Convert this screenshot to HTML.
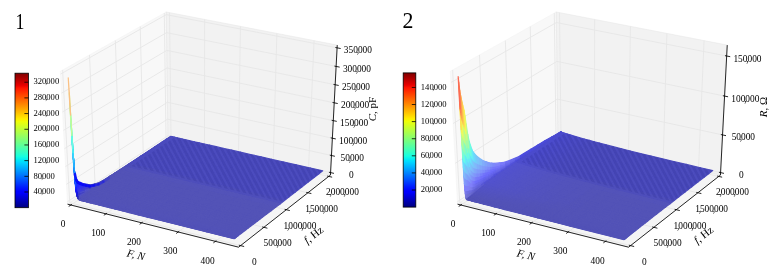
<!DOCTYPE html>
<html><head><meta charset="utf-8"><style>
html,body{margin:0;padding:0;background:#fff;}
svg{display:block;font-family:"Liberation Serif",serif;will-change:transform;}
</style></head><body>
<svg width="777" height="278" viewBox="0 0 777 278">
<defs><linearGradient id="jet" x1="0" y1="0" x2="0" y2="1"><stop offset="0" stop-color="#800000"/><stop offset="0.05" stop-color="#b90000"/><stop offset="0.09" stop-color="#e80000"/><stop offset="0.1" stop-color="#f30900"/><stop offset="0.11" stop-color="#ff1300"/><stop offset="0.15" stop-color="#ff3900"/><stop offset="0.2" stop-color="#ff6800"/><stop offset="0.25" stop-color="#ff9700"/><stop offset="0.3" stop-color="#ffc600"/><stop offset="0.34" stop-color="#ffec00"/><stop offset="0.35" stop-color="#f7f600"/><stop offset="0.36" stop-color="#efff08"/><stop offset="0.4" stop-color="#ceff29"/><stop offset="0.45" stop-color="#a5ff52"/><stop offset="0.5" stop-color="#7bff7b"/><stop offset="0.55" stop-color="#52ffa5"/><stop offset="0.6" stop-color="#29ffce"/><stop offset="0.62" stop-color="#15ffe2"/><stop offset="0.65" stop-color="#00e6f7"/><stop offset="0.65" stop-color="#00e5f7"/><stop offset="0.66" stop-color="#00dbff"/><stop offset="0.7" stop-color="#00b3ff"/><stop offset="0.75" stop-color="#0080ff"/><stop offset="0.8" stop-color="#004dff"/><stop offset="0.85" stop-color="#001aff"/><stop offset="0.88" stop-color="#0000ff"/><stop offset="0.89" stop-color="#0000ff"/><stop offset="0.9" stop-color="#0000f3"/><stop offset="0.95" stop-color="#0000b9"/><stop offset="1" stop-color="#000080"/></linearGradient></defs>
<rect width="777" height="278" fill="#fff"/>
<polygon points="67.59,204.19 167.92,138.16 166.25,11.99 60.33,71.31" fill="#f2f2f2" fill-opacity="0.5" stroke="#f2f2f2" stroke-opacity="0.5" stroke-width="1"/>
<polygon points="167.92,138.16 330.44,175.07 337.24,45.1 166.25,11.99" fill="#e6e6e6" fill-opacity="0.5" stroke="#e6e6e6" stroke-opacity="0.5" stroke-width="1"/>
<polygon points="67.59,204.19 238.59,247.18 330.44,175.07 167.92,138.16" fill="#ececec" fill-opacity="0.5" stroke="#ececec" stroke-opacity="0.5" stroke-width="1"/>
<path d="M70.86,205.01 L171.04,138.87 L169.53,12.62 M105.96,213.83 L204.48,146.46 L204.65,19.42 M141.73,222.83 L238.52,154.19 L240.43,26.35 M178.2,231.99 L273.17,162.06 L276.9,33.41 M215.39,241.35 L308.46,170.08 L314.07,40.61 M62.62,70.03 L69.75,202.77 L240.57,245.62 M89.5,54.98 L95.14,186.06 L263.87,227.33 M115.37,40.49 L119.63,169.94 L286.3,209.72 M140.28,26.54 L143.25,154.4 L307.91,192.76 M164.29,13.09 L166.06,139.39 L328.74,176.41 M330.57,172.6 L167.89,135.75 L67.46,201.66 M331.47,155.51 L167.67,119.14 L66.5,184.22 M332.37,138.19 L167.45,102.3 L65.53,166.53 M333.29,120.63 L167.22,85.24 L64.55,148.58 M334.23,102.81 L166.99,67.95 L63.56,130.37 M335.17,84.75 L166.76,50.42 L62.55,111.89 M336.13,66.42 L166.53,32.65 L61.52,93.14 M337.1,47.83 L166.29,14.64 L60.48,74.11" fill="none" stroke="#e6e6e6" stroke-width="0.9"/>
<path d="M67.59,204.19 L238.59,247.18 M238.59,247.18 L330.44,175.07 M330.44,175.07 L337.24,45.1 M68.7,206.44 L71.9,204.32 M103.83,215.29 L106.97,213.13 M139.64,224.31 L142.73,222.11 M176.14,233.51 L179.18,231.27 M213.37,242.89 L216.35,240.61 M244.15,246.52 L238.86,245.19 M267.41,228.19 L262.18,226.92 M289.79,210.55 L284.63,209.32 M311.35,193.56 L306.26,192.38 M332.14,177.18 L327.11,176.04 M333.97,173.37 L328.95,172.23 M334.89,156.27 L329.83,155.15 M335.82,138.94 L330.72,137.83 M336.76,121.37 L331.63,120.27 M337.72,103.54 L332.55,102.46 M338.69,85.46 L333.48,84.4 M339.68,67.13 L334.43,66.08 M340.68,48.53 L335.39,47.5" fill="none" stroke="#000" stroke-width="0.85"/>
<text x="63.06" y="227.21" font-size="9.4" text-anchor="middle">0</text>
<text x="98.16" y="236.03" font-size="9.4" text-anchor="middle">100</text>
<text x="133.93" y="245.03" font-size="9.4" text-anchor="middle">200</text>
<text x="170.4" y="254.19" font-size="9.4" text-anchor="middle">300</text>
<text x="207.59" y="263.55" font-size="9.4" text-anchor="middle">400</text>
<text x="254.27" y="264.62" font-size="9.4" text-anchor="middle">0</text>
<text x="277.57" y="246.33" font-size="9.4" text-anchor="middle">500<tspan dx="-1.18">,</tspan><tspan dx="-1.18">000</tspan></text>
<text x="300" y="228.72" font-size="9.4" text-anchor="middle">1<tspan dx="-1.18">,</tspan><tspan dx="-1.18">000</tspan><tspan dx="-1.18">,</tspan><tspan dx="-1.18">000</tspan></text>
<text x="321.61" y="211.76" font-size="9.4" text-anchor="middle">1<tspan dx="-1.18">,</tspan><tspan dx="-1.18">500</tspan><tspan dx="-1.18">,</tspan><tspan dx="-1.18">000</tspan></text>
<text x="342.44" y="195.41" font-size="9.4" text-anchor="middle">2<tspan dx="-1.18">,</tspan><tspan dx="-1.18">000</tspan><tspan dx="-1.18">,</tspan><tspan dx="-1.18">000</tspan></text>
<text x="351.37" y="178.1" font-size="9.4" text-anchor="middle">0</text>
<text x="352.27" y="161.01" font-size="9.4" text-anchor="middle">50<tspan dx="-1.18">,</tspan><tspan dx="-1.18">000</tspan></text>
<text x="353.17" y="143.69" font-size="9.4" text-anchor="middle">100<tspan dx="-1.18">,</tspan><tspan dx="-1.18">000</tspan></text>
<text x="354.09" y="126.13" font-size="9.4" text-anchor="middle">150<tspan dx="-1.18">,</tspan><tspan dx="-1.18">000</tspan></text>
<text x="355.03" y="108.31" font-size="9.4" text-anchor="middle">200<tspan dx="-1.18">,</tspan><tspan dx="-1.18">000</tspan></text>
<text x="355.97" y="90.25" font-size="9.4" text-anchor="middle">250<tspan dx="-1.18">,</tspan><tspan dx="-1.18">000</tspan></text>
<text x="356.93" y="71.92" font-size="9.4" text-anchor="middle">300<tspan dx="-1.18">,</tspan><tspan dx="-1.18">000</tspan></text>
<text x="357.9" y="53.33" font-size="9.4" text-anchor="middle">350<tspan dx="-1.18">,</tspan><tspan dx="-1.18">000</tspan></text>
<g stroke-width="1.2" stroke-linejoin="round">
<polygon points="166.29,139.37 166.46,139.41 170.95,136.45 170.79,136.41" fill="#4c4cbe" stroke="#4c4cbe"/>
<polygon points="166.46,139.41 166.63,139.44 171.12,136.49 170.95,136.45" fill="#4c4cbe" stroke="#4c4cbe"/>
<polygon points="166.63,139.44 166.79,139.48 171.29,136.52 171.12,136.49" fill="#4c4cbe" stroke="#4c4cbe"/>
<polygon points="166.79,139.48 166.96,139.52 171.45,136.56 171.29,136.52" fill="#4c4cbe" stroke="#4c4cbe"/>
<polygon points="166.96,139.52 167.13,139.56 171.62,136.6 171.45,136.56" fill="#4c4cbe" stroke="#4c4cbe"/>
<polygon points="167.13,139.56 167.29,139.6 171.79,136.64 171.62,136.6" fill="#4c4cbe" stroke="#4c4cbe"/>
<polygon points="167.29,139.6 167.63,139.67 172.12,136.71 171.79,136.64" fill="#4c4cbe" stroke="#4c4cbe"/>
<polygon points="167.63,139.67 167.96,139.75 172.45,136.79 172.12,136.71" fill="#4c4cbe" stroke="#4c4cbe"/>
<polygon points="167.96,139.75 168.29,139.82 172.79,136.86 172.45,136.79" fill="#4c4cbe" stroke="#4c4cbe"/>
<polygon points="168.29,139.82 168.8,139.94 173.28,136.98 172.79,136.86" fill="#4c4cbe" stroke="#4c4cbe"/>
<polygon points="168.8,139.94 169.63,140.13 174.12,137.16 173.28,136.98" fill="#4c4cbe" stroke="#4c4cbe"/>
<polygon points="169.63,140.13 170.46,140.32 174.95,137.35 174.12,137.16" fill="#4c4cbe" stroke="#4c4cbe"/>
<polygon points="170.46,140.32 171.3,140.51 175.78,137.54 174.95,137.35" fill="#4c4cbe" stroke="#4c4cbe"/>
<polygon points="171.3,140.51 172.97,140.89 177.45,137.92 175.78,137.54" fill="#4c4cbe" stroke="#4c4cbe"/>
<polygon points="172.97,140.89 174.65,141.27 179.12,138.3 177.45,137.92" fill="#4c4cbe" stroke="#4c4cbe"/>
<polygon points="174.65,141.27 176.32,141.65 180.79,138.68 179.12,138.3" fill="#4c4cbe" stroke="#4c4cbe"/>
<polygon points="176.32,141.65 178,142.03 182.46,139.05 180.79,138.68" fill="#4c4cbe" stroke="#4c4cbe"/>
<polygon points="161.77,142.35 161.93,142.39 166.46,139.41 166.29,139.37" fill="#4c4cbe" stroke="#4c4cbe"/>
<polygon points="161.93,142.39 162.1,142.42 166.63,139.44 166.46,139.41" fill="#4c4cbe" stroke="#4c4cbe"/>
<polygon points="162.1,142.42 162.27,142.46 166.79,139.48 166.63,139.44" fill="#4c4cbe" stroke="#4c4cbe"/>
<polygon points="162.27,142.46 162.44,142.5 166.96,139.52 166.79,139.48" fill="#4c4cbe" stroke="#4c4cbe"/>
<polygon points="162.44,142.5 162.6,142.54 167.13,139.56 166.96,139.52" fill="#4c4cbe" stroke="#4c4cbe"/>
<polygon points="178,142.03 181.35,142.8 185.81,139.81 182.46,139.05" fill="#4c4cbe" stroke="#4c4cbe"/>
<polygon points="162.6,142.54 162.77,142.58 167.29,139.6 167.13,139.56" fill="#4c4cbe" stroke="#4c4cbe"/>
<polygon points="162.77,142.58 163.1,142.65 167.63,139.67 167.29,139.6" fill="#4c4cbe" stroke="#4c4cbe"/>
<polygon points="163.1,142.65 163.44,142.73 167.96,139.75 167.63,139.67" fill="#4c4cbe" stroke="#4c4cbe"/>
<polygon points="163.44,142.73 163.77,142.81 168.29,139.82 167.96,139.75" fill="#4c4cbe" stroke="#4c4cbe"/>
<polygon points="163.77,142.81 164.27,142.92 168.8,139.94 168.29,139.82" fill="#4c4cbe" stroke="#4c4cbe"/>
<polygon points="164.27,142.92 165.11,143.11 169.63,140.13 168.8,139.94" fill="#4c4cbe" stroke="#4c4cbe"/>
<polygon points="165.11,143.11 165.95,143.3 170.46,140.32 169.63,140.13" fill="#4c4cbe" stroke="#4c4cbe"/>
<polygon points="181.35,142.8 184.72,143.56 189.17,140.57 185.81,139.81" fill="#4c4cbe" stroke="#4c4cbe"/>
<polygon points="165.95,143.3 166.79,143.5 171.3,140.51 170.46,140.32" fill="#4c4cbe" stroke="#4c4cbe"/>
<polygon points="166.79,143.5 168.46,143.88 172.97,140.89 171.3,140.51" fill="#4c4cbe" stroke="#4c4cbe"/>
<polygon points="168.46,143.88 170.14,144.26 174.65,141.27 172.97,140.89" fill="#4c4cbe" stroke="#4c4cbe"/>
<polygon points="184.72,143.56 189.77,144.71 194.21,141.72 189.17,140.57" fill="#4c4cbe" stroke="#4c4cbe"/>
<polygon points="170.14,144.26 171.82,144.65 176.32,141.65 174.65,141.27" fill="#4c4cbe" stroke="#4c4cbe"/>
<polygon points="171.82,144.65 173.5,145.03 178,142.03 176.32,141.65" fill="#4c4cbe" stroke="#4c4cbe"/>
<polygon points="189.77,144.71 194.84,145.86 199.27,142.86 194.21,141.72" fill="#4c4cbe" stroke="#4c4cbe"/>
<polygon points="173.5,145.03 176.86,145.8 181.35,142.8 178,142.03" fill="#4c4cbe" stroke="#4c4cbe"/>
<polygon points="154.92,146.86 155.09,146.89 161.93,142.39 161.77,142.35" fill="#4c4cbe" stroke="#4c4cbe"/>
<polygon points="155.09,146.89 155.25,146.93 162.1,142.42 161.93,142.39" fill="#4c4cbe" stroke="#4c4cbe"/>
<polygon points="155.25,146.93 155.42,146.97 162.27,142.46 162.1,142.42" fill="#4c4cbe" stroke="#4c4cbe"/>
<polygon points="155.42,146.97 155.59,147.01 162.44,142.5 162.27,142.46" fill="#4c4cbe" stroke="#4c4cbe"/>
<polygon points="155.59,147.01 155.76,147.05 162.6,142.54 162.44,142.5" fill="#4c4cbe" stroke="#4c4cbe"/>
<polygon points="155.76,147.05 155.92,147.09 162.77,142.58 162.6,142.54" fill="#4c4cbe" stroke="#4c4cbe"/>
<polygon points="176.86,145.8 180.23,146.57 184.72,143.56 181.35,142.8" fill="#4c4cbe" stroke="#4c4cbe"/>
<polygon points="155.92,147.09 156.26,147.16 163.1,142.65 162.77,142.58" fill="#4c4cbe" stroke="#4c4cbe"/>
<polygon points="156.26,147.16 156.6,147.24 163.44,142.73 163.1,142.65" fill="#4c4cbe" stroke="#4c4cbe"/>
<polygon points="156.6,147.24 156.93,147.32 163.77,142.81 163.44,142.73" fill="#4c4cbe" stroke="#4c4cbe"/>
<polygon points="156.93,147.32 157.43,147.44 164.27,142.92 163.77,142.81" fill="#4c4cbe" stroke="#4c4cbe"/>
<polygon points="194.84,145.86 199.92,147.02 204.34,144.01 199.27,142.86" fill="#4c4cbe" stroke="#4c4cbe"/>
<polygon points="157.43,147.44 158.27,147.63 165.11,143.11 164.27,142.92" fill="#4c4cbe" stroke="#4c4cbe"/>
<polygon points="158.27,147.63 159.11,147.82 165.95,143.3 165.11,143.11" fill="#4c4cbe" stroke="#4c4cbe"/>
<polygon points="159.11,147.82 159.95,148.02 166.79,143.5 165.95,143.3" fill="#4c4cbe" stroke="#4c4cbe"/>
<polygon points="180.23,146.57 185.3,147.73 189.77,144.71 184.72,143.56" fill="#4c4cbe" stroke="#4c4cbe"/>
<polygon points="159.95,148.02 161.64,148.4 168.46,143.88 166.79,143.5" fill="#4c4cbe" stroke="#4c4cbe"/>
<polygon points="199.92,147.02 205.02,148.18 209.43,145.16 204.34,144.01" fill="#4c4cbe" stroke="#4c4cbe"/>
<polygon points="161.64,148.4 163.32,148.79 170.14,144.26 168.46,143.88" fill="#4c4cbe" stroke="#4c4cbe"/>
<polygon points="163.32,148.79 165,149.18 171.82,144.65 170.14,144.26" fill="#4c4cbe" stroke="#4c4cbe"/>
<polygon points="185.3,147.73 190.38,148.89 194.84,145.86 189.77,144.71" fill="#4c4cbe" stroke="#4c4cbe"/>
<polygon points="165,149.18 166.69,149.57 173.5,145.03 171.82,144.65" fill="#4c4cbe" stroke="#4c4cbe"/>
<polygon points="205.02,148.18 211.84,149.73 216.23,146.7 209.43,145.16" fill="#4c4cbe" stroke="#4c4cbe"/>
<polygon points="166.69,149.57 170.06,150.34 176.86,145.8 173.5,145.03" fill="#4c4cbe" stroke="#4c4cbe"/>
<polygon points="190.38,148.89 195.48,150.05 199.92,147.02 194.84,145.86" fill="#4c4cbe" stroke="#4c4cbe"/>
<polygon points="170.06,150.34 173.45,151.12 180.23,146.57 176.86,145.8" fill="#4c4cbe" stroke="#4c4cbe"/>
<polygon points="148,151.41 148.17,151.45 155.09,146.89 154.92,146.86" fill="#4c4cbe" stroke="#4c4cbe"/>
<polygon points="148.17,151.45 148.33,151.49 155.25,146.93 155.09,146.89" fill="#4c4cbe" stroke="#4c4cbe"/>
<polygon points="148.33,151.49 148.5,151.53 155.42,146.97 155.25,146.93" fill="#4c4cbe" stroke="#4c4cbe"/>
<polygon points="211.84,149.73 218.68,151.29 223.05,148.25 216.23,146.7" fill="#4c4cbe" stroke="#4c4cbe"/>
<polygon points="148.5,151.53 148.67,151.57 155.59,147.01 155.42,146.97" fill="#4c4cbe" stroke="#4c4cbe"/>
<polygon points="148.67,151.57 148.84,151.61 155.76,147.05 155.59,147.01" fill="#4c4cbe" stroke="#4c4cbe"/>
<polygon points="148.84,151.61 149.01,151.65 155.92,147.09 155.76,147.05" fill="#4c4cbe" stroke="#4c4cbe"/>
<polygon points="149.01,151.65 149.34,151.72 156.26,147.16 155.92,147.09" fill="#4c4cbe" stroke="#4c4cbe"/>
<polygon points="195.48,150.05 200.58,151.22 205.02,148.18 199.92,147.02" fill="#4c4cbe" stroke="#4c4cbe"/>
<polygon points="149.34,151.72 149.68,151.8 156.6,147.24 156.26,147.16" fill="#4c4cbe" stroke="#4c4cbe"/>
<polygon points="149.68,151.8 150.02,151.88 156.93,147.32 156.6,147.24" fill="#4c4cbe" stroke="#4c4cbe"/>
<polygon points="173.45,151.12 178.53,152.29 185.3,147.73 180.23,146.57" fill="#4c4cbe" stroke="#4c4cbe"/>
<polygon points="150.02,151.88 150.52,152 157.43,147.44 156.93,147.32" fill="#4c4cbe" stroke="#4c4cbe"/>
<polygon points="150.52,152 151.36,152.19 158.27,147.63 157.43,147.44" fill="#4c4cbe" stroke="#4c4cbe"/>
<polygon points="151.36,152.19 152.21,152.39 159.11,147.82 158.27,147.63" fill="#4c4cbe" stroke="#4c4cbe"/>
<polygon points="152.21,152.39 153.05,152.58 159.95,148.02 159.11,147.82" fill="#4c4cbe" stroke="#4c4cbe"/>
<polygon points="153.05,152.58 154.74,152.97 161.64,148.4 159.95,148.02" fill="#4c4cbe" stroke="#4c4cbe"/>
<polygon points="200.58,151.22 207.42,152.78 211.84,149.73 205.02,148.18" fill="#4c4cbe" stroke="#4c4cbe"/>
<polygon points="178.53,152.29 183.63,153.47 190.38,148.89 185.3,147.73" fill="#4c4cbe" stroke="#4c4cbe"/>
<polygon points="154.74,152.97 156.43,153.37 163.32,148.79 161.64,148.4" fill="#4c4cbe" stroke="#4c4cbe"/>
<polygon points="218.68,151.29 227.27,153.24 231.62,150.19 223.05,148.25" fill="#4c4cbe" stroke="#4c4cbe"/>
<polygon points="156.43,153.37 158.12,153.76 165,149.18 163.32,148.79" fill="#4c4cbe" stroke="#4c4cbe"/>
<polygon points="158.12,153.76 159.81,154.15 166.69,149.57 165,149.18" fill="#4c4cbe" stroke="#4c4cbe"/>
<polygon points="183.63,153.47 188.74,154.64 195.48,150.05 190.38,148.89" fill="#4c4cbe" stroke="#4c4cbe"/>
<polygon points="207.42,152.78 214.28,154.35 218.68,151.29 211.84,149.73" fill="#4c4cbe" stroke="#4c4cbe"/>
<polygon points="159.81,154.15 163.2,154.94 170.06,150.34 166.69,149.57" fill="#4c4cbe" stroke="#4c4cbe"/>
<polygon points="227.27,153.24 235.89,155.21 240.22,152.14 231.62,150.19" fill="#4c4cbe" stroke="#4c4cbe"/>
<polygon points="163.2,154.94 166.59,155.72 173.45,151.12 170.06,150.34" fill="#4c4cbe" stroke="#4c4cbe"/>
<polygon points="188.74,154.64 193.87,155.82 200.58,151.22 195.48,150.05" fill="#4c4cbe" stroke="#4c4cbe"/>
<polygon points="141,156.02 141.17,156.06 148.17,151.45 148,151.41" fill="#4c4cbe" stroke="#4c4cbe"/>
<polygon points="141.17,156.06 141.34,156.09 148.33,151.49 148.17,151.45" fill="#4c4cbe" stroke="#4c4cbe"/>
<polygon points="141.34,156.09 141.51,156.13 148.5,151.53 148.33,151.49" fill="#4c4cbe" stroke="#4c4cbe"/>
<polygon points="141.51,156.13 141.68,156.17 148.67,151.57 148.5,151.53" fill="#4c4cbe" stroke="#4c4cbe"/>
<polygon points="141.68,156.17 141.85,156.21 148.84,151.61 148.67,151.57" fill="#4c4cbe" stroke="#4c4cbe"/>
<polygon points="141.85,156.21 142.02,156.25 149.01,151.65 148.84,151.61" fill="#4c4cbe" stroke="#4c4cbe"/>
<polygon points="142.02,156.25 142.35,156.33 149.34,151.72 149.01,151.65" fill="#4c4cbe" stroke="#4c4cbe"/>
<polygon points="142.35,156.33 142.69,156.41 149.68,151.8 149.34,151.72" fill="#4c4cbe" stroke="#4c4cbe"/>
<polygon points="214.28,154.35 222.88,156.32 227.27,153.24 218.68,151.29" fill="#4c4cbe" stroke="#4c4cbe"/>
<polygon points="142.69,156.41 143.03,156.49 150.02,151.88 149.68,151.8" fill="#4c4cbe" stroke="#4c4cbe"/>
<polygon points="143.03,156.49 143.54,156.61 150.52,152 150.02,151.88" fill="#4c4cbe" stroke="#4c4cbe"/>
<polygon points="166.59,155.72 171.69,156.91 178.53,152.29 173.45,151.12" fill="#4c4cbe" stroke="#4c4cbe"/>
<polygon points="143.54,156.61 144.38,156.8 151.36,152.19 150.52,152" fill="#4c4cbe" stroke="#4c4cbe"/>
<polygon points="144.38,156.8 145.23,157 152.21,152.39 151.36,152.19" fill="#4c4cbe" stroke="#4c4cbe"/>
<polygon points="193.87,155.82 200.73,157.4 207.42,152.78 200.58,151.22" fill="#4c4cbe" stroke="#4c4cbe"/>
<polygon points="145.23,157 146.07,157.2 153.05,152.58 152.21,152.39" fill="#4c4cbe" stroke="#4c4cbe"/>
<polygon points="235.89,155.21 246.29,157.57 250.6,154.49 240.22,152.14" fill="#4c4cbe" stroke="#4c4cbe"/>
<polygon points="146.07,157.2 147.77,157.6 154.74,152.97 153.05,152.58" fill="#4c4cbe" stroke="#4c4cbe"/>
<polygon points="171.69,156.91 176.81,158.09 183.63,153.47 178.53,152.29" fill="#4c4cbe" stroke="#4c4cbe"/>
<polygon points="147.77,157.6 149.46,157.99 156.43,153.37 154.74,152.97" fill="#4c4cbe" stroke="#4c4cbe"/>
<polygon points="149.46,157.99 151.16,158.39 158.12,153.76 156.43,153.37" fill="#4c4cbe" stroke="#4c4cbe"/>
<polygon points="222.88,156.32 231.53,158.3 235.89,155.21 227.27,153.24" fill="#4c4cbe" stroke="#4c4cbe"/>
<polygon points="200.73,157.4 207.61,158.99 214.28,154.35 207.42,152.78" fill="#4c4cbe" stroke="#4c4cbe"/>
<polygon points="151.16,158.39 152.85,158.78 159.81,154.15 158.12,153.76" fill="#4c4cbe" stroke="#4c4cbe"/>
<polygon points="176.81,158.09 181.94,159.28 188.74,154.64 183.63,153.47" fill="#4c4cbe" stroke="#4c4cbe"/>
<polygon points="152.85,158.78 156.25,159.58 163.2,154.94 159.81,154.15" fill="#4c4cbe" stroke="#4c4cbe"/>
<polygon points="246.29,157.57 256.75,159.95 261.04,156.85 250.6,154.49" fill="#4c4cbe" stroke="#4c4cbe"/>
<polygon points="156.25,159.58 159.66,160.37 166.59,155.72 163.2,154.94" fill="#4c4cbe" stroke="#4c4cbe"/>
<polygon points="181.94,159.28 187.09,160.48 193.87,155.82 188.74,154.64" fill="#4c4cbe" stroke="#4c4cbe"/>
<polygon points="207.61,158.99 216.25,160.98 222.88,156.32 214.28,154.35" fill="#4c4cbe" stroke="#4c4cbe"/>
<polygon points="231.53,158.3 241.96,160.68 246.29,157.57 235.89,155.21" fill="#4c4cbe" stroke="#4c4cbe"/>
<polygon points="133.93,160.67 134.1,160.71 141.17,156.06 141,156.02" fill="#4c4cbe" stroke="#4c4cbe"/>
<polygon points="134.1,160.71 134.27,160.75 141.34,156.09 141.17,156.06" fill="#4c4cbe" stroke="#4c4cbe"/>
<polygon points="134.27,160.75 134.44,160.79 141.51,156.13 141.34,156.09" fill="#4c4cbe" stroke="#4c4cbe"/>
<polygon points="134.44,160.79 134.61,160.83 141.68,156.17 141.51,156.13" fill="#4c4cbe" stroke="#4c4cbe"/>
<polygon points="134.61,160.83 134.78,160.87 141.85,156.21 141.68,156.17" fill="#4c4cbe" stroke="#4c4cbe"/>
<polygon points="134.78,160.87 134.95,160.91 142.02,156.25 141.85,156.21" fill="#4c4cbe" stroke="#4c4cbe"/>
<polygon points="134.95,160.91 135.29,160.99 142.35,156.33 142.02,156.25" fill="#4c4cbe" stroke="#4c4cbe"/>
<polygon points="135.29,160.99 135.63,161.07 142.69,156.41 142.35,156.33" fill="#4c4cbe" stroke="#4c4cbe"/>
<polygon points="135.63,161.07 135.97,161.15 143.03,156.49 142.69,156.41" fill="#4c4cbe" stroke="#4c4cbe"/>
<polygon points="135.97,161.15 136.47,161.27 143.54,156.61 143.03,156.49" fill="#4c4cbe" stroke="#4c4cbe"/>
<polygon points="159.66,160.37 164.78,161.57 171.69,156.91 166.59,155.72" fill="#4c4cbe" stroke="#4c4cbe"/>
<polygon points="136.47,161.27 137.32,161.47 144.38,156.8 143.54,156.61" fill="#4c4cbe" stroke="#4c4cbe"/>
<polygon points="137.32,161.47 138.17,161.67 145.23,157 144.38,156.8" fill="#4c4cbe" stroke="#4c4cbe"/>
<polygon points="187.09,160.48 193.97,162.07 200.73,157.4 193.87,155.82" fill="#4c4cbe" stroke="#4c4cbe"/>
<polygon points="138.17,161.67 139.02,161.87 146.07,157.2 145.23,157" fill="#4c4cbe" stroke="#4c4cbe"/>
<polygon points="256.75,159.95 267.27,162.35 271.53,159.23 261.04,156.85" fill="#4c4cbe" stroke="#4c4cbe"/>
<polygon points="139.02,161.87 140.72,162.27 147.77,157.6 146.07,157.2" fill="#4c4cbe" stroke="#4c4cbe"/>
<polygon points="216.25,160.98 224.93,162.97 231.53,158.3 222.88,156.32" fill="#4c4cbe" stroke="#4c4cbe"/>
<polygon points="164.78,161.57 169.92,162.77 176.81,158.09 171.69,156.91" fill="#4c4cbe" stroke="#4c4cbe"/>
<polygon points="140.72,162.27 142.42,162.67 149.46,157.99 147.77,157.6" fill="#4c4cbe" stroke="#4c4cbe"/>
<polygon points="241.96,160.68 252.44,163.08 256.75,159.95 246.29,157.57" fill="#4c4cbe" stroke="#4c4cbe"/>
<polygon points="142.42,162.67 144.12,163.07 151.16,158.39 149.46,157.99" fill="#4c4cbe" stroke="#4c4cbe"/>
<polygon points="193.97,162.07 200.87,163.67 207.61,158.99 200.73,157.4" fill="#4c4cbe" stroke="#4c4cbe"/>
<polygon points="144.12,163.07 145.83,163.47 152.85,158.78 151.16,158.39" fill="#4c4cbe" stroke="#4c4cbe"/>
<polygon points="169.92,162.77 175.06,163.97 181.94,159.28 176.81,158.09" fill="#4c4cbe" stroke="#4c4cbe"/>
<polygon points="145.83,163.47 149.24,164.27 156.25,159.58 152.85,158.78" fill="#4c4cbe" stroke="#4c4cbe"/>
<polygon points="267.27,162.35 279.61,165.15 283.84,162.01 271.53,159.23" fill="#4c4cbe" stroke="#4c4cbe"/>
<polygon points="129.18,163.8 129.35,163.84 134.1,160.71 133.93,160.67" fill="#4c4cbe" stroke="#4c4cbe"/>
<polygon points="224.93,162.97 235.39,165.38 241.96,160.68 231.53,158.3" fill="#4c4cbe" stroke="#4c4cbe"/>
<polygon points="129.35,163.84 129.52,163.88 134.27,160.75 134.1,160.71" fill="#4c4cbe" stroke="#4c4cbe"/>
<polygon points="129.52,163.88 129.69,163.92 134.44,160.79 134.27,160.75" fill="#4c4cbe" stroke="#4c4cbe"/>
<polygon points="129.69,163.92 129.86,163.96 134.61,160.83 134.44,160.79" fill="#4c4cbe" stroke="#4c4cbe"/>
<polygon points="129.86,163.96 130.03,164 134.78,160.87 134.61,160.83" fill="#4c4cbe" stroke="#4c4cbe"/>
<polygon points="130.03,164 130.2,164.04 134.95,160.91 134.78,160.87" fill="#4c4cbe" stroke="#4c4cbe"/>
<polygon points="130.2,164.04 130.54,164.12 135.29,160.99 134.95,160.91" fill="#4c4cbe" stroke="#4c4cbe"/>
<polygon points="130.54,164.12 130.88,164.2 135.63,161.07 135.29,160.99" fill="#4c4cbe" stroke="#4c4cbe"/>
<polygon points="149.24,164.27 152.65,165.07 159.66,160.37 156.25,159.58" fill="#4c4cbe" stroke="#4c4cbe"/>
<polygon points="130.88,164.2 131.22,164.28 135.97,161.15 135.63,161.07" fill="#4c4cbe" stroke="#4c4cbe"/>
<polygon points="175.06,163.97 180.23,165.18 187.09,160.48 181.94,159.28" fill="#4c4cbe" stroke="#4c4cbe"/>
<polygon points="131.22,164.28 131.73,164.4 136.47,161.27 135.97,161.15" fill="#4c4cbe" stroke="#4c4cbe"/>
<polygon points="252.44,163.08 262.98,165.49 267.27,162.35 256.75,159.95" fill="#4c4cbe" stroke="#4c4cbe"/>
<polygon points="200.87,163.67 209.54,165.68 216.25,160.98 207.61,158.99" fill="#4c4cbe" stroke="#4c4cbe"/>
<polygon points="131.73,164.4 132.58,164.6 137.32,161.47 136.47,161.27" fill="#4c4cbe" stroke="#4c4cbe"/>
<polygon points="132.58,164.6 133.43,164.8 138.17,161.67 137.32,161.47" fill="#4c4cbe" stroke="#4c4cbe"/>
<polygon points="133.43,164.8 134.28,165 139.02,161.87 138.17,161.67" fill="#4c4cbe" stroke="#4c4cbe"/>
<polygon points="152.65,165.07 157.79,166.28 164.78,161.57 159.66,160.37" fill="#4c4cbe" stroke="#4c4cbe"/>
<polygon points="134.28,165 135.98,165.41 140.72,162.27 139.02,161.87" fill="#4c4cbe" stroke="#4c4cbe"/>
<polygon points="135.98,165.41 137.68,165.81 142.42,162.67 140.72,162.27" fill="#4c4cbe" stroke="#4c4cbe"/>
<polygon points="180.23,165.18 187.13,166.79 193.97,162.07 187.09,160.48" fill="#4c4cbe" stroke="#4c4cbe"/>
<polygon points="137.68,165.81 139.39,166.21 144.12,163.07 142.42,162.67" fill="#4c4cbe" stroke="#4c4cbe"/>
<polygon points="235.39,165.38 245.91,167.81 252.44,163.08 241.96,160.68" fill="#4c4cbe" stroke="#4c4cbe"/>
<polygon points="279.61,165.15 292.03,167.98 296.23,164.82 283.84,162.01" fill="#4c4cbe" stroke="#4c4cbe"/>
<polygon points="209.54,165.68 218.25,167.7 224.93,162.97 216.25,160.98" fill="#4c4cbe" stroke="#4c4cbe"/>
<polygon points="157.79,166.28 162.95,167.49 169.92,162.77 164.78,161.57" fill="#4c4cbe" stroke="#4c4cbe"/>
<polygon points="139.39,166.21 141.1,166.62 145.83,163.47 144.12,163.07" fill="#4c4cbe" stroke="#4c4cbe"/>
<polygon points="262.98,165.49 275.35,168.32 279.61,165.15 267.27,162.35" fill="#4c4cbe" stroke="#4c4cbe"/>
<polygon points="124.39,166.95 124.56,166.99 129.35,163.84 129.18,163.8" fill="#4e4ebb" stroke="#4e4ebb"/>
<polygon points="124.56,166.99 124.73,167.03 129.52,163.88 129.35,163.84" fill="#4e4ebb" stroke="#4e4ebb"/>
<polygon points="124.73,167.03 124.9,167.07 129.69,163.92 129.52,163.88" fill="#4e4ebb" stroke="#4e4ebb"/>
<polygon points="124.9,167.07 125.07,167.11 129.86,163.96 129.69,163.92" fill="#4e4ebb" stroke="#4e4ebb"/>
<polygon points="125.07,167.11 125.24,167.15 130.03,164 129.86,163.96" fill="#4e4ebb" stroke="#4e4ebb"/>
<polygon points="125.24,167.15 125.41,167.19 130.2,164.04 130.03,164" fill="#4e4ebb" stroke="#4e4ebb"/>
<polygon points="125.41,167.19 125.75,167.27 130.54,164.12 130.2,164.04" fill="#4e4ebb" stroke="#4e4ebb"/>
<polygon points="141.1,166.62 144.52,167.43 149.24,164.27 145.83,163.47" fill="#4c4cbe" stroke="#4c4cbe"/>
<polygon points="125.75,167.27 126.09,167.36 130.88,164.2 130.54,164.12" fill="#4e4ebb" stroke="#4e4ebb"/>
<polygon points="126.09,167.36 126.43,167.44 131.22,164.28 130.88,164.2" fill="#4e4ebb" stroke="#4e4ebb"/>
<polygon points="187.13,166.79 194.06,168.41 200.87,163.67 193.97,162.07" fill="#4c4cbe" stroke="#4c4cbe"/>
<polygon points="126.43,167.44 126.94,167.56 131.73,164.4 131.22,164.28" fill="#4e4ebb" stroke="#4e4ebb"/>
<polygon points="126.94,167.56 127.79,167.76 132.58,164.6 131.73,164.4" fill="#4e4ebb" stroke="#4e4ebb"/>
<polygon points="162.95,167.49 168.11,168.71 175.06,163.97 169.92,162.77" fill="#4c4cbe" stroke="#4c4cbe"/>
<polygon points="127.79,167.76 128.65,167.96 133.43,164.8 132.58,164.6" fill="#4e4ebb" stroke="#4e4ebb"/>
<polygon points="128.65,167.96 129.5,168.17 134.28,165 133.43,164.8" fill="#4e4ebb" stroke="#4e4ebb"/>
<polygon points="144.52,167.43 147.94,168.24 152.65,165.07 149.24,164.27" fill="#4c4cbe" stroke="#4c4cbe"/>
<polygon points="129.5,168.17 131.21,168.57 135.98,165.41 134.28,165" fill="#4e4ebb" stroke="#4e4ebb"/>
<polygon points="245.91,167.81 256.49,170.24 262.98,165.49 252.44,163.08" fill="#4c4cbe" stroke="#4c4cbe"/>
<polygon points="218.25,167.7 228.75,170.14 235.39,165.38 224.93,162.97" fill="#4c4cbe" stroke="#4c4cbe"/>
<polygon points="131.21,168.57 132.91,168.98 137.68,165.81 135.98,165.41" fill="#4e4ebb" stroke="#4e4ebb"/>
<polygon points="292.03,167.98 306.33,171.23 310.48,168.05 296.23,164.82" fill="#4c4cbe" stroke="#4c4cbe"/>
<polygon points="168.11,168.71 173.29,169.93 180.23,165.18 175.06,163.97" fill="#4c4cbe" stroke="#4c4cbe"/>
<polygon points="147.94,168.24 153.09,169.45 157.79,166.28 152.65,165.07" fill="#4c4cbe" stroke="#4c4cbe"/>
<polygon points="194.06,168.41 202.76,170.44 209.54,165.68 200.87,163.67" fill="#4c4cbe" stroke="#4c4cbe"/>
<polygon points="132.91,168.98 134.62,169.38 139.39,166.21 137.68,165.81" fill="#4e4ebb" stroke="#4e4ebb"/>
<polygon points="275.35,168.32 287.81,171.16 292.03,167.98 279.61,165.15" fill="#4c4cbe" stroke="#4c4cbe"/>
<polygon points="134.62,169.38 136.34,169.79 141.1,166.62 139.39,166.21" fill="#4e4ebb" stroke="#4e4ebb"/>
<polygon points="119.56,170.04 119.73,170.08 124.56,166.99 124.39,166.95" fill="#5353b9" stroke="#5353b9"/>
<polygon points="119.73,170.08 119.9,170.12 124.73,167.03 124.56,166.99" fill="#5353b9" stroke="#5353b9"/>
<polygon points="119.9,170.12 120.07,170.16 124.9,167.07 124.73,167.03" fill="#5353b9" stroke="#5353b9"/>
<polygon points="120.07,170.16 120.24,170.2 125.07,167.11 124.9,167.07" fill="#5353b9" stroke="#5353b9"/>
<polygon points="120.24,170.2 120.41,170.25 125.24,167.15 125.07,167.11" fill="#5353b9" stroke="#5353b9"/>
<polygon points="120.41,170.25 120.59,170.29 125.41,167.19 125.24,167.15" fill="#5353b9" stroke="#5353b9"/>
<polygon points="120.59,170.29 120.93,170.37 125.75,167.27 125.41,167.19" fill="#5353b9" stroke="#5353b9"/>
<polygon points="136.34,169.79 139.76,170.6 144.52,167.43 141.1,166.62" fill="#4e4ebb" stroke="#4e4ebb"/>
<polygon points="120.93,170.37 121.27,170.45 126.09,167.36 125.75,167.27" fill="#5353b9" stroke="#5353b9"/>
<polygon points="153.09,169.45 158.26,170.67 162.95,167.49 157.79,166.28" fill="#4c4cbe" stroke="#4c4cbe"/>
<polygon points="121.27,170.45 121.61,170.53 126.43,167.44 126.09,167.36" fill="#5353b9" stroke="#5353b9"/>
<polygon points="173.29,169.93 180.23,171.56 187.13,166.79 180.23,165.18" fill="#4c4cbe" stroke="#4c4cbe"/>
<polygon points="121.61,170.53 122.12,170.65 126.94,167.56 126.43,167.44" fill="#5353b9" stroke="#5353b9"/>
<polygon points="122.12,170.65 122.98,170.86 127.79,167.76 126.94,167.56" fill="#5353b9" stroke="#5353b9"/>
<polygon points="256.49,170.24 268.91,173.1 275.35,168.32 262.98,165.49" fill="#4c4cbe" stroke="#4c4cbe"/>
<polygon points="122.98,170.86 123.83,171.06 128.65,167.96 127.79,167.76" fill="#5353b9" stroke="#5353b9"/>
<polygon points="228.75,170.14 239.32,172.59 245.91,167.81 235.39,165.38" fill="#4c4cbe" stroke="#4c4cbe"/>
<polygon points="123.83,171.06 124.68,171.26 129.5,168.17 128.65,167.96" fill="#5353b9" stroke="#5353b9"/>
<polygon points="139.76,170.6 143.2,171.42 147.94,168.24 144.52,167.43" fill="#4e4ebb" stroke="#4e4ebb"/>
<polygon points="202.76,170.44 211.5,172.48 218.25,167.7 209.54,165.68" fill="#4c4cbe" stroke="#4c4cbe"/>
<polygon points="124.68,171.26 126.4,171.67 131.21,168.57 129.5,168.17" fill="#5353b9" stroke="#5353b9"/>
<polygon points="306.33,171.23 318.56,174.02 322.69,170.81 310.48,168.05" fill="#4c4cbe" stroke="#4c4cbe"/>
<polygon points="158.26,170.67 163.44,171.9 168.11,168.71 162.95,167.49" fill="#4c4cbe" stroke="#4c4cbe"/>
<polygon points="126.4,171.67 128.11,172.08 132.91,168.98 131.21,168.57" fill="#5353b9" stroke="#5353b9"/>
<polygon points="180.23,171.56 187.18,173.2 194.06,168.41 187.13,166.79" fill="#4c4cbe" stroke="#4c4cbe"/>
<polygon points="287.81,171.16 302.14,174.44 306.33,171.23 292.03,167.98" fill="#4c4cbe" stroke="#4c4cbe"/>
<polygon points="143.2,171.42 148.36,172.65 153.09,169.45 147.94,168.24" fill="#4e4ebb" stroke="#4e4ebb"/>
<polygon points="128.11,172.08 129.82,172.49 134.62,169.38 132.91,168.98" fill="#5353b9" stroke="#5353b9"/>
<polygon points="129.82,172.49 131.54,172.9 136.34,169.79 134.62,169.38" fill="#5353b9" stroke="#5353b9"/>
<polygon points="163.44,171.9 168.63,173.13 173.29,169.93 168.11,168.71" fill="#4c4cbe" stroke="#4c4cbe"/>
<polygon points="114.7,173.15 114.87,173.2 119.73,170.08 119.56,170.04" fill="#5353b7" stroke="#5353b7"/>
<polygon points="114.87,173.2 115.04,173.24 119.9,170.12 119.73,170.08" fill="#5353b7" stroke="#5353b7"/>
<polygon points="115.04,173.24 115.21,173.28 120.07,170.16 119.9,170.12" fill="#5353b7" stroke="#5353b7"/>
<polygon points="115.21,173.28 115.38,173.32 120.24,170.2 120.07,170.16" fill="#5353b7" stroke="#5353b7"/>
<polygon points="115.38,173.32 115.56,173.36 120.41,170.25 120.24,170.2" fill="#5353b7" stroke="#5353b7"/>
<polygon points="115.56,173.36 115.73,173.4 120.59,170.29 120.41,170.25" fill="#5353b7" stroke="#5353b7"/>
<polygon points="239.32,172.59 249.94,175.05 256.49,170.24 245.91,167.81" fill="#4c4cbe" stroke="#4c4cbe"/>
<polygon points="115.73,173.4 116.07,173.48 120.93,170.37 120.59,170.29" fill="#5353b7" stroke="#5353b7"/>
<polygon points="211.5,172.48 222.05,174.94 228.75,170.14 218.25,167.7" fill="#4c4cbe" stroke="#4c4cbe"/>
<polygon points="131.54,172.9 134.97,173.72 139.76,170.6 136.34,169.79" fill="#5353b9" stroke="#5353b9"/>
<polygon points="116.07,173.48 116.41,173.56 121.27,170.45 120.93,170.37" fill="#5353b7" stroke="#5353b7"/>
<polygon points="148.36,172.65 153.54,173.88 158.26,170.67 153.09,169.45" fill="#4e4ebb" stroke="#4e4ebb"/>
<polygon points="116.41,173.56 116.75,173.65 121.61,170.53 121.27,170.45" fill="#5353b7" stroke="#5353b7"/>
<polygon points="268.91,173.1 281.41,175.98 287.81,171.16 275.35,168.32" fill="#4c4cbe" stroke="#4c4cbe"/>
<polygon points="116.75,173.65 117.27,173.77 122.12,170.65 121.61,170.53" fill="#5353b7" stroke="#5353b7"/>
<polygon points="117.27,173.77 118.12,173.98 122.98,170.86 122.12,170.65" fill="#5353b7" stroke="#5353b7"/>
<polygon points="187.18,173.2 195.91,175.25 202.76,170.44 194.06,168.41" fill="#4c4cbe" stroke="#4c4cbe"/>
<polygon points="118.12,173.98 118.98,174.18 123.83,171.06 122.98,170.86" fill="#5353b7" stroke="#5353b7"/>
<polygon points="118.98,174.18 119.83,174.39 124.68,171.26 123.83,171.06" fill="#5353b7" stroke="#5353b7"/>
<polygon points="134.97,173.72 138.41,174.54 143.2,171.42 139.76,170.6" fill="#5353b9" stroke="#5353b9"/>
<polygon points="168.63,173.13 175.58,174.77 180.23,171.56 173.29,169.93" fill="#4c4cbe" stroke="#4c4cbe"/>
<polygon points="119.83,174.39 121.55,174.8 126.4,171.67 124.68,171.26" fill="#5353b7" stroke="#5353b7"/>
<polygon points="153.54,173.88 158.73,175.11 163.44,171.9 158.26,170.67" fill="#4e4ebb" stroke="#4e4ebb"/>
<polygon points="302.14,174.44 314.4,177.24 318.56,174.02 306.33,171.23" fill="#4c4cbe" stroke="#4c4cbe"/>
<polygon points="121.55,174.8 123.27,175.21 128.11,172.08 126.4,171.67" fill="#5353b7" stroke="#5353b7"/>
<polygon points="138.41,174.54 143.59,175.78 148.36,172.65 143.2,171.42" fill="#5353b9" stroke="#5353b9"/>
<polygon points="123.27,175.21 124.98,175.62 129.82,172.49 128.11,172.08" fill="#5353b7" stroke="#5353b7"/>
<polygon points="249.94,175.05 262.4,177.94 268.91,173.1 256.49,170.24" fill="#4c4cbe" stroke="#4c4cbe"/>
<polygon points="222.05,174.94 232.65,177.42 239.32,172.59 228.75,170.14" fill="#4c4cbe" stroke="#4c4cbe"/>
<polygon points="124.98,175.62 126.7,176.03 131.54,172.9 129.82,172.49" fill="#5353b7" stroke="#5353b7"/>
<polygon points="195.91,175.25 204.68,177.31 211.5,172.48 202.76,170.44" fill="#4c4cbe" stroke="#4c4cbe"/>
<polygon points="175.58,174.77 182.55,176.42 187.18,173.2 180.23,171.56" fill="#4c4cbe" stroke="#4c4cbe"/>
<polygon points="158.73,175.11 163.93,176.35 168.63,173.13 163.44,171.9" fill="#4e4ebb" stroke="#4e4ebb"/>
<polygon points="109.8,176.29 109.97,176.33 114.87,173.2 114.7,173.15" fill="#5353b7" stroke="#5353b7"/>
<polygon points="109.97,176.33 110.15,176.37 115.04,173.24 114.87,173.2" fill="#5353b7" stroke="#5353b7"/>
<polygon points="110.15,176.37 110.32,176.41 115.21,173.28 115.04,173.24" fill="#5353b7" stroke="#5353b7"/>
<polygon points="281.41,175.98 295.8,179.29 302.14,174.44 287.81,171.16" fill="#4c4cbe" stroke="#4c4cbe"/>
<polygon points="110.32,176.41 110.49,176.46 115.38,173.32 115.21,173.28" fill="#5353b7" stroke="#5353b7"/>
<polygon points="110.49,176.46 110.66,176.5 115.56,173.36 115.38,173.32" fill="#5353b7" stroke="#5353b7"/>
<polygon points="110.66,176.5 110.83,176.54 115.73,173.4 115.56,173.36" fill="#5353b7" stroke="#5353b7"/>
<polygon points="110.83,176.54 111.17,176.62 116.07,173.48 115.73,173.4" fill="#5353b7" stroke="#5353b7"/>
<polygon points="111.17,176.62 111.52,176.7 116.41,173.56 116.07,173.48" fill="#5353b7" stroke="#5353b7"/>
<polygon points="126.7,176.03 130.15,176.86 134.97,173.72 131.54,172.9" fill="#5353b7" stroke="#5353b7"/>
<polygon points="111.52,176.7 111.86,176.79 116.75,173.65 116.41,173.56" fill="#5353b7" stroke="#5353b7"/>
<polygon points="143.59,175.78 148.78,177.02 153.54,173.88 148.36,172.65" fill="#5353b9" stroke="#5353b9"/>
<polygon points="111.86,176.79 112.37,176.91 117.27,173.77 116.75,173.65" fill="#5353b7" stroke="#5353b7"/>
<polygon points="112.37,176.91 113.23,177.12 118.12,173.98 117.27,173.77" fill="#5353b7" stroke="#5353b7"/>
<polygon points="113.23,177.12 114.09,177.32 118.98,174.18 118.12,173.98" fill="#5353b7" stroke="#5353b7"/>
<polygon points="114.09,177.32 114.95,177.53 119.83,174.39 118.98,174.18" fill="#5353b7" stroke="#5353b7"/>
<polygon points="130.15,176.86 133.6,177.69 138.41,174.54 134.97,173.72" fill="#5353b7" stroke="#5353b7"/>
<polygon points="163.93,176.35 170.9,178 175.58,174.77 168.63,173.13" fill="#4e4ebb" stroke="#4e4ebb"/>
<polygon points="114.95,177.53 116.67,177.94 121.55,174.8 119.83,174.39" fill="#5353b7" stroke="#5353b7"/>
<polygon points="182.55,176.42 191.3,178.49 195.91,175.25 187.18,173.2" fill="#4c4cbe" stroke="#4c4cbe"/>
<polygon points="148.78,177.02 153.98,178.26 158.73,175.11 153.54,173.88" fill="#5353b9" stroke="#5353b9"/>
<polygon points="232.65,177.42 243.31,179.91 249.94,175.05 239.32,172.59" fill="#4c4cbe" stroke="#4c4cbe"/>
<polygon points="116.67,177.94 118.39,178.36 123.27,175.21 121.55,174.8" fill="#5353b7" stroke="#5353b7"/>
<polygon points="204.68,177.31 215.26,179.8 222.05,174.94 211.5,172.48" fill="#4c4cbe" stroke="#4c4cbe"/>
<polygon points="262.4,177.94 274.95,180.85 281.41,175.98 268.91,173.1" fill="#4c4cbe" stroke="#4c4cbe"/>
<polygon points="133.6,177.69 138.78,178.93 143.59,175.78 138.41,174.54" fill="#5353b7" stroke="#5353b7"/>
<polygon points="118.39,178.36 120.11,178.77 124.98,175.62 123.27,175.21" fill="#5353b7" stroke="#5353b7"/>
<polygon points="295.8,179.29 308.11,182.13 314.4,177.24 302.14,174.44" fill="#4c4cbe" stroke="#4c4cbe"/>
<polygon points="120.11,178.77 121.83,179.19 126.7,176.03 124.98,175.62" fill="#5353b7" stroke="#5353b7"/>
<polygon points="170.9,178 177.89,179.66 182.55,176.42 175.58,174.77" fill="#4e4ebb" stroke="#4e4ebb"/>
<polygon points="153.98,178.26 159.2,179.5 163.93,176.35 158.73,175.11" fill="#5353b9" stroke="#5353b9"/>
<polygon points="104.87,179.45 105.04,179.49 109.97,176.33 109.8,176.29" fill="#5353b7" stroke="#5353b7"/>
<polygon points="105.04,179.49 105.21,179.53 110.15,176.37 109.97,176.33" fill="#5353b7" stroke="#5353b7"/>
<polygon points="105.21,179.53 105.38,179.57 110.32,176.41 110.15,176.37" fill="#5353b7" stroke="#5353b7"/>
<polygon points="105.38,179.57 105.56,179.61 110.49,176.46 110.32,176.41" fill="#5353b7" stroke="#5353b7"/>
<polygon points="105.56,179.61 105.73,179.66 110.66,176.5 110.49,176.46" fill="#5353b7" stroke="#5353b7"/>
<polygon points="105.73,179.66 105.9,179.7 110.83,176.54 110.66,176.5" fill="#5353b7" stroke="#5353b7"/>
<polygon points="105.9,179.7 106.24,179.78 111.17,176.62 110.83,176.54" fill="#5353b7" stroke="#5353b7"/>
<polygon points="106.24,179.78 106.59,179.86 111.52,176.7 111.17,176.62" fill="#5353b7" stroke="#5353b7"/>
<polygon points="121.83,179.19 125.29,180.02 130.15,176.86 126.7,176.03" fill="#5353b7" stroke="#5353b7"/>
<polygon points="106.59,179.86 106.93,179.95 111.86,176.79 111.52,176.7" fill="#5353b7" stroke="#5353b7"/>
<polygon points="138.78,178.93 143.99,180.18 148.78,177.02 143.59,175.78" fill="#5353b7" stroke="#5353b7"/>
<polygon points="106.93,179.95 107.45,180.07 112.37,176.91 111.86,176.79" fill="#5353b7" stroke="#5353b7"/>
<polygon points="191.3,178.49 200.1,180.56 204.68,177.31 195.91,175.25" fill="#4c4cbe" stroke="#4c4cbe"/>
<polygon points="107.45,180.07 108.31,180.28 113.23,177.12 112.37,176.91" fill="#5353b7" stroke="#5353b7"/>
<polygon points="108.31,180.28 109.17,180.49 114.09,177.32 113.23,177.12" fill="#5353b7" stroke="#5353b7"/>
<polygon points="109.17,180.49 110.03,180.7 114.95,177.53 114.09,177.32" fill="#5353b7" stroke="#5353b7"/>
<polygon points="125.29,180.02 128.74,180.86 133.6,177.69 130.15,176.86" fill="#5353b7" stroke="#5353b7"/>
<polygon points="215.26,179.8 225.9,182.31 232.65,177.42 222.05,174.94" fill="#4c4cbe" stroke="#4c4cbe"/>
<polygon points="243.31,179.91 255.82,182.83 262.4,177.94 249.94,175.05" fill="#4c4cbe" stroke="#4c4cbe"/>
<polygon points="159.2,179.5 166.18,181.17 170.9,178 163.93,176.35" fill="#5353b9" stroke="#5353b9"/>
<polygon points="110.03,180.7 111.75,181.12 116.67,177.94 114.95,177.53" fill="#5353b7" stroke="#5353b7"/>
<polygon points="177.89,179.66 186.66,181.74 191.3,178.49 182.55,176.42" fill="#4e4ebb" stroke="#4e4ebb"/>
<polygon points="143.99,180.18 149.2,181.43 153.98,178.26 148.78,177.02" fill="#5353b7" stroke="#5353b7"/>
<polygon points="274.95,180.85 289.39,184.2 295.8,179.29 281.41,175.98" fill="#4c4cbe" stroke="#4c4cbe"/>
<polygon points="111.75,181.12 113.48,181.53 118.39,178.36 116.67,177.94" fill="#5353b7" stroke="#5353b7"/>
<polygon points="102.38,180.89 102.56,180.96 105.04,179.49 104.87,179.45" fill="#5353b7" stroke="#5353b7"/>
<polygon points="128.74,180.86 133.94,182.11 138.78,178.93 133.6,177.69" fill="#5353b7" stroke="#5353b7"/>
<polygon points="102.56,180.96 102.73,181.02 105.21,179.53 105.04,179.49" fill="#5353b7" stroke="#5353b7"/>
<polygon points="113.48,181.53 115.2,181.95 120.11,178.77 118.39,178.36" fill="#5353b7" stroke="#5353b7"/>
<polygon points="102.73,181.02 102.9,181.09 105.38,179.57 105.21,179.53" fill="#5353b7" stroke="#5353b7"/>
<polygon points="102.9,181.09 103.07,181.14 105.56,179.61 105.38,179.57" fill="#5353b7" stroke="#5353b7"/>
<polygon points="103.07,181.14 103.25,181.2 105.73,179.66 105.56,179.61" fill="#5353b7" stroke="#5353b7"/>
<polygon points="103.25,181.2 103.42,181.25 105.9,179.7 105.73,179.66" fill="#5353b7" stroke="#5353b7"/>
<polygon points="103.42,181.25 103.76,181.35 106.24,179.78 105.9,179.7" fill="#5353b7" stroke="#5353b7"/>
<polygon points="103.76,181.35 104.11,181.44 106.59,179.86 106.24,179.78" fill="#5353b7" stroke="#5353b7"/>
<polygon points="104.11,181.44 104.45,181.53 106.93,179.95 106.59,179.86" fill="#5353b7" stroke="#5353b7"/>
<polygon points="115.2,181.95 116.93,182.37 121.83,179.19 120.11,178.77" fill="#5353b7" stroke="#5353b7"/>
<polygon points="104.45,181.53 104.97,181.66 107.45,180.07 106.93,179.95" fill="#5353b7" stroke="#5353b7"/>
<polygon points="200.1,180.56 210.7,183.07 215.26,179.8 204.68,177.31" fill="#4c4cbe" stroke="#4c4cbe"/>
<polygon points="104.97,181.66 105.83,181.87 108.31,180.28 107.45,180.07" fill="#5353b7" stroke="#5353b7"/>
<polygon points="149.2,181.43 154.43,182.68 159.2,179.5 153.98,178.26" fill="#5353b7" stroke="#5353b7"/>
<polygon points="166.18,181.17 173.19,182.84 177.89,179.66 170.9,178" fill="#5353b9" stroke="#5353b9"/>
<polygon points="105.83,181.87 106.69,182.08 109.17,180.49 108.31,180.28" fill="#5353b7" stroke="#5353b7"/>
<polygon points="116.93,182.37 120.39,183.21 125.29,180.02 121.83,179.19" fill="#5353b7" stroke="#5353b7"/>
<polygon points="106.69,182.08 107.55,182.29 110.03,180.7 109.17,180.49" fill="#5353b7" stroke="#5353b7"/>
<polygon points="133.94,182.11 139.16,183.36 143.99,180.18 138.78,178.93" fill="#5353b7" stroke="#5353b7"/>
<polygon points="225.9,182.31 236.6,184.82 243.31,179.91 232.65,177.42" fill="#4c4cbe" stroke="#4c4cbe"/>
<polygon points="186.66,181.74 195.47,183.84 200.1,180.56 191.3,178.49" fill="#4e4ebb" stroke="#4e4ebb"/>
<polygon points="107.55,182.29 109.28,182.71 111.75,181.12 110.03,180.7" fill="#5353b7" stroke="#5353b7"/>
<polygon points="99.89,182.29 100.06,182.4 102.56,180.96 102.38,180.89" fill="#5353b7" stroke="#5353b7"/>
<polygon points="100.06,182.4 100.24,182.5 102.73,181.02 102.56,180.96" fill="#5353b7" stroke="#5353b7"/>
<polygon points="100.24,182.5 100.41,182.58 102.9,181.09 102.73,181.02" fill="#5353b7" stroke="#5353b7"/>
<polygon points="255.82,182.83 268.41,185.77 274.95,180.85 262.4,177.94" fill="#4c4cbe" stroke="#4c4cbe"/>
<polygon points="100.41,182.58 100.58,182.66 103.07,181.14 102.9,181.09" fill="#5353b7" stroke="#5353b7"/>
<polygon points="100.58,182.66 100.76,182.73 103.25,181.2 103.07,181.14" fill="#5353b7" stroke="#5353b7"/>
<polygon points="100.76,182.73 100.93,182.79 103.42,181.25 103.25,181.2" fill="#5353b7" stroke="#5353b7"/>
<polygon points="100.93,182.79 101.28,182.91 103.76,181.35 103.42,181.25" fill="#5353b7" stroke="#5353b7"/>
<polygon points="101.28,182.91 101.62,183.01 104.11,181.44 103.76,181.35" fill="#5353b7" stroke="#5353b7"/>
<polygon points="109.28,182.71 111.01,183.13 113.48,181.53 111.75,181.12" fill="#5353b7" stroke="#5353b7"/>
<polygon points="101.62,183.01 101.97,183.11 104.45,181.53 104.11,181.44" fill="#5353b7" stroke="#5353b7"/>
<polygon points="120.39,183.21 123.86,184.05 128.74,180.86 125.29,180.02" fill="#5353b7" stroke="#5353b7"/>
<polygon points="101.97,183.11 102.48,183.25 104.97,181.66 104.45,181.53" fill="#5353b7" stroke="#5353b7"/>
<polygon points="154.43,182.68 161.43,184.36 166.18,181.17 159.2,179.5" fill="#5353b7" stroke="#5353b7"/>
<polygon points="102.48,183.25 103.35,183.47 105.83,181.87 104.97,181.66" fill="#5353b7" stroke="#5353b7"/>
<polygon points="289.39,184.2 301.74,187.06 308.11,182.13 295.8,179.29" fill="#4c4cbe" stroke="#4c4cbe"/>
<polygon points="111.01,183.13 112.73,183.55 115.2,181.95 113.48,181.53" fill="#5353b7" stroke="#5353b7"/>
<polygon points="103.35,183.47 104.21,183.68 106.69,182.08 105.83,181.87" fill="#5353b7" stroke="#5353b7"/>
<polygon points="139.16,183.36 144.39,184.62 149.2,181.43 143.99,180.18" fill="#5353b7" stroke="#5353b7"/>
<polygon points="173.19,182.84 181.98,184.94 186.66,181.74 177.89,179.66" fill="#5353b9" stroke="#5353b9"/>
<polygon points="104.21,183.68 105.07,183.89 107.55,182.29 106.69,182.08" fill="#5353b7" stroke="#5353b7"/>
<polygon points="112.73,183.55 114.46,183.97 116.93,182.37 115.2,181.95" fill="#5353b7" stroke="#5353b7"/>
<polygon points="210.7,183.07 221.37,185.59 225.9,182.31 215.26,179.8" fill="#4c4cbe" stroke="#4c4cbe"/>
<polygon points="105.07,183.89 106.8,184.31 109.28,182.71 107.55,182.29" fill="#5353b7" stroke="#5353b7"/>
<polygon points="123.86,184.05 129.07,185.31 133.94,182.11 128.74,180.86" fill="#5353b7" stroke="#5353b7"/>
<polygon points="97.54,183.47 97.72,183.68 100.24,182.5 100.06,182.4" fill="#5353b9" stroke="#5353b9"/>
<polygon points="97.36,183.23 97.54,183.47 100.06,182.4 99.89,182.29" fill="#5353ba" stroke="#5353ba"/>
<polygon points="97.72,183.68 97.9,183.85 100.41,182.58 100.24,182.5" fill="#5353b8" stroke="#5353b8"/>
<polygon points="97.9,183.85 98.07,183.99 100.58,182.66 100.41,182.58" fill="#5353b8" stroke="#5353b8"/>
<polygon points="98.07,183.99 98.25,184.12 100.76,182.73 100.58,182.66" fill="#5353b8" stroke="#5353b8"/>
<polygon points="98.25,184.12 98.42,184.23 100.93,182.79 100.76,182.73" fill="#5353b7" stroke="#5353b7"/>
<polygon points="98.42,184.23 98.77,184.4 101.28,182.91 100.93,182.79" fill="#5353b7" stroke="#5353b7"/>
<polygon points="98.77,184.4 99.12,184.55 101.62,183.01 101.28,182.91" fill="#5353b7" stroke="#5353b7"/>
<polygon points="106.8,184.31 108.53,184.73 111.01,183.13 109.28,182.71" fill="#5353b7" stroke="#5353b7"/>
<polygon points="114.46,183.97 117.93,184.81 120.39,183.21 116.93,182.37" fill="#5353b7" stroke="#5353b7"/>
<polygon points="99.12,184.55 99.47,184.67 101.97,183.11 101.62,183.01" fill="#5353b7" stroke="#5353b7"/>
<polygon points="99.47,184.67 99.99,184.83 102.48,183.25 101.97,183.11" fill="#5353b7" stroke="#5353b7"/>
<polygon points="195.47,183.84 206.11,186.36 210.7,183.07 200.1,180.56" fill="#4e4ebb" stroke="#4e4ebb"/>
<polygon points="99.99,184.83 100.85,185.06 103.35,183.47 102.48,183.25" fill="#5353b7" stroke="#5353b7"/>
<polygon points="236.6,184.82 249.16,187.78 255.82,182.83 243.31,179.91" fill="#4c4cbe" stroke="#4c4cbe"/>
<polygon points="144.39,184.62 149.63,185.89 154.43,182.68 149.2,181.43" fill="#5353b7" stroke="#5353b7"/>
<polygon points="161.43,184.36 168.45,186.05 173.19,182.84 166.18,181.17" fill="#5353b7" stroke="#5353b7"/>
<polygon points="108.53,184.73 110.26,185.15 112.73,183.55 111.01,183.13" fill="#5353b7" stroke="#5353b7"/>
<polygon points="100.85,185.06 101.71,185.28 104.21,183.68 103.35,183.47" fill="#5353b7" stroke="#5353b7"/>
<polygon points="101.71,185.28 102.58,185.49 105.07,183.89 104.21,183.68" fill="#5353b7" stroke="#5353b7"/>
<polygon points="117.93,184.81 121.4,185.65 123.86,184.05 120.39,183.21" fill="#5353b7" stroke="#5353b7"/>
<polygon points="110.26,185.15 111.99,185.57 114.46,183.97 112.73,183.55" fill="#5353b7" stroke="#5353b7"/>
<polygon points="129.07,185.31 134.29,186.57 139.16,183.36 133.94,182.11" fill="#5353b7" stroke="#5353b7"/>
<polygon points="268.41,185.77 282.9,189.16 289.39,184.2 274.95,180.85" fill="#4c4cbe" stroke="#4c4cbe"/>
<polygon points="102.58,185.49 104.31,185.91 106.8,184.31 105.07,183.89" fill="#5353b7" stroke="#5353b7"/>
<polygon points="181.98,184.94 190.82,187.05 195.47,183.84 186.66,181.74" fill="#5353b9" stroke="#5353b9"/>
<polygon points="95.55,185.23 95.73,185.43 98.25,184.12 98.07,183.99" fill="#5353b9" stroke="#5353b9"/>
<polygon points="95.73,185.43 95.91,185.6 98.42,184.23 98.25,184.12" fill="#5353b9" stroke="#5353b9"/>
<polygon points="95.37,184.99 95.55,185.23 98.07,183.99 97.9,183.85" fill="#5353ba" stroke="#5353ba"/>
<polygon points="95.91,185.6 96.26,185.86 98.77,184.4 98.42,184.23" fill="#5353b8" stroke="#5353b8"/>
<polygon points="95.19,184.7 95.37,184.99 97.9,183.85 97.72,183.68" fill="#5353bb" stroke="#5353bb"/>
<polygon points="95,184.35 95.19,184.7 97.72,183.68 97.54,183.47" fill="#5353bd" stroke="#5353bd"/>
<polygon points="104.31,185.91 106.04,186.34 108.53,184.73 106.8,184.31" fill="#5353b7" stroke="#5353b7"/>
<polygon points="111.99,185.57 115.46,186.42 117.93,184.81 114.46,183.97" fill="#5353b7" stroke="#5353b7"/>
<polygon points="96.26,185.86 96.61,186.06 99.12,184.55 98.77,184.4" fill="#5353b7" stroke="#5353b7"/>
<polygon points="94.81,183.91 95,184.35 97.54,183.47 97.36,183.23" fill="#5353be" stroke="#5353be"/>
<polygon points="96.61,186.06 96.96,186.22 99.47,184.67 99.12,184.55" fill="#5353b7" stroke="#5353b7"/>
<polygon points="96.96,186.22 97.48,186.41 99.99,184.83 99.47,184.67" fill="#5353b7" stroke="#5353b7"/>
<polygon points="221.37,185.59 232.09,188.13 236.6,184.82 225.9,182.31" fill="#4c4cbe" stroke="#4c4cbe"/>
<polygon points="97.48,186.41 98.35,186.66 100.85,185.06 99.99,184.83" fill="#5353b7" stroke="#5353b7"/>
<polygon points="149.63,185.89 156.64,187.58 161.43,184.36 154.43,182.68" fill="#5353b7" stroke="#5353b7"/>
<polygon points="121.4,185.65 126.62,186.92 129.07,185.31 123.86,184.05" fill="#5353b7" stroke="#5353b7"/>
<polygon points="106.04,186.34 107.77,186.76 110.26,185.15 108.53,184.73" fill="#5353b7" stroke="#5353b7"/>
<polygon points="98.35,186.66 99.21,186.89 101.71,185.28 100.85,185.06" fill="#5353b7" stroke="#5353b7"/>
<polygon points="134.29,186.57 139.54,187.84 144.39,184.62 139.16,183.36" fill="#5353b7" stroke="#5353b7"/>
<polygon points="168.45,186.05 177.27,188.16 181.98,184.94 173.19,182.84" fill="#5353b7" stroke="#5353b7"/>
<polygon points="99.21,186.89 100.08,187.1 102.58,185.49 101.71,185.28" fill="#5353b7" stroke="#5353b7"/>
<polygon points="115.46,186.42 118.93,187.26 121.4,185.65 117.93,184.81" fill="#5353b7" stroke="#5353b7"/>
<polygon points="107.77,186.76 109.5,187.18 111.99,185.57 110.26,185.15" fill="#5353b7" stroke="#5353b7"/>
<polygon points="100.08,187.1 101.81,187.53 104.31,185.91 102.58,185.49" fill="#5353b7" stroke="#5353b7"/>
<polygon points="206.11,186.36 216.8,188.9 221.37,185.59 210.7,183.07" fill="#4e4ebb" stroke="#4e4ebb"/>
<polygon points="249.16,187.78 261.8,190.75 268.41,185.77 255.82,182.83" fill="#4c4cbe" stroke="#4c4cbe"/>
<polygon points="101.81,187.53 103.54,187.95 106.04,186.34 104.31,185.91" fill="#5353b7" stroke="#5353b7"/>
<polygon points="109.5,187.18 112.98,188.03 115.46,186.42 111.99,185.57" fill="#5353b7" stroke="#5353b7"/>
<polygon points="93.38,186.97 93.74,187.32 96.26,185.86 95.91,185.6" fill="#5353b9" stroke="#5353b9"/>
<polygon points="93.2,186.75 93.38,186.97 95.91,185.6 95.73,185.43" fill="#5353bb" stroke="#5353bb"/>
<polygon points="93.74,187.32 94.09,187.58 96.61,186.06 96.26,185.86" fill="#5353b8" stroke="#5353b8"/>
<polygon points="93.02,186.47 93.2,186.75 95.73,185.43 95.55,185.23" fill="#5353bc" stroke="#5353bc"/>
<polygon points="94.09,187.58 94.44,187.77 96.96,186.22 96.61,186.06" fill="#5353b8" stroke="#5353b8"/>
<polygon points="92.83,186.14 93.02,186.47 95.55,185.23 95.37,184.99" fill="#5353bd" stroke="#5353bd"/>
<polygon points="92.64,185.73 92.83,186.14 95.37,184.99 95.19,184.7" fill="#5353bf" stroke="#5353bf"/>
<polygon points="94.44,187.77 94.96,187.99 97.48,186.41 96.96,186.22" fill="#5353b7" stroke="#5353b7"/>
<polygon points="126.62,186.92 131.85,188.19 134.29,186.57 129.07,185.31" fill="#5353b7" stroke="#5353b7"/>
<polygon points="92.45,185.22 92.64,185.73 95.19,184.7 95,184.35" fill="#5353c1" stroke="#5353c1"/>
<polygon points="94.96,187.99 95.83,188.26 98.35,186.66 97.48,186.41" fill="#5353b7" stroke="#5353b7"/>
<polygon points="190.82,187.05 201.48,189.59 206.11,186.36 195.47,183.84" fill="#5353b9" stroke="#5353b9"/>
<polygon points="92.25,184.6 92.45,185.22 95,184.35 94.81,183.91" fill="#4242bf" stroke="#4242bf"/>
<polygon points="118.93,187.26 124.15,188.53 126.62,186.92 121.4,185.65" fill="#5353b7" stroke="#5353b7"/>
<polygon points="139.54,187.84 144.79,189.12 149.63,185.89 144.39,184.62" fill="#5353b7" stroke="#5353b7"/>
<polygon points="103.54,187.95 105.27,188.37 107.77,186.76 106.04,186.34" fill="#5353b7" stroke="#5353b7"/>
<polygon points="156.64,187.58 163.68,189.28 168.45,186.05 161.43,184.36" fill="#5353b7" stroke="#5353b7"/>
<polygon points="95.83,188.26 96.7,188.5 99.21,186.89 98.35,186.66" fill="#5353b7" stroke="#5353b7"/>
<polygon points="282.9,189.16 295.31,192.06 301.74,187.06 289.39,184.2" fill="#4c4cbe" stroke="#4c4cbe"/>
<polygon points="96.7,188.5 97.57,188.72 100.08,187.1 99.21,186.89" fill="#5353b7" stroke="#5353b7"/>
<polygon points="105.27,188.37 107.01,188.8 109.5,187.18 107.77,186.76" fill="#5353b7" stroke="#5353b7"/>
<polygon points="112.98,188.03 116.45,188.88 118.93,187.26 115.46,186.42" fill="#5353b7" stroke="#5353b7"/>
<polygon points="97.57,188.72 99.3,189.14 101.81,187.53 100.08,187.1" fill="#5353b7" stroke="#5353b7"/>
<polygon points="232.09,188.13 244.68,191.1 249.16,187.78 236.6,184.82" fill="#4c4cbe" stroke="#4c4cbe"/>
<polygon points="177.27,188.16 186.13,190.29 190.82,187.05 181.98,184.94" fill="#5353b7" stroke="#5353b7"/>
<polygon points="131.85,188.19 137.1,189.46 139.54,187.84 134.29,186.57" fill="#5353b7" stroke="#5353b7"/>
<polygon points="99.3,189.14 101.03,189.57 103.54,187.95 101.81,187.53" fill="#5353b7" stroke="#5353b7"/>
<polygon points="107.01,188.8 110.49,189.65 112.98,188.03 109.5,187.18" fill="#5353b7" stroke="#5353b7"/>
<polygon points="91.2,188.74 91.56,189.07 94.09,187.58 93.74,187.32" fill="#5353b9" stroke="#5353b9"/>
<polygon points="90.84,188.27 91.2,188.74 93.74,187.32 93.38,186.97" fill="#5353bb" stroke="#5353bb"/>
<polygon points="91.56,189.07 91.91,189.31 94.44,187.77 94.09,187.58" fill="#5353b8" stroke="#5353b8"/>
<polygon points="90.66,187.96 90.84,188.27 93.38,186.97 93.2,186.75" fill="#5353bd" stroke="#5353bd"/>
<polygon points="91.91,189.31 92.44,189.57 94.96,187.99 94.44,187.77" fill="#5353b8" stroke="#5353b8"/>
<polygon points="90.47,187.58 90.66,187.96 93.2,186.75 93.02,186.47" fill="#5353bf" stroke="#5353bf"/>
<polygon points="124.15,188.53 129.39,189.81 131.85,188.19 126.62,186.92" fill="#5353b7" stroke="#5353b7"/>
<polygon points="90.27,187.12 90.47,187.58 93.02,186.47 92.83,186.14" fill="#5353c1" stroke="#5353c1"/>
<polygon points="92.44,189.57 93.31,189.87 95.83,188.26 94.96,187.99" fill="#5353b7" stroke="#5353b7"/>
<polygon points="90.08,186.54 90.27,187.12 92.83,186.14 92.64,185.73" fill="#4444be" stroke="#4444be"/>
<polygon points="144.79,189.12 151.82,190.82 156.64,187.58 149.63,185.89" fill="#5353b7" stroke="#5353b7"/>
<polygon points="216.8,188.9 227.55,191.46 232.09,188.13 221.37,185.59" fill="#4e4ebb" stroke="#4e4ebb"/>
<polygon points="101.03,189.57 102.77,190 105.27,188.37 103.54,187.95" fill="#5353b7" stroke="#5353b7"/>
<polygon points="116.45,188.88 121.68,190.15 124.15,188.53 118.93,187.26" fill="#5353b7" stroke="#5353b7"/>
<polygon points="93.31,189.87 94.18,190.11 96.7,188.5 95.83,188.26" fill="#5353b7" stroke="#5353b7"/>
<polygon points="89.87,185.83 90.08,186.54 92.64,185.73 92.45,185.22" fill="#4040c1" stroke="#4040c1"/>
<polygon points="89.66,184.95 89.87,185.83 92.45,185.22 92.25,184.6" fill="#3b3bc4" stroke="#3b3bc4"/>
<polygon points="94.18,190.11 95.04,190.34 97.57,188.72 96.7,188.5" fill="#5353b7" stroke="#5353b7"/>
<polygon points="163.68,189.28 172.52,191.41 177.27,188.16 168.45,186.05" fill="#5353b7" stroke="#5353b7"/>
<polygon points="102.77,190 104.51,190.42 107.01,188.8 105.27,188.37" fill="#5353b7" stroke="#5353b7"/>
<polygon points="110.49,189.65 113.97,190.5 116.45,188.88 112.98,188.03" fill="#5353b7" stroke="#5353b7"/>
<polygon points="95.04,190.34 96.78,190.77 99.3,189.14 97.57,188.72" fill="#5353b7" stroke="#5353b7"/>
<polygon points="261.8,190.75 276.35,194.17 282.9,189.16 268.41,185.77" fill="#4c4cbe" stroke="#4c4cbe"/>
<polygon points="201.48,189.59 212.2,192.15 216.8,188.9 206.11,186.36" fill="#5353b9" stroke="#5353b9"/>
<polygon points="137.1,189.46 142.36,190.74 144.79,189.12 139.54,187.84" fill="#5353b7" stroke="#5353b7"/>
<polygon points="129.39,189.81 134.65,191.09 137.1,189.46 131.85,188.19" fill="#5353b7" stroke="#5353b7"/>
<polygon points="96.78,190.77 98.52,191.2 101.03,189.57 99.3,189.14" fill="#5353b7" stroke="#5353b7"/>
<polygon points="104.51,190.42 107.99,191.27 110.49,189.65 107.01,188.8" fill="#5353b7" stroke="#5353b7"/>
<polygon points="89.02,190.47 89.37,190.79 91.91,189.31 91.56,189.07" fill="#5353ba" stroke="#5353ba"/>
<polygon points="88.65,190.02 89.02,190.47 91.56,189.07 91.2,188.74" fill="#5353bb" stroke="#5353bb"/>
<polygon points="89.37,190.79 89.9,191.12 92.44,189.57 91.91,189.31" fill="#5353b8" stroke="#5353b8"/>
<polygon points="121.68,190.15 126.93,191.43 129.39,189.81 124.15,188.53" fill="#5353b7" stroke="#5353b7"/>
<polygon points="88.28,189.35 88.65,190.02 91.2,188.74 90.84,188.27" fill="#5353be" stroke="#5353be"/>
<polygon points="88.09,188.9 88.28,189.35 90.84,188.27 90.66,187.96" fill="#5353c0" stroke="#5353c0"/>
<polygon points="89.9,191.12 90.78,191.48 93.31,189.87 92.44,189.57" fill="#5353b8" stroke="#5353b8"/>
<polygon points="87.89,188.34 88.09,188.9 90.66,187.96 90.47,187.58" fill="#4343be" stroke="#4343be"/>
<polygon points="98.52,191.2 100.25,191.62 102.77,190 101.03,189.57" fill="#5353b7" stroke="#5353b7"/>
<polygon points="186.13,190.29 196.81,192.85 201.48,189.59 190.82,187.05" fill="#5353b7" stroke="#5353b7"/>
<polygon points="113.97,190.5 119.21,191.78 121.68,190.15 116.45,188.88" fill="#5353b7" stroke="#5353b7"/>
<polygon points="90.78,191.48 91.65,191.74 94.18,190.11 93.31,189.87" fill="#5353b7" stroke="#5353b7"/>
<polygon points="151.82,190.82 158.88,192.53 163.68,189.28 156.64,187.58" fill="#5353b7" stroke="#5353b7"/>
<polygon points="87.69,187.66 87.89,188.34 90.47,187.58 90.27,187.12" fill="#3f3fc0" stroke="#3f3fc0"/>
<polygon points="91.65,191.74 92.51,191.96 95.04,190.34 94.18,190.11" fill="#5353b7" stroke="#5353b7"/>
<polygon points="87.48,186.81 87.69,187.66 90.27,187.12 90.08,186.54" fill="#3a3ac3" stroke="#3a3ac3"/>
<polygon points="244.68,191.1 257.36,194.1 261.8,190.75 249.16,187.78" fill="#4c4cbe" stroke="#4c4cbe"/>
<polygon points="100.25,191.62 101.99,192.05 104.51,190.42 102.77,190" fill="#5353b7" stroke="#5353b7"/>
<polygon points="107.99,191.27 111.47,192.13 113.97,190.5 110.49,189.65" fill="#5353b7" stroke="#5353b7"/>
<polygon points="87.26,185.75 87.48,186.81 90.08,186.54 89.87,185.83" fill="#3434c7" stroke="#3434c7"/>
<polygon points="92.51,191.96 94.25,192.4 96.78,190.77 95.04,190.34" fill="#5353b7" stroke="#5353b7"/>
<polygon points="142.36,190.74 149.4,192.45 151.82,190.82 144.79,189.12" fill="#5353b7" stroke="#5353b7"/>
<polygon points="134.65,191.09 139.92,192.37 142.36,190.74 137.1,189.46" fill="#5353b7" stroke="#5353b7"/>
<polygon points="87.02,184.44 87.26,185.75 89.87,185.83 89.66,184.95" fill="#2c2ccd" stroke="#2c2ccd"/>
<polygon points="172.52,191.41 181.4,193.55 186.13,190.29 177.27,188.16" fill="#5353b7" stroke="#5353b7"/>
<polygon points="87.74,191.18 88.1,191.54 89.37,190.79 89.02,190.47" fill="#5353bb" stroke="#5353bb"/>
<polygon points="88.1,191.54 88.63,191.9 89.9,191.12 89.37,190.79" fill="#5353b9" stroke="#5353b9"/>
<polygon points="227.55,191.46 240.17,194.46 244.68,191.1 232.09,188.13" fill="#4e4ebb" stroke="#4e4ebb"/>
<polygon points="87.37,190.66 87.74,191.18 89.02,190.47 88.65,190.02" fill="#5353bd" stroke="#5353bd"/>
<polygon points="88.63,191.9 89.51,192.28 90.78,191.48 89.9,191.12" fill="#5353b8" stroke="#5353b8"/>
<polygon points="87,189.89 87.37,190.66 88.65,190.02 88.28,189.35" fill="#5353c0" stroke="#5353c0"/>
<polygon points="126.93,191.43 132.19,192.72 134.65,191.09 129.39,189.81" fill="#5353b7" stroke="#5353b7"/>
<polygon points="94.25,192.4 95.99,192.83 98.52,191.2 96.78,190.77" fill="#5353b7" stroke="#5353b7"/>
<polygon points="101.99,192.05 105.48,192.91 107.99,191.27 104.51,190.42" fill="#5353b7" stroke="#5353b7"/>
<polygon points="86.8,189.37 87,189.89 88.28,189.35 88.09,188.9" fill="#5353c4" stroke="#5353c4"/>
<polygon points="89.51,192.28 90.38,192.55 91.65,191.74 90.78,191.48" fill="#5353b7" stroke="#5353b7"/>
<polygon points="119.21,191.78 124.46,193.07 126.93,191.43 121.68,190.15" fill="#5353b7" stroke="#5353b7"/>
<polygon points="86.6,188.73 86.8,189.37 88.09,188.9 87.89,188.34" fill="#5353c7" stroke="#5353c7"/>
<polygon points="90.38,192.55 91.25,192.78 92.51,191.96 91.65,191.74" fill="#5353b7" stroke="#5353b7"/>
<polygon points="95.99,192.83 97.73,193.26 100.25,191.62 98.52,191.2" fill="#5353b7" stroke="#5353b7"/>
<polygon points="86.39,187.93 86.6,188.73 87.89,188.34 87.69,187.66" fill="#4444c7" stroke="#4444c7"/>
<polygon points="111.47,192.13 116.72,193.42 119.21,191.78 113.97,190.5" fill="#5353b7" stroke="#5353b7"/>
<polygon points="212.2,192.15 222.97,194.73 227.55,191.46 216.8,188.9" fill="#5353b9" stroke="#5353b9"/>
<polygon points="86.46,191.88 86.82,192.28 88.1,191.54 87.74,191.18" fill="#5353bb" stroke="#5353bb"/>
<polygon points="86.82,192.28 87.36,192.68 88.63,191.9 88.1,191.54" fill="#5353ba" stroke="#5353ba"/>
<polygon points="86.09,191.3 86.46,191.88 87.74,191.18 87.37,190.66" fill="#5353be" stroke="#5353be"/>
<polygon points="91.25,192.78 92.98,193.21 94.25,192.4 92.51,191.96" fill="#5353b7" stroke="#5353b7"/>
<polygon points="86.17,186.94 86.39,187.93 87.69,187.66 87.48,186.81" fill="#4040cb" stroke="#4040cb"/>
<polygon points="87.36,192.68 88.23,193.09 89.51,192.28 88.63,191.9" fill="#5353b8" stroke="#5353b8"/>
<polygon points="85.71,190.43 86.09,191.3 87.37,190.66 87,189.89" fill="#5353c2" stroke="#5353c2"/>
<polygon points="276.35,194.17 288.8,197.1 295.31,192.06 282.9,189.16" fill="#4c4cbe" stroke="#4c4cbe"/>
<polygon points="97.73,193.26 99.47,193.68 101.99,192.05 100.25,191.62" fill="#5353b7" stroke="#5353b7"/>
<polygon points="105.48,192.91 108.97,193.76 111.47,192.13 107.99,191.27" fill="#5353b7" stroke="#5353b7"/>
<polygon points="158.88,192.53 167.74,194.67 172.52,191.41 163.68,189.28" fill="#5353b7" stroke="#5353b7"/>
<polygon points="88.23,193.09 89.11,193.36 90.38,192.55 89.51,192.28" fill="#5353b7" stroke="#5353b7"/>
<polygon points="85.51,189.84 85.71,190.43 87,189.89 86.8,189.37" fill="#5353c6" stroke="#5353c6"/>
<polygon points="85.94,185.71 86.17,186.94 87.48,186.81 87.26,185.75" fill="#3b3bd2" stroke="#3b3bd2"/>
<polygon points="89.11,193.36 89.98,193.6 91.25,192.78 90.38,192.55" fill="#5353b7" stroke="#5353b7"/>
<polygon points="92.98,193.21 94.72,193.64 95.99,192.83 94.25,192.4" fill="#5353b7" stroke="#5353b7"/>
<polygon points="85.3,189.11 85.51,189.84 86.8,189.37 86.6,188.73" fill="#5353c9" stroke="#5353c9"/>
<polygon points="139.92,192.37 146.96,194.08 149.4,192.45 142.36,190.74" fill="#5353b7" stroke="#5353b7"/>
<polygon points="132.19,192.72 137.47,194 139.92,192.37 134.65,191.09" fill="#5353b7" stroke="#5353b7"/>
<polygon points="196.81,192.85 207.56,195.43 212.2,192.15 201.48,189.59" fill="#5353b7" stroke="#5353b7"/>
<polygon points="85.8,192.88 86.34,193.31 87.36,192.68 86.82,192.28" fill="#5353ba" stroke="#5353ba"/>
<polygon points="85.44,192.45 85.8,192.88 86.82,192.28 86.46,191.88" fill="#5353bc" stroke="#5353bc"/>
<polygon points="149.4,192.45 156.46,194.16 158.88,192.53 151.82,190.82" fill="#5353b7" stroke="#5353b7"/>
<polygon points="85.09,188.21 85.3,189.11 86.6,188.73 86.39,187.93" fill="#4242ca" stroke="#4242ca"/>
<polygon points="85.06,191.82 85.44,192.45 86.46,191.88 86.09,191.3" fill="#5353bf" stroke="#5353bf"/>
<polygon points="86.34,193.31 87.21,193.73 88.23,193.09 87.36,192.68" fill="#5353b8" stroke="#5353b8"/>
<polygon points="89.98,193.6 91.71,194.03 92.98,193.21 91.25,192.78" fill="#5353b7" stroke="#5353b7"/>
<polygon points="85.7,184.18 85.94,185.71 87.26,185.75 87.02,184.44" fill="#3535da" stroke="#3535da"/>
<polygon points="124.46,193.07 129.72,194.35 132.19,192.72 126.93,191.43" fill="#5353b7" stroke="#5353b7"/>
<polygon points="99.47,193.68 102.96,194.54 105.48,192.91 101.99,192.05" fill="#5353b7" stroke="#5353b7"/>
<polygon points="84.68,190.87 85.06,191.82 86.09,191.3 85.71,190.43" fill="#5353c3" stroke="#5353c3"/>
<polygon points="94.72,193.64 96.47,194.07 97.73,193.26 95.99,192.83" fill="#5353b7" stroke="#5353b7"/>
<polygon points="87.21,193.73 88.09,194.01 89.11,193.36 88.23,193.09" fill="#5353b8" stroke="#5353b8"/>
<polygon points="84.86,187.08 85.09,188.21 86.39,187.93 86.17,186.94" fill="#3e3ed0" stroke="#3e3ed0"/>
<polygon points="116.72,193.42 121.98,194.7 124.46,193.07 119.21,191.78" fill="#5353b7" stroke="#5353b7"/>
<polygon points="84.47,190.22 84.68,190.87 85.71,190.43 85.51,189.84" fill="#5353c8" stroke="#5353c8"/>
<polygon points="88.09,194.01 88.96,194.25 89.98,193.6 89.11,193.36" fill="#5353b7" stroke="#5353b7"/>
<polygon points="91.71,194.03 93.46,194.46 94.72,193.64 92.98,193.21" fill="#5353b7" stroke="#5353b7"/>
<polygon points="84.78,193.47 85.31,193.93 86.34,193.31 85.8,192.88" fill="#5353ba" stroke="#5353ba"/>
<polygon points="84.41,192.99 84.78,193.47 85.8,192.88 85.44,192.45" fill="#5353bd" stroke="#5353bd"/>
<polygon points="84.26,189.42 84.47,190.22 85.51,189.84 85.3,189.11" fill="#5353cc" stroke="#5353cc"/>
<polygon points="108.97,193.76 114.22,195.05 116.72,193.42 111.47,192.13" fill="#5353b7" stroke="#5353b7"/>
<polygon points="96.47,194.07 98.21,194.5 99.47,193.68 97.73,193.26" fill="#5353b7" stroke="#5353b7"/>
<polygon points="85.31,193.93 86.19,194.38 87.21,193.73 86.34,193.31" fill="#5353b9" stroke="#5353b9"/>
<polygon points="84.03,192.3 84.41,192.99 85.44,192.45 85.06,191.82" fill="#5353c0" stroke="#5353c0"/>
<polygon points="181.4,193.55 192.11,196.13 196.81,192.85 186.13,190.29" fill="#5353b7" stroke="#5353b7"/>
<polygon points="84.63,185.67 84.86,187.08 86.17,186.94 85.94,185.71" fill="#3939d7" stroke="#3939d7"/>
<polygon points="88.96,194.25 90.7,194.69 91.71,194.03 89.98,193.6" fill="#5353b7" stroke="#5353b7"/>
<polygon points="257.36,194.1 271.94,197.55 276.35,194.17 261.8,190.75" fill="#4c4cbe" stroke="#4c4cbe"/>
<polygon points="86.19,194.38 87.07,194.67 88.09,194.01 87.21,193.73" fill="#5353b8" stroke="#5353b8"/>
<polygon points="84.05,188.43 84.26,189.42 85.3,189.11 85.09,188.21" fill="#4242cd" stroke="#4242cd"/>
<polygon points="83.64,191.25 84.03,192.3 85.06,191.82 84.68,190.87" fill="#5353c5" stroke="#5353c5"/>
<polygon points="93.46,194.46 95.2,194.89 96.47,194.07 94.72,193.64" fill="#5353b7" stroke="#5353b7"/>
<polygon points="87.07,194.67 87.94,194.91 88.96,194.25 88.09,194.01" fill="#5353b7" stroke="#5353b7"/>
<polygon points="102.96,194.54 106.46,195.41 108.97,193.76 105.48,192.91" fill="#5353b7" stroke="#5353b7"/>
<polygon points="83.43,190.53 83.64,191.25 84.68,190.87 84.47,190.22" fill="#5353c9" stroke="#5353c9"/>
<polygon points="240.17,194.46 252.88,197.47 257.36,194.1 244.68,191.1" fill="#4e4ebb" stroke="#4e4ebb"/>
<polygon points="90.7,194.69 92.44,195.12 93.46,194.46 91.71,194.03" fill="#5353b7" stroke="#5353b7"/>
<polygon points="83.75,194.05 84.29,194.55 85.31,193.93 84.78,193.47" fill="#5353bb" stroke="#5353bb"/>
<polygon points="84.37,183.92 84.63,185.67 85.94,185.71 85.7,184.18" fill="#3232e1" stroke="#3232e1"/>
<polygon points="83.81,187.19 84.05,188.43 85.09,188.21 84.86,187.08" fill="#3e3ed4" stroke="#3e3ed4"/>
<polygon points="83.38,193.54 83.75,194.05 84.78,193.47 84.41,192.99" fill="#5353bd" stroke="#5353bd"/>
<polygon points="84.29,194.55 85.17,195.02 86.19,194.38 85.31,193.93" fill="#5353b9" stroke="#5353b9"/>
<polygon points="98.21,194.5 101.7,195.37 102.96,194.54 99.47,193.68" fill="#5353b7" stroke="#5353b7"/>
<polygon points="83.22,189.64 83.43,190.53 84.47,190.22 84.26,189.42" fill="#4444ca" stroke="#4444ca"/>
<polygon points="83,192.77 83.38,193.54 84.41,192.99 84.03,192.3" fill="#5353c1" stroke="#5353c1"/>
<polygon points="87.94,194.91 89.68,195.35 90.7,194.69 88.96,194.25" fill="#5353b7" stroke="#5353b7"/>
<polygon points="137.47,194 144.52,195.73 146.96,194.08 139.92,192.37" fill="#5353b7" stroke="#5353b7"/>
<polygon points="95.2,194.89 96.94,195.33 98.21,194.5 96.47,194.07" fill="#5353b7" stroke="#5353b7"/>
<polygon points="85.17,195.02 86.04,195.32 87.07,194.67 86.19,194.38" fill="#5353b8" stroke="#5353b8"/>
<polygon points="129.72,194.35 135.01,195.65 137.47,194 132.19,192.72" fill="#5353b7" stroke="#5353b7"/>
<polygon points="146.96,194.08 154.04,195.81 156.46,194.16 149.4,192.45" fill="#5353b7" stroke="#5353b7"/>
<polygon points="82.6,191.62 83,192.77 84.03,192.3 83.64,191.25" fill="#4343c1" stroke="#4343c1"/>
<polygon points="167.74,194.67 176.64,196.83 181.4,193.55 172.52,191.41" fill="#5353b7" stroke="#5353b7"/>
<polygon points="86.04,195.32 86.92,195.56 87.94,194.91 87.07,194.67" fill="#5353b8" stroke="#5353b8"/>
<polygon points="82.99,188.54 83.22,189.64 84.26,189.42 84.05,188.43" fill="#4040d0" stroke="#4040d0"/>
<polygon points="92.44,195.12 94.18,195.55 95.2,194.89 93.46,194.46" fill="#5353b7" stroke="#5353b7"/>
<polygon points="83.57,185.64 83.81,187.19 84.86,187.08 84.63,185.67" fill="#3939dc" stroke="#3939dc"/>
<polygon points="222.97,194.73 235.63,197.75 240.17,194.46 227.55,191.46" fill="#5353b9" stroke="#5353b9"/>
<polygon points="121.98,194.7 127.25,196 129.72,194.35 124.46,193.07" fill="#5353b7" stroke="#5353b7"/>
<polygon points="89.68,195.35 91.42,195.78 92.44,195.12 90.7,194.69" fill="#5353b7" stroke="#5353b7"/>
<polygon points="82.72,194.64 83.26,195.17 84.29,194.55 83.75,194.05" fill="#5353bb" stroke="#5353bb"/>
<polygon points="82.39,190.83 82.6,191.62 83.64,191.25 83.43,190.53" fill="#5353cc" stroke="#5353cc"/>
<polygon points="156.46,194.16 165.33,196.32 167.74,194.67 158.88,192.53" fill="#5353b7" stroke="#5353b7"/>
<polygon points="82.35,194.08 82.72,194.64 83.75,194.05 83.38,193.54" fill="#5353be" stroke="#5353be"/>
<polygon points="83.26,195.17 84.15,195.67 85.17,195.02 84.29,194.55" fill="#5353b9" stroke="#5353b9"/>
<polygon points="114.22,195.05 119.48,196.35 121.98,194.7 116.72,193.42" fill="#5353b7" stroke="#5353b7"/>
<polygon points="86.92,195.56 88.66,196 89.68,195.35 87.94,194.91" fill="#5353b7" stroke="#5353b7"/>
<polygon points="81.97,193.25 82.35,194.08 83.38,193.54 83,192.77" fill="#5353c2" stroke="#5353c2"/>
<polygon points="82.76,187.16 82.99,188.54 84.05,188.43 83.81,187.19" fill="#3b3bd7" stroke="#3b3bd7"/>
<polygon points="84.15,195.67 85.02,195.97 86.04,195.32 85.17,195.02" fill="#5353b8" stroke="#5353b8"/>
<polygon points="96.94,195.33 100.43,196.19 101.7,195.37 98.21,194.5" fill="#5353b7" stroke="#5353b7"/>
<polygon points="94.18,195.55 95.93,195.98 96.94,195.33 95.2,194.89" fill="#5353b7" stroke="#5353b7"/>
<polygon points="82.17,189.85 82.39,190.83 83.43,190.53 83.22,189.64" fill="#4343cd" stroke="#4343cd"/>
<polygon points="106.46,195.41 111.71,196.7 114.22,195.05 108.97,193.76" fill="#5353b7" stroke="#5353b7"/>
<polygon points="101.7,195.37 105.2,196.23 106.46,195.41 102.96,194.54" fill="#5353b7" stroke="#5353b7"/>
<polygon points="83.3,183.71 83.57,185.64 84.63,185.67 84.37,183.92" fill="#3232e8" stroke="#3232e8"/>
<polygon points="85.02,195.97 85.89,196.22 86.92,195.56 86.04,195.32" fill="#5353b8" stroke="#5353b8"/>
<polygon points="91.42,195.78 93.16,196.21 94.18,195.55 92.44,195.12" fill="#5353b7" stroke="#5353b7"/>
<polygon points="81.56,192 81.97,193.25 83,192.77 82.6,191.62" fill="#4242c3" stroke="#4242c3"/>
<polygon points="207.56,195.43 218.36,198.02 222.97,194.73 212.2,192.15" fill="#5353b7" stroke="#5353b7"/>
<polygon points="88.66,196 90.4,196.44 91.42,195.78 89.68,195.35" fill="#5353b7" stroke="#5353b7"/>
<polygon points="81.94,188.63 82.17,189.85 83.22,189.64 82.99,188.54" fill="#3e3ed3" stroke="#3e3ed3"/>
<polygon points="81.69,195.22 82.24,195.79 83.26,195.17 82.72,194.64" fill="#5353bc" stroke="#5353bc"/>
<polygon points="82.24,195.79 83.12,196.32 84.15,195.67 83.26,195.17" fill="#5353ba" stroke="#5353ba"/>
<polygon points="81.32,194.63 81.69,195.22 82.72,194.64 82.35,194.08" fill="#5353bf" stroke="#5353bf"/>
<polygon points="82.5,185.44 82.76,187.16 83.81,187.19 83.57,185.64" fill="#3535e1" stroke="#3535e1"/>
<polygon points="81.35,191.14 81.56,192 82.6,191.62 82.39,190.83" fill="#5353ce" stroke="#5353ce"/>
<polygon points="85.89,196.22 87.64,196.66 88.66,196 86.92,195.56" fill="#5353b8" stroke="#5353b8"/>
<polygon points="83.12,196.32 84,196.63 85.02,195.97 84.15,195.67" fill="#5353b8" stroke="#5353b8"/>
<polygon points="80.93,193.73 81.32,194.63 82.35,194.08 81.97,193.25" fill="#5353c3" stroke="#5353c3"/>
<polygon points="93.16,196.21 94.91,196.64 95.93,195.98 94.18,195.55" fill="#5353b7" stroke="#5353b7"/>
<polygon points="95.93,195.98 99.42,196.85 100.43,196.19 96.94,195.33" fill="#5353b7" stroke="#5353b7"/>
<polygon points="84,196.63 84.87,196.88 85.89,196.22 85.02,195.97" fill="#5353b8" stroke="#5353b8"/>
<polygon points="81.12,190.07 81.35,191.14 82.39,190.83 82.17,189.85" fill="#4141d0" stroke="#4141d0"/>
<polygon points="90.4,196.44 92.15,196.87 93.16,196.21 91.42,195.78" fill="#5353b7" stroke="#5353b7"/>
<polygon points="81.7,187.11 81.94,188.63 82.99,188.54 82.76,187.16" fill="#3939dc" stroke="#3939dc"/>
<polygon points="135.01,195.65 142.07,197.37 144.52,195.73 137.47,194" fill="#5353b7" stroke="#5353b7"/>
<polygon points="100.43,196.19 103.93,197.05 105.2,196.23 101.7,195.37" fill="#5353b7" stroke="#5353b7"/>
<polygon points="80.52,192.37 80.93,193.73 81.97,193.25 81.56,192" fill="#4040c4" stroke="#4040c4"/>
<polygon points="127.25,196 132.54,197.29 135.01,195.65 129.72,194.35" fill="#5353b7" stroke="#5353b7"/>
<polygon points="80.92,195.66 81.46,196.26 82.24,195.79 81.69,195.22" fill="#5353bc" stroke="#5353bc"/>
<polygon points="87.64,196.66 89.38,197.1 90.4,196.44 88.66,196" fill="#5353b8" stroke="#5353b8"/>
<polygon points="81.46,196.26 82.35,196.8 83.12,196.32 82.24,195.79" fill="#5353ba" stroke="#5353ba"/>
<polygon points="80.54,195.03 80.92,195.66 81.69,195.22 81.32,194.63" fill="#5353bf" stroke="#5353bf"/>
<polygon points="144.52,195.73 151.61,197.45 154.04,195.81 146.96,194.08" fill="#5353b7" stroke="#5353b7"/>
<polygon points="192.11,196.13 202.89,198.72 207.56,195.43 196.81,192.85" fill="#5353b7" stroke="#5353b7"/>
<polygon points="82.23,183.28 82.5,185.44 83.57,185.64 83.3,183.71" fill="#2d2def" stroke="#2d2def"/>
<polygon points="84.87,196.88 86.61,197.32 87.64,196.66 85.89,196.22" fill="#5353b8" stroke="#5353b8"/>
<polygon points="82.35,196.8 83.23,197.12 84,196.63 83.12,196.32" fill="#5353b8" stroke="#5353b8"/>
<polygon points="80.89,188.73 81.12,190.07 82.17,189.85 81.94,188.63" fill="#3d3dd7" stroke="#3d3dd7"/>
<polygon points="119.48,196.35 124.76,197.65 127.25,196 121.98,194.7" fill="#5353b7" stroke="#5353b7"/>
<polygon points="80.15,194.09 80.54,195.03 81.32,194.63 80.93,193.73" fill="#5353c4" stroke="#5353c4"/>
<polygon points="80.3,191.44 80.52,192.37 81.56,192 81.35,191.14" fill="#5353d0" stroke="#5353d0"/>
<polygon points="105.2,196.23 110.46,197.53 111.71,196.7 106.46,195.41" fill="#5353b7" stroke="#5353b7"/>
<polygon points="92.15,196.87 93.89,197.3 94.91,196.64 93.16,196.21" fill="#5353b7" stroke="#5353b7"/>
<polygon points="94.91,196.64 98.41,197.51 99.42,196.85 95.93,195.98" fill="#5353b7" stroke="#5353b7"/>
<polygon points="83.23,197.12 84.1,197.37 84.87,196.88 84,196.63" fill="#5353b8" stroke="#5353b8"/>
<polygon points="80.4,195.93 80.95,196.56 81.46,196.26 80.92,195.66" fill="#5353bd" stroke="#5353bd"/>
<polygon points="81.43,185.21 81.7,187.11 82.76,187.16 82.5,185.44" fill="#3232e7" stroke="#3232e7"/>
<polygon points="80.95,196.56 81.84,197.12 82.35,196.8 81.46,196.26" fill="#5353ba" stroke="#5353ba"/>
<polygon points="154.04,195.81 162.92,197.97 165.33,196.32 156.46,194.16" fill="#5353b7" stroke="#5353b7"/>
<polygon points="111.71,196.7 116.98,198 119.48,196.35 114.22,195.05" fill="#5353b7" stroke="#5353b7"/>
<polygon points="89.38,197.1 91.12,197.53 92.15,196.87 90.4,196.44" fill="#5353b8" stroke="#5353b8"/>
<polygon points="80.02,195.27 80.4,195.93 80.92,195.66 80.54,195.03" fill="#5353c0" stroke="#5353c0"/>
<polygon points="271.94,197.55 284.43,200.5 288.8,197.1 276.35,194.17" fill="#4c4cbe" stroke="#4c4cbe"/>
<polygon points="81.84,197.12 82.71,197.45 83.23,197.12 82.35,196.8" fill="#5353b9" stroke="#5353b9"/>
<polygon points="79.74,192.66 80.15,194.09 80.93,193.73 80.52,192.37" fill="#4040c6" stroke="#4040c6"/>
<polygon points="80.07,190.28 80.3,191.44 81.35,191.14 81.12,190.07" fill="#4040d2" stroke="#4040d2"/>
<polygon points="86.61,197.32 88.36,197.76 89.38,197.1 87.64,196.66" fill="#5353b8" stroke="#5353b8"/>
<polygon points="99.42,196.85 102.92,197.71 103.93,197.05 100.43,196.19" fill="#5353b7" stroke="#5353b7"/>
<polygon points="79.63,194.26 80.02,195.27 80.54,195.03 80.15,194.09" fill="#5353c5" stroke="#5353c5"/>
<polygon points="80.63,187.07 80.89,188.73 81.94,188.63 81.7,187.11" fill="#3737e0" stroke="#3737e0"/>
<polygon points="84.1,197.37 85.84,197.82 86.61,197.32 84.87,196.88" fill="#5353b8" stroke="#5353b8"/>
<polygon points="79.88,196.19 80.43,196.85 80.95,196.56 80.4,195.93" fill="#5353bd" stroke="#5353bd"/>
<polygon points="80.43,196.85 81.32,197.44 81.84,197.12 80.95,196.56" fill="#5353ba" stroke="#5353ba"/>
<polygon points="82.71,197.45 83.58,197.7 84.1,197.37 83.23,197.12" fill="#5353b8" stroke="#5353b8"/>
<polygon points="79.5,195.48 79.88,196.19 80.4,195.93 80.02,195.27" fill="#5353c1" stroke="#5353c1"/>
<polygon points="176.64,196.83 187.38,199.43 192.11,196.13 181.4,193.55" fill="#5353b7" stroke="#5353b7"/>
<polygon points="81.32,197.44 82.2,197.77 82.71,197.45 81.84,197.12" fill="#5353b9" stroke="#5353b9"/>
<polygon points="91.12,197.53 92.87,197.96 93.89,197.3 92.15,196.87" fill="#5353b8" stroke="#5353b8"/>
<polygon points="79.52,191.67 79.74,192.66 80.52,192.37 80.3,191.44" fill="#5353d2" stroke="#5353d2"/>
<polygon points="165.33,196.32 174.25,198.48 176.64,196.83 167.74,194.67" fill="#5353b7" stroke="#5353b7"/>
<polygon points="93.89,197.3 97.39,198.17 98.41,197.51 94.91,196.64" fill="#5353b7" stroke="#5353b7"/>
<polygon points="252.88,197.47 267.5,200.95 271.94,197.55 257.36,194.1" fill="#4e4ebb" stroke="#4e4ebb"/>
<polygon points="79.21,192.74 79.63,194.26 80.15,194.09 79.74,192.66" fill="#3f3fc7" stroke="#3f3fc7"/>
<polygon points="79.83,188.83 80.07,190.28 81.12,190.07 80.89,188.73" fill="#3b3bda" stroke="#3b3bda"/>
<polygon points="79.11,194.41 79.5,195.48 80.02,195.27 79.63,194.26" fill="#5353c6" stroke="#5353c6"/>
<polygon points="79.36,196.44 79.91,197.14 80.43,196.85 79.88,196.19" fill="#5353bd" stroke="#5353bd"/>
<polygon points="79.91,197.14 80.81,197.76 81.32,197.44 80.43,196.85" fill="#5353ba" stroke="#5353ba"/>
<polygon points="103.93,197.05 109.2,198.35 110.46,197.53 105.2,196.23" fill="#5353b7" stroke="#5353b7"/>
<polygon points="82.2,197.77 83.07,198.03 83.58,197.7 82.71,197.45" fill="#5353b8" stroke="#5353b8"/>
<polygon points="88.36,197.76 90.1,198.19 91.12,197.53 89.38,197.1" fill="#5353b8" stroke="#5353b8"/>
<polygon points="83.58,197.7 85.33,198.15 85.84,197.82 84.1,197.37" fill="#5353b8" stroke="#5353b8"/>
<polygon points="81.14,182.83 81.43,185.21 82.5,185.44 82.23,183.28" fill="#2a2af7" stroke="#2a2af7"/>
<polygon points="85.84,197.82 87.59,198.25 88.36,197.76 86.61,197.32" fill="#5353b8" stroke="#5353b8"/>
<polygon points="78.98,195.69 79.36,196.44 79.88,196.19 79.5,195.48" fill="#5353c1" stroke="#5353c1"/>
<polygon points="80.81,197.76 81.68,198.1 82.2,197.77 81.32,197.44" fill="#5353b9" stroke="#5353b9"/>
<polygon points="98.41,197.51 101.91,198.37 102.92,197.71 99.42,196.85" fill="#5353b7" stroke="#5353b7"/>
<polygon points="79.28,190.44 79.52,191.67 80.3,191.44 80.07,190.28" fill="#4141d5" stroke="#4141d5"/>
<polygon points="80.36,184.99 80.63,187.07 81.7,187.11 81.43,185.21" fill="#3030ed" stroke="#3030ed"/>
<polygon points="79.5,197.38 80.39,198.01 80.81,197.76 79.91,197.14" fill="#5353bb" stroke="#5353bb"/>
<polygon points="78.95,196.65 79.5,197.38 79.91,197.14 79.36,196.44" fill="#5353be" stroke="#5353be"/>
<polygon points="235.63,197.75 248.37,200.79 252.88,197.47 240.17,194.46" fill="#5353b9" stroke="#5353b9"/>
<polygon points="81.68,198.1 82.56,198.36 83.07,198.03 82.2,197.77" fill="#5353b8" stroke="#5353b8"/>
<polygon points="78.58,194.55 78.98,195.69 79.5,195.48 79.11,194.41" fill="#5353c7" stroke="#5353c7"/>
<polygon points="83.07,198.03 84.82,198.48 85.33,198.15 83.58,197.7" fill="#5353b8" stroke="#5353b8"/>
<polygon points="78.99,191.69 79.21,192.74 79.74,192.66 79.52,191.67" fill="#4343d0" stroke="#4343d0"/>
<polygon points="78.68,192.77 79.11,194.41 79.63,194.26 79.21,192.74" fill="#3d3dc8" stroke="#3d3dc8"/>
<polygon points="80.39,198.01 81.27,198.36 81.68,198.1 80.81,197.76" fill="#5353b9" stroke="#5353b9"/>
<polygon points="78.56,195.86 78.95,196.65 79.36,196.44 78.98,195.69" fill="#5353c2" stroke="#5353c2"/>
<polygon points="132.54,197.29 139.61,199.03 142.07,197.37 135.01,195.65" fill="#5353b7" stroke="#5353b7"/>
<polygon points="90.1,198.19 91.85,198.63 92.87,197.96 91.12,197.53" fill="#5353b8" stroke="#5353b8"/>
<polygon points="124.76,197.65 130.06,198.95 132.54,197.29 127.25,196" fill="#5353b7" stroke="#5353b7"/>
<polygon points="85.33,198.15 87.08,198.58 87.59,198.25 85.84,197.82" fill="#5353b8" stroke="#5353b8"/>
<polygon points="79.57,187.02 79.83,188.83 80.89,188.73 80.63,187.07" fill="#3535e5" stroke="#3535e5"/>
<polygon points="79.14,197.55 80.03,198.22 80.39,198.01 79.5,197.38" fill="#5353bb" stroke="#5353bb"/>
<polygon points="92.87,197.96 96.37,198.83 97.39,198.17 93.89,197.3" fill="#5353b8" stroke="#5353b8"/>
<polygon points="78.58,196.76 79.14,197.55 79.5,197.38 78.95,196.65" fill="#5353be" stroke="#5353be"/>
<polygon points="87.59,198.25 89.34,198.69 90.1,198.19 88.36,197.76" fill="#5353b8" stroke="#5353b8"/>
<polygon points="110.46,197.53 115.73,198.83 116.98,198 111.71,196.7" fill="#5353b7" stroke="#5353b7"/>
<polygon points="81.27,198.36 82.15,198.62 82.56,198.36 81.68,198.1" fill="#5353b8" stroke="#5353b8"/>
<polygon points="142.07,197.37 149.16,199.11 151.61,197.45 144.52,195.73" fill="#5353b7" stroke="#5353b7"/>
<polygon points="80.03,198.22 80.91,198.59 81.27,198.36 80.39,198.01" fill="#5353b9" stroke="#5353b9"/>
<polygon points="82.56,198.36 84.3,198.81 84.82,198.48 83.07,198.03" fill="#5353b8" stroke="#5353b8"/>
<polygon points="78.16,194.67 78.56,195.86 78.98,195.69 78.58,194.55" fill="#4444c3" stroke="#4444c3"/>
<polygon points="79.04,188.91 79.28,190.44 80.07,190.28 79.83,188.83" fill="#3c3cde" stroke="#3c3cde"/>
<polygon points="78.19,195.9 78.58,196.76 78.95,196.65 78.56,195.86" fill="#5353c3" stroke="#5353c3"/>
<polygon points="102.92,197.71 108.19,199.01 109.2,198.35 103.93,197.05" fill="#5353b7" stroke="#5353b7"/>
<polygon points="78.88,197.67 79.77,198.38 80.03,198.22 79.14,197.55" fill="#5353bb" stroke="#5353bb"/>
<polygon points="116.98,198 122.27,199.3 124.76,197.65 119.48,196.35" fill="#5353b7" stroke="#5353b7"/>
<polygon points="78.75,190.38 78.99,191.69 79.52,191.67 79.28,190.44" fill="#3f3fd7" stroke="#3f3fd7"/>
<polygon points="78.15,192.81 78.58,194.55 79.11,194.41 78.68,192.77" fill="#3c3cc9" stroke="#3c3cc9"/>
<polygon points="78.32,196.84 78.88,197.67 79.14,197.55 78.58,196.76" fill="#5353bf" stroke="#5353bf"/>
<polygon points="78.45,191.65 78.68,192.77 79.21,192.74 78.99,191.69" fill="#4242d2" stroke="#4242d2"/>
<polygon points="84.82,198.48 86.56,198.92 87.08,198.58 85.33,198.15" fill="#5353b8" stroke="#5353b8"/>
<polygon points="97.39,198.17 100.89,199.04 101.91,198.37 98.41,197.51" fill="#5353b7" stroke="#5353b7"/>
<polygon points="79.77,198.38 80.65,198.75 80.91,198.59 80.03,198.22" fill="#5353b9" stroke="#5353b9"/>
<polygon points="218.36,198.02 231.05,201.06 235.63,197.75 222.97,194.73" fill="#5353b7" stroke="#5353b7"/>
<polygon points="80.91,198.59 81.78,198.85 82.15,198.62 81.27,198.36" fill="#5353b8" stroke="#5353b8"/>
<polygon points="78.61,197.73 79.51,198.51 79.77,198.38 78.88,197.67" fill="#5353bb" stroke="#5353bb"/>
<polygon points="82.15,198.62 83.89,199.08 84.3,198.81 82.56,198.36" fill="#5353b8" stroke="#5353b8"/>
<polygon points="77.93,195.93 78.32,196.84 78.58,196.76 78.19,195.9" fill="#5353c3" stroke="#5353c3"/>
<polygon points="87.08,198.58 88.82,199.02 89.34,198.69 87.59,198.25" fill="#5353b8" stroke="#5353b8"/>
<polygon points="151.61,197.45 160.5,199.62 162.92,197.97 154.04,195.81" fill="#5353b7" stroke="#5353b7"/>
<polygon points="78.05,196.8 78.61,197.73 78.88,197.67 78.32,196.84" fill="#5353bf" stroke="#5353bf"/>
<polygon points="77.78,194.6 78.19,195.9 78.56,195.86 78.16,194.67" fill="#4141c4" stroke="#4141c4"/>
<polygon points="79.51,198.51 80.39,198.91 80.65,198.75 79.77,198.38" fill="#5353b9" stroke="#5353b9"/>
<polygon points="80.65,198.75 81.53,199.02 81.78,198.85 80.91,198.59" fill="#5353b8" stroke="#5353b8"/>
<polygon points="89.34,198.69 91.08,199.12 91.85,198.63 90.1,198.19" fill="#5353b8" stroke="#5353b8"/>
<polygon points="78.35,197.8 79.25,198.64 79.51,198.51 78.61,197.73" fill="#5353bc" stroke="#5353bc"/>
<polygon points="80.06,182.38 80.36,184.99 81.43,185.21 81.14,182.83" fill="#2727fd" stroke="#2727fd"/>
<polygon points="84.3,198.81 86.05,199.25 86.56,198.92 84.82,198.48" fill="#5353b8" stroke="#5353b8"/>
<polygon points="77.72,192.84 78.16,194.67 78.58,194.55 78.15,192.81" fill="#3b3bcb" stroke="#3b3bcb"/>
<polygon points="79.25,198.64 80.14,199.06 80.39,198.91 79.51,198.51" fill="#5353b9" stroke="#5353b9"/>
<polygon points="91.85,198.63 95.35,199.49 96.37,198.83 92.87,197.96" fill="#5353b8" stroke="#5353b8"/>
<polygon points="77.65,195.78 78.05,196.8 78.32,196.84 77.93,195.93" fill="#5353c5" stroke="#5353c5"/>
<polygon points="81.78,198.85 83.53,199.31 83.89,199.08 82.15,198.62" fill="#5353b8" stroke="#5353b8"/>
<polygon points="77.78,196.76 78.35,197.8 78.61,197.73 78.05,196.8" fill="#5353c0" stroke="#5353c0"/>
<polygon points="80.39,198.91 81.27,199.18 81.53,199.02 80.65,198.75" fill="#5353b8" stroke="#5353b8"/>
<polygon points="78.21,190.24 78.45,191.65 78.99,191.69 78.75,190.38" fill="#3d3dda" stroke="#3d3dda"/>
<polygon points="79.28,184.76 79.57,187.02 80.63,187.07 80.36,184.99" fill="#2e2ef3" stroke="#2e2ef3"/>
<polygon points="77.92,191.61 78.15,192.81 78.68,192.77 78.45,191.65" fill="#4141d4" stroke="#4141d4"/>
<polygon points="78.5,188.74 78.75,190.38 79.28,190.44 79.04,188.91" fill="#3a3ae1" stroke="#3a3ae1"/>
<polygon points="77.52,194.56 77.93,195.93 78.19,195.9 77.78,194.6" fill="#4141c5" stroke="#4141c5"/>
<polygon points="86.56,198.92 88.31,199.35 88.82,199.02 87.08,198.58" fill="#5353b8" stroke="#5353b8"/>
<polygon points="78.77,186.99 79.04,188.91 79.83,188.83 79.57,187.02" fill="#3636e9" stroke="#3636e9"/>
<polygon points="78.07,197.59 78.99,198.69 79.25,198.64 78.35,197.8" fill="#5353bd" stroke="#5353bd"/>
<polygon points="78.99,198.69 79.88,199.19 80.14,199.06 79.25,198.64" fill="#5353ba" stroke="#5353ba"/>
<polygon points="80.14,199.06 81.01,199.34 81.27,199.18 80.39,198.91" fill="#5353b9" stroke="#5353b9"/>
<polygon points="101.91,198.37 107.18,199.68 108.19,199.01 102.92,197.71" fill="#5353b7" stroke="#5353b7"/>
<polygon points="81.53,199.02 83.27,199.47 83.53,199.31 81.78,198.85" fill="#5353b8" stroke="#5353b8"/>
<polygon points="109.2,198.35 114.47,199.66 115.73,198.83 110.46,197.53" fill="#5353b7" stroke="#5353b7"/>
<polygon points="83.89,199.08 85.64,199.51 86.05,199.25 84.3,198.81" fill="#5353b8" stroke="#5353b8"/>
<polygon points="88.82,199.02 90.57,199.45 91.08,199.12 89.34,198.69" fill="#5353b8" stroke="#5353b8"/>
<polygon points="77.38,195.62 77.78,196.76 78.05,196.8 77.65,195.78" fill="#4343c2" stroke="#4343c2"/>
<polygon points="96.37,198.83 99.88,199.7 100.89,199.04 97.39,198.17" fill="#5353b8" stroke="#5353b8"/>
<polygon points="77.49,196.2 78.07,197.59 78.35,197.8 77.78,196.76" fill="#3e3ebc" stroke="#3e3ebc"/>
<polygon points="77.34,192.6 77.78,194.6 78.16,194.67 77.72,192.84" fill="#3737cc" stroke="#3737cc"/>
<polygon points="202.89,198.72 213.72,201.33 218.36,198.02 207.56,195.43" fill="#5353b7" stroke="#5353b7"/>
<polygon points="162.92,197.97 171.84,200.14 174.25,198.48 165.33,196.32" fill="#5353b7" stroke="#5353b7"/>
<polygon points="79.88,199.19 80.75,199.5 81.01,199.34 80.14,199.06" fill="#5353b9" stroke="#5353b9"/>
<polygon points="81.27,199.18 83.02,199.64 83.27,199.47 81.53,199.02" fill="#5353b8" stroke="#5353b8"/>
<polygon points="77.23,194.22 77.65,195.78 77.93,195.93 77.52,194.56" fill="#3c3cc6" stroke="#3c3cc6"/>
<polygon points="78.72,198.67 79.62,199.3 79.88,199.19 78.99,198.69" fill="#5353ba" stroke="#5353ba"/>
<polygon points="77.79,197.19 78.72,198.67 78.99,198.69 78.07,197.59" fill="#4141b9" stroke="#4141b9"/>
<polygon points="86.05,199.25 87.8,199.68 88.31,199.35 86.56,198.92" fill="#5353b8" stroke="#5353b8"/>
<polygon points="77.49,191.58 77.72,192.84 78.15,192.81 77.92,191.61" fill="#4141d6" stroke="#4141d6"/>
<polygon points="83.53,199.31 85.28,199.75 85.64,199.51 83.89,199.08" fill="#5353b8" stroke="#5353b8"/>
<polygon points="79.62,199.3 80.49,199.64 80.75,199.5 79.88,199.19" fill="#5353b9" stroke="#5353b9"/>
<polygon points="81.01,199.34 82.76,199.81 83.02,199.64 81.27,199.18" fill="#5353b8" stroke="#5353b8"/>
<polygon points="77.67,190.11 77.92,191.61 78.45,191.65 78.21,190.24" fill="#3c3cdd" stroke="#3c3cdd"/>
<polygon points="91.08,199.12 94.59,199.99 95.35,199.49 91.85,198.63" fill="#5353b8" stroke="#5353b8"/>
<polygon points="88.31,199.35 90.06,199.79 90.57,199.45 88.82,199.02" fill="#5353b8" stroke="#5353b8"/>
<polygon points="77.95,188.49 78.21,190.24 78.75,190.38 78.5,188.74" fill="#3737e4" stroke="#3737e4"/>
<polygon points="78.45,198.62 79.35,199.39 79.62,199.3 78.72,198.67" fill="#5353bb" stroke="#5353bb"/>
<polygon points="77.06,192.44 77.52,194.56 77.78,194.6 77.34,192.6" fill="#3737cf" stroke="#3737cf"/>
<polygon points="83.27,199.47 85.02,199.91 85.28,199.75 83.53,199.31" fill="#5353b8" stroke="#5353b8"/>
<polygon points="77.06,194.64 77.49,196.2 77.78,196.76 77.38,195.62" fill="#3737c3" stroke="#3737c3"/>
<polygon points="80.75,199.5 82.5,199.97 82.76,199.81 81.01,199.34" fill="#5353b8" stroke="#5353b8"/>
<polygon points="76.95,193.87 77.38,195.62 77.65,195.78 77.23,194.22" fill="#3a3ac9" stroke="#3a3ac9"/>
<polygon points="79.35,199.39 80.24,199.79 80.49,199.64 79.62,199.3" fill="#5353b9" stroke="#5353b9"/>
<polygon points="85.64,199.51 87.39,199.95 87.8,199.68 86.05,199.25" fill="#5353b8" stroke="#5353b8"/>
<polygon points="78.22,186.7 78.5,188.74 79.04,188.91 78.77,186.99" fill="#3333ed" stroke="#3333ed"/>
<polygon points="77.49,196.66 78.45,198.62 78.72,198.67 77.79,197.19" fill="#3a3aba" stroke="#3a3aba"/>
<polygon points="77.17,195.23 77.79,197.19 78.07,197.59 77.49,196.2" fill="#3434be" stroke="#3434be"/>
<polygon points="115.73,198.83 121.02,200.13 122.27,199.3 116.98,198" fill="#5353b7" stroke="#5353b7"/>
<polygon points="78.18,198.52 79.09,199.47 79.35,199.39 78.45,198.62" fill="#5353bc" stroke="#5353bc"/>
<polygon points="100.89,199.04 106.16,200.34 107.18,199.68 101.91,198.37" fill="#5353b7" stroke="#5353b7"/>
<polygon points="83.02,199.64 84.76,200.08 85.02,199.91 83.27,199.47" fill="#5353b8" stroke="#5353b8"/>
<polygon points="80.49,199.64 82.24,200.13 82.5,199.97 80.75,199.5" fill="#5353b8" stroke="#5353b8"/>
<polygon points="77.1,191.22 77.34,192.6 77.72,192.84 77.49,191.58" fill="#3c3cd9" stroke="#3c3cd9"/>
<polygon points="79.09,199.47 79.98,199.93 80.24,199.79 79.35,199.39" fill="#5353ba" stroke="#5353ba"/>
<polygon points="78.48,184.59 78.77,186.99 79.57,187.02 79.28,184.76" fill="#2e2ef9" stroke="#2e2ef9"/>
<polygon points="130.06,198.95 137.14,200.69 139.61,199.03 132.54,197.29" fill="#5353b7" stroke="#5353b7"/>
<polygon points="87.8,199.68 89.55,200.12 90.06,199.79 88.31,199.35" fill="#5353b8" stroke="#5353b8"/>
<polygon points="108.19,199.01 113.47,200.32 114.47,199.66 109.2,198.35" fill="#5353b7" stroke="#5353b7"/>
<polygon points="122.27,199.3 127.57,200.61 130.06,198.95 124.76,197.65" fill="#5353b7" stroke="#5353b7"/>
<polygon points="95.35,199.49 98.86,200.37 99.88,199.7 96.37,198.83" fill="#5353b8" stroke="#5353b8"/>
<polygon points="78.97,181.93 79.28,184.76 80.36,184.99 80.06,182.38" fill="#2424fe" stroke="#2424fe"/>
<polygon points="85.28,199.75 87.03,200.18 87.39,199.95 85.64,199.51" fill="#5353b8" stroke="#5353b8"/>
<polygon points="77.24,190 77.49,191.58 77.92,191.61 77.67,190.11" fill="#3c3cdf" stroke="#3c3cdf"/>
<polygon points="90.57,199.45 94.08,200.32 94.59,199.99 91.08,199.12" fill="#5353b8" stroke="#5353b8"/>
<polygon points="76.76,191.8 77.23,194.22 77.52,194.56 77.06,192.44" fill="#2f2fd1" stroke="#2f2fd1"/>
<polygon points="82.76,199.81 84.51,200.24 84.76,200.08 83.02,199.64" fill="#5353b8" stroke="#5353b8"/>
<polygon points="80.24,199.79 81.99,200.3 82.24,200.13 80.49,199.64" fill="#5353b8" stroke="#5353b8"/>
<polygon points="77.92,198.54 78.83,199.59 79.09,199.47 78.18,198.52" fill="#5353bd" stroke="#5353bd"/>
<polygon points="78.83,199.59 79.72,200.08 79.98,199.93 79.09,199.47" fill="#5353ba" stroke="#5353ba"/>
<polygon points="139.61,199.03 146.71,200.77 149.16,199.11 142.07,197.37" fill="#5353b7" stroke="#5353b7"/>
<polygon points="174.25,198.48 185,201.09 187.38,199.43 176.64,196.83" fill="#5353b7" stroke="#5353b7"/>
<polygon points="77.19,196.02 78.18,198.52 78.45,198.62 77.49,196.66" fill="#3333bb" stroke="#3333bb"/>
<polygon points="77.4,188.24 77.67,190.11 78.21,190.24 77.95,188.49" fill="#3636e8" stroke="#3636e8"/>
<polygon points="85.02,199.91 86.77,200.35 87.03,200.18 85.28,199.75" fill="#5353b8" stroke="#5353b8"/>
<polygon points="187.38,199.43 198.18,202.05 202.89,198.72 192.11,196.13" fill="#5353b7" stroke="#5353b7"/>
<polygon points="82.5,199.97 84.25,200.41 84.51,200.24 82.76,199.81" fill="#5353b8" stroke="#5353b8"/>
<polygon points="79.98,199.93 81.73,200.46 81.99,200.3 80.24,199.79" fill="#5353b9" stroke="#5353b9"/>
<polygon points="87.39,199.95 89.14,200.38 89.55,200.12 87.8,199.68" fill="#5353b8" stroke="#5353b8"/>
<polygon points="76.6,192.23 77.06,194.64 77.38,195.62 76.95,193.87" fill="#2727cc" stroke="#2727cc"/>
<polygon points="76.82,190.97 77.06,192.44 77.34,192.6 77.1,191.22" fill="#3d3ddc" stroke="#3d3ddc"/>
<polygon points="77.67,186.3 77.95,188.49 78.5,188.74 78.22,186.7" fill="#3030f2" stroke="#3030f2"/>
<polygon points="90.06,199.79 93.56,200.66 94.08,200.32 90.57,199.45" fill="#5353b8" stroke="#5353b8"/>
<polygon points="76.84,194.03 77.49,196.66 77.79,197.19 77.17,195.23" fill="#2a2ac3" stroke="#2a2ac3"/>
<polygon points="84.76,200.08 86.51,200.51 86.77,200.35 85.02,199.91" fill="#5353b8" stroke="#5353b8"/>
<polygon points="82.24,200.13 83.99,200.58 84.25,200.41 82.5,199.97" fill="#5353b8" stroke="#5353b8"/>
<polygon points="76.71,193.01 77.17,195.23 77.49,196.2 77.06,194.64" fill="#2929c9" stroke="#2929c9"/>
<polygon points="79.72,200.08 81.47,200.63 81.73,200.46 79.98,199.93" fill="#5353b9" stroke="#5353b9"/>
<polygon points="76.84,189.5 77.1,191.22 77.49,191.58 77.24,190" fill="#3636e3" stroke="#3636e3"/>
<polygon points="76.46,191.16 76.95,193.87 77.23,194.22 76.76,191.8" fill="#2b2bd5" stroke="#2b2bd5"/>
<polygon points="87.03,200.18 88.78,200.62 89.14,200.38 87.39,199.95" fill="#5353b8" stroke="#5353b8"/>
<polygon points="149.16,199.11 158.07,201.29 160.5,199.62 151.61,197.45" fill="#5353b7" stroke="#5353b7"/>
<polygon points="76.91,195.73 77.92,198.54 78.18,198.52 77.19,196.02" fill="#3030bd" stroke="#3030bd"/>
<polygon points="84.51,200.24 86.26,200.68 86.51,200.51 84.76,200.08" fill="#5353b8" stroke="#5353b8"/>
<polygon points="99.88,199.7 105.15,201.01 106.16,200.34 100.89,199.04" fill="#5353b8" stroke="#5353b8"/>
<polygon points="81.99,200.3 83.73,200.74 83.99,200.58 82.24,200.13" fill="#5353b8" stroke="#5353b8"/>
<polygon points="94.59,199.99 98.1,200.86 98.86,200.37 95.35,199.49" fill="#5353b8" stroke="#5353b8"/>
<polygon points="77.92,184.14 78.22,186.7 78.77,186.99 78.48,184.59" fill="#2b2bfd" stroke="#2b2bfd"/>
<polygon points="107.18,199.68 112.46,200.99 113.47,200.32 108.19,199.01" fill="#5353b7" stroke="#5353b7"/>
<polygon points="76.97,188.04 77.24,190 77.67,190.11 77.4,188.24" fill="#3636eb" stroke="#3636eb"/>
<polygon points="114.47,199.66 119.76,200.96 121.02,200.13 115.73,198.83" fill="#5353b7" stroke="#5353b7"/>
<polygon points="89.55,200.12 93.05,200.99 93.56,200.66 90.06,199.79" fill="#5353b8" stroke="#5353b8"/>
<polygon points="267.5,200.95 280.02,203.92 284.43,200.5 271.94,197.55" fill="#4e4ebb" stroke="#4e4ebb"/>
<polygon points="86.77,200.35 88.52,200.78 88.78,200.62 87.03,200.18" fill="#5353b8" stroke="#5353b8"/>
<polygon points="84.25,200.41 86,200.85 86.26,200.68 84.51,200.24" fill="#5353b8" stroke="#5353b8"/>
<polygon points="81.73,200.46 83.48,200.91 83.73,200.74 81.99,200.3" fill="#5353b8" stroke="#5353b8"/>
<polygon points="76.51,190.13 76.76,191.8 77.06,192.44 76.82,190.97" fill="#3434e0" stroke="#3434e0"/>
<polygon points="86.51,200.51 88.26,200.95 88.52,200.78 86.77,200.35" fill="#5353b8" stroke="#5353b8"/>
<polygon points="83.99,200.58 85.74,201.01 86,200.85 84.25,200.41" fill="#5353b8" stroke="#5353b8"/>
<polygon points="81.47,200.63 83.22,201.07 83.48,200.91 81.73,200.46" fill="#5353b8" stroke="#5353b8"/>
<polygon points="76.55,189.14 76.82,190.97 77.1,191.22 76.84,189.5" fill="#3737e7" stroke="#3737e7"/>
<polygon points="78.15,181.59 78.48,184.59 79.28,184.76 78.97,181.93" fill="#2527fe" stroke="#2527fe"/>
<polygon points="77.11,185.9 77.4,188.24 77.95,188.49 77.67,186.3" fill="#2e2ef7" stroke="#2e2ef7"/>
<polygon points="89.14,200.38 92.64,201.26 93.05,200.99 89.55,200.12" fill="#5353b8" stroke="#5353b8"/>
<polygon points="94.08,200.32 97.59,201.2 98.1,200.86 94.59,199.99" fill="#5353b8" stroke="#5353b8"/>
<polygon points="76.5,192.6 77.19,196.02 77.49,196.66 76.84,194.03" fill="#1f1fca" stroke="#1f1fca"/>
<polygon points="86.26,200.68 88.01,201.12 88.26,200.95 86.51,200.51" fill="#5353b8" stroke="#5353b8"/>
<polygon points="83.73,200.74 85.48,201.18 85.74,201.01 83.99,200.58" fill="#5353b8" stroke="#5353b8"/>
<polygon points="160.5,199.62 169.43,201.8 171.84,200.14 162.92,197.97" fill="#5353b7" stroke="#5353b7"/>
<polygon points="76.56,187.34 76.84,189.5 77.24,190 76.97,188.04" fill="#2f2ff0" stroke="#2f2ff0"/>
<polygon points="86,200.85 87.75,201.28 88.01,201.12 86.26,200.68" fill="#5353b8" stroke="#5353b8"/>
<polygon points="83.48,200.91 85.23,201.35 85.48,201.18 83.73,200.74" fill="#5353b8" stroke="#5353b8"/>
<polygon points="98.86,200.37 104.13,201.67 105.15,201.01 99.88,199.7" fill="#5353b8" stroke="#5353b8"/>
<polygon points="248.37,200.79 263.03,204.29 267.5,200.95 252.88,197.47" fill="#5353b9" stroke="#5353b9"/>
<polygon points="76.34,191.02 76.84,194.03 77.17,195.23 76.71,193.01" fill="#1c1cd4" stroke="#1c1cd4"/>
<polygon points="88.78,200.62 92.28,201.49 92.64,201.26 89.14,200.38" fill="#5353b8" stroke="#5353b8"/>
<polygon points="76.19,189.56 76.71,193.01 77.06,194.64 76.6,192.23" fill="#1616d9" stroke="#1616d9"/>
<polygon points="121.02,200.13 126.32,201.44 127.57,200.61 122.27,199.3" fill="#5353b7" stroke="#5353b7"/>
<polygon points="77.36,183.55 77.67,186.3 78.22,186.7 77.92,184.14" fill="#2727fd" stroke="#2727fd"/>
<polygon points="76.06,188.47 76.6,192.23 76.95,193.87 76.46,191.16" fill="#1616df" stroke="#1616df"/>
<polygon points="76.2,189.28 76.46,191.16 76.76,191.8 76.51,190.13" fill="#3232e6" stroke="#3232e6"/>
<polygon points="106.16,200.34 111.45,201.65 112.46,200.99 107.18,199.68" fill="#5353b7" stroke="#5353b7"/>
<polygon points="93.56,200.66 97.08,201.53 97.59,201.2 94.08,200.32" fill="#5353b8" stroke="#5353b8"/>
<polygon points="85.74,201.01 87.49,201.45 87.75,201.28 86,200.85" fill="#5353b8" stroke="#5353b8"/>
<polygon points="83.22,201.07 84.97,201.51 85.23,201.35 83.48,200.91" fill="#5353b8" stroke="#5353b8"/>
<polygon points="76.23,188.04 76.51,190.13 76.82,190.97 76.55,189.14" fill="#2c2ced" stroke="#2c2ced"/>
<polygon points="113.47,200.32 118.76,201.63 119.76,200.96 114.47,199.66" fill="#5353b7" stroke="#5353b7"/>
<polygon points="88.52,200.78 92.03,201.66 92.28,201.49 88.78,200.62" fill="#5353b8" stroke="#5353b8"/>
<polygon points="76.67,185.57 76.97,188.04 77.4,188.24 77.11,185.9" fill="#2e2efc" stroke="#2e2efc"/>
<polygon points="85.48,201.18 87.24,201.62 87.49,201.45 85.74,201.01" fill="#5353b8" stroke="#5353b8"/>
<polygon points="76.2,191.85 76.91,195.73 77.19,196.02 76.5,192.6" fill="#1d1dd2" stroke="#1d1dd2"/>
<polygon points="88.26,200.95 91.77,201.82 92.03,201.66 88.52,200.78" fill="#5353b8" stroke="#5353b8"/>
<polygon points="231.05,201.06 243.82,204.12 248.37,200.79 235.63,197.75" fill="#5353b7" stroke="#5353b7"/>
<polygon points="127.57,200.61 134.66,202.35 137.14,200.69 130.06,198.95" fill="#5353b7" stroke="#5353b7"/>
<polygon points="93.05,200.99 96.56,201.86 97.08,201.53 93.56,200.66" fill="#5353b8" stroke="#5353b8"/>
<polygon points="76.26,186.84 76.55,189.14 76.84,189.5 76.56,187.34" fill="#3030f6" stroke="#3030f6"/>
<polygon points="85.23,201.35 86.98,201.78 87.24,201.62 85.48,201.18" fill="#5353b8" stroke="#5353b8"/>
<polygon points="77.59,180.94 77.92,184.14 78.48,184.59 78.15,181.59" fill="#2129fe" stroke="#2129fe"/>
<polygon points="88.01,201.12 91.52,201.99 91.77,201.82 88.26,200.95" fill="#5353b8" stroke="#5353b8"/>
<polygon points="98.1,200.86 103.37,202.18 104.13,201.67 98.86,200.37" fill="#5353b8" stroke="#5353b8"/>
<polygon points="137.14,200.69 144.25,202.44 146.71,200.77 139.61,199.03" fill="#5353b7" stroke="#5353b7"/>
<polygon points="171.84,200.14 182.61,202.76 185,201.09 174.25,198.48" fill="#5353b7" stroke="#5353b7"/>
<polygon points="84.97,201.51 86.72,201.95 86.98,201.78 85.23,201.35" fill="#5353b8" stroke="#5353b8"/>
<polygon points="87.75,201.28 91.26,202.16 91.52,201.99 88.01,201.12" fill="#5353b8" stroke="#5353b8"/>
<polygon points="76.79,182.96 77.11,185.9 77.67,186.3 77.36,183.55" fill="#2525fe" stroke="#2525fe"/>
<polygon points="92.64,201.26 96.16,202.13 96.56,201.86 93.05,200.99" fill="#5353b8" stroke="#5353b8"/>
<polygon points="105.15,201.01 110.44,202.32 111.45,201.65 106.16,200.34" fill="#5353b8" stroke="#5353b8"/>
<polygon points="75.9,186.93 76.2,189.28 76.51,190.13 76.23,188.04" fill="#2929f6" stroke="#2929f6"/>
<polygon points="76.25,184.64 76.56,187.34 76.97,188.04 76.67,185.57" fill="#2626fe" stroke="#2626fe"/>
<polygon points="112.46,200.99 117.75,202.3 118.76,201.63 113.47,200.32" fill="#5353b7" stroke="#5353b7"/>
<polygon points="119.76,200.96 125.07,202.27 126.32,201.44 121.02,200.13" fill="#5353b7" stroke="#5353b7"/>
<polygon points="87.49,201.45 91,202.32 91.26,202.16 87.75,201.28" fill="#5353b8" stroke="#5353b8"/>
<polygon points="213.72,201.33 226.44,204.4 231.05,201.06 218.36,198.02" fill="#5353b7" stroke="#5353b7"/>
<polygon points="75.96,188.66 76.5,192.6 76.84,194.03 76.34,191.02" fill="#1616e4" stroke="#1616e4"/>
<polygon points="146.71,200.77 155.62,202.95 158.07,201.29 149.16,199.11" fill="#5353b7" stroke="#5353b7"/>
<polygon points="92.28,201.49 95.8,202.36 96.16,202.13 92.64,201.26" fill="#5353b8" stroke="#5353b8"/>
<polygon points="97.59,201.2 102.86,202.51 103.37,202.18 98.1,200.86" fill="#5353b8" stroke="#5353b8"/>
<polygon points="75.92,185.42 76.23,188.04 76.55,189.14 76.26,186.84" fill="#2222fe" stroke="#2222fe"/>
<polygon points="87.24,201.62 90.75,202.49 91,202.32 87.49,201.45" fill="#5353b8" stroke="#5353b8"/>
<polygon points="75.75,185.85 76.06,188.47 76.46,191.16 76.2,189.28" fill="#1616f7" stroke="#1616f7"/>
<polygon points="92.03,201.66 95.54,202.53 95.8,202.36 92.28,201.49" fill="#5353b8" stroke="#5353b8"/>
<polygon points="77.01,180.11 77.36,183.55 77.92,184.14 77.59,180.94" fill="#1c2cfe" stroke="#1c2cfe"/>
<polygon points="86.98,201.78 90.49,202.66 90.75,202.49 87.24,201.62" fill="#5353b8" stroke="#5353b8"/>
<polygon points="75.76,186.31 76.34,191.02 76.71,193.01 76.19,189.56" fill="#1616f0" stroke="#1616f0"/>
<polygon points="76.34,182.49 76.67,185.57 77.11,185.9 76.79,182.96" fill="#252afe" stroke="#252afe"/>
<polygon points="97.08,201.53 102.35,202.84 102.86,202.51 97.59,201.2" fill="#5353b8" stroke="#5353b8"/>
<polygon points="91.77,201.82 95.29,202.7 95.54,202.53 92.03,201.66" fill="#5353b8" stroke="#5353b8"/>
<polygon points="86.72,201.95 90.23,202.83 90.49,202.66 86.98,201.78" fill="#5353b8" stroke="#5353b8"/>
<polygon points="75.94,183.97 76.26,186.84 76.56,187.34 76.25,184.64" fill="#2727fd" stroke="#2727fd"/>
<polygon points="104.13,201.67 109.42,202.99 110.44,202.32 105.15,201.01" fill="#5353b8" stroke="#5353b8"/>
<polygon points="75.57,184.15 76.19,189.56 76.6,192.23 76.06,188.47" fill="#1616f9" stroke="#1616f9"/>
<polygon points="91.52,201.99 95.03,202.87 95.29,202.7 91.77,201.82" fill="#5353b8" stroke="#5353b8"/>
<polygon points="111.45,201.65 116.75,202.96 117.75,202.3 112.46,200.99" fill="#5353b7" stroke="#5353b7"/>
<polygon points="158.07,201.29 167.01,203.47 169.43,201.8 160.5,199.62" fill="#5353b7" stroke="#5353b7"/>
<polygon points="185,201.09 195.81,203.72 198.18,202.05 187.38,199.43" fill="#5353b7" stroke="#5353b7"/>
<polygon points="198.18,202.05 209.04,204.68 213.72,201.33 202.89,198.72" fill="#5353b7" stroke="#5353b7"/>
<polygon points="118.76,201.63 124.07,202.94 125.07,202.27 119.76,200.96" fill="#5353b7" stroke="#5353b7"/>
<polygon points="96.56,201.86 101.84,203.18 102.35,202.84 97.08,201.53" fill="#5353b8" stroke="#5353b8"/>
<polygon points="126.32,201.44 133.42,203.19 134.66,202.35 127.57,200.61" fill="#5353b7" stroke="#5353b7"/>
<polygon points="91.26,202.16 94.77,203.03 95.03,202.87 91.52,201.99" fill="#5353b8" stroke="#5353b8"/>
<polygon points="75.58,183.99 75.9,186.93 76.23,188.04 75.92,185.42" fill="#1e1efe" stroke="#1e1efe"/>
<polygon points="75.62,187.38 76.2,191.85 76.5,192.6 75.96,188.66" fill="#1616f2" stroke="#1616f2"/>
<polygon points="91,202.32 94.52,203.2 94.77,203.03 91.26,202.16" fill="#5353b8" stroke="#5353b8"/>
<polygon points="76.43,179.28 76.79,182.96 77.36,183.55 77.01,180.11" fill="#1931fe" stroke="#1931fe"/>
<polygon points="96.16,202.13 101.44,203.45 101.84,203.18 96.56,201.86" fill="#5353b8" stroke="#5353b8"/>
<polygon points="75.9,181.25 76.25,184.64 76.67,185.57 76.34,182.49" fill="#1a27fe" stroke="#1a27fe"/>
<polygon points="90.75,202.49 94.26,203.37 94.52,203.2 91,202.32" fill="#5353b8" stroke="#5353b8"/>
<polygon points="103.37,202.18 108.66,203.49 109.42,202.99 104.13,201.67" fill="#5353b8" stroke="#5353b8"/>
<polygon points="75.41,182.58 75.75,185.85 76.2,189.28 75.9,186.93" fill="#1616fe" stroke="#1616fe"/>
<polygon points="75.58,182.13 75.92,185.42 76.26,186.84 75.94,183.97" fill="#161efe" stroke="#161efe"/>
<polygon points="90.49,202.66 94,203.54 94.26,203.37 90.75,202.49" fill="#5353b8" stroke="#5353b8"/>
<polygon points="95.8,202.36 101.08,203.68 101.44,203.45 96.16,202.13" fill="#5353b8" stroke="#5353b8"/>
<polygon points="110.44,202.32 115.74,203.63 116.75,202.96 111.45,201.65" fill="#5353b8" stroke="#5353b8"/>
<polygon points="134.66,202.35 141.78,204.11 144.25,202.44 137.14,200.69" fill="#5353b7" stroke="#5353b7"/>
<polygon points="117.75,202.3 123.07,203.61 124.07,202.94 118.76,201.63" fill="#5353b7" stroke="#5353b7"/>
<polygon points="169.43,201.8 180.21,204.43 182.61,202.76 171.84,200.14" fill="#5353b7" stroke="#5353b7"/>
<polygon points="90.23,202.83 93.75,203.7 94,203.54 90.49,202.66" fill="#5353b8" stroke="#5353b8"/>
<polygon points="95.54,202.53 100.82,203.85 101.08,203.68 95.8,202.36" fill="#5353b8" stroke="#5353b8"/>
<polygon points="102.86,202.51 108.16,203.82 108.66,203.49 103.37,202.18" fill="#5353b8" stroke="#5353b8"/>
<polygon points="125.07,202.27 132.17,204.03 133.42,203.19 126.32,201.44" fill="#5353b7" stroke="#5353b7"/>
<polygon points="95.29,202.7 100.57,204.02 100.82,203.85 95.54,202.53" fill="#5353b8" stroke="#5353b8"/>
<polygon points="75.59,180.37 75.94,183.97 76.25,184.64 75.9,181.25" fill="#1b31fe" stroke="#1b31fe"/>
<polygon points="75.97,178.61 76.34,182.49 76.79,182.96 76.43,179.28" fill="#1938fe" stroke="#1938fe"/>
<polygon points="75.3,182.49 75.96,188.66 76.34,191.02 75.76,186.31" fill="#1616fe" stroke="#1616fe"/>
<polygon points="144.25,202.44 153.17,204.63 155.62,202.95 146.71,200.77" fill="#5353b7" stroke="#5353b7"/>
<polygon points="95.03,202.87 100.31,204.18 100.57,204.02 95.29,202.7" fill="#5353b8" stroke="#5353b8"/>
<polygon points="102.35,202.84 107.65,204.16 108.16,203.82 102.86,202.51" fill="#5353b8" stroke="#5353b8"/>
<polygon points="109.42,202.99 114.73,204.3 115.74,203.63 110.44,202.32" fill="#5353b8" stroke="#5353b8"/>
<polygon points="94.77,203.03 100.06,204.35 100.31,204.18 95.03,202.87" fill="#5353b8" stroke="#5353b8"/>
<polygon points="75.21,180.38 75.57,184.15 76.06,188.47 75.75,185.85" fill="#1622fe" stroke="#1622fe"/>
<polygon points="116.75,202.96 122.06,204.28 123.07,203.61 117.75,202.3" fill="#5353b7" stroke="#5353b7"/>
<polygon points="75.22,180.29 75.58,183.99 75.92,185.42 75.58,182.13" fill="#162cfe" stroke="#162cfe"/>
<polygon points="263.03,204.29 275.58,207.28 280.02,203.92 267.5,200.95" fill="#5353b9" stroke="#5353b9"/>
<polygon points="94.52,203.2 99.8,204.52 100.06,204.35 94.77,203.03" fill="#5353b8" stroke="#5353b8"/>
<polygon points="101.84,203.18 107.14,204.5 107.65,204.16 102.35,202.84" fill="#5353b8" stroke="#5353b8"/>
<polygon points="94.26,203.37 99.55,204.69 99.8,204.52 94.52,203.2" fill="#5353b8" stroke="#5353b8"/>
<polygon points="75.04,178.92 75.76,186.31 76.19,189.56 75.57,184.15" fill="#1623fe" stroke="#1623fe"/>
<polygon points="155.62,202.95 164.58,205.15 167.01,203.47 158.07,201.29" fill="#5353b7" stroke="#5353b7"/>
<polygon points="124.07,202.94 131.17,204.7 132.17,204.03 125.07,202.27" fill="#5353b7" stroke="#5353b7"/>
<polygon points="75.03,178.46 75.41,182.58 75.9,186.93 75.58,183.99" fill="#162dfe" stroke="#162dfe"/>
<polygon points="182.61,202.76 193.44,205.39 195.81,203.72 185,201.09" fill="#5353b7" stroke="#5353b7"/>
<polygon points="75.51,177 75.9,181.25 76.34,182.49 75.97,178.61" fill="#163ffe" stroke="#163ffe"/>
<polygon points="94,203.54 99.29,204.85 99.55,204.69 94.26,203.37" fill="#5353b8" stroke="#5353b8"/>
<polygon points="101.44,203.45 106.73,204.76 107.14,204.5 101.84,203.18" fill="#5353b8" stroke="#5353b8"/>
<polygon points="75.2,178.01 75.58,182.13 75.94,183.97 75.59,180.37" fill="#1638fe" stroke="#1638fe"/>
<polygon points="108.66,203.49 113.97,204.81 114.73,204.3 109.42,202.99" fill="#5353b8" stroke="#5353b8"/>
<polygon points="243.82,204.12 258.52,207.65 263.03,204.29 248.37,200.79" fill="#5353b7" stroke="#5353b7"/>
<polygon points="133.42,203.19 140.54,204.95 141.78,204.11 134.66,202.35" fill="#5353b7" stroke="#5353b7"/>
<polygon points="93.75,203.7 99.03,205.02 99.29,204.85 94,203.54" fill="#5353b8" stroke="#5353b8"/>
<polygon points="115.74,203.63 121.06,204.95 122.06,204.28 116.75,202.96" fill="#5353b8" stroke="#5353b8"/>
<polygon points="101.08,203.68 106.38,205 106.73,204.76 101.44,203.45" fill="#5353b8" stroke="#5353b8"/>
<polygon points="100.82,203.85 106.12,205.17 106.38,205 101.08,203.68" fill="#5353b8" stroke="#5353b8"/>
<polygon points="74.92,180.37 75.62,187.38 75.96,188.66 75.3,182.49" fill="#1627fe" stroke="#1627fe"/>
<polygon points="108.16,203.82 113.46,205.14 113.97,204.81 108.66,203.49" fill="#5353b8" stroke="#5353b8"/>
<polygon points="226.44,204.4 239.24,207.49 243.82,204.12 231.05,201.06" fill="#5353b7" stroke="#5353b7"/>
<polygon points="123.07,203.61 130.17,205.37 131.17,204.7 124.07,202.94" fill="#5353b7" stroke="#5353b7"/>
<polygon points="100.57,204.02 105.87,205.34 106.12,205.17 100.82,203.85" fill="#5353b8" stroke="#5353b8"/>
<polygon points="167.01,203.47 177.8,206.11 180.21,204.43 169.43,201.8" fill="#5353b7" stroke="#5353b7"/>
<polygon points="75.18,175.84 75.59,180.37 75.9,181.25 75.51,177" fill="#164afe" stroke="#164afe"/>
<polygon points="100.31,204.18 105.61,205.5 105.87,205.34 100.57,204.02" fill="#5353b8" stroke="#5353b8"/>
<polygon points="195.81,203.72 206.69,206.36 209.04,204.68 198.18,202.05" fill="#5353b7" stroke="#5353b7"/>
<polygon points="107.65,204.16 112.96,205.48 113.46,205.14 108.16,203.82" fill="#5353b8" stroke="#5353b8"/>
<polygon points="114.73,204.3 120.05,205.63 121.06,204.95 115.74,203.63" fill="#5353b8" stroke="#5353b8"/>
<polygon points="74.79,175.64 75.21,180.38 75.75,185.85 75.41,182.58" fill="#163dfe" stroke="#163dfe"/>
<polygon points="100.06,204.35 105.36,205.67 105.61,205.5 100.31,204.18" fill="#5353b8" stroke="#5353b8"/>
<polygon points="141.78,204.11 150.71,206.31 153.17,204.63 144.25,202.44" fill="#5353b7" stroke="#5353b7"/>
<polygon points="132.17,204.03 139.3,205.79 140.54,204.95 133.42,203.19" fill="#5353b7" stroke="#5353b7"/>
<polygon points="209.04,204.68 221.79,207.77 226.44,204.4 213.72,201.33" fill="#5353b7" stroke="#5353b7"/>
<polygon points="99.8,204.52 105.1,205.84 105.36,205.67 100.06,204.35" fill="#5353b8" stroke="#5353b8"/>
<polygon points="74.81,175.65 75.22,180.29 75.58,182.13 75.2,178.01" fill="#1649fe" stroke="#1649fe"/>
<polygon points="107.14,204.5 112.45,205.82 112.96,205.48 107.65,204.16" fill="#5353b8" stroke="#5353b8"/>
<polygon points="122.06,204.28 129.17,206.04 130.17,205.37 123.07,203.61" fill="#5353b7" stroke="#5353b7"/>
<polygon points="99.55,204.69 104.85,206.01 105.1,205.84 99.8,204.52" fill="#5353b8" stroke="#5353b8"/>
<polygon points="74.59,173.29 75.03,178.46 75.58,183.99 75.22,180.29" fill="#164bfe" stroke="#164bfe"/>
<polygon points="106.73,204.76 112.04,206.09 112.45,205.82 107.14,204.5" fill="#5353b8" stroke="#5353b8"/>
<polygon points="99.29,204.85 104.59,206.18 104.85,206.01 99.55,204.69" fill="#5353b8" stroke="#5353b8"/>
<polygon points="113.97,204.81 119.29,206.13 120.05,205.63 114.73,204.3" fill="#5353b8" stroke="#5353b8"/>
<polygon points="153.17,204.63 162.14,206.83 164.58,205.15 155.62,202.95" fill="#5353b7" stroke="#5353b7"/>
<polygon points="99.03,205.02 104.34,206.34 104.59,206.18 99.29,204.85" fill="#5353b8" stroke="#5353b8"/>
<polygon points="180.21,204.43 191.05,207.08 193.44,205.39 182.61,202.76" fill="#5353b7" stroke="#5353b7"/>
<polygon points="106.38,205 111.69,206.32 112.04,206.09 106.73,204.76" fill="#5353b8" stroke="#5353b8"/>
<polygon points="74.76,172.83 75.2,178.01 75.59,180.37 75.18,175.84" fill="#1659fe" stroke="#1659fe"/>
<polygon points="131.17,204.7 138.3,206.46 139.3,205.79 132.17,204.03" fill="#5353b7" stroke="#5353b7"/>
<polygon points="121.06,204.95 128.17,206.72 129.17,206.04 122.06,204.28" fill="#5353b8" stroke="#5353b8"/>
<polygon points="106.12,205.17 111.43,206.49 111.69,206.32 106.38,205" fill="#5353b8" stroke="#5353b8"/>
<polygon points="113.46,205.14 118.79,206.47 119.29,206.13 113.97,204.81" fill="#5353b8" stroke="#5353b8"/>
<polygon points="74.45,172.75 75.3,182.49 75.76,186.31 75.04,178.92" fill="#1648fe" stroke="#1648fe"/>
<polygon points="74.6,173.74 75.04,178.92 75.57,184.15 75.21,180.38" fill="#164dfe" stroke="#164dfe"/>
<polygon points="105.87,205.34 111.18,206.66 111.43,206.49 106.12,205.17" fill="#5353b8" stroke="#5353b8"/>
<polygon points="105.61,205.5 110.93,206.83 111.18,206.66 105.87,205.34" fill="#5353b8" stroke="#5353b8"/>
<polygon points="140.54,204.95 149.48,207.15 150.71,206.31 141.78,204.11" fill="#5353b7" stroke="#5353b7"/>
<polygon points="112.96,205.48 118.28,206.8 118.79,206.47 113.46,205.14" fill="#5353b8" stroke="#5353b8"/>
<polygon points="164.58,205.15 175.39,207.8 177.8,206.11 167.01,203.47" fill="#5353b7" stroke="#5353b7"/>
<polygon points="105.36,205.67 110.67,207 110.93,206.83 105.61,205.5" fill="#5353b8" stroke="#5353b8"/>
<polygon points="130.17,205.37 137.31,207.14 138.3,206.46 131.17,204.7" fill="#5353b7" stroke="#5353b7"/>
<polygon points="193.44,205.39 204.32,208.04 206.69,206.36 195.81,203.72" fill="#5353b7" stroke="#5353b7"/>
<polygon points="105.1,205.84 110.42,207.16 110.67,207 105.36,205.67" fill="#5353b8" stroke="#5353b8"/>
<polygon points="120.05,205.63 127.17,207.39 128.17,206.72 121.06,204.95" fill="#5353b8" stroke="#5353b8"/>
<polygon points="112.45,205.82 117.78,207.14 118.28,206.8 112.96,205.48" fill="#5353b8" stroke="#5353b8"/>
<polygon points="74.31,169.68 74.79,175.64 75.41,182.58 75.03,178.46" fill="#165efe" stroke="#165efe"/>
<polygon points="104.85,206.01 110.16,207.33 110.42,207.16 105.1,205.84" fill="#5353b8" stroke="#5353b8"/>
<polygon points="112.04,206.09 117.37,207.41 117.78,207.14 112.45,205.82" fill="#5353b8" stroke="#5353b8"/>
<polygon points="104.59,206.18 109.91,207.5 110.16,207.33 104.85,206.01" fill="#5353b8" stroke="#5353b8"/>
<polygon points="74.34,169.8 74.81,175.65 75.2,178.01 74.76,172.83" fill="#1665fe" stroke="#1665fe"/>
<polygon points="104.34,206.34 109.65,207.67 109.91,207.5 104.59,206.18" fill="#5353b8" stroke="#5353b8"/>
<polygon points="139.3,205.79 148.25,208 149.48,207.15 140.54,204.95" fill="#5353b7" stroke="#5353b7"/>
<polygon points="129.17,206.04 136.31,207.81 137.31,207.14 130.17,205.37" fill="#5353b7" stroke="#5353b7"/>
<polygon points="111.69,206.32 117.02,207.65 117.37,207.41 112.04,206.09" fill="#5353b8" stroke="#5353b8"/>
<polygon points="258.52,207.65 271.1,210.67 275.58,207.28 263.03,204.29" fill="#5353b7" stroke="#5353b7"/>
<polygon points="119.29,206.13 126.41,207.9 127.17,207.39 120.05,205.63" fill="#5353b8" stroke="#5353b8"/>
<polygon points="150.71,206.31 159.69,208.52 162.14,206.83 153.17,204.63" fill="#5353b7" stroke="#5353b7"/>
<polygon points="111.43,206.49 116.76,207.82 117.02,207.65 111.69,206.32" fill="#5353b8" stroke="#5353b8"/>
<polygon points="177.8,206.11 188.66,208.77 191.05,207.08 180.21,204.43" fill="#5353b7" stroke="#5353b7"/>
<polygon points="74.09,166.77 74.59,173.29 75.22,180.29 74.81,175.65" fill="#1666fe" stroke="#1666fe"/>
<polygon points="111.18,206.66 116.51,207.99 116.76,207.82 111.43,206.49" fill="#5353b8" stroke="#5353b8"/>
<polygon points="118.79,206.47 125.91,208.24 126.41,207.9 119.29,206.13" fill="#5353b8" stroke="#5353b8"/>
<polygon points="206.69,206.36 219.45,209.46 221.79,207.77 209.04,204.68" fill="#5353b7" stroke="#5353b7"/>
<polygon points="239.24,207.49 253.98,211.04 258.52,207.65 243.82,204.12" fill="#5353b7" stroke="#5353b7"/>
<polygon points="110.93,206.83 116.26,208.16 116.51,207.99 111.18,206.66" fill="#5353b8" stroke="#5353b8"/>
<polygon points="128.17,206.72 135.31,208.49 136.31,207.81 129.17,206.04" fill="#5353b8" stroke="#5353b8"/>
<polygon points="74,169.28 74.92,180.37 75.3,182.49 74.45,172.75" fill="#1661fe" stroke="#1661fe"/>
<polygon points="110.67,207 116,208.32 116.26,208.16 110.93,206.83" fill="#5353b8" stroke="#5353b8"/>
<polygon points="138.3,206.46 147.25,208.67 148.25,208 139.3,205.79" fill="#5353b7" stroke="#5353b7"/>
<polygon points="118.28,206.8 125.4,208.58 125.91,208.24 118.79,206.47" fill="#5353b8" stroke="#5353b8"/>
<polygon points="74.09,167.23 74.6,173.74 75.21,180.38 74.79,175.64" fill="#1667fe" stroke="#1667fe"/>
<polygon points="221.79,207.77 234.63,210.87 239.24,207.49 226.44,204.4" fill="#5353b7" stroke="#5353b7"/>
<polygon points="110.42,207.16 115.75,208.49 116,208.32 110.67,207" fill="#5353b8" stroke="#5353b8"/>
<polygon points="162.14,206.83 172.96,209.49 175.39,207.8 164.58,205.15" fill="#5353b7" stroke="#5353b7"/>
<polygon points="110.16,207.33 115.49,208.66 115.75,208.49 110.42,207.16" fill="#5353b8" stroke="#5353b8"/>
<polygon points="117.78,207.14 124.9,208.91 125.4,208.58 118.28,206.8" fill="#5353b8" stroke="#5353b8"/>
<polygon points="191.05,207.08 201.95,209.74 204.32,208.04 193.44,205.39" fill="#5353b7" stroke="#5353b7"/>
<polygon points="109.91,207.5 115.24,208.83 115.49,208.66 110.16,207.33" fill="#5353b8" stroke="#5353b8"/>
<polygon points="127.17,207.39 134.31,209.17 135.31,208.49 128.17,206.72" fill="#5353b8" stroke="#5353b8"/>
<polygon points="109.65,207.67 114.99,209 115.24,208.83 109.91,207.5" fill="#5353b8" stroke="#5353b8"/>
<polygon points="137.31,207.14 146.26,209.35 147.25,208.67 138.3,206.46" fill="#5353b7" stroke="#5353b7"/>
<polygon points="117.37,207.41 124.5,209.19 124.9,208.91 117.78,207.14" fill="#5353b8" stroke="#5353b8"/>
<polygon points="149.48,207.15 158.47,209.37 159.69,208.52 150.71,206.31" fill="#5353b7" stroke="#5353b7"/>
<polygon points="117.02,207.65 124.14,209.42 124.5,209.19 117.37,207.41" fill="#5353b8" stroke="#5353b8"/>
<polygon points="73.93,165.92 74.45,172.75 75.04,178.92 74.6,173.74" fill="#166dfe" stroke="#166dfe"/>
<polygon points="73.75,162.16 74.31,169.68 75.03,178.46 74.59,173.29" fill="#1673fe" stroke="#1673fe"/>
<polygon points="116.76,207.82 123.89,209.59 124.14,209.42 117.02,207.65" fill="#5353b8" stroke="#5353b8"/>
<polygon points="126.41,207.9 133.56,209.67 134.31,209.17 127.17,207.39" fill="#5353b8" stroke="#5353b8"/>
<polygon points="175.39,207.8 186.25,210.46 188.66,208.77 177.8,206.11" fill="#5353b7" stroke="#5353b7"/>
<polygon points="116.51,207.99 123.64,209.76 123.89,209.59 116.76,207.82" fill="#5353b8" stroke="#5353b8"/>
<polygon points="136.31,207.81 145.27,210.03 146.26,209.35 137.31,207.14" fill="#5353b7" stroke="#5353b7"/>
<polygon points="116.26,208.16 123.39,209.93 123.64,209.76 116.51,207.99" fill="#5353b8" stroke="#5353b8"/>
<polygon points="204.32,208.04 217.11,211.16 219.45,209.46 206.69,206.36" fill="#5353b7" stroke="#5353b7"/>
<polygon points="148.25,208 157.24,210.22 158.47,209.37 149.48,207.15" fill="#5353b7" stroke="#5353b7"/>
<polygon points="125.91,208.24 133.06,210.01 133.56,209.67 126.41,207.9" fill="#5353b8" stroke="#5353b8"/>
<polygon points="116,208.32 123.13,210.1 123.39,209.93 116.26,208.16" fill="#5353b8" stroke="#5353b8"/>
<polygon points="115.75,208.49 122.88,210.27 123.13,210.1 116,208.32" fill="#5353b8" stroke="#5353b8"/>
<polygon points="159.69,208.52 170.53,211.19 172.96,209.49 162.14,206.83" fill="#5353b7" stroke="#5353b7"/>
<polygon points="125.4,208.58 132.55,210.35 133.06,210.01 125.91,208.24" fill="#5353b8" stroke="#5353b8"/>
<polygon points="73.49,158.56 74.09,166.77 74.81,175.65 74.34,169.8" fill="#167efe" stroke="#167efe"/>
<polygon points="115.49,208.66 122.63,210.44 122.88,210.27 115.75,208.49" fill="#5353b8" stroke="#5353b8"/>
<polygon points="135.31,208.49 144.28,210.71 145.27,210.03 136.31,207.81" fill="#5353b8" stroke="#5353b8"/>
<polygon points="188.66,208.77 199.57,211.44 201.95,209.74 191.05,207.08" fill="#5353b7" stroke="#5353b7"/>
<polygon points="115.24,208.83 122.37,210.61 122.63,210.44 115.49,208.66" fill="#5353b8" stroke="#5353b8"/>
<polygon points="124.9,208.91 132.05,210.69 132.55,210.35 125.4,208.58" fill="#5353b8" stroke="#5353b8"/>
<polygon points="147.25,208.67 156.25,210.9 157.24,210.22 148.25,208" fill="#5353b7" stroke="#5353b7"/>
<polygon points="114.99,209 122.12,210.78 122.37,210.61 115.24,208.83" fill="#5353b8" stroke="#5353b8"/>
<polygon points="73.5,159.02 74.09,167.23 74.79,175.64 74.31,169.68" fill="#167ffe" stroke="#167ffe"/>
<polygon points="124.5,209.19 131.65,210.97 132.05,210.69 124.9,208.91" fill="#5353b8" stroke="#5353b8"/>
<polygon points="134.31,209.17 143.28,211.39 144.28,210.71 135.31,208.49" fill="#5353b8" stroke="#5353b8"/>
<polygon points="219.45,209.46 232.31,212.58 234.63,210.87 221.79,207.77" fill="#5353b7" stroke="#5353b7"/>
<polygon points="253.98,211.04 266.6,214.08 271.1,210.67 258.52,207.65" fill="#5353b7" stroke="#5353b7"/>
<polygon points="124.14,209.42 131.3,211.2 131.65,210.97 124.5,209.19" fill="#5353b8" stroke="#5353b8"/>
<polygon points="172.96,209.49 183.84,212.17 186.25,210.46 175.39,207.8" fill="#5353b7" stroke="#5353b7"/>
<polygon points="146.26,209.35 155.26,211.58 156.25,210.9 147.25,208.67" fill="#5353b7" stroke="#5353b7"/>
<polygon points="123.89,209.59 131.05,211.38 131.3,211.2 124.14,209.42" fill="#5353b8" stroke="#5353b8"/>
<polygon points="158.47,209.37 169.3,212.04 170.53,211.19 159.69,208.52" fill="#5353b7" stroke="#5353b7"/>
<polygon points="123.64,209.76 130.8,211.55 131.05,211.38 123.89,209.59" fill="#5353b8" stroke="#5353b8"/>
<polygon points="201.95,209.74 214.75,212.86 217.11,211.16 204.32,208.04" fill="#5353b7" stroke="#5353b7"/>
<polygon points="234.63,210.87 249.4,214.45 253.98,211.04 239.24,207.49" fill="#5353b7" stroke="#5353b7"/>
<polygon points="133.56,209.67 142.53,211.9 143.28,211.39 134.31,209.17" fill="#5353b8" stroke="#5353b8"/>
<polygon points="123.39,209.93 130.54,211.72 130.8,211.55 123.64,209.76" fill="#5353b8" stroke="#5353b8"/>
<polygon points="73.43,161.5 74,169.28 74.45,172.75 73.93,165.92" fill="#1683fe" stroke="#1683fe"/>
<polygon points="123.13,210.1 130.29,211.89 130.54,211.72 123.39,209.93" fill="#5353b8" stroke="#5353b8"/>
<polygon points="73.31,157.31 73.93,165.92 74.6,173.74 74.09,167.23" fill="#1687fe" stroke="#1687fe"/>
<polygon points="145.27,210.03 154.27,212.26 155.26,211.58 146.26,209.35" fill="#5353b7" stroke="#5353b7"/>
<polygon points="122.88,210.27 130.04,212.06 130.29,211.89 123.13,210.1" fill="#5353b8" stroke="#5353b8"/>
<polygon points="133.06,210.01 142.03,212.24 142.53,211.9 133.56,209.67" fill="#5353b8" stroke="#5353b8"/>
<polygon points="73.09,152.68 73.75,162.16 74.59,173.29 74.09,166.77" fill="#188ffe" stroke="#188ffe"/>
<polygon points="186.25,210.46 197.18,213.14 199.57,211.44 188.66,208.77" fill="#5353b7" stroke="#5353b7"/>
<polygon points="122.63,210.44 129.79,212.23 130.04,212.06 122.88,210.27" fill="#5353b8" stroke="#5353b8"/>
<polygon points="122.37,210.61 129.54,212.4 129.79,212.23 122.63,210.44" fill="#5353b8" stroke="#5353b8"/>
<polygon points="132.55,210.35 141.53,212.59 142.03,212.24 133.06,210.01" fill="#5353b8" stroke="#5353b8"/>
<polygon points="157.24,210.22 168.08,212.9 169.3,212.04 158.47,209.37" fill="#5353b7" stroke="#5353b7"/>
<polygon points="122.12,210.78 129.28,212.57 129.54,212.4 122.37,210.61" fill="#5353b8" stroke="#5353b8"/>
<polygon points="144.28,210.71 153.28,212.95 154.27,212.26 145.27,210.03" fill="#5353b8" stroke="#5353b8"/>
<polygon points="132.05,210.69 141.03,212.93 141.53,212.59 132.55,210.35" fill="#5353b8" stroke="#5353b8"/>
<polygon points="217.11,211.16 229.98,214.29 232.31,212.58 219.45,209.46" fill="#5353b7" stroke="#5353b7"/>
<polygon points="170.53,211.19 181.42,213.88 183.84,212.17 172.96,209.49" fill="#5353b7" stroke="#5353b7"/>
<polygon points="131.65,210.97 140.63,213.2 141.03,212.93 132.05,210.69" fill="#5353b8" stroke="#5353b8"/>
<polygon points="156.25,210.9 167.1,213.58 168.08,212.9 157.24,210.22" fill="#5353b7" stroke="#5353b7"/>
<polygon points="131.3,211.2 140.28,213.44 140.63,213.2 131.65,210.97" fill="#5353b8" stroke="#5353b8"/>
<polygon points="199.57,211.44 212.39,214.57 214.75,212.86 201.95,209.74" fill="#5353b7" stroke="#5353b7"/>
<polygon points="143.28,211.39 152.29,213.63 153.28,212.95 144.28,210.71" fill="#5353b8" stroke="#5353b8"/>
<polygon points="131.05,211.38 140.03,213.61 140.28,213.44 131.3,211.2" fill="#5353b8" stroke="#5353b8"/>
<polygon points="130.8,211.55 139.78,213.78 140.03,213.61 131.05,211.38" fill="#5353b8" stroke="#5353b8"/>
<polygon points="130.54,211.72 139.53,213.96 139.78,213.78 130.8,211.55" fill="#5353b8" stroke="#5353b8"/>
<polygon points="155.26,211.58 166.12,214.27 167.1,213.58 156.25,210.9" fill="#5353b7" stroke="#5353b7"/>
<polygon points="183.84,212.17 194.79,214.86 197.18,213.14 186.25,210.46" fill="#5353b7" stroke="#5353b7"/>
<polygon points="142.53,211.9 151.55,214.14 152.29,213.63 143.28,211.39" fill="#5353b8" stroke="#5353b8"/>
<polygon points="72.79,148.64 73.5,159.02 74.31,169.68 73.75,162.16" fill="#1fa1fe" stroke="#1fa1fe"/>
<polygon points="130.29,211.89 139.28,214.13 139.53,213.96 130.54,211.72" fill="#5353b8" stroke="#5353b8"/>
<polygon points="130.04,212.06 139.03,214.3 139.28,214.13 130.29,211.89" fill="#5353b8" stroke="#5353b8"/>
<polygon points="169.3,212.04 180.21,214.73 181.42,213.88 170.53,211.19" fill="#5353b7" stroke="#5353b7"/>
<polygon points="232.31,212.58 247.1,216.17 249.4,214.45 234.63,210.87" fill="#5353b7" stroke="#5353b7"/>
<polygon points="129.79,212.23 138.78,214.47 139.03,214.3 130.04,212.06" fill="#5353b8" stroke="#5353b8"/>
<polygon points="142.03,212.24 151.05,214.49 151.55,214.14 142.53,211.9" fill="#5353b8" stroke="#5353b8"/>
<polygon points="129.54,212.4 138.53,214.64 138.78,214.47 129.79,212.23" fill="#5353b8" stroke="#5353b8"/>
<polygon points="154.27,212.26 165.14,214.95 166.12,214.27 155.26,211.58" fill="#5353b7" stroke="#5353b7"/>
<polygon points="214.75,212.86 227.64,216 229.98,214.29 217.11,211.16" fill="#5353b7" stroke="#5353b7"/>
<polygon points="129.28,212.57 138.27,214.81 138.53,214.64 129.54,212.4" fill="#5353b8" stroke="#5353b8"/>
<polygon points="249.4,214.45 262.05,217.52 266.6,214.08 253.98,211.04" fill="#5353b7" stroke="#5353b7"/>
<polygon points="141.53,212.59 150.55,214.83 151.05,214.49 142.03,212.24" fill="#5353b8" stroke="#5353b8"/>
<polygon points="72.75,151.67 73.43,161.5 73.93,165.92 73.31,157.31" fill="#21a6fe" stroke="#21a6fe"/>
<polygon points="197.18,213.14 210.02,216.29 212.39,214.57 199.57,211.44" fill="#5353b7" stroke="#5353b7"/>
<polygon points="141.03,212.93 150.05,215.17 150.55,214.83 141.53,212.59" fill="#5353b8" stroke="#5353b8"/>
<polygon points="168.08,212.9 178.99,215.59 180.21,214.73 169.3,212.04" fill="#5353b7" stroke="#5353b7"/>
<polygon points="153.28,212.95 164.15,215.64 165.14,214.95 154.27,212.26" fill="#5353b8" stroke="#5353b8"/>
<polygon points="72.58,146.43 73.31,157.31 74.09,167.23 73.5,159.02" fill="#23acfe" stroke="#23acfe"/>
<polygon points="140.63,213.2 149.66,215.45 150.05,215.17 141.03,212.93" fill="#5353b8" stroke="#5353b8"/>
<polygon points="140.28,213.44 149.31,215.69 149.66,215.45 140.63,213.2" fill="#5353b8" stroke="#5353b8"/>
<polygon points="181.42,213.88 192.38,216.58 194.79,214.86 183.84,212.17" fill="#5353b7" stroke="#5353b7"/>
<polygon points="72.3,140.68 73.09,152.68 74.09,166.77 73.49,158.56" fill="#27b5fd" stroke="#27b5fd"/>
<polygon points="140.03,213.61 149.06,215.86 149.31,215.69 140.28,213.44" fill="#5353b8" stroke="#5353b8"/>
<polygon points="167.1,213.58 178.01,216.28 178.99,215.59 168.08,212.9" fill="#5353b7" stroke="#5353b7"/>
<polygon points="152.29,213.63 163.16,216.33 164.15,215.64 153.28,212.95" fill="#5353b8" stroke="#5353b8"/>
<polygon points="139.78,213.78 148.81,216.03 149.06,215.86 140.03,213.61" fill="#5353b8" stroke="#5353b8"/>
<polygon points="229.98,214.29 244.79,217.89 247.1,216.17 232.31,212.58" fill="#5353b7" stroke="#5353b7"/>
<polygon points="139.53,213.96 148.56,216.21 148.81,216.03 139.78,213.78" fill="#5353b8" stroke="#5353b8"/>
<polygon points="139.28,214.13 148.31,216.38 148.56,216.21 139.53,213.96" fill="#5353b8" stroke="#5353b8"/>
<polygon points="212.39,214.57 225.29,217.73 227.64,216 214.75,212.86" fill="#5353b7" stroke="#5353b7"/>
<polygon points="151.55,214.14 162.42,216.85 163.16,216.33 152.29,213.63" fill="#5353b8" stroke="#5353b8"/>
<polygon points="139.03,214.3 148.06,216.55 148.31,216.38 139.28,214.13" fill="#5353b8" stroke="#5353b8"/>
<polygon points="166.12,214.27 177.04,216.97 178.01,216.28 167.1,213.58" fill="#5353b7" stroke="#5353b7"/>
<polygon points="138.78,214.47 147.81,216.72 148.06,216.55 139.03,214.3" fill="#5353b8" stroke="#5353b8"/>
<polygon points="194.79,214.86 207.63,218.02 210.02,216.29 197.18,213.14" fill="#5353b7" stroke="#5353b7"/>
<polygon points="138.53,214.64 147.56,216.89 147.81,216.72 138.78,214.47" fill="#5353b8" stroke="#5353b8"/>
<polygon points="151.05,214.49 161.93,217.19 162.42,216.85 151.55,214.14" fill="#5353b8" stroke="#5353b8"/>
<polygon points="180.21,214.73 191.17,217.44 192.38,216.58 181.42,213.88" fill="#5353b7" stroke="#5353b7"/>
<polygon points="138.27,214.81 147.31,217.07 147.56,216.89 138.53,214.64" fill="#5353b8" stroke="#5353b8"/>
<polygon points="150.55,214.83 161.43,217.54 161.93,217.19 151.05,214.49" fill="#5353b8" stroke="#5353b8"/>
<polygon points="165.14,214.95 176.06,217.66 177.04,216.97 166.12,214.27" fill="#5353b7" stroke="#5353b7"/>
<polygon points="247.1,216.17 259.77,219.25 262.05,217.52 249.4,214.45" fill="#5353b7" stroke="#5353b7"/>
<polygon points="150.05,215.17 160.94,217.88 161.43,217.54 150.55,214.83" fill="#5353b8" stroke="#5353b8"/>
<polygon points="227.64,216 242.47,219.62 244.79,217.89 229.98,214.29" fill="#5353b7" stroke="#5353b7"/>
<polygon points="178.99,215.59 189.96,218.3 191.17,217.44 180.21,214.73" fill="#5353b7" stroke="#5353b7"/>
<polygon points="71.94,135.51 72.79,148.64 73.75,162.16 73.09,152.68" fill="#2fc9fd" stroke="#2fc9fd"/>
<polygon points="149.66,215.45 160.54,218.16 160.94,217.88 150.05,215.17" fill="#5353b8" stroke="#5353b8"/>
<polygon points="164.15,215.64 175.08,218.35 176.06,217.66 165.14,214.95" fill="#5353b8" stroke="#5353b8"/>
<polygon points="210.02,216.29 222.94,219.46 225.29,217.73 212.39,214.57" fill="#5353b7" stroke="#5353b7"/>
<polygon points="149.31,215.69 160.2,218.4 160.54,218.16 149.66,215.45" fill="#5353b8" stroke="#5353b8"/>
<polygon points="149.06,215.86 159.95,218.57 160.2,218.4 149.31,215.69" fill="#5353b8" stroke="#5353b8"/>
<polygon points="192.38,216.58 205.24,219.75 207.63,218.02 194.79,214.86" fill="#5353b7" stroke="#5353b7"/>
<polygon points="148.81,216.03 159.7,218.75 159.95,218.57 149.06,215.86" fill="#5353b8" stroke="#5353b8"/>
<polygon points="178.01,216.28 188.99,218.99 189.96,218.3 178.99,215.59" fill="#5353b7" stroke="#5353b7"/>
<polygon points="163.16,216.33 174.1,219.04 175.08,218.35 164.15,215.64" fill="#5353b8" stroke="#5353b8"/>
<polygon points="148.56,216.21 159.45,218.92 159.7,218.75 148.81,216.03" fill="#5353b8" stroke="#5353b8"/>
<polygon points="148.31,216.38 159.2,219.09 159.45,218.92 148.56,216.21" fill="#5353b8" stroke="#5353b8"/>
<polygon points="71.93,139.24 72.75,151.67 73.31,157.31 72.58,146.43" fill="#33d0fd" stroke="#33d0fd"/>
<polygon points="148.06,216.55 158.95,219.27 159.2,219.09 148.31,216.38" fill="#5353b8" stroke="#5353b8"/>
<polygon points="244.79,217.89 257.48,220.98 259.77,219.25 247.1,216.17" fill="#5353b7" stroke="#5353b7"/>
<polygon points="147.81,216.72 158.71,219.44 158.95,219.27 148.06,216.55" fill="#5353b8" stroke="#5353b8"/>
<polygon points="162.42,216.85 173.36,219.56 174.1,219.04 163.16,216.33" fill="#5353b8" stroke="#5353b8"/>
<polygon points="177.04,216.97 188.02,219.69 188.99,218.99 178.01,216.28" fill="#5353b7" stroke="#5353b7"/>
<polygon points="71.69,132.64 72.58,146.43 73.5,159.02 72.79,148.64" fill="#36d8fd" stroke="#36d8fd"/>
<polygon points="147.56,216.89 158.46,219.61 158.71,219.44 147.81,216.72" fill="#5353b8" stroke="#5353b8"/>
<polygon points="225.29,217.73 240.15,221.36 242.47,219.62 227.64,216" fill="#5353b7" stroke="#5353b7"/>
<polygon points="147.31,217.07 158.21,219.79 158.46,219.61 147.56,216.89" fill="#5353b8" stroke="#5353b8"/>
<polygon points="161.93,217.19 172.87,219.91 173.36,219.56 162.42,216.85" fill="#5353b8" stroke="#5353b8"/>
<polygon points="191.17,217.44 204.04,220.61 205.24,219.75 192.38,216.58" fill="#5353b7" stroke="#5353b7"/>
<polygon points="207.63,218.02 220.57,221.19 222.94,219.46 210.02,216.29" fill="#5353b7" stroke="#5353b7"/>
<polygon points="176.06,217.66 187.05,220.38 188.02,219.69 177.04,216.97" fill="#5353b7" stroke="#5353b7"/>
<polygon points="161.43,217.54 172.38,220.26 172.87,219.91 161.93,217.19" fill="#5353b8" stroke="#5353b8"/>
<polygon points="160.94,217.88 171.89,220.61 172.38,220.26 161.43,217.54" fill="#5353b8" stroke="#5353b8"/>
<polygon points="175.08,218.35 186.08,221.08 187.05,220.38 176.06,217.66" fill="#5353b8" stroke="#5353b8"/>
<polygon points="160.54,218.16 171.49,220.88 171.89,220.61 160.94,217.88" fill="#5353b8" stroke="#5353b8"/>
<polygon points="189.96,218.3 202.84,221.48 204.04,220.61 191.17,217.44" fill="#5353b7" stroke="#5353b7"/>
<polygon points="242.47,219.62 255.17,222.72 257.48,220.98 244.79,217.89" fill="#5353b7" stroke="#5353b7"/>
<polygon points="160.2,218.4 171.15,221.13 171.49,220.88 160.54,218.16" fill="#5353b8" stroke="#5353b8"/>
<polygon points="159.95,218.57 170.9,221.3 171.15,221.13 160.2,218.4" fill="#5353b8" stroke="#5353b8"/>
<polygon points="222.94,219.46 237.81,223.1 240.15,221.36 225.29,217.73" fill="#5353b7" stroke="#5353b7"/>
<polygon points="159.7,218.75 170.65,221.48 170.9,221.3 159.95,218.57" fill="#5353b8" stroke="#5353b8"/>
<polygon points="174.1,219.04 185.1,221.77 186.08,221.08 175.08,218.35" fill="#5353b8" stroke="#5353b8"/>
<polygon points="159.45,218.92 170.41,221.65 170.65,221.48 159.7,218.75" fill="#5353b8" stroke="#5353b8"/>
<polygon points="188.99,218.99 201.88,222.18 202.84,221.48 189.96,218.3" fill="#5353b7" stroke="#5353b7"/>
<polygon points="205.24,219.75 218.2,222.94 220.57,221.19 207.63,218.02" fill="#5353b7" stroke="#5353b7"/>
<polygon points="159.2,219.09 170.16,221.82 170.41,221.65 159.45,218.92" fill="#5353b8" stroke="#5353b8"/>
<polygon points="158.95,219.27 169.91,222 170.16,221.82 159.2,219.09" fill="#5353b8" stroke="#5353b8"/>
<polygon points="173.36,219.56 184.37,222.3 185.1,221.77 174.1,219.04" fill="#5353b8" stroke="#5353b8"/>
<polygon points="158.71,219.44 169.67,222.17 169.91,222 158.95,219.27" fill="#5353b8" stroke="#5353b8"/>
<polygon points="158.46,219.61 169.42,222.35 169.67,222.17 158.71,219.44" fill="#5353b8" stroke="#5353b8"/>
<polygon points="188.02,219.69 200.92,222.88 201.88,222.18 188.99,218.99" fill="#5353b7" stroke="#5353b7"/>
<polygon points="158.21,219.79 169.17,222.52 169.42,222.35 158.46,219.61" fill="#5353b8" stroke="#5353b8"/>
<polygon points="172.87,219.91 183.88,222.65 184.37,222.3 173.36,219.56" fill="#5353b8" stroke="#5353b8"/>
<polygon points="240.15,221.36 252.86,224.47 255.17,222.72 242.47,219.62" fill="#5353b7" stroke="#5353b7"/>
<polygon points="70.9,118.84 71.94,135.51 73.09,152.68 72.3,140.68" fill="#57fce8" stroke="#57fce8"/>
<polygon points="172.38,220.26 183.39,223 183.88,222.65 172.87,219.91" fill="#5353b8" stroke="#5353b8"/>
<polygon points="187.05,220.38 199.95,223.58 200.92,222.88 188.02,219.69" fill="#5353b7" stroke="#5353b7"/>
<polygon points="204.04,220.61 217.01,223.81 218.2,222.94 205.24,219.75" fill="#5353b7" stroke="#5353b7"/>
<polygon points="220.57,221.19 235.46,224.86 237.81,223.1 222.94,219.46" fill="#5353b7" stroke="#5353b7"/>
<polygon points="171.89,220.61 182.9,223.35 183.39,223 172.38,220.26" fill="#5353b8" stroke="#5353b8"/>
<polygon points="171.49,220.88 182.51,223.63 182.9,223.35 171.89,220.61" fill="#5353b8" stroke="#5353b8"/>
<polygon points="186.08,221.08 198.98,224.28 199.95,223.58 187.05,220.38" fill="#5353b8" stroke="#5353b8"/>
<polygon points="171.15,221.13 182.16,223.87 182.51,223.63 171.49,220.88" fill="#5353b8" stroke="#5353b8"/>
<polygon points="202.84,221.48 215.81,224.69 217.01,223.81 204.04,220.61" fill="#5353b7" stroke="#5353b7"/>
<polygon points="170.9,221.3 181.92,224.05 182.16,223.87 171.15,221.13" fill="#5353b8" stroke="#5353b8"/>
<polygon points="70.94,123.47 71.93,139.24 72.58,146.43 71.69,132.64" fill="#60fce3" stroke="#60fce3"/>
<polygon points="170.65,221.48 181.67,224.22 181.92,224.05 170.9,221.3" fill="#5353b8" stroke="#5353b8"/>
<polygon points="170.41,221.65 181.43,224.4 181.67,224.22 170.65,221.48" fill="#5353b8" stroke="#5353b8"/>
<polygon points="185.1,221.77 198.01,224.98 198.98,224.28 186.08,221.08" fill="#5353b8" stroke="#5353b8"/>
<polygon points="170.16,221.82 181.18,224.57 181.43,224.4 170.41,221.65" fill="#5353b8" stroke="#5353b8"/>
<polygon points="237.81,223.1 250.54,226.23 252.86,224.47 240.15,221.36" fill="#5353b7" stroke="#5353b7"/>
<polygon points="70.61,115.14 71.69,132.64 72.79,148.64 71.94,135.51" fill="#6afcde" stroke="#6afcde"/>
<polygon points="169.91,222 180.94,224.75 181.18,224.57 170.16,221.82" fill="#5353b8" stroke="#5353b8"/>
<polygon points="201.88,222.18 214.86,225.39 215.81,224.69 202.84,221.48" fill="#5353b7" stroke="#5353b7"/>
<polygon points="169.67,222.17 180.69,224.92 180.94,224.75 169.91,222" fill="#5353b8" stroke="#5353b8"/>
<polygon points="218.2,222.94 233.11,226.61 235.46,224.86 220.57,221.19" fill="#5353b7" stroke="#5353b7"/>
<polygon points="184.37,222.3 197.29,225.51 198.01,224.98 185.1,221.77" fill="#5353b8" stroke="#5353b8"/>
<polygon points="169.42,222.35 180.45,225.1 180.69,224.92 169.67,222.17" fill="#5353b8" stroke="#5353b8"/>
<polygon points="169.17,222.52 180.2,225.27 180.45,225.1 169.42,222.35" fill="#5353b8" stroke="#5353b8"/>
<polygon points="200.92,222.88 213.9,226.09 214.86,225.39 201.88,222.18" fill="#5353b7" stroke="#5353b7"/>
<polygon points="183.88,222.65 196.8,225.86 197.29,225.51 184.37,222.3" fill="#5353b8" stroke="#5353b8"/>
<polygon points="183.39,223 196.32,226.21 196.8,225.86 183.88,222.65" fill="#5353b8" stroke="#5353b8"/>
<polygon points="199.95,223.58 212.94,226.8 213.9,226.09 200.92,222.88" fill="#5353b7" stroke="#5353b7"/>
<polygon points="182.9,223.35 195.83,226.56 196.32,226.21 183.39,223" fill="#5353b8" stroke="#5353b8"/>
<polygon points="217.01,223.81 231.93,227.49 233.11,226.61 218.2,222.94" fill="#5353b7" stroke="#5353b7"/>
<polygon points="235.46,224.86 248.21,227.99 250.54,226.23 237.81,223.1" fill="#5353b7" stroke="#5353b7"/>
<polygon points="182.51,223.63 195.44,226.84 195.83,226.56 182.9,223.35" fill="#5353b8" stroke="#5353b8"/>
<polygon points="182.16,223.87 195.1,227.09 195.44,226.84 182.51,223.63" fill="#5353b8" stroke="#5353b8"/>
<polygon points="198.98,224.28 211.98,227.5 212.94,226.8 199.95,223.58" fill="#5353b8" stroke="#5353b8"/>
<polygon points="181.92,224.05 194.86,227.27 195.1,227.09 182.16,223.87" fill="#5353b8" stroke="#5353b8"/>
<polygon points="181.67,224.22 194.61,227.44 194.86,227.27 181.92,224.05" fill="#5353b8" stroke="#5353b8"/>
<polygon points="215.81,224.69 230.74,228.38 231.93,227.49 217.01,223.81" fill="#5353b7" stroke="#5353b7"/>
<polygon points="181.43,224.4 194.37,227.62 194.61,227.44 181.67,224.22" fill="#5353b8" stroke="#5353b8"/>
<polygon points="181.18,224.57 194.13,227.8 194.37,227.62 181.43,224.4" fill="#5353b8" stroke="#5353b8"/>
<polygon points="198.01,224.98 211.02,228.21 211.98,227.5 198.98,224.28" fill="#5353b8" stroke="#5353b8"/>
<polygon points="180.94,224.75 193.88,227.97 194.13,227.8 181.18,224.57" fill="#5353b8" stroke="#5353b8"/>
<polygon points="180.69,224.92 193.64,228.15 193.88,227.97 180.94,224.75" fill="#5353b8" stroke="#5353b8"/>
<polygon points="214.86,225.39 229.8,229.08 230.74,228.38 215.81,224.69" fill="#5353b7" stroke="#5353b7"/>
<polygon points="180.45,225.1 193.39,228.33 193.64,228.15 180.69,224.92" fill="#5353b8" stroke="#5353b8"/>
<polygon points="233.11,226.61 245.88,229.76 248.21,227.99 235.46,224.86" fill="#5353b7" stroke="#5353b7"/>
<polygon points="197.29,225.51 210.3,228.74 211.02,228.21 198.01,224.98" fill="#5353b8" stroke="#5353b8"/>
<polygon points="180.2,225.27 193.15,228.5 193.39,228.33 180.45,225.1" fill="#5353b8" stroke="#5353b8"/>
<polygon points="196.8,225.86 209.81,229.09 210.3,228.74 197.29,225.51" fill="#5353b8" stroke="#5353b8"/>
<polygon points="213.9,226.09 228.85,229.79 229.8,229.08 214.86,225.39" fill="#5353b7" stroke="#5353b7"/>
<polygon points="196.32,226.21 209.33,229.45 209.81,229.09 196.8,225.86" fill="#5353b8" stroke="#5353b8"/>
<polygon points="195.83,226.56 208.85,229.8 209.33,229.45 196.32,226.21" fill="#5353b8" stroke="#5353b8"/>
<polygon points="212.94,226.8 227.9,230.5 228.85,229.79 213.9,226.09" fill="#5353b7" stroke="#5353b7"/>
<polygon points="231.93,227.49 244.7,230.65 245.88,229.76 233.11,226.61" fill="#5353b7" stroke="#5353b7"/>
<polygon points="195.44,226.84 208.46,230.09 208.85,229.8 195.83,226.56" fill="#5353b8" stroke="#5353b8"/>
<polygon points="195.1,227.09 208.12,230.33 208.46,230.09 195.44,226.84" fill="#5353b8" stroke="#5353b8"/>
<polygon points="194.86,227.27 207.88,230.51 208.12,230.33 195.1,227.09" fill="#5353b8" stroke="#5353b8"/>
<polygon points="211.98,227.5 226.94,231.21 227.9,230.5 212.94,226.8" fill="#5353b8" stroke="#5353b8"/>
<polygon points="69.73,103.41 70.94,123.47 71.69,132.64 70.61,115.14" fill="#abfba7" stroke="#abfba7"/>
<polygon points="194.61,227.44 207.64,230.69 207.88,230.51 194.86,227.27" fill="#5353b8" stroke="#5353b8"/>
<polygon points="230.74,228.38 243.53,231.53 244.7,230.65 231.93,227.49" fill="#5353b7" stroke="#5353b7"/>
<polygon points="194.37,227.62 207.4,230.87 207.64,230.69 194.61,227.44" fill="#5353b8" stroke="#5353b8"/>
<polygon points="194.13,227.8 207.16,231.05 207.4,230.87 194.37,227.62" fill="#5353b8" stroke="#5353b8"/>
<polygon points="193.88,227.97 206.91,231.22 207.16,231.05 194.13,227.8" fill="#5353b8" stroke="#5353b8"/>
<polygon points="211.02,228.21 225.99,231.93 226.94,231.21 211.98,227.5" fill="#5353b8" stroke="#5353b8"/>
<polygon points="193.64,228.15 206.67,231.4 206.91,231.22 193.88,227.97" fill="#5353b8" stroke="#5353b8"/>
<polygon points="69.28,92.84 70.61,115.14 71.94,135.51 70.9,118.84" fill="#c7fb93" stroke="#c7fb93"/>
<polygon points="193.39,228.33 206.43,231.58 206.67,231.4 193.64,228.15" fill="#5353b8" stroke="#5353b8"/>
<polygon points="229.8,229.08 242.59,232.25 243.53,231.53 230.74,228.38" fill="#5353b7" stroke="#5353b7"/>
<polygon points="193.15,228.5 206.19,231.76 206.43,231.58 193.39,228.33" fill="#5353b8" stroke="#5353b8"/>
<polygon points="210.3,228.74 225.27,232.46 225.99,231.93 211.02,228.21" fill="#5353b8" stroke="#5353b8"/>
<polygon points="209.81,229.09 224.79,232.82 225.27,232.46 210.3,228.74" fill="#5353b8" stroke="#5353b8"/>
<polygon points="228.85,229.79 241.64,232.96 242.59,232.25 229.8,229.08" fill="#5353b7" stroke="#5353b7"/>
<polygon points="209.33,229.45 224.32,233.17 224.79,232.82 209.81,229.09" fill="#5353b8" stroke="#5353b8"/>
<polygon points="208.85,229.8 223.84,233.53 224.32,233.17 209.33,229.45" fill="#5353b8" stroke="#5353b8"/>
<polygon points="227.9,230.5 240.7,233.68 241.64,232.96 228.85,229.79" fill="#5353b7" stroke="#5353b7"/>
<polygon points="208.46,230.09 223.45,233.82 223.84,233.53 208.85,229.8" fill="#5353b8" stroke="#5353b8"/>
<polygon points="208.12,230.33 223.12,234.07 223.45,233.82 208.46,230.09" fill="#5353b8" stroke="#5353b8"/>
<polygon points="226.94,231.21 239.75,234.39 240.7,233.68 227.9,230.5" fill="#5353b8" stroke="#5353b8"/>
<polygon points="207.88,230.51 222.88,234.25 223.12,234.07 208.12,230.33" fill="#5353b8" stroke="#5353b8"/>
<polygon points="207.64,230.69 222.64,234.43 222.88,234.25 207.88,230.51" fill="#5353b8" stroke="#5353b8"/>
<polygon points="207.4,230.87 222.4,234.61 222.64,234.43 207.64,230.69" fill="#5353b8" stroke="#5353b8"/>
<polygon points="207.16,231.05 222.16,234.78 222.4,234.61 207.4,230.87" fill="#5353b8" stroke="#5353b8"/>
<polygon points="225.99,231.93 238.81,235.11 239.75,234.39 226.94,231.21" fill="#5353b8" stroke="#5353b8"/>
<polygon points="206.91,231.22 221.92,234.96 222.16,234.78 207.16,231.05" fill="#5353b8" stroke="#5353b8"/>
<polygon points="206.67,231.4 221.68,235.14 221.92,234.96 206.91,231.22" fill="#5353b8" stroke="#5353b8"/>
<polygon points="206.43,231.58 221.44,235.32 221.68,235.14 206.67,231.4" fill="#5353b8" stroke="#5353b8"/>
<polygon points="206.19,231.76 221.2,235.5 221.44,235.32 206.43,231.58" fill="#5353b8" stroke="#5353b8"/>
<polygon points="225.27,232.46 238.1,235.65 238.81,235.11 225.99,231.93" fill="#5353b8" stroke="#5353b8"/>
<polygon points="224.79,232.82 237.62,236.01 238.1,235.65 225.27,232.46" fill="#5353b8" stroke="#5353b8"/>
<polygon points="224.32,233.17 237.15,236.36 237.62,236.01 224.79,232.82" fill="#5353b8" stroke="#5353b8"/>
<polygon points="223.84,233.53 236.67,236.72 237.15,236.36 224.32,233.17" fill="#5353b8" stroke="#5353b8"/>
<polygon points="223.45,233.82 236.29,237.01 236.67,236.72 223.84,233.53" fill="#5353b8" stroke="#5353b8"/>
<polygon points="223.12,234.07 235.96,237.27 236.29,237.01 223.45,233.82" fill="#5353b8" stroke="#5353b8"/>
<polygon points="222.88,234.25 235.72,237.45 235.96,237.27 223.12,234.07" fill="#5353b8" stroke="#5353b8"/>
<polygon points="222.64,234.43 235.48,237.63 235.72,237.45 222.88,234.25" fill="#5353b8" stroke="#5353b8"/>
<polygon points="222.4,234.61 235.24,237.81 235.48,237.63 222.64,234.43" fill="#5353b8" stroke="#5353b8"/>
<polygon points="222.16,234.78 235,237.99 235.24,237.81 222.4,234.61" fill="#5353b8" stroke="#5353b8"/>
<polygon points="221.92,234.96 234.77,238.17 235,237.99 222.16,234.78" fill="#5353b8" stroke="#5353b8"/>
<polygon points="221.68,235.14 234.53,238.35 234.77,238.17 221.92,234.96" fill="#5353b8" stroke="#5353b8"/>
<polygon points="221.44,235.32 234.29,238.53 234.53,238.35 221.68,235.14" fill="#5353b8" stroke="#5353b8"/>
<polygon points="221.2,235.5 234.05,238.71 234.29,238.53 221.44,235.32" fill="#5353b8" stroke="#5353b8"/>
<polygon points="68.23,77.79 69.73,103.41 70.61,115.14 69.28,92.84" fill="#fac184" stroke="#fac184"/>
</g>
<clipPath id="clipC"><polygon points="131.35,166.02 136.37,167.21 141.4,168.41 146.45,169.6 151.51,170.8 156.59,172 161.68,173.21 166.78,174.42 171.9,175.63 177.03,176.84 182.17,178.06 187.33,179.28 192.5,180.51 197.69,181.74 202.89,182.97 208.11,184.21 213.34,185.44 218.58,186.69 223.84,187.93 229.12,189.18 234.41,190.43 239.71,191.69 245.03,192.95 250.36,194.21 255.71,195.48 261.07,196.75 266.45,198.02 271.84,199.3 277.25,200.58 282.67,201.86 282.67,201.86 284.09,200.76 285.52,199.65 286.94,198.55 288.35,197.45 289.77,196.36 291.18,195.26 292.58,194.17 293.98,193.08 295.38,192 296.78,190.91 298.17,189.83 299.56,188.76 300.95,187.68 302.33,186.61 303.71,185.54 305.09,184.47 306.46,183.4 307.83,182.34 309.2,181.28 310.56,180.22 311.92,179.17 313.28,178.11 314.63,177.06 315.98,176.02 317.33,174.97 318.67,173.93 320.01,172.89 321.35,171.85 322.69,170.81 322.69,170.81 317.39,169.61 312.11,168.42 306.85,167.23 301.6,166.04 296.36,164.85 291.14,163.67 285.93,162.49 280.74,161.31 275.56,160.14 270.39,158.97 265.24,157.8 260.1,156.64 254.97,155.48 249.86,154.32 244.76,153.16 239.68,152.01 234.61,150.86 229.55,149.72 224.5,148.58 219.47,147.44 214.46,146.3 209.45,145.17 204.46,144.04 199.48,142.91 194.52,141.78 189.56,140.66 184.62,139.54 179.7,138.43 174.78,137.31 174.78,137.31 173.33,138.27 171.88,139.23 170.42,140.2 168.96,141.16 167.5,142.13 166.03,143.1 164.56,144.07 163.09,145.05 161.61,146.02 160.13,147 158.65,147.98 157.16,148.96 155.67,149.95 154.17,150.94 152.68,151.93 151.18,152.92 149.67,153.91 148.16,154.91 146.65,155.91 145.14,156.91 143.62,157.91 142.1,158.92 140.57,159.93 139.04,160.94 137.51,161.95 135.98,162.96 134.44,163.98 132.89,165 131.35,166.02"/></clipPath>
<path clip-path="url(#clipC)" d="M91.35,137.31 L125.32,201.86 M96.75,137.31 L130.72,201.86 M102.15,137.31 L136.12,201.86 M107.55,137.31 L141.52,201.86 M112.95,137.31 L146.92,201.86 M118.35,137.31 L152.32,201.86 M123.75,137.31 L157.72,201.86 M129.15,137.31 L163.12,201.86 M134.55,137.31 L168.52,201.86 M139.95,137.31 L173.92,201.86 M145.35,137.31 L179.32,201.86 M150.75,137.31 L184.72,201.86 M156.15,137.31 L190.12,201.86 M161.55,137.31 L195.52,201.86 M166.95,137.31 L200.92,201.86 M172.35,137.31 L206.32,201.86 M177.75,137.31 L211.72,201.86 M183.15,137.31 L217.12,201.86 M188.55,137.31 L222.52,201.86 M193.95,137.31 L227.92,201.86 M199.35,137.31 L233.32,201.86 M204.75,137.31 L238.72,201.86 M210.15,137.31 L244.12,201.86 M215.55,137.31 L249.52,201.86 M220.95,137.31 L254.92,201.86 M226.35,137.31 L260.32,201.86 M231.75,137.31 L265.72,201.86 M237.15,137.31 L271.12,201.86 M242.55,137.31 L276.52,201.86 M247.95,137.31 L281.92,201.86 M253.35,137.31 L287.32,201.86 M258.75,137.31 L292.72,201.86 M264.15,137.31 L298.12,201.86 M269.55,137.31 L303.52,201.86 M274.95,137.31 L308.92,201.86 M280.35,137.31 L314.32,201.86 M285.75,137.31 L319.72,201.86 M291.15,137.31 L325.12,201.86 M296.55,137.31 L330.52,201.86 M301.95,137.31 L335.92,201.86 M307.35,137.31 L341.32,201.86 M312.75,137.31 L346.72,201.86 M318.15,137.31 L352.12,201.86 M323.55,137.31 L357.52,201.86 M328.95,137.31 L362.92,201.86" stroke="#202080" stroke-opacity="0.17" stroke-width="2.6" fill="none"/>
<path d="M74.87,174.15 L76.25,180.19" stroke="#0808f8" stroke-opacity="0.85" stroke-width="2.6" stroke-linecap="round" fill="none"/>
<path d="M76.25,180.19 L77.98,182.68" stroke="#0808f8" stroke-opacity="0.9" stroke-width="2.6" stroke-linecap="round" fill="none"/>
<path d="M77.98,182.68 L80.16,183.71" stroke="#0808f8" stroke-opacity="0.9" stroke-width="2.6" stroke-linecap="round" fill="none"/>
<path d="M80.16,183.71 L82.87,184.84" stroke="#0808f8" stroke-opacity="0.88" stroke-width="2.6" stroke-linecap="round" fill="none"/>
<path d="M82.87,184.84 L86.07,185.56" stroke="#0808f8" stroke-opacity="0.85" stroke-width="2.6" stroke-linecap="round" fill="none"/>
<path d="M86.07,185.56 L89.77,186.28" stroke="#0808f8" stroke-opacity="0.8" stroke-width="2.6" stroke-linecap="round" fill="none"/>
<path d="M89.77,186.28 L93.89,185.51" stroke="#0808f8" stroke-opacity="0.7" stroke-width="2.6" stroke-linecap="round" fill="none"/>
<path d="M93.89,185.51 L98.48,184.28" stroke="#0808f8" stroke-opacity="0.55" stroke-width="2.6" stroke-linecap="round" fill="none"/>
<path d="M98.48,184.28 L103.48,181.65" stroke="#0808f8" stroke-opacity="0.4" stroke-width="2.6" stroke-linecap="round" fill="none"/>
<path d="M103.48,181.65 L108.92,178.24" stroke="#0808f8" stroke-opacity="0.2" stroke-width="2.6" stroke-linecap="round" fill="none"/>
<polygon points="457.59,204.19 557.92,138.16 556.25,11.99 450.33,71.31" fill="#f2f2f2" fill-opacity="0.5" stroke="#f2f2f2" stroke-opacity="0.5" stroke-width="1"/>
<polygon points="557.92,138.16 720.44,175.07 727.24,45.1 556.25,11.99" fill="#e6e6e6" fill-opacity="0.5" stroke="#e6e6e6" stroke-opacity="0.5" stroke-width="1"/>
<polygon points="457.59,204.19 628.59,247.18 720.44,175.07 557.92,138.16" fill="#ececec" fill-opacity="0.5" stroke="#ececec" stroke-opacity="0.5" stroke-width="1"/>
<path d="M460.86,205.01 L561.04,138.87 L559.53,12.62 M495.96,213.83 L594.48,146.46 L594.65,19.42 M531.73,222.83 L628.52,154.19 L630.43,26.35 M568.2,231.99 L663.17,162.06 L666.9,33.41 M605.39,241.35 L698.46,170.08 L704.07,40.61 M452.62,70.03 L459.75,202.77 L630.57,245.62 M479.5,54.98 L485.14,186.06 L653.87,227.33 M505.37,40.49 L509.63,169.94 L676.3,209.72 M530.28,26.54 L533.25,154.4 L697.91,192.76 M554.29,13.09 L556.06,139.39 L718.74,176.41 M720.57,172.6 L557.89,135.75 L457.46,201.66 M722.55,134.92 L557.41,99.12 L455.35,163.18 M724.58,96.07 L556.91,61.4 L453.18,123.47 M726.67,56 L556.39,22.55 L450.94,82.47" fill="none" stroke="#e6e6e6" stroke-width="0.9"/>
<path d="M457.59,204.19 L628.59,247.18 M628.59,247.18 L720.44,175.07 M720.44,175.07 L727.24,45.1 M458.7,206.44 L461.9,204.32 M493.83,215.29 L496.97,213.13 M529.64,224.31 L532.73,222.11 M566.14,233.51 L569.18,231.27 M603.37,242.89 L606.35,240.61 M634.15,246.52 L628.86,245.19 M657.41,228.19 L652.18,226.92 M679.79,210.55 L674.63,209.32 M701.35,193.56 L696.26,192.38 M722.14,177.18 L717.11,176.04 M723.97,173.37 L718.95,172.23 M726,135.66 L720.89,134.56 M728.08,96.79 L722.9,95.72 M730.24,56.7 L724.97,55.66" fill="none" stroke="#000" stroke-width="0.85"/>
<text x="453.06" y="227.21" font-size="9.4" text-anchor="middle">0</text>
<text x="488.16" y="236.03" font-size="9.4" text-anchor="middle">100</text>
<text x="523.93" y="245.03" font-size="9.4" text-anchor="middle">200</text>
<text x="560.4" y="254.19" font-size="9.4" text-anchor="middle">300</text>
<text x="597.59" y="263.55" font-size="9.4" text-anchor="middle">400</text>
<text x="644.27" y="264.62" font-size="9.4" text-anchor="middle">0</text>
<text x="667.57" y="246.33" font-size="9.4" text-anchor="middle">500<tspan dx="-1.18">,</tspan><tspan dx="-1.18">000</tspan></text>
<text x="690" y="228.72" font-size="9.4" text-anchor="middle">1<tspan dx="-1.18">,</tspan><tspan dx="-1.18">000</tspan><tspan dx="-1.18">,</tspan><tspan dx="-1.18">000</tspan></text>
<text x="711.61" y="211.76" font-size="9.4" text-anchor="middle">1<tspan dx="-1.18">,</tspan><tspan dx="-1.18">500</tspan><tspan dx="-1.18">,</tspan><tspan dx="-1.18">000</tspan></text>
<text x="732.44" y="195.41" font-size="9.4" text-anchor="middle">2<tspan dx="-1.18">,</tspan><tspan dx="-1.18">000</tspan><tspan dx="-1.18">,</tspan><tspan dx="-1.18">000</tspan></text>
<text x="741.37" y="178.1" font-size="9.4" text-anchor="middle">0</text>
<text x="743.35" y="140.42" font-size="9.4" text-anchor="middle">50<tspan dx="-1.18">,</tspan><tspan dx="-1.18">000</tspan></text>
<text x="745.38" y="101.57" font-size="9.4" text-anchor="middle">100<tspan dx="-1.18">,</tspan><tspan dx="-1.18">000</tspan></text>
<text x="747.47" y="61.5" font-size="9.4" text-anchor="middle">150<tspan dx="-1.18">,</tspan><tspan dx="-1.18">000</tspan></text>
<g stroke-width="1.2" stroke-linejoin="round">
<polygon points="556.31,134.68 556.4,134.78 560.9,131.96 560.82,131.9" fill="#4c4cd0" stroke="#4c4cd0"/>
<polygon points="556.4,134.78 556.48,134.86 560.98,132.01 560.9,131.96" fill="#4c4ccf" stroke="#4c4ccf"/>
<polygon points="556.23,134.56 556.31,134.68 560.82,131.9 560.73,131.83" fill="#4c4cd0" stroke="#4c4cd0"/>
<polygon points="556.48,134.86 556.56,134.93 561.07,132.06 560.98,132.01" fill="#4c4ccf" stroke="#4c4ccf"/>
<polygon points="556.56,134.93 556.67,135 561.17,132.11 561.07,132.06" fill="#4c4ccf" stroke="#4c4ccf"/>
<polygon points="556.67,135 556.77,135.07 561.27,132.16 561.17,132.11" fill="#4c4ccf" stroke="#4c4ccf"/>
<polygon points="556.77,135.07 556.9,135.14 561.4,132.22 561.27,132.16" fill="#4c4cce" stroke="#4c4cce"/>
<polygon points="556.9,135.14 557.07,135.21 561.57,132.28 561.4,132.22" fill="#4c4cce" stroke="#4c4cce"/>
<polygon points="557.07,135.21 557.24,135.28 561.74,132.34 561.57,132.28" fill="#4c4cce" stroke="#4c4cce"/>
<polygon points="557.24,135.28 557.57,135.4 562.07,132.45 561.74,132.34" fill="#4c4cce" stroke="#4c4cce"/>
<polygon points="557.57,135.4 557.9,135.51 562.4,132.56 562.07,132.45" fill="#4c4ccd" stroke="#4c4ccd"/>
<polygon points="557.9,135.51 558.57,135.72 563.07,132.77 562.4,132.56" fill="#4c4ccd" stroke="#4c4ccd"/>
<polygon points="558.57,135.72 559.58,136.03 564.07,133.08 563.07,132.77" fill="#4c4ccd" stroke="#4c4ccd"/>
<polygon points="559.58,136.03 561.25,136.55 565.74,133.59 564.07,133.08" fill="#4c4ccc" stroke="#4c4ccc"/>
<polygon points="561.25,136.55 562.93,137.06 567.42,134.09 565.74,133.59" fill="#4c4ccb" stroke="#4c4ccb"/>
<polygon points="562.93,137.06 564.61,137.56 569.09,134.6 567.42,134.09" fill="#4c4cca" stroke="#4c4cca"/>
<polygon points="564.61,137.56 566.28,138.06 570.76,135.1 569.09,134.6" fill="#4c4cc9" stroke="#4c4cc9"/>
<polygon points="566.28,138.06 567.96,138.56 572.44,135.59 570.76,135.1" fill="#4c4cc8" stroke="#4c4cc8"/>
<polygon points="567.96,138.56 571.33,139.55 575.79,136.57 572.44,135.59" fill="#4c4cc7" stroke="#4c4cc7"/>
<polygon points="552.03,137.73 552.13,137.84 556.67,135 556.56,134.93" fill="#4c4cd0" stroke="#4c4cd0"/>
<polygon points="552.13,137.84 552.23,137.94 556.77,135.07 556.67,135" fill="#4c4ccf" stroke="#4c4ccf"/>
<polygon points="551.94,137.61 552.03,137.73 556.56,134.93 556.48,134.86" fill="#4c4cd0" stroke="#4c4cd0"/>
<polygon points="552.23,137.94 552.37,138.04 556.9,135.14 556.77,135.07" fill="#4c4ccf" stroke="#4c4ccf"/>
<polygon points="551.86,137.46 551.94,137.61 556.48,134.86 556.4,134.78" fill="#4c4cd1" stroke="#4c4cd1"/>
<polygon points="552.37,138.04 552.54,138.15 557.07,135.21 556.9,135.14" fill="#4c4cce" stroke="#4c4cce"/>
<polygon points="551.77,137.28 551.86,137.46 556.4,134.78 556.31,134.68" fill="#4c4cd2" stroke="#4c4cd2"/>
<polygon points="552.54,138.15 552.7,138.23 557.24,135.28 557.07,135.21" fill="#4c4cce" stroke="#4c4cce"/>
<polygon points="551.68,137.06 551.77,137.28 556.31,134.68 556.23,134.56" fill="#4c4cd2" stroke="#4c4cd2"/>
<polygon points="552.7,138.23 553.04,138.36 557.57,135.4 557.24,135.28" fill="#4c4cce" stroke="#4c4cce"/>
<polygon points="553.04,138.36 553.37,138.48 557.9,135.51 557.57,135.4" fill="#4c4ccd" stroke="#4c4ccd"/>
<polygon points="553.37,138.48 554.05,138.7 558.57,135.72 557.9,135.51" fill="#4c4ccd" stroke="#4c4ccd"/>
<polygon points="571.33,139.55 574.7,140.52 579.15,137.54 575.79,136.57" fill="#4c4cc6" stroke="#4c4cc6"/>
<polygon points="554.05,138.7 555.05,139.01 559.58,136.03 558.57,135.72" fill="#4c4ccd" stroke="#4c4ccd"/>
<polygon points="555.05,139.01 556.73,139.52 561.25,136.55 559.58,136.03" fill="#4c4ccc" stroke="#4c4ccc"/>
<polygon points="556.73,139.52 558.41,140.04 562.93,137.06 561.25,136.55" fill="#4c4ccb" stroke="#4c4ccb"/>
<polygon points="574.7,140.52 579.76,141.95 584.21,138.97 579.15,137.54" fill="#4c4cc4" stroke="#4c4cc4"/>
<polygon points="558.41,140.04 560.09,140.54 564.61,137.56 562.93,137.06" fill="#4c4cca" stroke="#4c4cca"/>
<polygon points="560.09,140.54 561.77,141.05 566.28,138.06 564.61,137.56" fill="#4c4cc9" stroke="#4c4cc9"/>
<polygon points="561.77,141.05 563.46,141.55 567.96,138.56 566.28,138.06" fill="#4c4cc8" stroke="#4c4cc8"/>
<polygon points="579.76,141.95 584.84,143.37 589.27,140.37 584.21,138.97" fill="#4c4cc2" stroke="#4c4cc2"/>
<polygon points="563.46,141.55 566.83,142.54 571.33,139.55 567.96,138.56" fill="#4c4cc7" stroke="#4c4cc7"/>
<polygon points="566.83,142.54 570.21,143.52 574.7,140.52 571.33,139.55" fill="#4c4cc6" stroke="#4c4cc6"/>
<polygon points="584.84,143.37 589.92,144.76 594.35,141.75 589.27,140.37" fill="#4c4cc0" stroke="#4c4cc0"/>
<polygon points="545.37,142.29 545.51,142.44 552.37,138.04 552.23,137.94" fill="#4c4ccf" stroke="#4c4ccf"/>
<polygon points="545.51,142.44 545.68,142.58 552.54,138.15 552.37,138.04" fill="#4c4ccf" stroke="#4c4ccf"/>
<polygon points="545.27,142.14 545.37,142.29 552.23,137.94 552.13,137.84" fill="#4c4cd0" stroke="#4c4cd0"/>
<polygon points="545.68,142.58 545.84,142.69 552.7,138.23 552.54,138.15" fill="#4c4cce" stroke="#4c4cce"/>
<polygon points="545.16,141.96 545.27,142.14 552.13,137.84 552.03,137.73" fill="#4c4cd1" stroke="#4c4cd1"/>
<polygon points="545.08,141.76 545.16,141.96 552.03,137.73 551.94,137.61" fill="#4c4cd2" stroke="#4c4cd2"/>
<polygon points="545.84,142.69 546.18,142.85 553.04,138.36 552.7,138.23" fill="#4c4cce" stroke="#4c4cce"/>
<polygon points="544.99,141.52 545.08,141.76 551.94,137.61 551.86,137.46" fill="#4c4cd3" stroke="#4c4cd3"/>
<polygon points="546.18,142.85 546.52,142.97 553.37,138.48 553.04,138.36" fill="#4c4cce" stroke="#4c4cce"/>
<polygon points="544.9,141.22 544.99,141.52 551.86,137.46 551.77,137.28" fill="#4c4cd4" stroke="#4c4cd4"/>
<polygon points="544.81,140.84 544.9,141.22 551.77,137.28 551.68,137.06" fill="#4c4cd6" stroke="#4c4cd6"/>
<polygon points="546.52,142.97 547.19,143.19 554.05,138.7 553.37,138.48" fill="#4c4ccd" stroke="#4c4ccd"/>
<polygon points="547.19,143.19 548.2,143.51 555.05,139.01 554.05,138.7" fill="#4c4ccd" stroke="#4c4ccd"/>
<polygon points="570.21,143.52 575.28,144.97 579.76,141.95 574.7,140.52" fill="#4c4cc4" stroke="#4c4cc4"/>
<polygon points="548.2,143.51 549.89,144.03 556.73,139.52 555.05,139.01" fill="#4c4ccc" stroke="#4c4ccc"/>
<polygon points="589.92,144.76 595.02,146.13 599.43,143.12 594.35,141.75" fill="#4c4cbf" stroke="#4c4cbf"/>
<polygon points="549.89,144.03 551.57,144.55 558.41,140.04 556.73,139.52" fill="#4c4ccb" stroke="#4c4ccb"/>
<polygon points="551.57,144.55 553.26,145.06 560.09,140.54 558.41,140.04" fill="#4c4cca" stroke="#4c4cca"/>
<polygon points="575.28,144.97 580.37,146.39 584.84,143.37 579.76,141.95" fill="#4c4cc2" stroke="#4c4cc2"/>
<polygon points="553.26,145.06 554.95,145.57 561.77,141.05 560.09,140.54" fill="#4c4cc9" stroke="#4c4cc9"/>
<polygon points="595.02,146.13 601.85,147.94 606.24,144.91 599.43,143.12" fill="#4c4cbe" stroke="#4c4cbe"/>
<polygon points="554.95,145.57 556.64,146.07 563.46,141.55 561.77,141.05" fill="#4c4cc8" stroke="#4c4cc8"/>
<polygon points="556.64,146.07 560.02,147.07 566.83,142.54 563.46,141.55" fill="#4c4cc7" stroke="#4c4cc7"/>
<polygon points="580.37,146.39 585.47,147.79 589.92,144.76 584.84,143.37" fill="#4c4cc0" stroke="#4c4cc0"/>
<polygon points="560.02,147.07 563.41,148.06 570.21,143.52 566.83,142.54" fill="#4c4cc6" stroke="#4c4cc6"/>
<polygon points="601.85,147.94 608.69,149.71 613.07,146.68 606.24,144.91" fill="#4c4cbd" stroke="#4c4cbd"/>
<polygon points="585.47,147.79 590.58,149.17 595.02,146.13 589.92,144.76" fill="#4c4cbf" stroke="#4c4cbf"/>
<polygon points="563.41,148.06 568.51,149.52 575.28,144.97 570.21,143.52" fill="#4c4cc4" stroke="#4c4cc4"/>
<polygon points="538.57,146.93 538.74,147.09 545.68,142.58 545.51,142.44" fill="#4c4ccf" stroke="#4c4ccf"/>
<polygon points="538.43,146.75 538.57,146.93 545.51,142.44 545.37,142.29" fill="#4c4cd0" stroke="#4c4cd0"/>
<polygon points="538.74,147.09 538.91,147.21 545.84,142.69 545.68,142.58" fill="#4c4ccf" stroke="#4c4ccf"/>
<polygon points="538.33,146.58 538.43,146.75 545.37,142.29 545.27,142.14" fill="#4c4cd1" stroke="#4c4cd1"/>
<polygon points="538.91,147.21 539.25,147.39 546.18,142.85 545.84,142.69" fill="#4c4cce" stroke="#4c4cce"/>
<polygon points="538.23,146.35 538.33,146.58 545.27,142.14 545.16,141.96" fill="#4c4cd2" stroke="#4c4cd2"/>
<polygon points="539.25,147.39 539.59,147.52 546.52,142.97 546.18,142.85" fill="#4c4cce" stroke="#4c4cce"/>
<polygon points="538.14,146.12 538.23,146.35 545.16,141.96 545.08,141.76" fill="#4c4cd3" stroke="#4c4cd3"/>
<polygon points="538.05,145.82 538.14,146.12 545.08,141.76 544.99,141.52" fill="#4c4cd5" stroke="#4c4cd5"/>
<polygon points="539.59,147.52 540.27,147.74 547.19,143.19 546.52,142.97" fill="#4c4ccd" stroke="#4c4ccd"/>
<polygon points="537.95,145.45 538.05,145.82 544.99,141.52 544.9,141.22" fill="#4c4cd7" stroke="#4c4cd7"/>
<polygon points="537.86,144.98 537.95,145.45 544.9,141.22 544.81,140.84" fill="#4c4cd9" stroke="#4c4cd9"/>
<polygon points="540.27,147.74 541.28,148.06 548.2,143.51 547.19,143.19" fill="#4c4ccd" stroke="#4c4ccd"/>
<polygon points="590.58,149.17 597.42,150.98 601.85,147.94 595.02,146.13" fill="#4c4cbe" stroke="#4c4cbe"/>
<polygon points="608.69,149.71 617.28,151.91 621.64,148.85 613.07,146.68" fill="#4c4cbd" stroke="#4c4cbd"/>
<polygon points="541.28,148.06 542.97,148.58 549.89,144.03 548.2,143.51" fill="#4c4ccc" stroke="#4c4ccc"/>
<polygon points="568.51,149.52 573.61,150.96 580.37,146.39 575.28,144.97" fill="#4c4cc2" stroke="#4c4cc2"/>
<polygon points="542.97,148.58 544.67,149.11 551.57,144.55 549.89,144.03" fill="#4c4ccb" stroke="#4c4ccb"/>
<polygon points="544.67,149.11 546.36,149.62 553.26,145.06 551.57,144.55" fill="#4c4cca" stroke="#4c4cca"/>
<polygon points="546.36,149.62 548.05,150.14 554.95,145.57 553.26,145.06" fill="#4c4cc9" stroke="#4c4cc9"/>
<polygon points="573.61,150.96 578.73,152.37 585.47,147.79 580.37,146.39" fill="#4c4cc0" stroke="#4c4cc0"/>
<polygon points="597.42,150.98 604.28,152.77 608.69,149.71 601.85,147.94" fill="#4c4cbd" stroke="#4c4cbd"/>
<polygon points="548.05,150.14 549.75,150.65 556.64,146.07 554.95,145.57" fill="#4c4cc8" stroke="#4c4cc8"/>
<polygon points="617.28,151.91 625.91,154.07 630.24,151 621.64,148.85" fill="#4c4cbd" stroke="#4c4cbd"/>
<polygon points="549.75,150.65 553.15,151.66 560.02,147.07 556.64,146.07" fill="#4c4cc7" stroke="#4c4cc7"/>
<polygon points="578.73,152.37 583.87,153.76 590.58,149.17 585.47,147.79" fill="#4c4cbf" stroke="#4c4cbf"/>
<polygon points="553.15,151.66 556.55,152.65 563.41,148.06 560.02,147.07" fill="#4c4cc6" stroke="#4c4cc6"/>
<polygon points="604.28,152.77 612.89,154.98 617.28,151.91 608.69,149.71" fill="#4c4cbd" stroke="#4c4cbd"/>
<polygon points="556.55,152.65 561.66,154.12 568.51,149.52 563.41,148.06" fill="#4c4cc4" stroke="#4c4cc4"/>
<polygon points="625.91,154.07 636.31,156.64 640.62,153.56 630.24,151" fill="#4c4cbd" stroke="#4c4cbd"/>
<polygon points="583.87,153.76 590.73,155.6 597.42,150.98 590.58,149.17" fill="#4c4cbe" stroke="#4c4cbe"/>
<polygon points="531.57,151.47 531.74,151.65 538.74,147.09 538.57,146.93" fill="#4c4cd0" stroke="#4c4cd0"/>
<polygon points="531.74,151.65 531.91,151.79 538.91,147.21 538.74,147.09" fill="#4c4ccf" stroke="#4c4ccf"/>
<polygon points="531.43,151.27 531.57,151.47 538.57,146.93 538.43,146.75" fill="#4c4cd1" stroke="#4c4cd1"/>
<polygon points="531.91,151.79 532.25,151.97 539.25,147.39 538.91,147.21" fill="#4c4cce" stroke="#4c4cce"/>
<polygon points="531.32,151.06 531.43,151.27 538.43,146.75 538.33,146.58" fill="#4c4cd2" stroke="#4c4cd2"/>
<polygon points="532.25,151.97 532.59,152.11 539.59,147.52 539.25,147.39" fill="#4c4cce" stroke="#4c4cce"/>
<polygon points="531.21,150.8 531.32,151.06 538.33,146.58 538.23,146.35" fill="#4c4cd3" stroke="#4c4cd3"/>
<polygon points="531.12,150.53 531.21,150.8 538.23,146.35 538.14,146.12" fill="#4c4cd5" stroke="#4c4cd5"/>
<polygon points="532.59,152.11 533.27,152.34 540.27,147.74 539.59,147.52" fill="#4c4ccd" stroke="#4c4ccd"/>
<polygon points="531.03,150.18 531.12,150.53 538.14,146.12 538.05,145.82" fill="#4c4cd6" stroke="#4c4cd6"/>
<polygon points="530.94,149.75 531.03,150.18 538.05,145.82 537.95,145.45" fill="#4c4cd9" stroke="#4c4cd9"/>
<polygon points="533.27,152.34 534.29,152.66 541.28,148.06 540.27,147.74" fill="#4c4ccd" stroke="#4c4ccd"/>
<polygon points="530.84,149.19 530.94,149.75 537.95,145.45 537.86,144.98" fill="#4c4cdc" stroke="#4c4cdc"/>
<polygon points="534.29,152.66 535.98,153.19 542.97,148.58 541.28,148.06" fill="#4c4ccc" stroke="#4c4ccc"/>
<polygon points="561.66,154.12 566.79,155.57 573.61,150.96 568.51,149.52" fill="#4c4cc2" stroke="#4c4cc2"/>
<polygon points="612.89,154.98 621.54,157.16 625.91,154.07 617.28,151.91" fill="#4c4cbd" stroke="#4c4cbd"/>
<polygon points="535.98,153.19 537.68,153.71 544.67,149.11 542.97,148.58" fill="#4c4ccb" stroke="#4c4ccb"/>
<polygon points="590.73,155.6 597.61,157.4 604.28,152.77 597.42,150.98" fill="#4c4cbd" stroke="#4c4cbd"/>
<polygon points="537.68,153.71 539.38,154.24 546.36,149.62 544.67,149.11" fill="#4c4cca" stroke="#4c4cca"/>
<polygon points="539.38,154.24 541.08,154.75 548.05,150.14 546.36,149.62" fill="#4c4cc9" stroke="#4c4cc9"/>
<polygon points="636.31,156.64 646.77,159.19 651.05,156.08 640.62,153.56" fill="#4c4cbd" stroke="#4c4cbd"/>
<polygon points="566.79,155.57 571.92,157 578.73,152.37 573.61,150.96" fill="#4c4cc0" stroke="#4c4cc0"/>
<polygon points="541.08,154.75 542.79,155.27 549.75,150.65 548.05,150.14" fill="#4c4cc8" stroke="#4c4cc8"/>
<polygon points="542.79,155.27 546.19,156.29 553.15,151.66 549.75,150.65" fill="#4c4cc7" stroke="#4c4cc7"/>
<polygon points="621.54,157.16 631.97,159.75 636.31,156.64 625.91,154.07" fill="#4c4cbd" stroke="#4c4cbd"/>
<polygon points="597.61,157.4 606.26,159.63 612.89,154.98 604.28,152.77" fill="#4c4cbd" stroke="#4c4cbd"/>
<polygon points="571.92,157 577.07,158.41 583.87,153.76 578.73,152.37" fill="#4c4cbf" stroke="#4c4cbf"/>
<polygon points="546.19,156.29 549.61,157.29 556.55,152.65 553.15,151.66" fill="#4c4cc6" stroke="#4c4cc6"/>
<polygon points="646.77,159.19 657.29,161.71 661.54,158.6 651.05,156.08" fill="#4c4cbd" stroke="#4c4cbd"/>
<polygon points="549.61,157.29 554.74,158.78 561.66,154.12 556.55,152.65" fill="#4c4cc4" stroke="#4c4cc4"/>
<polygon points="577.07,158.41 583.96,160.26 590.73,155.6 583.87,153.76" fill="#4c4cbe" stroke="#4c4cbe"/>
<polygon points="524.66,156.28 524.83,156.42 531.91,151.79 531.74,151.65" fill="#4c4ccf" stroke="#4c4ccf"/>
<polygon points="524.48,156.08 524.66,156.28 531.74,151.65 531.57,151.47" fill="#4c4cd0" stroke="#4c4cd0"/>
<polygon points="524.34,155.86 524.48,156.08 531.57,151.47 531.43,151.27" fill="#4c4cd1" stroke="#4c4cd1"/>
<polygon points="524.83,156.42 525.17,156.61 532.25,151.97 531.91,151.79" fill="#4c4cce" stroke="#4c4cce"/>
<polygon points="524.24,155.65 524.34,155.86 531.43,151.27 531.32,151.06" fill="#4c4cd2" stroke="#4c4cd2"/>
<polygon points="525.17,156.61 525.51,156.75 532.59,152.11 532.25,151.97" fill="#4c4cce" stroke="#4c4cce"/>
<polygon points="524.13,155.36 524.24,155.65 531.32,151.06 531.21,150.8" fill="#4c4cd4" stroke="#4c4cd4"/>
<polygon points="525.51,156.75 526.19,156.98 533.27,152.34 532.59,152.11" fill="#4c4ccd" stroke="#4c4ccd"/>
<polygon points="524.03,155.06 524.13,155.36 531.21,150.8 531.12,150.53" fill="#4c4cd5" stroke="#4c4cd5"/>
<polygon points="523.94,154.69 524.03,155.06 531.12,150.53 531.03,150.18" fill="#4c4cd8" stroke="#4c4cd8"/>
<polygon points="606.26,159.63 614.94,161.83 621.54,157.16 612.89,154.98" fill="#4c4cbd" stroke="#4c4cbd"/>
<polygon points="526.19,156.98 527.22,157.31 534.29,152.66 533.27,152.34" fill="#4c4ccd" stroke="#4c4ccd"/>
<polygon points="523.84,154.22 523.94,154.69 531.03,150.18 530.94,149.75" fill="#4c4cda" stroke="#4c4cda"/>
<polygon points="523.74,153.62 523.84,154.22 530.94,149.75 530.84,149.19" fill="#4c4cde" stroke="#4c4cde"/>
<polygon points="631.97,159.75 642.46,162.31 646.77,159.19 636.31,156.64" fill="#4c4cbd" stroke="#4c4cbd"/>
<polygon points="527.22,157.31 528.92,157.84 535.98,153.19 534.29,152.66" fill="#4c4ccc" stroke="#4c4ccc"/>
<polygon points="554.74,158.78 559.88,160.24 566.79,155.57 561.66,154.12" fill="#4c4cc2" stroke="#4c4cc2"/>
<polygon points="528.92,157.84 530.62,158.37 537.68,153.71 535.98,153.19" fill="#4c4ccb" stroke="#4c4ccb"/>
<polygon points="530.62,158.37 532.33,158.9 539.38,154.24 537.68,153.71" fill="#4c4cca" stroke="#4c4cca"/>
<polygon points="583.96,160.26 590.87,162.08 597.61,157.4 590.73,155.6" fill="#4c4cbd" stroke="#4c4cbd"/>
<polygon points="532.33,158.9 534.04,159.42 541.08,154.75 539.38,154.24" fill="#4c4cc9" stroke="#4c4cc9"/>
<polygon points="657.29,161.71 669.63,164.65 673.85,161.51 661.54,158.6" fill="#4c4cbd" stroke="#4c4cbd"/>
<polygon points="559.88,160.24 565.04,161.68 571.92,157 566.79,155.57" fill="#4c4cc0" stroke="#4c4cc0"/>
<polygon points="534.04,159.42 535.75,159.94 542.79,155.27 541.08,154.75" fill="#4c4cc8" stroke="#4c4cc8"/>
<polygon points="614.94,161.83 625.4,164.45 631.97,159.75 621.54,157.16" fill="#4c4cbd" stroke="#4c4cbd"/>
<polygon points="535.75,159.94 539.17,160.97 546.19,156.29 542.79,155.27" fill="#4c4cc7" stroke="#4c4cc7"/>
<polygon points="642.46,162.31 653,164.86 657.29,161.71 646.77,159.19" fill="#4c4cbd" stroke="#4c4cbd"/>
<polygon points="590.87,162.08 599.55,164.33 606.26,159.63 597.61,157.4" fill="#4c4cbd" stroke="#4c4cbd"/>
<polygon points="565.04,161.68 570.21,163.1 577.07,158.41 571.92,157" fill="#4c4cbf" stroke="#4c4cbf"/>
<polygon points="539.17,160.97 542.59,161.98 549.61,157.29 546.19,156.29" fill="#4c4cc6" stroke="#4c4cc6"/>
<polygon points="519.89,159.39 520.07,159.53 524.83,156.42 524.66,156.28" fill="#4c4ccf" stroke="#4c4ccf"/>
<polygon points="519.72,159.18 519.89,159.39 524.66,156.28 524.48,156.08" fill="#4c4cd0" stroke="#4c4cd0"/>
<polygon points="520.07,159.53 520.41,159.73 525.17,156.61 524.83,156.42" fill="#4c4cce" stroke="#4c4cce"/>
<polygon points="519.58,158.95 519.72,159.18 524.48,156.08 524.34,155.86" fill="#4c4cd1" stroke="#4c4cd1"/>
<polygon points="519.47,158.73 519.58,158.95 524.34,155.86 524.24,155.65" fill="#4c4cd2" stroke="#4c4cd2"/>
<polygon points="520.41,159.73 520.75,159.87 525.51,156.75 525.17,156.61" fill="#4c4cce" stroke="#4c4cce"/>
<polygon points="519.36,158.43 519.47,158.73 524.24,155.65 524.13,155.36" fill="#4c4cd4" stroke="#4c4cd4"/>
<polygon points="520.75,159.87 521.44,160.1 526.19,156.98 525.51,156.75" fill="#4c4ccd" stroke="#4c4ccd"/>
<polygon points="519.27,158.12 519.36,158.43 524.13,155.36 524.03,155.06" fill="#4c4cd6" stroke="#4c4cd6"/>
<polygon points="519.17,157.72 519.27,158.12 524.03,155.06 523.94,154.69" fill="#4c4cd8" stroke="#4c4cd8"/>
<polygon points="521.44,160.1 522.46,160.43 527.22,157.31 526.19,156.98" fill="#4c4ccd" stroke="#4c4ccd"/>
<polygon points="519.07,157.22 519.17,157.72 523.94,154.69 523.84,154.22" fill="#4c4cdb" stroke="#4c4cdb"/>
<polygon points="518.97,156.59 519.07,157.22 523.84,154.22 523.74,153.62" fill="#4c4cdf" stroke="#4c4cdf"/>
<polygon points="542.59,161.98 547.74,163.48 554.74,158.78 549.61,157.29" fill="#4c4cc4" stroke="#4c4cc4"/>
<polygon points="669.63,164.65 682.05,167.58 686.24,164.42 673.85,161.51" fill="#4c4cbd" stroke="#4c4cbd"/>
<polygon points="522.46,160.43 524.17,160.97 528.92,157.84 527.22,157.31" fill="#4c4ccc" stroke="#4c4ccc"/>
<polygon points="625.4,164.45 635.93,167.04 642.46,162.31 631.97,159.75" fill="#4c4cbd" stroke="#4c4cbd"/>
<polygon points="570.21,163.1 577.12,164.97 583.96,160.26 577.07,158.41" fill="#4c4cbe" stroke="#4c4cbe"/>
<polygon points="524.17,160.97 525.88,161.5 530.62,158.37 528.92,157.84" fill="#4c4ccb" stroke="#4c4ccb"/>
<polygon points="599.55,164.33 608.26,166.56 614.94,161.83 606.26,159.63" fill="#4c4cbd" stroke="#4c4cbd"/>
<polygon points="653,164.86 665.37,167.81 669.63,164.65 657.29,161.71" fill="#4c4cbd" stroke="#4c4cbd"/>
<polygon points="525.88,161.5 527.59,162.03 532.33,158.9 530.62,158.37" fill="#4c4cca" stroke="#4c4cca"/>
<polygon points="547.74,163.48 552.91,164.96 559.88,160.24 554.74,158.78" fill="#4c4cc2" stroke="#4c4cc2"/>
<polygon points="527.59,162.03 529.3,162.56 534.04,159.42 532.33,158.9" fill="#4c4cc9" stroke="#4c4cc9"/>
<polygon points="529.3,162.56 531.01,163.08 535.75,159.94 534.04,159.42" fill="#4c4cc8" stroke="#4c4cc8"/>
<polygon points="577.12,164.97 584.06,166.81 590.87,162.08 583.96,160.26" fill="#4c4cbd" stroke="#4c4cbd"/>
<polygon points="531.01,163.08 534.44,164.11 539.17,160.97 535.75,159.94" fill="#4c4cc7" stroke="#4c4cc7"/>
<polygon points="552.91,164.96 558.08,166.41 565.04,161.68 559.88,160.24" fill="#4c4cc0" stroke="#4c4cc0"/>
<polygon points="635.93,167.04 646.51,169.61 653,164.86 642.46,162.31" fill="#4c4cbd" stroke="#4c4cbd"/>
<polygon points="515.1,162.44 515.27,162.62 520.07,159.53 519.89,159.39" fill="#4e4ed0" stroke="#4e4ed0"/>
<polygon points="514.92,162.17 515.1,162.44 519.89,159.39 519.72,159.18" fill="#4e4ed1" stroke="#4e4ed1"/>
<polygon points="515.27,162.62 515.62,162.85 520.41,159.73 520.07,159.53" fill="#4e4ecf" stroke="#4e4ecf"/>
<polygon points="514.77,161.87 514.92,162.17 519.72,159.18 519.58,158.95" fill="#4e4ed2" stroke="#4e4ed2"/>
<polygon points="515.62,162.85 515.96,163.01 520.75,159.87 520.41,159.73" fill="#4e4ece" stroke="#4e4ece"/>
<polygon points="514.66,161.56 514.77,161.87 519.58,158.95 519.47,158.73" fill="#4e4ed4" stroke="#4e4ed4"/>
<polygon points="515.96,163.01 516.64,163.25 521.44,160.1 520.75,159.87" fill="#4e4ece" stroke="#4e4ece"/>
<polygon points="608.26,166.56 618.77,169.2 625.4,164.45 614.94,161.83" fill="#4c4cbd" stroke="#4c4cbd"/>
<polygon points="514.55,161.16 514.66,161.56 519.47,158.73 519.36,158.43" fill="#4e4ed6" stroke="#4e4ed6"/>
<polygon points="682.05,167.58 696.34,170.92 700.5,167.74 686.24,164.42" fill="#4c4cbd" stroke="#4c4cbd"/>
<polygon points="514.45,160.73 514.55,161.16 519.36,158.43 519.27,158.12" fill="#4e4ed8" stroke="#4e4ed8"/>
<polygon points="516.64,163.25 517.67,163.58 522.46,160.43 521.44,160.1" fill="#4e4ecd" stroke="#4e4ecd"/>
<polygon points="514.35,160.19 514.45,160.73 519.27,158.12 519.17,157.72" fill="#4e4edb" stroke="#4e4edb"/>
<polygon points="534.44,164.11 537.88,165.14 542.59,161.98 539.17,160.97" fill="#4c4cc6" stroke="#4c4cc6"/>
<polygon points="514.24,159.5 514.35,160.19 519.17,157.72 519.07,157.22" fill="#5b5be0" stroke="#5b5be0"/>
<polygon points="517.67,163.58 519.38,164.12 524.17,160.97 522.46,160.43" fill="#4e4ecc" stroke="#4e4ecc"/>
<polygon points="665.37,167.81 677.82,170.76 682.05,167.58 669.63,164.65" fill="#4c4cbd" stroke="#4c4cbd"/>
<polygon points="514.13,158.62 514.24,159.5 519.07,157.22 518.97,156.59" fill="#5f5fe5" stroke="#5f5fe5"/>
<polygon points="584.06,166.81 592.77,169.09 599.55,164.33 590.87,162.08" fill="#4c4cbd" stroke="#4c4cbd"/>
<polygon points="558.08,166.41 563.27,167.85 570.21,163.1 565.04,161.68" fill="#4c4cbf" stroke="#4c4cbf"/>
<polygon points="519.38,164.12 521.1,164.66 525.88,161.5 524.17,160.97" fill="#4e4ecc" stroke="#4e4ecc"/>
<polygon points="537.88,165.14 543.04,166.64 547.74,163.48 542.59,161.98" fill="#4c4cc4" stroke="#4c4cc4"/>
<polygon points="521.1,164.66 522.81,165.19 527.59,162.03 525.88,161.5" fill="#4e4ecb" stroke="#4e4ecb"/>
<polygon points="522.81,165.19 524.53,165.72 529.3,162.56 527.59,162.03" fill="#4e4eca" stroke="#4e4eca"/>
<polygon points="524.53,165.72 526.24,166.24 531.01,163.08 529.3,162.56" fill="#4e4ec9" stroke="#4e4ec9"/>
<polygon points="646.51,169.61 658.93,172.6 665.37,167.81 653,164.86" fill="#4c4cbd" stroke="#4c4cbd"/>
<polygon points="563.27,167.85 570.21,169.73 577.12,164.97 570.21,163.1" fill="#4c4cbe" stroke="#4c4cbe"/>
<polygon points="618.77,169.2 629.33,171.81 635.93,167.04 625.4,164.45" fill="#4c4cbd" stroke="#4c4cbd"/>
<polygon points="543.04,166.64 548.21,168.13 552.91,164.96 547.74,163.48" fill="#4c4cc2" stroke="#4c4cc2"/>
<polygon points="526.24,166.24 529.68,167.29 534.44,164.11 531.01,163.08" fill="#4e4ec8" stroke="#4e4ec8"/>
<polygon points="696.34,170.92 708.57,173.77 712.7,170.56 700.5,167.74" fill="#4c4cbd" stroke="#4c4cbd"/>
<polygon points="592.77,169.09 601.51,171.33 608.26,166.56 599.55,164.33" fill="#4c4cbd" stroke="#4c4cbd"/>
<polygon points="510.26,165.51 510.44,165.73 515.27,162.62 515.1,162.44" fill="#5353d1" stroke="#5353d1"/>
<polygon points="510.44,165.73 510.79,166 515.62,162.85 515.27,162.62" fill="#5353d0" stroke="#5353d0"/>
<polygon points="510.08,165.19 510.26,165.51 515.1,162.44 514.92,162.17" fill="#5353d3" stroke="#5353d3"/>
<polygon points="510.79,166 511.13,166.17 515.96,163.01 515.62,162.85" fill="#5353d0" stroke="#5353d0"/>
<polygon points="509.93,164.81 510.08,165.19 514.92,162.17 514.77,161.87" fill="#5353d5" stroke="#5353d5"/>
<polygon points="511.13,166.17 511.82,166.42 516.64,163.25 515.96,163.01" fill="#5353cf" stroke="#5353cf"/>
<polygon points="509.82,164.42 509.93,164.81 514.77,161.87 514.66,161.56" fill="#5353d7" stroke="#5353d7"/>
<polygon points="509.7,163.91 509.82,164.42 514.66,161.56 514.55,161.16" fill="#5353d9" stroke="#5353d9"/>
<polygon points="511.82,166.42 512.85,166.75 517.67,163.58 516.64,163.25" fill="#5353ce" stroke="#5353ce"/>
<polygon points="677.82,170.76 692.15,174.13 696.34,170.92 682.05,167.58" fill="#4c4cbd" stroke="#4c4cbd"/>
<polygon points="509.6,163.37 509.7,163.91 514.55,161.16 514.45,160.73" fill="#5353dc" stroke="#5353dc"/>
<polygon points="529.68,167.29 533.12,168.31 537.88,165.14 534.44,164.11" fill="#4e4ec6" stroke="#4e4ec6"/>
<polygon points="509.49,162.67 509.6,163.37 514.45,160.73 514.35,160.19" fill="#5f5fe1" stroke="#5f5fe1"/>
<polygon points="512.85,166.75 514.56,167.3 519.38,164.12 517.67,163.58" fill="#5353ce" stroke="#5353ce"/>
<polygon points="548.21,168.13 553.4,169.59 558.08,166.41 552.91,164.96" fill="#4c4cc0" stroke="#4c4cc0"/>
<polygon points="570.21,169.73 577.17,171.59 584.06,166.81 577.12,164.97" fill="#4c4cbd" stroke="#4c4cbd"/>
<polygon points="509.37,161.78 509.49,162.67 514.35,160.19 514.24,159.5" fill="#6262e6" stroke="#6262e6"/>
<polygon points="514.56,167.3 516.28,167.84 521.1,164.66 519.38,164.12" fill="#5353cd" stroke="#5353cd"/>
<polygon points="509.25,160.66 509.37,161.78 514.24,159.5 514.13,158.62" fill="#6666eb" stroke="#6666eb"/>
<polygon points="516.28,167.84 518,168.37 522.81,165.19 521.1,164.66" fill="#5353cc" stroke="#5353cc"/>
<polygon points="533.12,168.31 538.3,169.83 543.04,166.64 537.88,165.14" fill="#4e4ec5" stroke="#4e4ec5"/>
<polygon points="629.33,171.81 639.95,174.41 646.51,169.61 635.93,167.04" fill="#4c4cbd" stroke="#4c4cbd"/>
<polygon points="658.93,172.6 671.42,175.58 677.82,170.76 665.37,167.81" fill="#4c4cbd" stroke="#4c4cbd"/>
<polygon points="518,168.37 519.72,168.9 524.53,165.72 522.81,165.19" fill="#5353cb" stroke="#5353cb"/>
<polygon points="553.4,169.59 558.6,171.04 563.27,167.85 558.08,166.41" fill="#4c4cbf" stroke="#4c4cbf"/>
<polygon points="601.51,171.33 612.05,174 618.77,169.2 608.26,166.56" fill="#4c4cbd" stroke="#4c4cbd"/>
<polygon points="519.72,168.9 521.44,169.43 526.24,166.24 524.53,165.72" fill="#5353ca" stroke="#5353ca"/>
<polygon points="577.17,171.59 585.91,173.89 592.77,169.09 584.06,166.81" fill="#4c4cbd" stroke="#4c4cbd"/>
<polygon points="538.3,169.83 543.49,171.33 548.21,168.13 543.04,166.64" fill="#4e4ec3" stroke="#4e4ec3"/>
<polygon points="521.44,169.43 524.89,170.48 529.68,167.29 526.24,166.24" fill="#5353c9" stroke="#5353c9"/>
<polygon points="692.15,174.13 704.41,176.99 708.57,173.77 696.34,170.92" fill="#4c4cbd" stroke="#4c4cbd"/>
<polygon points="505.57,168.84 505.92,169.16 510.79,166 510.44,165.73" fill="#5353d1" stroke="#5353d1"/>
<polygon points="505.39,168.57 505.57,168.84 510.44,165.73 510.26,165.51" fill="#5353d2" stroke="#5353d2"/>
<polygon points="505.92,169.16 506.27,169.35 511.13,166.17 510.79,166" fill="#5353d0" stroke="#5353d0"/>
<polygon points="505.21,168.16 505.39,168.57 510.26,165.51 510.08,165.19" fill="#5353d4" stroke="#5353d4"/>
<polygon points="558.6,171.04 565.56,172.94 570.21,169.73 563.27,167.85" fill="#4c4cbe" stroke="#4c4cbe"/>
<polygon points="506.27,169.35 506.95,169.61 511.82,166.42 511.13,166.17" fill="#5353cf" stroke="#5353cf"/>
<polygon points="505.05,167.68 505.21,168.16 510.08,165.19 509.93,164.81" fill="#5353d6" stroke="#5353d6"/>
<polygon points="504.93,167.18 505.05,167.68 509.93,164.81 509.82,164.42" fill="#5353d9" stroke="#5353d9"/>
<polygon points="506.95,169.61 507.99,169.94 512.85,166.75 511.82,166.42" fill="#5353ce" stroke="#5353ce"/>
<polygon points="504.81,166.52 504.93,167.18 509.82,164.42 509.7,163.91" fill="#5353dc" stroke="#5353dc"/>
<polygon points="524.89,170.48 528.34,171.51 533.12,168.31 529.68,167.29" fill="#5353c8" stroke="#5353c8"/>
<polygon points="507.99,169.94 509.71,170.49 514.56,167.3 512.85,166.75" fill="#5353ce" stroke="#5353ce"/>
<polygon points="504.7,165.81 504.81,166.52 509.7,163.91 509.6,163.37" fill="#5f5fe1" stroke="#5f5fe1"/>
<polygon points="543.49,171.33 548.69,172.8 553.4,169.59 548.21,168.13" fill="#4e4ec1" stroke="#4e4ec1"/>
<polygon points="504.58,164.9 504.7,165.81 509.6,163.37 509.49,162.67" fill="#6363e6" stroke="#6363e6"/>
<polygon points="639.95,174.41 652.41,177.43 658.93,172.6 646.51,169.61" fill="#4c4cbd" stroke="#4c4cbd"/>
<polygon points="509.71,170.49 511.43,171.04 516.28,167.84 514.56,167.3" fill="#5353cd" stroke="#5353cd"/>
<polygon points="612.05,174 622.66,176.64 629.33,171.81 618.77,169.2" fill="#4c4cbd" stroke="#4c4cbd"/>
<polygon points="504.46,163.74 504.58,164.9 509.49,162.67 509.37,161.78" fill="#6767eb" stroke="#6767eb"/>
<polygon points="671.42,175.58 685.81,178.98 692.15,174.13 677.82,170.76" fill="#4c4cbd" stroke="#4c4cbd"/>
<polygon points="511.43,171.04 513.15,171.58 518,168.37 516.28,167.84" fill="#5353cc" stroke="#5353cc"/>
<polygon points="585.91,173.89 594.69,176.16 601.51,171.33 592.77,169.09" fill="#4c4cbd" stroke="#4c4cbd"/>
<polygon points="528.34,171.51 533.53,173.04 538.3,169.83 533.12,168.31" fill="#5353c6" stroke="#5353c6"/>
<polygon points="504.32,162.26 504.46,163.74 509.37,161.78 509.25,160.66" fill="#6d6df2" stroke="#6d6df2"/>
<polygon points="565.56,172.94 572.54,174.81 577.17,171.59 570.21,169.73" fill="#4c4cbd" stroke="#4c4cbd"/>
<polygon points="513.15,171.58 514.88,172.11 519.72,168.9 518,168.37" fill="#5353cb" stroke="#5353cb"/>
<polygon points="548.69,172.8 553.9,174.25 558.6,171.04 553.4,169.59" fill="#4e4ebf" stroke="#4e4ebf"/>
<polygon points="514.88,172.11 516.6,172.64 521.44,169.43 519.72,168.9" fill="#5353ca" stroke="#5353ca"/>
<polygon points="533.53,173.04 538.73,174.55 543.49,171.33 538.3,169.83" fill="#5353c4" stroke="#5353c4"/>
<polygon points="516.6,172.64 520.06,173.7 524.89,170.48 521.44,169.43" fill="#5353c9" stroke="#5353c9"/>
<polygon points="500.66,171.93 501.02,172.33 505.92,169.16 505.57,168.84" fill="#5353d1" stroke="#5353d1"/>
<polygon points="501.02,172.33 501.37,172.55 506.27,169.35 505.92,169.16" fill="#5353d0" stroke="#5353d0"/>
<polygon points="500.48,171.58 500.66,171.93 505.57,168.84 505.39,168.57" fill="#5353d3" stroke="#5353d3"/>
<polygon points="501.37,172.55 502.06,172.82 506.95,169.61 506.27,169.35" fill="#5353cf" stroke="#5353cf"/>
<polygon points="500.29,171.03 500.48,171.58 505.39,168.57 505.21,168.16" fill="#5353d5" stroke="#5353d5"/>
<polygon points="553.9,174.25 560.87,176.16 565.56,172.94 558.6,171.04" fill="#4e4ebe" stroke="#4e4ebe"/>
<polygon points="622.66,176.64 633.32,179.27 639.95,174.41 629.33,171.81" fill="#4c4cbd" stroke="#4c4cbd"/>
<polygon points="500.13,170.38 500.29,171.03 505.21,168.16 505.05,167.68" fill="#5353d8" stroke="#5353d8"/>
<polygon points="502.06,172.82 503.09,173.16 507.99,169.94 506.95,169.61" fill="#5353ce" stroke="#5353ce"/>
<polygon points="572.54,174.81 581.3,177.12 585.91,173.89 577.17,171.59" fill="#4c4cbd" stroke="#4c4cbd"/>
<polygon points="652.41,177.43 664.96,180.44 671.42,175.58 658.93,172.6" fill="#4c4cbd" stroke="#4c4cbd"/>
<polygon points="500,169.7 500.13,170.38 505.05,167.68 504.93,167.18" fill="#5353dc" stroke="#5353dc"/>
<polygon points="594.69,176.16 605.27,178.85 612.05,174 601.51,171.33" fill="#4c4cbd" stroke="#4c4cbd"/>
<polygon points="520.06,173.7 523.52,174.74 528.34,171.51 524.89,170.48" fill="#5353c8" stroke="#5353c8"/>
<polygon points="503.09,173.16 504.82,173.71 509.71,170.49 507.99,169.94" fill="#5353ce" stroke="#5353ce"/>
<polygon points="499.87,168.8 500,169.7 504.93,167.18 504.81,166.52" fill="#6262e2" stroke="#6262e2"/>
<polygon points="538.73,174.55 543.94,176.03 548.69,172.8 543.49,171.33" fill="#5353c3" stroke="#5353c3"/>
<polygon points="685.81,178.98 698.12,181.87 704.41,176.99 692.15,174.13" fill="#4c4cbd" stroke="#4c4cbd"/>
<polygon points="499.75,167.82 499.87,168.8 504.81,166.52 504.7,165.81" fill="#6565e7" stroke="#6565e7"/>
<polygon points="504.82,173.71 506.54,174.26 511.43,171.04 509.71,170.49" fill="#5353cd" stroke="#5353cd"/>
<polygon points="499.61,166.57 499.75,167.82 504.7,165.81 504.58,164.9" fill="#6a6aed" stroke="#6a6aed"/>
<polygon points="506.54,174.26 508.27,174.8 513.15,171.58 511.43,171.04" fill="#5353cc" stroke="#5353cc"/>
<polygon points="523.52,174.74 528.72,176.27 533.53,173.04 528.34,171.51" fill="#5353c6" stroke="#5353c6"/>
<polygon points="499.47,164.97 499.61,166.57 504.58,164.9 504.46,163.74" fill="#7070f4" stroke="#7070f4"/>
<polygon points="560.87,176.16 567.87,178.05 572.54,174.81 565.56,172.94" fill="#4e4ebd" stroke="#4e4ebd"/>
<polygon points="508.27,174.8 510,175.34 514.88,172.11 513.15,171.58" fill="#5353cb" stroke="#5353cb"/>
<polygon points="543.94,176.03 549.17,177.49 553.9,174.25 548.69,172.8" fill="#5353c1" stroke="#5353c1"/>
<polygon points="510,175.34 511.73,175.88 516.6,172.64 514.88,172.11" fill="#5353ca" stroke="#5353ca"/>
<polygon points="499.31,162.92 499.47,164.97 504.46,163.74 504.32,162.26" fill="#7979fa" stroke="#7979fa"/>
<polygon points="581.3,177.12 590.1,179.41 594.69,176.16 585.91,173.89" fill="#4c4cbd" stroke="#4c4cbd"/>
<polygon points="528.72,176.27 533.93,177.79 538.73,174.55 533.53,173.04" fill="#5353c4" stroke="#5353c4"/>
<polygon points="633.32,179.27 645.83,182.32 652.41,177.43 639.95,174.41" fill="#4c4cbd" stroke="#4c4cbd"/>
<polygon points="511.73,175.88 515.19,176.94 520.06,173.7 516.6,172.64" fill="#5353c9" stroke="#5353c9"/>
<polygon points="605.27,178.85 615.91,181.53 622.66,176.64 612.05,174" fill="#4c4cbd" stroke="#4c4cbd"/>
<polygon points="496.08,175.51 496.43,175.76 501.37,172.55 501.02,172.33" fill="#5353d0" stroke="#5353d0"/>
<polygon points="495.72,175.03 496.08,175.51 501.02,172.33 500.66,171.93" fill="#5353d2" stroke="#5353d2"/>
<polygon points="495.53,174.59 495.72,175.03 500.66,171.93 500.48,171.58" fill="#5353d4" stroke="#5353d4"/>
<polygon points="664.96,180.44 679.4,183.88 685.81,178.98 671.42,175.58" fill="#4c4cbd" stroke="#4c4cbd"/>
<polygon points="496.43,175.76 497.12,176.06 502.06,172.82 501.37,172.55" fill="#5353cf" stroke="#5353cf"/>
<polygon points="549.17,177.49 556.16,179.42 560.87,176.16 553.9,174.25" fill="#5353bf" stroke="#5353bf"/>
<polygon points="495.34,173.9 495.53,174.59 500.48,171.58 500.29,171.03" fill="#5353d7" stroke="#5353d7"/>
<polygon points="497.12,176.06 498.16,176.4 503.09,173.16 502.06,172.82" fill="#5353ce" stroke="#5353ce"/>
<polygon points="567.87,178.05 576.65,180.38 581.3,177.12 572.54,174.81" fill="#4e4ebc" stroke="#4e4ebc"/>
<polygon points="495.17,173.06 495.34,173.9 500.29,171.03 500.13,170.38" fill="#5353db" stroke="#5353db"/>
<polygon points="515.19,176.94 518.66,177.98 523.52,174.74 520.06,173.7" fill="#5353c8" stroke="#5353c8"/>
<polygon points="498.16,176.4 499.89,176.96 504.82,173.71 503.09,173.16" fill="#5353ce" stroke="#5353ce"/>
<polygon points="495.03,172.19 495.17,173.06 500.13,170.38 500,169.7" fill="#6060e2" stroke="#6060e2"/>
<polygon points="533.93,177.79 539.16,179.28 543.94,176.03 538.73,174.55" fill="#5353c3" stroke="#5353c3"/>
<polygon points="494.88,171.03 495.03,172.19 500,169.7 499.87,168.8" fill="#6565e7" stroke="#6565e7"/>
<polygon points="499.89,176.96 501.62,177.51 506.54,174.26 504.82,173.71" fill="#5353cd" stroke="#5353cd"/>
<polygon points="590.1,179.41 600.71,182.12 605.27,178.85 594.69,176.16" fill="#4c4cbd" stroke="#4c4cbd"/>
<polygon points="494.75,169.76 494.88,171.03 499.87,168.8 499.75,167.82" fill="#6868ee" stroke="#6868ee"/>
<polygon points="501.62,177.51 503.35,178.05 508.27,174.8 506.54,174.26" fill="#5353cc" stroke="#5353cc"/>
<polygon points="518.66,177.98 523.87,179.53 528.72,176.27 523.52,174.74" fill="#5353c6" stroke="#5353c6"/>
<polygon points="503.35,178.05 505.08,178.6 510,175.34 508.27,174.8" fill="#5353cb" stroke="#5353cb"/>
<polygon points="556.16,179.42 563.17,181.31 567.87,178.05 560.87,176.16" fill="#5353be" stroke="#5353be"/>
<polygon points="494.6,168.14 494.75,169.76 499.75,167.82 499.61,166.57" fill="#6e6ef5" stroke="#6e6ef5"/>
<polygon points="539.16,179.28 544.4,180.75 549.17,177.49 543.94,176.03" fill="#5353c1" stroke="#5353c1"/>
<polygon points="615.91,181.53 626.61,184.18 633.32,179.27 622.66,176.64" fill="#4c4cbd" stroke="#4c4cbd"/>
<polygon points="505.08,178.6 506.82,179.13 511.73,175.88 510,175.34" fill="#5353ca" stroke="#5353ca"/>
<polygon points="645.83,182.32 658.42,185.37 664.96,180.44 652.41,177.43" fill="#4c4cbd" stroke="#4c4cbd"/>
<polygon points="493.6,177.11 493.95,177.38 496.43,175.76 496.08,175.51" fill="#5353d0" stroke="#5353d0"/>
<polygon points="493.23,176.56 493.6,177.11 496.08,175.51 495.72,175.03" fill="#5353d2" stroke="#5353d2"/>
<polygon points="576.65,180.38 585.47,182.68 590.1,179.41 581.3,177.12" fill="#4e4ebc" stroke="#4e4ebc"/>
<polygon points="494.43,166.06 494.6,168.14 499.61,166.57 499.47,164.97" fill="#7676fa" stroke="#7676fa"/>
<polygon points="493.95,177.38 494.64,177.68 497.12,176.06 496.43,175.76" fill="#5353cf" stroke="#5353cf"/>
<polygon points="493.04,176.06 493.23,176.56 495.72,175.03 495.53,174.59" fill="#5353d5" stroke="#5353d5"/>
<polygon points="494.64,177.68 495.68,178.03 498.16,176.4 497.12,176.06" fill="#5353ce" stroke="#5353ce"/>
<polygon points="492.84,175.27 493.04,176.06 495.53,174.59 495.34,173.9" fill="#5353d9" stroke="#5353d9"/>
<polygon points="523.87,179.53 529.1,181.05 533.93,177.79 528.72,176.27" fill="#5353c4" stroke="#5353c4"/>
<polygon points="506.82,179.13 510.29,180.2 515.19,176.94 511.73,175.88" fill="#5353c9" stroke="#5353c9"/>
<polygon points="679.4,183.88 691.75,186.81 698.12,181.87 685.81,178.98" fill="#4c4cbd" stroke="#4c4cbd"/>
<polygon points="492.67,174.31 492.84,175.27 495.34,173.9 495.17,173.06" fill="#5353de" stroke="#5353de"/>
<polygon points="495.68,178.03 497.41,178.59 499.89,176.96 498.16,176.4" fill="#5353ce" stroke="#5353ce"/>
<polygon points="494.24,163.4 494.43,166.06 499.47,164.97 499.31,162.92" fill="#8083fa" stroke="#8083fa"/>
<polygon points="492.52,173.31 492.67,174.31 495.17,173.06 495.03,172.19" fill="#6060e5" stroke="#6060e5"/>
<polygon points="497.41,178.59 499.15,179.14 501.62,177.51 499.89,176.96" fill="#5353cd" stroke="#5353cd"/>
<polygon points="544.4,180.75 551.4,182.69 556.16,179.42 549.17,177.49" fill="#5353bf" stroke="#5353bf"/>
<polygon points="510.29,180.2 513.77,181.25 518.66,177.98 515.19,176.94" fill="#5353c8" stroke="#5353c8"/>
<polygon points="563.17,181.31 571.97,183.66 576.65,180.38 567.87,178.05" fill="#5353bc" stroke="#5353bc"/>
<polygon points="492.37,171.96 492.52,173.31 495.03,172.19 494.88,171.03" fill="#6464eb" stroke="#6464eb"/>
<polygon points="600.71,182.12 611.37,184.81 615.91,181.53 605.27,178.85" fill="#4c4cbd" stroke="#4c4cbd"/>
<polygon points="499.15,179.14 500.88,179.69 503.35,178.05 501.62,177.51" fill="#5353cc" stroke="#5353cc"/>
<polygon points="529.1,181.05 534.34,182.56 539.16,179.28 533.93,177.79" fill="#5353c3" stroke="#5353c3"/>
<polygon points="491.1,178.7 491.46,179 493.95,177.38 493.6,177.11" fill="#5353d0" stroke="#5353d0"/>
<polygon points="490.74,178.1 491.1,178.7 493.6,177.11 493.23,176.56" fill="#5353d3" stroke="#5353d3"/>
<polygon points="491.46,179 492.15,179.32 494.64,177.68 493.95,177.38" fill="#5353cf" stroke="#5353cf"/>
<polygon points="492.22,170.5 492.37,171.96 494.88,171.03 494.75,169.76" fill="#6767f3" stroke="#6767f3"/>
<polygon points="490.54,177.53 490.74,178.1 493.23,176.56 493.04,176.06" fill="#5353d6" stroke="#5353d6"/>
<polygon points="500.88,179.69 502.61,180.23 505.08,178.6 503.35,178.05" fill="#5353cb" stroke="#5353cb"/>
<polygon points="492.15,179.32 493.19,179.67 495.68,178.03 494.64,177.68" fill="#5353ce" stroke="#5353ce"/>
<polygon points="490.34,176.64 490.54,177.53 493.04,176.06 492.84,175.27" fill="#5353da" stroke="#5353da"/>
<polygon points="493.19,179.67 494.93,180.23 497.41,178.59 495.68,178.03" fill="#5353ce" stroke="#5353ce"/>
<polygon points="626.61,184.18 639.17,187.27 645.83,182.32 633.32,179.27" fill="#4c4cbd" stroke="#4c4cbd"/>
<polygon points="502.61,180.23 504.35,180.77 506.82,179.13 505.08,178.6" fill="#5353ca" stroke="#5353ca"/>
<polygon points="585.47,182.68 596.11,185.41 600.71,182.12 590.1,179.41" fill="#4e4ebb" stroke="#4e4ebb"/>
<polygon points="490.16,175.54 490.34,176.64 492.84,175.27 492.67,174.31" fill="#6060e1" stroke="#6060e1"/>
<polygon points="513.77,181.25 518.99,182.81 523.87,179.53 518.66,177.98" fill="#5353c6" stroke="#5353c6"/>
<polygon points="492.06,168.62 492.22,170.5 494.75,169.76 494.6,168.14" fill="#6d6dfb" stroke="#6d6dfb"/>
<polygon points="494.93,180.23 496.66,180.78 499.15,179.14 497.41,178.59" fill="#5353cd" stroke="#5353cd"/>
<polygon points="490.01,174.4 490.16,175.54 492.67,174.31 492.52,173.31" fill="#6262e8" stroke="#6262e8"/>
<polygon points="551.4,182.69 558.43,184.6 563.17,181.31 556.16,179.42" fill="#5353be" stroke="#5353be"/>
<polygon points="658.42,185.37 672.91,188.84 679.4,183.88 664.96,180.44" fill="#4c4cbd" stroke="#4c4cbd"/>
<polygon points="534.34,182.56 539.59,184.04 544.4,180.75 539.16,179.28" fill="#5353c1" stroke="#5353c1"/>
<polygon points="504.35,180.77 507.83,181.84 510.29,180.2 506.82,179.13" fill="#5353c9" stroke="#5353c9"/>
<polygon points="496.66,180.78 498.4,181.33 500.88,179.69 499.15,179.14" fill="#5353cc" stroke="#5353cc"/>
<polygon points="491.88,166.22 492.06,168.62 494.6,168.14 494.43,166.06" fill="#7476fa" stroke="#7476fa"/>
<polygon points="489.84,172.86 490.01,174.4 492.52,173.31 492.37,171.96" fill="#6666ef" stroke="#6666ef"/>
<polygon points="488.6,180.3 488.96,180.62 491.46,179 491.1,178.7" fill="#5353d1" stroke="#5353d1"/>
<polygon points="488.23,179.61 488.6,180.3 491.1,178.7 490.74,178.1" fill="#5353d3" stroke="#5353d3"/>
<polygon points="488.96,180.62 489.66,180.96 492.15,179.32 491.46,179" fill="#5353cf" stroke="#5353cf"/>
<polygon points="571.97,183.66 580.81,185.97 585.47,182.68 576.65,180.38" fill="#5353bb" stroke="#5353bb"/>
<polygon points="498.4,181.33 500.13,181.87 502.61,180.23 500.88,179.69" fill="#5353cb" stroke="#5353cb"/>
<polygon points="488.03,178.96 488.23,179.61 490.74,178.1 490.54,177.53" fill="#5353d7" stroke="#5353d7"/>
<polygon points="489.66,180.96 490.7,181.31 493.19,179.67 492.15,179.32" fill="#5353ce" stroke="#5353ce"/>
<polygon points="518.99,182.81 524.23,184.35 529.1,181.05 523.87,179.53" fill="#5353c4" stroke="#5353c4"/>
<polygon points="487.82,177.94 488.03,178.96 490.54,177.53 490.34,176.64" fill="#5e5edd" stroke="#5e5edd"/>
<polygon points="489.69,171.19 489.84,172.86 492.37,171.96 492.22,170.5" fill="#6a6af8" stroke="#6a6af8"/>
<polygon points="507.83,181.84 511.31,182.9 513.77,181.25 510.29,180.2" fill="#5353c8" stroke="#5353c8"/>
<polygon points="490.7,181.31 492.43,181.87 494.93,180.23 493.19,179.67" fill="#5353ce" stroke="#5353ce"/>
<polygon points="611.37,184.81 622.1,187.49 626.61,184.18 615.91,181.53" fill="#4c4cbd" stroke="#4c4cbd"/>
<polygon points="500.13,181.87 501.87,182.42 504.35,180.77 502.61,180.23" fill="#5353ca" stroke="#5353ca"/>
<polygon points="487.63,176.68 487.82,177.94 490.34,176.64 490.16,175.54" fill="#6262e4" stroke="#6262e4"/>
<polygon points="491.67,163.14 491.88,166.22 494.43,166.06 494.24,163.4" fill="#7d89fa" stroke="#7d89fa"/>
<polygon points="492.43,181.87 494.17,182.42 496.66,180.78 494.93,180.23" fill="#5353cd" stroke="#5353cd"/>
<polygon points="539.59,184.04 546.62,185.99 551.4,182.69 544.4,180.75" fill="#5353bf" stroke="#5353bf"/>
<polygon points="489.51,169.04 489.69,171.19 492.22,170.5 492.06,168.62" fill="#7070fb" stroke="#7070fb"/>
<polygon points="501.87,182.42 505.35,183.49 507.83,181.84 504.35,180.77" fill="#5353c9" stroke="#5353c9"/>
<polygon points="487.47,175.35 487.63,176.68 490.16,175.54 490.01,174.4" fill="#6464eb" stroke="#6464eb"/>
<polygon points="558.43,184.6 567.26,186.96 571.97,183.66 563.17,181.31" fill="#5353bc" stroke="#5353bc"/>
<polygon points="494.17,182.42 495.91,182.97 498.4,181.33 496.66,180.78" fill="#5353cc" stroke="#5353cc"/>
<polygon points="596.11,185.41 606.8,188.12 611.37,184.81 600.71,182.12" fill="#4e4ebb" stroke="#4e4ebb"/>
<polygon points="511.31,182.9 516.54,184.46 518.99,182.81 513.77,181.25" fill="#5353c6" stroke="#5353c6"/>
<polygon points="486.09,181.9 486.45,182.25 488.96,180.62 488.6,180.3" fill="#5353d1" stroke="#5353d1"/>
<polygon points="524.23,184.35 529.49,185.86 534.34,182.56 529.1,181.05" fill="#5353c3" stroke="#5353c3"/>
<polygon points="486.45,182.25 487.15,182.6 489.66,180.96 488.96,180.62" fill="#5353cf" stroke="#5353cf"/>
<polygon points="485.72,181.13 486.09,181.9 488.6,180.3 488.23,179.61" fill="#5353d4" stroke="#5353d4"/>
<polygon points="639.17,187.27 651.81,190.34 658.42,185.37 645.83,182.32" fill="#4c4cbd" stroke="#4c4cbd"/>
<polygon points="487.3,173.58 487.47,175.35 490.01,174.4 489.84,172.86" fill="#6a6af3" stroke="#6a6af3"/>
<polygon points="495.91,182.97 497.65,183.52 500.13,181.87 498.4,181.33" fill="#5353cb" stroke="#5353cb"/>
<polygon points="487.15,182.6 488.19,182.96 490.7,181.31 489.66,180.96" fill="#5353ce" stroke="#5353ce"/>
<polygon points="485.51,180.4 485.72,181.13 488.23,179.61 488.03,178.96" fill="#5353d8" stroke="#5353d8"/>
<polygon points="489.31,166.29 489.51,169.04 492.06,168.62 491.88,166.22" fill="#787ffa" stroke="#787ffa"/>
<polygon points="505.35,183.49 508.84,184.55 511.31,182.9 507.83,181.84" fill="#5353c8" stroke="#5353c8"/>
<polygon points="485.29,179.24 485.51,180.4 488.03,178.96 487.82,177.94" fill="#6060df" stroke="#6060df"/>
<polygon points="488.19,182.96 489.93,183.52 492.43,181.87 490.7,181.31" fill="#5353ce" stroke="#5353ce"/>
<polygon points="497.65,183.52 499.39,184.07 501.87,182.42 500.13,181.87" fill="#5353ca" stroke="#5353ca"/>
<polygon points="672.91,188.84 685.32,191.8 691.75,186.81 679.4,183.88" fill="#4c4cbd" stroke="#4c4cbd"/>
<polygon points="580.81,185.97 591.48,188.73 596.11,185.41 585.47,182.68" fill="#5353ba" stroke="#5353ba"/>
<polygon points="487.13,171.64 487.3,173.58 489.84,172.86 489.69,171.19" fill="#6e6efb" stroke="#6e6efb"/>
<polygon points="489.93,183.52 491.67,184.07 494.17,182.42 492.43,181.87" fill="#5353cd" stroke="#5353cd"/>
<polygon points="485.1,177.81 485.29,179.24 487.82,177.94 487.63,176.68" fill="#6363e7" stroke="#6363e7"/>
<polygon points="546.62,185.99 553.66,187.91 558.43,184.6 551.4,182.69" fill="#5353be" stroke="#5353be"/>
<polygon points="516.54,184.46 521.79,186 524.23,184.35 518.99,182.81" fill="#5353c4" stroke="#5353c4"/>
<polygon points="499.39,184.07 502.87,185.14 505.35,183.49 501.87,182.42" fill="#5353c9" stroke="#5353c9"/>
<polygon points="529.49,185.86 534.75,187.35 539.59,184.04 534.34,182.56" fill="#5353c1" stroke="#5353c1"/>
<polygon points="491.67,184.07 493.41,184.63 495.91,182.97 494.17,182.42" fill="#5353cc" stroke="#5353cc"/>
<polygon points="484.93,176.31 485.1,177.81 487.63,176.68 487.47,175.35" fill="#6666ee" stroke="#6666ee"/>
<polygon points="483.59,184.03 483.95,184.43 486.45,182.25 486.09,181.9" fill="#5353cf" stroke="#5353cf"/>
<polygon points="489.08,162.77 489.31,166.29 491.88,166.22 491.67,163.14" fill="#8092fa" stroke="#8092fa"/>
<polygon points="508.84,184.55 514.08,186.12 516.54,184.46 511.31,182.9" fill="#5353c6" stroke="#5353c6"/>
<polygon points="483.95,184.43 484.66,184.79 487.15,182.6 486.45,182.25" fill="#5353ce" stroke="#5353ce"/>
<polygon points="622.1,187.49 634.69,190.59 639.17,187.27 626.61,184.18" fill="#4c4cbd" stroke="#4c4cbd"/>
<polygon points="483.21,183.15 483.59,184.03 486.09,181.9 485.72,181.13" fill="#5353d3" stroke="#5353d3"/>
<polygon points="486.94,169.15 487.13,171.64 489.69,171.19 489.51,169.04" fill="#7578fa" stroke="#7578fa"/>
<polygon points="484.66,184.79 485.7,185.14 488.19,182.96 487.15,182.6" fill="#5353cd" stroke="#5353cd"/>
<polygon points="493.41,184.63 495.15,185.18 497.65,183.52 495.91,182.97" fill="#5353cb" stroke="#5353cb"/>
<polygon points="567.26,186.96 576.12,189.29 580.81,185.97 571.97,183.66" fill="#5353bb" stroke="#5353bb"/>
<polygon points="483.01,182.31 483.21,183.15 485.72,181.13 485.51,180.4" fill="#5353d7" stroke="#5353d7"/>
<polygon points="485.7,185.14 487.44,185.69 489.93,183.52 488.19,182.96" fill="#5353cc" stroke="#5353cc"/>
<polygon points="502.87,185.14 506.36,186.21 508.84,184.55 505.35,183.49" fill="#5353c8" stroke="#5353c8"/>
<polygon points="484.74,174.29 484.93,176.31 487.47,175.35 487.3,173.58" fill="#6c6cf8" stroke="#6c6cf8"/>
<polygon points="482.77,180.95 483.01,182.31 485.51,180.4 485.29,179.24" fill="#6060df" stroke="#6060df"/>
<polygon points="495.15,185.18 496.89,185.72 499.39,184.07 497.65,183.52" fill="#5353ca" stroke="#5353ca"/>
<polygon points="606.8,188.12 617.56,190.81 622.1,187.49 611.37,184.81" fill="#4e4ebb" stroke="#4e4ebb"/>
<polygon points="521.79,186 527.05,187.52 529.49,185.86 524.23,184.35" fill="#5353c3" stroke="#5353c3"/>
<polygon points="487.44,185.69 489.18,186.23 491.67,184.07 489.93,183.52" fill="#5353cb" stroke="#5353cb"/>
<polygon points="486.72,165.97 486.94,169.15 489.51,169.04 489.31,166.29" fill="#7f8cfa" stroke="#7f8cfa"/>
<polygon points="482.56,179.28 482.77,180.95 485.29,179.24 485.1,177.81" fill="#6363e8" stroke="#6363e8"/>
<polygon points="534.75,187.35 541.79,189.31 546.62,185.99 539.59,184.04" fill="#5353bf" stroke="#5353bf"/>
<polygon points="514.08,186.12 519.33,187.66 521.79,186 516.54,184.46" fill="#5353c4" stroke="#5353c4"/>
<polygon points="496.89,185.72 500.38,186.8 502.87,185.14 499.39,184.07" fill="#5353c9" stroke="#5353c9"/>
<polygon points="484.56,172.09 484.74,174.29 487.3,173.58 487.13,171.64" fill="#7070fb" stroke="#7070fb"/>
<polygon points="481.09,186.17 481.45,186.61 483.95,184.43 483.59,184.03" fill="#5353cc" stroke="#5353cc"/>
<polygon points="489.18,186.23 490.92,186.77 493.41,184.63 491.67,184.07" fill="#5353ca" stroke="#5353ca"/>
<polygon points="481.45,186.61 482.15,186.99 484.66,184.79 483.95,184.43" fill="#5353ca" stroke="#5353ca"/>
<polygon points="553.66,187.91 562.51,190.29 567.26,186.96 558.43,184.6" fill="#5353bc" stroke="#5353bc"/>
<polygon points="480.7,185.17 481.09,186.17 483.59,184.03 483.21,183.15" fill="#5f5fd3" stroke="#5f5fd3"/>
<polygon points="651.81,190.34 666.36,193.86 672.91,188.84 658.42,185.37" fill="#4c4cbd" stroke="#4c4cbd"/>
<polygon points="482.15,186.99 483.2,187.33 485.7,185.14 484.66,184.79" fill="#5353c9" stroke="#5353c9"/>
<polygon points="506.36,186.21 511.61,187.78 514.08,186.12 508.84,184.55" fill="#5353c6" stroke="#5353c6"/>
<polygon points="591.48,188.73 602.2,191.45 606.8,188.12 596.11,185.41" fill="#5353b9" stroke="#5353b9"/>
<polygon points="482.38,177.51 482.56,179.28 485.1,177.81 484.93,176.31" fill="#6565f1" stroke="#6565f1"/>
<polygon points="480.49,184.2 480.7,185.17 483.21,183.15 483.01,182.31" fill="#5353d5" stroke="#5353d5"/>
<polygon points="490.92,186.77 492.66,187.3 495.15,185.18 493.41,184.63" fill="#5353ca" stroke="#5353ca"/>
<polygon points="483.2,187.33 484.94,187.86 487.44,185.69 485.7,185.14" fill="#5353c9" stroke="#5353c9"/>
<polygon points="500.38,186.8 503.88,187.87 506.36,186.21 502.87,185.14" fill="#5353c8" stroke="#5353c8"/>
<polygon points="527.05,187.52 532.32,189.01 534.75,187.35 529.49,185.86" fill="#5353c1" stroke="#5353c1"/>
<polygon points="480.24,182.63 480.49,184.2 483.01,182.31 482.77,180.95" fill="#6262df" stroke="#6262df"/>
<polygon points="492.66,187.3 494.4,187.83 496.89,185.72 495.15,185.18" fill="#5353c9" stroke="#5353c9"/>
<polygon points="484.35,169.26 484.56,172.09 487.13,171.64 486.94,169.15" fill="#7881fa" stroke="#7881fa"/>
<polygon points="484.94,187.86 486.68,188.39 489.18,186.23 487.44,185.69" fill="#5353c8" stroke="#5353c8"/>
<polygon points="486.46,161.87 486.72,165.97 489.31,166.29 489.08,162.77" fill="#809bfa" stroke="#809bfa"/>
<polygon points="482.18,175.14 482.38,177.51 484.93,176.31 484.74,174.29" fill="#6d6dfb" stroke="#6d6dfb"/>
<polygon points="519.33,187.66 524.6,189.18 527.05,187.52 521.79,186" fill="#5353c3" stroke="#5353c3"/>
<polygon points="576.12,189.29 586.81,192.06 591.48,188.73 580.81,185.97" fill="#5353ba" stroke="#5353ba"/>
<polygon points="478.57,188.3 478.94,188.79 481.45,186.61 481.09,186.17" fill="#5353c9" stroke="#5353c9"/>
<polygon points="486.68,188.39 488.42,188.91 490.92,186.77 489.18,186.23" fill="#5353c7" stroke="#5353c7"/>
<polygon points="478.94,188.79 479.64,189.19 482.15,186.99 481.45,186.61" fill="#5353c7" stroke="#5353c7"/>
<polygon points="480.02,180.69 480.24,182.63 482.77,180.95 482.56,179.28" fill="#6565e9" stroke="#6565e9"/>
<polygon points="634.69,190.59 647.37,193.69 651.81,190.34 639.17,187.27" fill="#4c4cbd" stroke="#4c4cbd"/>
<polygon points="494.4,187.83 497.9,188.89 500.38,186.8 496.89,185.72" fill="#5353c8" stroke="#5353c8"/>
<polygon points="511.61,187.78 516.87,189.33 519.33,187.66 514.08,186.12" fill="#5353c4" stroke="#5353c4"/>
<polygon points="541.79,189.31 548.86,191.25 553.66,187.91 546.62,185.99" fill="#5353be" stroke="#5353be"/>
<polygon points="478.18,187.16 478.57,188.3 481.09,186.17 480.7,185.17" fill="#6060d0" stroke="#6060d0"/>
<polygon points="479.64,189.19 480.69,189.53 483.2,187.33 482.15,186.99" fill="#5353c6" stroke="#5353c6"/>
<polygon points="488.42,188.91 490.16,189.43 492.66,187.3 490.92,186.77" fill="#5353c7" stroke="#5353c7"/>
<polygon points="503.88,187.87 509.13,189.45 511.61,187.78 506.36,186.21" fill="#5353c6" stroke="#5353c6"/>
<polygon points="477.96,186.05 478.18,187.16 480.7,185.17 480.49,184.2" fill="#5f5fd6" stroke="#5f5fd6"/>
<polygon points="480.69,189.53 482.43,190.04 484.94,187.86 483.2,187.33" fill="#5353c5" stroke="#5353c5"/>
<polygon points="481.97,172.54 482.18,175.14 484.74,174.29 484.56,172.09" fill="#7375fa" stroke="#7375fa"/>
<polygon points="484.11,165.63 484.35,169.26 486.94,169.15 486.72,165.97" fill="#8094fa" stroke="#8094fa"/>
<polygon points="617.56,190.81 630.18,193.94 634.69,190.59 622.1,187.49" fill="#4e4ebb" stroke="#4e4ebb"/>
<polygon points="479.82,178.64 480.02,180.69 482.56,179.28 482.38,177.51" fill="#6868f3" stroke="#6868f3"/>
<polygon points="562.51,190.29 571.4,192.64 576.12,189.29 567.26,186.96" fill="#5353bb" stroke="#5353bb"/>
<polygon points="490.16,189.43 491.91,189.95 494.4,187.83 492.66,187.3" fill="#5353c6" stroke="#5353c6"/>
<polygon points="532.32,189.01 539.37,190.98 541.79,189.31 534.75,187.35" fill="#5353bf" stroke="#5353bf"/>
<polygon points="497.9,188.89 501.39,189.93 503.88,187.87 500.38,186.8" fill="#5353c6" stroke="#5353c6"/>
<polygon points="482.43,190.04 484.17,190.55 486.68,188.39 484.94,187.86" fill="#5353c5" stroke="#5353c5"/>
<polygon points="477.7,184.24 477.96,186.05 480.49,184.2 480.24,182.63" fill="#6464df" stroke="#6464df"/>
<polygon points="524.6,189.18 529.87,190.68 532.32,189.01 527.05,187.52" fill="#5353c1" stroke="#5353c1"/>
<polygon points="477.31,189.37 477.68,189.88 478.94,188.79 478.57,188.3" fill="#5353c6" stroke="#5353c6"/>
<polygon points="477.68,189.88 478.39,190.29 479.64,189.19 478.94,188.79" fill="#5353c4" stroke="#5353c4"/>
<polygon points="478.39,190.29 479.43,190.63 480.69,189.53 479.64,189.19" fill="#5353c3" stroke="#5353c3"/>
<polygon points="476.91,188.14 477.31,189.37 478.57,188.3 478.18,187.16" fill="#5f5fce" stroke="#5f5fce"/>
<polygon points="516.87,189.33 522.14,190.85 524.6,189.18 519.33,187.66" fill="#5353c3" stroke="#5353c3"/>
<polygon points="602.2,191.45 612.98,194.17 617.56,190.81 606.8,188.12" fill="#5353b9" stroke="#5353b9"/>
<polygon points="484.17,190.55 485.91,191.06 488.42,188.91 486.68,188.39" fill="#5353c4" stroke="#5353c4"/>
<polygon points="491.91,189.95 495.4,190.98 497.9,188.89 494.4,187.83" fill="#5353c5" stroke="#5353c5"/>
<polygon points="479.6,175.88 479.82,178.64 482.38,177.51 482.18,175.14" fill="#7171fb" stroke="#7171fb"/>
<polygon points="479.43,190.63 481.17,191.14 482.43,190.04 480.69,189.53" fill="#5353c3" stroke="#5353c3"/>
<polygon points="666.36,193.86 678.81,196.85 685.32,191.8 672.91,188.84" fill="#4c4cbd" stroke="#4c4cbd"/>
<polygon points="481.74,169.21 481.97,172.54 484.56,172.09 484.35,169.26" fill="#7d8bfa" stroke="#7d8bfa"/>
<polygon points="476.69,186.93 476.91,188.14 478.18,187.16 477.96,186.05" fill="#5f5fd5" stroke="#5f5fd5"/>
<polygon points="477.46,182 477.7,184.24 480.24,182.63 480.02,180.69" fill="#6868ea" stroke="#6868ea"/>
<polygon points="509.13,189.45 514.39,191 516.87,189.33 511.61,187.78" fill="#5353c4" stroke="#5353c4"/>
<polygon points="476.05,190.43 476.42,190.97 477.68,189.88 477.31,189.37" fill="#5353c5" stroke="#5353c5"/>
<polygon points="476.42,190.97 477.13,191.4 478.39,190.29 477.68,189.88" fill="#5353c3" stroke="#5353c3"/>
<polygon points="485.91,191.06 487.66,191.57 490.16,189.43 488.42,188.91" fill="#5353c3" stroke="#5353c3"/>
<polygon points="477.13,191.4 478.17,191.73 479.43,190.63 478.39,190.29" fill="#5353c2" stroke="#5353c2"/>
<polygon points="475.65,189.12 476.05,190.43 477.31,189.37 476.91,188.14" fill="#6060cd" stroke="#6060cd"/>
<polygon points="501.39,189.93 506.65,191.48 509.13,189.45 503.88,187.87" fill="#5353c5" stroke="#5353c5"/>
<polygon points="481.17,191.14 482.92,191.64 484.17,190.55 482.43,190.04" fill="#5353c2" stroke="#5353c2"/>
<polygon points="548.86,191.25 557.73,193.64 562.51,190.29 553.66,187.91" fill="#5353bc" stroke="#5353bc"/>
<polygon points="483.82,160.97 484.11,165.63 486.72,165.97 486.46,161.87" fill="#80a4fa" stroke="#80a4fa"/>
<polygon points="476.42,184.98 476.69,186.93 477.96,186.05 477.7,184.24" fill="#6565df" stroke="#6565df"/>
<polygon points="478.17,191.73 479.91,192.23 481.17,191.14 479.43,190.63" fill="#5353c1" stroke="#5353c1"/>
<polygon points="487.66,191.57 489.41,192.08 491.91,189.95 490.16,189.43" fill="#5353c3" stroke="#5353c3"/>
<polygon points="586.81,192.06 597.56,194.81 602.2,191.45 591.48,188.73" fill="#5353b8" stroke="#5353b8"/>
<polygon points="475.41,191.84 476.12,192.28 477.13,191.4 476.42,190.97" fill="#5353c1" stroke="#5353c1"/>
<polygon points="495.4,190.98 498.9,192 501.39,189.93 497.9,188.89" fill="#5353c4" stroke="#5353c4"/>
<polygon points="475.04,191.26 475.41,191.84 476.42,190.97 476.05,190.43" fill="#5353c3" stroke="#5353c3"/>
<polygon points="475.41,187.82 475.65,189.12 476.91,188.14 476.69,186.93" fill="#6060d4" stroke="#6060d4"/>
<polygon points="482.92,191.64 484.66,192.14 485.91,191.06 484.17,190.55" fill="#5353c2" stroke="#5353c2"/>
<polygon points="477.25,179.63 477.46,182 480.02,180.69 479.82,178.64" fill="#6c6cf6" stroke="#6c6cf6"/>
<polygon points="529.87,190.68 536.93,192.66 539.37,190.98 532.32,189.01" fill="#5353bf" stroke="#5353bf"/>
<polygon points="476.12,192.28 477.16,192.62 478.17,191.73 477.13,191.4" fill="#5353c0" stroke="#5353c0"/>
<polygon points="539.37,190.98 546.44,192.93 548.86,191.25 541.79,189.31" fill="#5353be" stroke="#5353be"/>
<polygon points="479.37,172.87 479.6,175.88 482.18,175.14 481.97,172.54" fill="#777ffa" stroke="#777ffa"/>
<polygon points="474.63,189.84 475.04,191.26 476.05,190.43 475.65,189.12" fill="#6060cd" stroke="#6060cd"/>
<polygon points="522.14,190.85 527.42,192.36 529.87,190.68 524.6,189.18" fill="#5353c1" stroke="#5353c1"/>
<polygon points="479.91,192.23 481.66,192.73 482.92,191.64 481.17,191.14" fill="#5353c1" stroke="#5353c1"/>
<polygon points="477.16,192.62 478.9,193.11 479.91,192.23 478.17,191.73" fill="#5353c0" stroke="#5353c0"/>
<polygon points="484.66,192.14 486.4,192.64 487.66,191.57 485.91,191.06" fill="#5353c1" stroke="#5353c1"/>
<polygon points="474.4,192.7 475.11,193.17 476.12,192.28 475.41,191.84" fill="#5353c0" stroke="#5353c0"/>
<polygon points="489.41,192.08 492.9,193.08 495.4,190.98 491.91,189.95" fill="#5353c2" stroke="#5353c2"/>
<polygon points="474.02,192.06 474.4,192.7 475.41,191.84 475.04,191.26" fill="#5353c2" stroke="#5353c2"/>
<polygon points="476.17,182.55 476.42,184.98 477.7,184.24 477.46,182" fill="#6a6aeb" stroke="#6a6aeb"/>
<polygon points="481.47,164.93 481.74,169.21 484.35,169.26 484.11,165.63" fill="#809cfa" stroke="#809cfa"/>
<polygon points="475.14,185.72 475.41,187.82 476.69,186.93 476.42,184.98" fill="#6666df" stroke="#6666df"/>
<polygon points="514.39,191 519.67,192.53 522.14,190.85 516.87,189.33" fill="#5353c3" stroke="#5353c3"/>
<polygon points="647.37,193.69 661.95,197.23 666.36,193.86 651.81,190.34" fill="#4c4cbd" stroke="#4c4cbd"/>
<polygon points="474.39,188.43 474.63,189.84 475.65,189.12 475.41,187.82" fill="#6060d4" stroke="#6060d4"/>
<polygon points="475.11,193.17 476.15,193.5 477.16,192.62 476.12,192.28" fill="#5353bf" stroke="#5353bf"/>
<polygon points="571.4,192.64 582.11,195.43 586.81,192.06 576.12,189.29" fill="#5353ba" stroke="#5353ba"/>
<polygon points="481.66,192.73 483.4,193.22 484.66,192.14 482.92,191.64" fill="#5353c0" stroke="#5353c0"/>
<polygon points="473.6,190.5 474.02,192.06 475.04,191.26 474.63,189.84" fill="#6161cc" stroke="#6161cc"/>
<polygon points="506.65,191.48 511.92,193 514.39,191 509.13,189.45" fill="#5353c3" stroke="#5353c3"/>
<polygon points="478.9,193.11 480.65,193.6 481.66,192.73 479.91,192.23" fill="#5353bf" stroke="#5353bf"/>
<polygon points="486.4,192.64 488.15,193.14 489.41,192.08 487.66,191.57" fill="#5353c1" stroke="#5353c1"/>
<polygon points="476.15,193.5 477.89,193.99 478.9,193.11 477.16,192.62" fill="#5353be" stroke="#5353be"/>
<polygon points="498.9,192 504.16,193.51 506.65,191.48 501.39,189.93" fill="#5353c2" stroke="#5353c2"/>
<polygon points="630.18,193.94 642.89,197.06 647.37,193.69 634.69,190.59" fill="#4e4ebb" stroke="#4e4ebb"/>
<polygon points="473.38,193.56 474.09,194.05 475.11,193.17 474.4,192.7" fill="#5353bf" stroke="#5353bf"/>
<polygon points="477,176.44 477.25,179.63 479.82,178.64 479.6,175.88" fill="#7777fa" stroke="#7777fa"/>
<polygon points="473.01,192.87 473.38,193.56 474.4,192.7 474.02,192.06" fill="#5353c1" stroke="#5353c1"/>
<polygon points="483.4,193.22 485.15,193.72 486.4,192.64 484.66,192.14" fill="#5353c0" stroke="#5353c0"/>
<polygon points="474.09,194.05 475.14,194.39 476.15,193.5 475.11,193.17" fill="#5353bd" stroke="#5353bd"/>
<polygon points="474.11,186.14 474.39,188.43 475.41,187.82 475.14,185.72" fill="#6969e0" stroke="#6969e0"/>
<polygon points="473.36,188.94 473.6,190.5 474.63,189.84 474.39,188.43" fill="#6262d5" stroke="#6262d5"/>
<polygon points="480.65,193.6 482.39,194.09 483.4,193.22 481.66,192.73" fill="#5353bf" stroke="#5353bf"/>
<polygon points="492.9,193.08 496.41,194.08 498.9,192 495.4,190.98" fill="#5353c1" stroke="#5353c1"/>
<polygon points="479.11,168.99 479.37,172.87 481.97,172.54 481.74,169.21" fill="#8093fa" stroke="#8093fa"/>
<polygon points="474.88,183.1 475.14,185.72 476.42,184.98 476.17,182.55" fill="#6c6cec" stroke="#6c6cec"/>
<polygon points="472.58,191.16 473.01,192.87 474.02,192.06 473.6,190.5" fill="#6262cc" stroke="#6262cc"/>
<polygon points="475.95,179.98 476.17,182.55 477.46,182 477.25,179.63" fill="#6d6df8" stroke="#6d6df8"/>
<polygon points="477.89,193.99 479.64,194.47 480.65,193.6 478.9,193.11" fill="#5353be" stroke="#5353be"/>
<polygon points="475.14,194.39 476.88,194.87 477.89,193.99 476.15,193.5" fill="#5353bd" stroke="#5353bd"/>
<polygon points="488.15,193.14 491.65,194.13 492.9,193.08 489.41,192.08" fill="#5353c0" stroke="#5353c0"/>
<polygon points="612.98,194.17 625.63,197.32 630.18,193.94 617.56,190.81" fill="#5353b9" stroke="#5353b9"/>
<polygon points="472.37,194.41 473.08,194.94 474.09,194.05 473.38,193.56" fill="#5353bd" stroke="#5353bd"/>
<polygon points="485.15,193.72 486.89,194.21 488.15,193.14 486.4,192.64" fill="#5353bf" stroke="#5353bf"/>
<polygon points="471.99,193.63 472.37,194.41 473.38,193.56 473.01,192.87" fill="#5353c0" stroke="#5353c0"/>
<polygon points="557.73,193.64 566.63,196.01 571.4,192.64 562.51,190.29" fill="#5353bb" stroke="#5353bb"/>
<polygon points="527.42,192.36 534.49,194.34 536.93,192.66 529.87,190.68" fill="#5353bf" stroke="#5353bf"/>
<polygon points="473.08,194.94 474.13,195.27 475.14,194.39 474.09,194.05" fill="#5353bc" stroke="#5353bc"/>
<polygon points="536.93,192.66 544.02,194.61 546.44,192.93 539.37,190.98" fill="#5353be" stroke="#5353be"/>
<polygon points="482.39,194.09 484.14,194.58 485.15,193.72 483.4,193.22" fill="#5353be" stroke="#5353be"/>
<polygon points="519.67,192.53 524.96,194.04 527.42,192.36 522.14,190.85" fill="#5353c1" stroke="#5353c1"/>
<polygon points="479.64,194.47 481.38,194.96 482.39,194.09 480.65,193.6" fill="#5353bd" stroke="#5353bd"/>
<polygon points="472.33,189.46 472.58,191.16 473.6,190.5 473.36,188.94" fill="#6363d6" stroke="#6363d6"/>
<polygon points="476.88,194.87 478.63,195.35 479.64,194.47 477.89,193.99" fill="#5353bd" stroke="#5353bd"/>
<polygon points="473.06,186.41 473.36,188.94 474.39,188.43 474.11,186.14" fill="#6c6ce1" stroke="#6c6ce1"/>
<polygon points="471.55,191.69 471.99,193.63 473.01,192.87 472.58,191.16" fill="#6565cd" stroke="#6565cd"/>
<polygon points="546.44,192.93 555.32,195.33 557.73,193.64 548.86,191.25" fill="#5353bc" stroke="#5353bc"/>
<polygon points="474.13,195.27 475.87,195.75 476.88,194.87 475.14,194.39" fill="#5353bc" stroke="#5353bc"/>
<polygon points="511.92,193 517.2,194.51 519.67,192.53 514.39,191" fill="#5353c2" stroke="#5353c2"/>
<polygon points="471.35,195.23 472.06,195.82 473.08,194.94 472.37,194.41" fill="#5353bc" stroke="#5353bc"/>
<polygon points="473.84,183.3 474.11,186.14 475.14,185.72 474.88,183.1" fill="#7070ee" stroke="#7070ee"/>
<polygon points="470.96,194.33 471.35,195.23 472.37,194.41 471.99,193.63" fill="#5353c0" stroke="#5353c0"/>
<polygon points="476.75,172.94 477,176.44 479.6,175.88 479.37,172.87" fill="#7e8afa" stroke="#7e8afa"/>
<polygon points="484.14,194.58 485.89,195.06 486.89,194.21 485.15,193.72" fill="#5353be" stroke="#5353be"/>
<polygon points="481.14,159.42 481.47,164.93 484.11,165.63 483.82,160.97" fill="#80aefa" stroke="#80aefa"/>
<polygon points="486.89,194.21 490.39,195.19 491.65,194.13 488.15,193.14" fill="#5353bf" stroke="#5353bf"/>
<polygon points="472.06,195.82 473.11,196.16 474.13,195.27 473.08,194.94" fill="#5353bb" stroke="#5353bb"/>
<polygon points="597.56,194.81 608.37,197.54 612.98,194.17 602.2,191.45" fill="#5353b7" stroke="#5353b7"/>
<polygon points="504.16,193.51 509.44,195.01 511.92,193 506.65,191.48" fill="#5353c1" stroke="#5353c1"/>
<polygon points="481.38,194.96 483.13,195.44 484.14,194.58 482.39,194.09" fill="#5353bd" stroke="#5353bd"/>
<polygon points="474.65,180.34 474.88,183.1 476.17,182.55 475.95,179.98" fill="#6f6ffa" stroke="#6f6ffa"/>
<polygon points="491.65,194.13 495.15,195.12 496.41,194.08 492.9,193.08" fill="#5353bf" stroke="#5353bf"/>
<polygon points="478.63,195.35 480.37,195.82 481.38,194.96 479.64,194.47" fill="#5353bc" stroke="#5353bc"/>
<polygon points="496.41,194.08 501.67,195.56 504.16,193.51 498.9,192" fill="#5353c0" stroke="#5353c0"/>
<polygon points="475.68,176.52 475.95,179.98 477.25,179.63 477,176.44" fill="#777afa" stroke="#777afa"/>
<polygon points="475.87,195.75 477.61,196.22 478.63,195.35 476.88,194.87" fill="#5353bb" stroke="#5353bb"/>
<polygon points="470.58,195.84 471.3,196.48 472.06,195.82 471.35,195.23" fill="#5353bb" stroke="#5353bb"/>
<polygon points="473.11,196.16 474.86,196.63 475.87,195.75 474.13,195.27" fill="#5353ba" stroke="#5353ba"/>
<polygon points="471.28,189.75 471.55,191.69 472.58,191.16 472.33,189.46" fill="#6666d7" stroke="#6666d7"/>
<polygon points="470.5,192.05 470.96,194.33 471.99,193.63 471.55,191.69" fill="#6868ce" stroke="#6868ce"/>
<polygon points="470.19,194.85 470.58,195.84 471.35,195.23 470.96,194.33" fill="#5353bf" stroke="#5353bf"/>
<polygon points="472.02,186.67 472.33,189.46 473.36,188.94 473.06,186.41" fill="#6e6ee3" stroke="#6e6ee3"/>
<polygon points="471.3,196.48 472.35,196.83 473.11,196.16 472.06,195.82" fill="#5353b9" stroke="#5353b9"/>
<polygon points="483.13,195.44 484.88,195.92 485.89,195.06 484.14,194.58" fill="#5353bd" stroke="#5353bd"/>
<polygon points="480.37,195.82 482.12,196.3 483.13,195.44 481.38,194.96" fill="#5353bc" stroke="#5353bc"/>
<polygon points="485.89,195.06 489.39,196.03 490.39,195.19 486.89,194.21" fill="#5353bd" stroke="#5353bd"/>
<polygon points="478.8,164 479.11,168.99 481.74,169.21 481.47,164.93" fill="#80a4fa" stroke="#80a4fa"/>
<polygon points="470.07,196.26 470.79,196.93 471.3,196.48 470.58,195.84" fill="#5353ba" stroke="#5353ba"/>
<polygon points="477.61,196.22 479.36,196.69 480.37,195.82 478.63,195.35" fill="#5353bb" stroke="#5353bb"/>
<polygon points="472.78,183.25 473.06,186.41 474.11,186.14 473.84,183.3" fill="#7474f0" stroke="#7474f0"/>
<polygon points="474.86,196.63 476.6,197.1 477.61,196.22 475.87,195.75" fill="#5353ba" stroke="#5353ba"/>
<polygon points="470.79,196.93 471.84,197.27 472.35,196.83 471.3,196.48" fill="#5353b9" stroke="#5353b9"/>
<polygon points="472.35,196.83 474.09,197.29 474.86,196.63 473.11,196.16" fill="#5353b9" stroke="#5353b9"/>
<polygon points="469.68,195.2 470.07,196.26 470.58,195.84 470.19,194.85" fill="#5353bf" stroke="#5353bf"/>
<polygon points="582.11,195.43 592.89,198.2 597.56,194.81 586.81,192.06" fill="#5353b8" stroke="#5353b8"/>
<polygon points="490.39,195.19 493.9,196.16 495.15,195.12 491.65,194.13" fill="#5353be" stroke="#5353be"/>
<polygon points="469.56,196.69 470.28,197.37 470.79,196.93 470.07,196.26" fill="#5353ba" stroke="#5353ba"/>
<polygon points="473.59,180.29 473.84,183.3 474.88,183.1 474.65,180.34" fill="#7373fa" stroke="#7373fa"/>
<polygon points="469.72,192.29 470.19,194.85 470.96,194.33 470.5,192.05" fill="#6a6ad0" stroke="#6a6ad0"/>
<polygon points="524.96,194.04 532.04,196.03 534.49,194.34 527.42,192.36" fill="#5353bf" stroke="#5353bf"/>
<polygon points="482.12,196.3 483.87,196.78 484.88,195.92 483.13,195.44" fill="#5353bc" stroke="#5353bc"/>
<polygon points="470.28,197.37 471.33,197.72 471.84,197.27 470.79,196.93" fill="#5353b8" stroke="#5353b8"/>
<polygon points="517.2,194.51 522.5,196 524.96,194.04 519.67,192.53" fill="#5353c0" stroke="#5353c0"/>
<polygon points="534.49,194.34 541.58,196.3 544.02,194.61 536.93,192.66" fill="#5353be" stroke="#5353be"/>
<polygon points="661.95,197.23 674.44,200.24 678.81,196.85 666.36,193.86" fill="#4c4cbd" stroke="#4c4cbd"/>
<polygon points="469.17,195.6 469.56,196.69 470.07,196.26 469.68,195.2" fill="#5353bf" stroke="#5353bf"/>
<polygon points="470.22,189.75 470.5,192.05 471.55,191.69 471.28,189.75" fill="#6b6bda" stroke="#6b6bda"/>
<polygon points="479.36,196.69 481.11,197.16 482.12,196.3 480.37,195.82" fill="#5353bb" stroke="#5353bb"/>
<polygon points="471.84,197.27 473.59,197.74 474.09,197.29 472.35,196.83" fill="#5353b8" stroke="#5353b8"/>
<polygon points="484.88,195.92 488.38,196.88 489.39,196.03 485.89,195.06" fill="#5353bc" stroke="#5353bc"/>
<polygon points="495.15,195.12 500.42,196.58 501.67,195.56 496.41,194.08" fill="#5353be" stroke="#5353be"/>
<polygon points="469.05,197.06 469.77,197.76 470.28,197.37 469.56,196.69" fill="#5353b9" stroke="#5353b9"/>
<polygon points="476.6,197.1 478.35,197.56 479.36,196.69 477.61,196.22" fill="#5353ba" stroke="#5353ba"/>
<polygon points="470.95,186.57 471.28,189.75 472.33,189.46 472.02,186.67" fill="#7474e6" stroke="#7474e6"/>
<polygon points="474.37,176.61 474.65,180.34 475.95,179.98 475.68,176.52" fill="#7a7ffa" stroke="#7a7ffa"/>
<polygon points="474.09,197.29 475.84,197.76 476.6,197.1 474.86,196.63" fill="#5353b9" stroke="#5353b9"/>
<polygon points="509.44,195.01 514.73,196.49 517.2,194.51 511.92,193" fill="#5353c0" stroke="#5353c0"/>
<polygon points="476.46,168.44 476.75,172.94 479.37,172.87 479.11,168.99" fill="#809bfa" stroke="#809bfa"/>
<polygon points="469.77,197.76 470.82,198.11 471.33,197.72 470.28,197.37" fill="#5353b7" stroke="#5353b7"/>
<polygon points="544.02,194.61 552.91,197.02 555.32,195.33 546.44,192.93" fill="#5353bc" stroke="#5353bc"/>
<polygon points="468.65,195.94 469.05,197.06 469.56,196.69 469.17,195.6" fill="#5353be" stroke="#5353be"/>
<polygon points="469.2,192.49 469.68,195.2 470.19,194.85 469.72,192.29" fill="#6c6cd1" stroke="#6c6cd1"/>
<polygon points="471.33,197.72 473.08,198.18 473.59,197.74 471.84,197.27" fill="#5353b8" stroke="#5353b8"/>
<polygon points="501.67,195.56 506.95,197.02 509.44,195.01 504.16,193.51" fill="#5353bf" stroke="#5353bf"/>
<polygon points="489.39,196.03 492.89,196.99 493.9,196.16 490.39,195.19" fill="#5353bd" stroke="#5353bd"/>
<polygon points="468.64,197.32 469.36,198.03 469.77,197.76 469.05,197.06" fill="#5353b9" stroke="#5353b9"/>
<polygon points="475.42,172.73 475.68,176.52 477,176.44 476.75,172.94" fill="#7d8efa" stroke="#7d8efa"/>
<polygon points="471.71,183.2 472.02,186.67 473.06,186.41 472.78,183.25" fill="#7777f3" stroke="#7777f3"/>
<polygon points="481.11,197.16 482.86,197.63 483.87,196.78 482.12,196.3" fill="#5353ba" stroke="#5353ba"/>
<polygon points="473.59,197.74 475.33,198.2 475.84,197.76 474.09,197.29" fill="#5353b8" stroke="#5353b8"/>
<polygon points="469.36,198.03 470.41,198.38 470.82,198.11 469.77,197.76" fill="#5353b7" stroke="#5353b7"/>
<polygon points="642.89,197.06 657.51,200.63 661.95,197.23 647.37,193.69" fill="#4e4ebb" stroke="#4e4ebb"/>
<polygon points="566.63,196.01 577.38,198.82 582.11,195.43 571.4,192.64" fill="#5353ba" stroke="#5353ba"/>
<polygon points="468.24,196.17 468.64,197.32 469.05,197.06 468.65,195.94" fill="#5353be" stroke="#5353be"/>
<polygon points="478.35,197.56 480.1,198.03 481.11,197.16 479.36,196.69" fill="#5353b9" stroke="#5353b9"/>
<polygon points="470.82,198.11 472.57,198.57 473.08,198.18 471.33,197.72" fill="#5353b7" stroke="#5353b7"/>
<polygon points="483.87,196.78 487.37,197.72 488.38,196.88 484.88,195.92" fill="#5353bb" stroke="#5353bb"/>
<polygon points="475.84,197.76 477.59,198.22 478.35,197.56 476.6,197.1" fill="#5353b9" stroke="#5353b9"/>
<polygon points="468.68,192.8 469.17,195.6 469.68,195.2 469.2,192.49" fill="#6d6dd1" stroke="#6d6dd1"/>
<polygon points="468.28,197.54 469,198.27 469.36,198.03 468.64,197.32" fill="#5353b9" stroke="#5353b9"/>
<polygon points="555.32,195.33 564.24,197.7 566.63,196.01 557.73,193.64" fill="#5353bb" stroke="#5353bb"/>
<polygon points="469,198.27 470.05,198.62 470.41,198.38 469.36,198.03" fill="#5353b7" stroke="#5353b7"/>
<polygon points="469.42,189.72 469.72,192.29 470.5,192.05 470.22,189.75" fill="#6d6ddd" stroke="#6d6ddd"/>
<polygon points="473.08,198.18 474.82,198.63 475.33,198.2 473.59,197.74" fill="#5353b7" stroke="#5353b7"/>
<polygon points="472.51,179.9 472.78,183.25 473.84,183.3 473.59,180.29" fill="#7979fa" stroke="#7979fa"/>
<polygon points="467.87,196.36 468.28,197.54 468.64,197.32 468.24,196.17" fill="#5353be" stroke="#5353be"/>
<polygon points="468.02,197.7 468.74,198.43 469,198.27 468.28,197.54" fill="#5353b9" stroke="#5353b9"/>
<polygon points="493.9,196.16 499.17,197.61 500.42,196.58 495.15,195.12" fill="#5353bd" stroke="#5353bd"/>
<polygon points="470.41,198.38 472.16,198.84 472.57,198.57 470.82,198.11" fill="#5353b7" stroke="#5353b7"/>
<polygon points="468.74,198.43 469.79,198.79 470.05,198.62 469,198.27" fill="#5353b7" stroke="#5353b7"/>
<polygon points="488.38,196.88 491.89,197.83 492.89,196.99 489.39,196.03" fill="#5353bc" stroke="#5353bc"/>
<polygon points="625.63,197.32 638.37,200.46 642.89,197.06 630.18,193.94" fill="#5353b9" stroke="#5353b9"/>
<polygon points="468.16,193.05 468.65,195.94 469.17,195.6 468.68,192.8" fill="#6d6dd1" stroke="#6d6dd1"/>
<polygon points="475.33,198.2 477.08,198.65 477.59,198.22 475.84,197.76" fill="#5353b8" stroke="#5353b8"/>
<polygon points="467.76,197.85 468.49,198.6 468.74,198.43 468.02,197.7" fill="#5353b9" stroke="#5353b9"/>
<polygon points="467.61,196.5 468.02,197.7 468.28,197.54 467.87,196.36" fill="#5353bf" stroke="#5353bf"/>
<polygon points="480.1,198.03 481.85,198.49 482.86,197.63 481.11,197.16" fill="#5353b9" stroke="#5353b9"/>
<polygon points="472.57,198.57 474.31,199.02 474.82,198.63 473.08,198.18" fill="#5353b7" stroke="#5353b7"/>
<polygon points="469.86,185.99 470.22,189.75 471.28,189.75 470.95,186.57" fill="#7c7ceb" stroke="#7c7ceb"/>
<polygon points="477.59,198.22 479.33,198.68 480.1,198.03 478.35,197.56" fill="#5353b8" stroke="#5353b8"/>
<polygon points="468.49,198.6 469.54,198.96 469.79,198.79 468.74,198.43" fill="#5353b7" stroke="#5353b7"/>
<polygon points="470.05,198.62 471.8,199.08 472.16,198.84 470.41,198.38" fill="#5353b7" stroke="#5353b7"/>
<polygon points="467.5,198.01 468.23,198.77 468.49,198.6 467.76,197.85" fill="#5353b9" stroke="#5353b9"/>
<polygon points="473.29,176.22 473.59,180.29 474.65,180.34 474.37,176.61" fill="#7f87fa" stroke="#7f87fa"/>
<polygon points="482.86,197.63 486.36,198.57 487.37,197.72 483.87,196.78" fill="#5353ba" stroke="#5353ba"/>
<polygon points="467.35,196.64 467.76,197.85 468.02,197.7 467.61,196.5" fill="#5353bf" stroke="#5353bf"/>
<polygon points="474.82,198.63 476.57,199.09 477.08,198.65 475.33,198.2" fill="#5353b7" stroke="#5353b7"/>
<polygon points="468.23,198.77 469.28,199.13 469.54,198.96 468.49,198.6" fill="#5353b7" stroke="#5353b7"/>
<polygon points="467.74,193.21 468.24,196.17 468.65,195.94 468.16,193.05" fill="#6e6ed2" stroke="#6e6ed2"/>
<polygon points="468.89,189.75 469.2,192.49 469.72,192.29 469.42,189.72" fill="#6e6edf" stroke="#6e6edf"/>
<polygon points="469.79,198.79 471.54,199.25 471.8,199.08 470.05,198.62" fill="#5353b7" stroke="#5353b7"/>
<polygon points="467.24,198.17 467.97,198.94 468.23,198.77 467.5,198.01" fill="#5353b9" stroke="#5353b9"/>
<polygon points="472.16,198.84 473.9,199.3 474.31,199.02 472.57,198.57" fill="#5353b7" stroke="#5353b7"/>
<polygon points="467.09,196.77 467.5,198.01 467.76,197.85 467.35,196.64" fill="#5353bf" stroke="#5353bf"/>
<polygon points="470.62,182.61 470.95,186.57 472.02,186.67 471.71,183.2" fill="#7f7ff7" stroke="#7f7ff7"/>
<polygon points="467.97,198.94 469.02,199.3 469.28,199.13 468.23,198.77" fill="#5353b7" stroke="#5353b7"/>
<polygon points="477.08,198.65 478.83,199.11 479.33,198.68 477.59,198.22" fill="#5353b8" stroke="#5353b8"/>
<polygon points="500.42,196.58 505.7,198.03 506.95,197.02 501.67,195.56" fill="#5353bd" stroke="#5353bd"/>
<polygon points="469.54,198.96 471.28,199.42 471.54,199.25 469.79,198.79" fill="#5353b7" stroke="#5353b7"/>
<polygon points="522.5,196 529.58,197.96 532.04,196.03 524.96,194.04" fill="#5353bf" stroke="#5353bf"/>
<polygon points="514.73,196.49 520.03,197.96 522.5,196 517.2,194.51" fill="#5353be" stroke="#5353be"/>
<polygon points="466.98,198.32 467.71,199.11 467.97,198.94 467.24,198.17" fill="#5353b9" stroke="#5353b9"/>
<polygon points="492.89,196.99 498.16,198.43 499.17,197.61 493.9,196.16" fill="#5353bc" stroke="#5353bc"/>
<polygon points="608.37,197.54 621.05,200.72 625.63,197.32 612.98,194.17" fill="#5353b7" stroke="#5353b7"/>
<polygon points="487.37,197.72 490.88,198.67 491.89,197.83 488.38,196.88" fill="#5353bb" stroke="#5353bb"/>
<polygon points="466.83,196.91 467.24,198.17 467.5,198.01 467.09,196.77" fill="#5353bf" stroke="#5353bf"/>
<polygon points="474.31,199.02 476.06,199.48 476.57,199.09 474.82,198.63" fill="#5353b7" stroke="#5353b7"/>
<polygon points="467.38,193.32 467.87,196.36 468.24,196.17 467.74,193.21" fill="#6f6fd2" stroke="#6f6fd2"/>
<polygon points="478.42,157.57 478.8,164 481.47,164.93 481.14,159.42" fill="#80bafa" stroke="#80bafa"/>
<polygon points="479.33,198.68 481.08,199.14 481.85,198.49 480.1,198.03" fill="#5353b8" stroke="#5353b8"/>
<polygon points="467.71,199.11 468.76,199.47 469.02,199.3 467.97,198.94" fill="#5353b7" stroke="#5353b7"/>
<polygon points="471.8,199.08 473.54,199.53 473.9,199.3 472.16,198.84" fill="#5353b7" stroke="#5353b7"/>
<polygon points="532.04,196.03 539.14,198 541.58,196.3 534.49,194.34" fill="#5353be" stroke="#5353be"/>
<polygon points="474.09,172.52 474.37,176.61 475.68,176.52 475.42,172.73" fill="#8094fa" stroke="#8094fa"/>
<polygon points="469.28,199.13 471.02,199.59 471.28,199.42 469.54,198.96" fill="#5353b7" stroke="#5353b7"/>
<polygon points="466.72,198.47 467.45,199.27 467.71,199.11 466.98,198.32" fill="#5353ba" stroke="#5353ba"/>
<polygon points="506.95,197.02 512.24,198.48 514.73,196.49 509.44,195.01" fill="#5353be" stroke="#5353be"/>
<polygon points="468.37,189.96 468.68,192.8 469.2,192.49 468.89,189.75" fill="#6d6de0" stroke="#6d6de0"/>
<polygon points="466.57,197.02 466.98,198.32 467.24,198.17 466.83,196.91" fill="#5f5fc3" stroke="#5f5fc3"/>
<polygon points="476.57,199.09 478.32,199.55 478.83,199.11 477.08,198.65" fill="#5353b7" stroke="#5353b7"/>
<polygon points="467.45,199.27 468.5,199.64 468.76,199.47 467.71,199.11" fill="#5353b7" stroke="#5353b7"/>
<polygon points="481.85,198.49 485.35,199.42 486.36,198.57 482.86,197.63" fill="#5353b9" stroke="#5353b9"/>
<polygon points="467.11,193.4 467.61,196.5 467.87,196.36 467.38,193.32" fill="#7070d3" stroke="#7070d3"/>
<polygon points="471.54,199.25 473.29,199.7 473.54,199.53 471.8,199.08" fill="#5353b7" stroke="#5353b7"/>
<polygon points="469.02,199.3 470.77,199.76 471.02,199.59 469.28,199.13" fill="#5353b7" stroke="#5353b7"/>
<polygon points="471.43,179.52 471.71,183.2 472.78,183.25 472.51,179.9" fill="#7c7cfa" stroke="#7c7cfa"/>
<polygon points="466.46,198.61 467.19,199.44 467.45,199.27 466.72,198.47" fill="#5353ba" stroke="#5353ba"/>
<polygon points="473.9,199.3 475.65,199.75 476.06,199.48 474.31,199.02" fill="#5353b7" stroke="#5353b7"/>
<polygon points="541.58,196.3 550.48,198.72 552.91,197.02 544.02,194.61" fill="#5353bc" stroke="#5353bc"/>
<polygon points="466.31,197.13 466.72,198.47 466.98,198.32 466.57,197.02" fill="#5f5fc3" stroke="#5f5fc3"/>
<polygon points="467.19,199.44 468.25,199.81 468.5,199.64 467.45,199.27" fill="#5353b7" stroke="#5353b7"/>
<polygon points="478.83,199.11 480.58,199.57 481.08,199.14 479.33,198.68" fill="#5353b7" stroke="#5353b7"/>
<polygon points="471.28,199.42 473.03,199.88 473.29,199.7 471.54,199.25" fill="#5353b7" stroke="#5353b7"/>
<polygon points="468.76,199.47 470.51,199.93 470.77,199.76 469.02,199.3" fill="#5353b7" stroke="#5353b7"/>
<polygon points="466.85,193.48 467.35,196.64 467.61,196.5 467.11,193.4" fill="#7070d3" stroke="#7070d3"/>
<polygon points="466.2,198.74 466.94,199.61 467.19,199.44 466.46,198.61" fill="#5353ba" stroke="#5353ba"/>
<polygon points="469.04,185.49 469.42,189.72 470.22,189.75 469.86,185.99" fill="#7f7fef" stroke="#7f7fef"/>
<polygon points="476.06,199.48 477.81,199.93 478.32,199.55 476.57,199.09" fill="#5353b7" stroke="#5353b7"/>
<polygon points="467.84,190.12 468.16,193.05 468.68,192.8 468.37,189.96" fill="#6f6fe1" stroke="#6f6fe1"/>
<polygon points="473.54,199.53 475.29,199.99 475.65,199.75 473.9,199.3" fill="#5353b7" stroke="#5353b7"/>
<polygon points="475.11,167.84 475.42,172.73 476.75,172.94 476.46,168.44" fill="#80a1fa" stroke="#80a1fa"/>
<polygon points="466.94,199.61 467.99,199.98 468.25,199.81 467.19,199.44" fill="#5353b7" stroke="#5353b7"/>
<polygon points="466.05,197.22 466.46,198.61 466.72,198.47 466.31,197.13" fill="#6060c4" stroke="#6060c4"/>
<polygon points="476.1,162.65 476.46,168.44 479.11,168.99 478.8,164" fill="#80aefa" stroke="#80aefa"/>
<polygon points="491.89,197.83 497.16,199.25 498.16,198.43 492.89,196.99" fill="#5353bb" stroke="#5353bb"/>
<polygon points="471.02,199.59 472.77,200.05 473.03,199.88 471.28,199.42" fill="#5353b7" stroke="#5353b7"/>
<polygon points="468.5,199.64 470.25,200.1 470.51,199.93 468.76,199.47" fill="#5353b7" stroke="#5353b7"/>
<polygon points="486.36,198.57 489.87,199.51 490.88,198.67 487.37,197.72" fill="#5353ba" stroke="#5353ba"/>
<polygon points="466.59,193.56 467.09,196.77 467.35,196.64 466.85,193.48" fill="#7171d4" stroke="#7171d4"/>
<polygon points="478.32,199.55 480.07,200 480.58,199.57 478.83,199.11" fill="#5353b7" stroke="#5353b7"/>
<polygon points="499.17,197.61 504.45,199.05 505.7,198.03 500.42,196.58" fill="#5353bc" stroke="#5353bc"/>
<polygon points="592.89,198.2 603.72,200.95 608.37,197.54 597.56,194.81" fill="#5353b7" stroke="#5353b7"/>
<polygon points="472.19,175.38 472.51,179.9 473.59,180.29 473.29,176.22" fill="#808cfa" stroke="#808cfa"/>
<polygon points="465.79,197.3 466.2,198.74 466.46,198.61 466.05,197.22" fill="#6060c4" stroke="#6060c4"/>
<polygon points="473.29,199.7 475.03,200.16 475.29,199.99 473.54,199.53" fill="#5353b7" stroke="#5353b7"/>
<polygon points="481.08,199.14 484.59,200.06 485.35,199.42 481.85,198.49" fill="#5353b8" stroke="#5353b8"/>
<polygon points="470.77,199.76 472.51,200.22 472.77,200.05 471.02,199.59" fill="#5353b7" stroke="#5353b7"/>
<polygon points="468.25,199.81 469.99,200.27 470.25,200.1 468.5,199.64" fill="#5353b7" stroke="#5353b7"/>
<polygon points="475.65,199.75 477.4,200.21 477.81,199.93 476.06,199.48" fill="#5353b7" stroke="#5353b7"/>
<polygon points="466.32,193.64 466.83,196.91 467.09,196.77 466.59,193.56" fill="#7171d4" stroke="#7171d4"/>
<polygon points="552.91,197.02 561.84,199.4 564.24,197.7 555.32,195.33" fill="#5353bb" stroke="#5353bb"/>
<polygon points="467.42,190.21 467.74,193.21 468.16,193.05 467.84,190.12" fill="#7070e1" stroke="#7070e1"/>
<polygon points="473.03,199.88 474.78,200.33 475.03,200.16 473.29,199.7" fill="#5353b7" stroke="#5353b7"/>
<polygon points="470.51,199.93 472.26,200.39 472.51,200.22 470.77,199.76" fill="#5353b7" stroke="#5353b7"/>
<polygon points="467.99,199.98 469.73,200.44 469.99,200.27 468.25,199.81" fill="#5353b7" stroke="#5353b7"/>
<polygon points="477.81,199.93 479.56,200.39 480.07,200 478.32,199.55" fill="#5353b7" stroke="#5353b7"/>
<polygon points="466.06,193.65 466.57,197.02 466.83,196.91 466.32,193.64" fill="#7272d5" stroke="#7272d5"/>
<polygon points="475.29,199.99 477.04,200.44 477.4,200.21 475.65,199.75" fill="#5353b7" stroke="#5353b7"/>
<polygon points="472.77,200.05 474.52,200.5 474.78,200.33 473.03,199.88" fill="#5353b7" stroke="#5353b7"/>
<polygon points="470.25,200.1 472,200.56 472.26,200.39 470.51,199.93" fill="#5353b7" stroke="#5353b7"/>
<polygon points="469.49,181.29 469.86,185.99 470.95,186.57 470.62,182.61" fill="#8080fa" stroke="#8080fa"/>
<polygon points="480.58,199.57 484.08,200.48 484.59,200.06 481.08,199.14" fill="#5353b7" stroke="#5353b7"/>
<polygon points="468.49,185.25 468.89,189.75 469.42,189.72 469.04,185.49" fill="#7f7ff2" stroke="#7f7ff2"/>
<polygon points="490.88,198.67 496.15,200.08 497.16,199.25 491.89,197.83" fill="#5353ba" stroke="#5353ba"/>
<polygon points="467.05,190.25 467.38,193.32 467.74,193.21 467.42,190.21" fill="#7171e2" stroke="#7171e2"/>
<polygon points="485.35,199.42 488.86,200.35 489.87,199.51 486.36,198.57" fill="#5353b9" stroke="#5353b9"/>
<polygon points="465.79,193.66 466.31,197.13 466.57,197.02 466.06,193.65" fill="#7373d6" stroke="#7373d6"/>
<polygon points="475.03,200.16 476.78,200.61 477.04,200.44 475.29,199.99" fill="#5353b7" stroke="#5353b7"/>
<polygon points="472.51,200.22 474.26,200.67 474.52,200.5 472.77,200.05" fill="#5353b7" stroke="#5353b7"/>
<polygon points="469.99,200.27 471.74,200.73 472,200.56 470.25,200.1" fill="#5353b7" stroke="#5353b7"/>
<polygon points="472.99,171.76 473.29,176.22 474.37,176.61 474.09,172.52" fill="#8098fa" stroke="#8098fa"/>
<polygon points="477.4,200.21 479.15,200.66 479.56,200.39 477.81,199.93" fill="#5353b7" stroke="#5353b7"/>
<polygon points="505.7,198.03 511,199.48 512.24,198.48 506.95,197.02" fill="#5353bc" stroke="#5353bc"/>
<polygon points="498.16,198.43 503.45,199.86 504.45,199.05 499.17,197.61" fill="#5353bb" stroke="#5353bb"/>
<polygon points="474.78,200.33 476.53,200.79 476.78,200.61 475.03,200.16" fill="#5353b7" stroke="#5353b7"/>
<polygon points="472.26,200.39 474,200.84 474.26,200.67 472.51,200.22" fill="#5353b7" stroke="#5353b7"/>
<polygon points="480.07,200 483.58,200.91 484.08,200.48 480.58,199.57" fill="#5353b7" stroke="#5353b7"/>
<polygon points="469.73,200.44 471.48,200.9 471.74,200.73 469.99,200.27" fill="#5353b7" stroke="#5353b7"/>
<polygon points="470.31,178.4 470.62,182.61 471.71,183.2 471.43,179.52" fill="#8085fa" stroke="#8085fa"/>
<polygon points="466.78,190.26 467.11,193.4 467.38,193.32 467.05,190.25" fill="#7171e3" stroke="#7171e3"/>
<polygon points="465.52,193.61 466.05,197.22 466.31,197.13 465.79,193.66" fill="#7575d7" stroke="#7575d7"/>
<polygon points="512.24,198.48 517.55,199.92 520.03,197.96 514.73,196.49" fill="#5353bd" stroke="#5353bd"/>
<polygon points="477.04,200.44 478.79,200.9 479.15,200.66 477.4,200.21" fill="#5353b7" stroke="#5353b7"/>
<polygon points="520.03,197.96 527.12,199.9 529.58,197.96 522.5,196" fill="#5353bd" stroke="#5353bd"/>
<polygon points="564.24,197.7 575,200.52 577.38,198.82 566.63,196.01" fill="#5353ba" stroke="#5353ba"/>
<polygon points="474.52,200.5 476.27,200.96 476.53,200.79 474.78,200.33" fill="#5353b7" stroke="#5353b7"/>
<polygon points="472,200.56 473.75,201.01 474,200.84 472.26,200.39" fill="#5353b7" stroke="#5353b7"/>
<polygon points="577.38,198.82 588.18,201.6 592.89,198.2 582.11,195.43" fill="#5353b8" stroke="#5353b8"/>
<polygon points="467.96,185.3 468.37,189.96 468.89,189.75 468.49,185.25" fill="#7f7ff4" stroke="#7f7ff4"/>
<polygon points="466.52,190.28 466.85,193.48 467.11,193.4 466.78,190.26" fill="#7171e4" stroke="#7171e4"/>
<polygon points="465.25,193.52 465.79,197.3 466.05,197.22 465.52,193.61" fill="#7676d8" stroke="#7676d8"/>
<polygon points="484.59,200.06 488.1,200.98 488.86,200.35 485.35,199.42" fill="#5353b8" stroke="#5353b8"/>
<polygon points="479.56,200.39 483.07,201.29 483.58,200.91 480.07,200" fill="#5353b7" stroke="#5353b7"/>
<polygon points="476.78,200.61 478.53,201.07 478.79,200.9 477.04,200.44" fill="#5353b7" stroke="#5353b7"/>
<polygon points="529.58,197.96 536.69,199.9 539.14,198 532.04,196.03" fill="#5353bd" stroke="#5353bd"/>
<polygon points="474.26,200.67 476.01,201.13 476.27,200.96 474.52,200.5" fill="#5353b7" stroke="#5353b7"/>
<polygon points="471.74,200.73 473.49,201.18 473.75,201.01 472,200.56" fill="#5353b7" stroke="#5353b7"/>
<polygon points="489.87,199.51 495.15,200.9 496.15,200.08 490.88,198.67" fill="#5353b9" stroke="#5353b9"/>
<polygon points="466.25,190.3 466.59,193.56 466.85,193.48 466.52,190.28" fill="#7272e4" stroke="#7272e4"/>
<polygon points="473.75,167.25 474.09,172.52 475.42,172.73 475.11,167.84" fill="#80a6fa" stroke="#80a6fa"/>
<polygon points="476.53,200.79 478.28,201.24 478.53,201.07 476.78,200.61" fill="#5353b7" stroke="#5353b7"/>
<polygon points="474,200.84 475.76,201.3 476.01,201.13 474.26,200.67" fill="#5353b7" stroke="#5353b7"/>
<polygon points="471.48,200.9 473.23,201.35 473.49,201.18 471.74,200.73" fill="#5353b7" stroke="#5353b7"/>
<polygon points="471.09,174.54 471.43,179.52 472.51,179.9 472.19,175.38" fill="#8091fa" stroke="#8091fa"/>
<polygon points="657.51,200.63 670.03,203.67 674.44,200.24 661.95,197.23" fill="#4e4ebb" stroke="#4e4ebb"/>
<polygon points="497.16,199.25 502.45,200.67 503.45,199.86 498.16,198.43" fill="#5353ba" stroke="#5353ba"/>
<polygon points="479.15,200.66 482.66,201.57 483.07,201.29 479.56,200.39" fill="#5353b7" stroke="#5353b7"/>
<polygon points="467.43,185.31 467.84,190.12 468.37,189.96 467.96,185.3" fill="#8080f5" stroke="#8080f5"/>
<polygon points="476.27,200.96 478.02,201.41 478.28,201.24 476.53,200.79" fill="#5353b7" stroke="#5353b7"/>
<polygon points="473.75,201.01 475.5,201.47 475.76,201.3 474,200.84" fill="#5353b7" stroke="#5353b7"/>
<polygon points="539.14,198 548.05,200.42 550.48,198.72 541.58,196.3" fill="#5353bc" stroke="#5353bc"/>
<polygon points="504.45,199.05 509.75,200.48 511,199.48 505.7,198.03" fill="#5353bb" stroke="#5353bb"/>
<polygon points="484.08,200.48 487.59,201.4 488.1,200.98 484.59,200.06" fill="#5353b7" stroke="#5353b7"/>
<polygon points="465.98,190.32 466.32,193.64 466.59,193.56 466.25,190.3" fill="#7272e5" stroke="#7272e5"/>
<polygon points="476.01,201.13 477.76,201.58 478.02,201.41 476.27,200.96" fill="#5353b7" stroke="#5353b7"/>
<polygon points="473.49,201.18 475.24,201.64 475.5,201.47 473.75,201.01" fill="#5353b7" stroke="#5353b7"/>
<polygon points="478.79,200.9 482.3,201.81 482.66,201.57 479.15,200.66" fill="#5353b7" stroke="#5353b7"/>
<polygon points="468.64,180.2 469.04,185.49 469.86,185.99 469.49,181.29" fill="#8081fa" stroke="#8081fa"/>
<polygon points="465.71,190.23 466.06,193.65 466.32,193.64 465.98,190.32" fill="#7474e6" stroke="#7474e6"/>
<polygon points="483.58,200.91 487.09,201.82 487.59,201.4 484.08,200.48" fill="#5353b7" stroke="#5353b7"/>
<polygon points="475.76,201.3 477.51,201.75 477.76,201.58 476.01,201.13" fill="#5353b7" stroke="#5353b7"/>
<polygon points="488.86,200.35 494.14,201.73 495.15,200.9 489.87,199.51" fill="#5353b8" stroke="#5353b8"/>
<polygon points="473.23,201.35 474.98,201.81 475.24,201.64 473.49,201.18" fill="#5353b7" stroke="#5353b7"/>
<polygon points="467,185.27 467.42,190.21 467.84,190.12 467.43,185.31" fill="#8080f6" stroke="#8080f6"/>
<polygon points="478.53,201.07 482.04,201.98 482.3,201.81 478.79,200.9" fill="#5353b7" stroke="#5353b7"/>
<polygon points="638.37,200.46 653.03,204.05 657.51,200.63 642.89,197.06" fill="#5353b9" stroke="#5353b9"/>
<polygon points="471.86,170.42 472.19,175.38 473.29,176.22 472.99,171.76" fill="#809efa" stroke="#809efa"/>
<polygon points="475.5,201.47 477.25,201.92 477.51,201.75 475.76,201.3" fill="#5353b7" stroke="#5353b7"/>
<polygon points="550.48,198.72 559.42,201.11 561.84,199.4 552.91,197.02" fill="#5353bb" stroke="#5353bb"/>
<polygon points="465.44,190.13 465.79,193.66 466.06,193.65 465.71,190.23" fill="#7575e7" stroke="#7575e7"/>
<polygon points="496.15,200.08 501.44,201.48 502.45,200.67 497.16,199.25" fill="#5353b9" stroke="#5353b9"/>
<polygon points="478.28,201.24 481.79,202.15 482.04,201.98 478.53,201.07" fill="#5353b7" stroke="#5353b7"/>
<polygon points="511,199.48 516.31,200.91 517.55,199.92 512.24,198.48" fill="#5353bb" stroke="#5353bb"/>
<polygon points="483.07,201.29 486.58,202.2 487.09,201.82 483.58,200.91" fill="#5353b7" stroke="#5353b7"/>
<polygon points="474.73,161.55 475.11,167.84 476.46,168.44 476.1,162.65" fill="#80b6fa" stroke="#80b6fa"/>
<polygon points="475.24,201.64 476.99,202.1 477.25,201.92 475.5,201.47" fill="#5353b7" stroke="#5353b7"/>
<polygon points="503.45,199.86 508.75,201.28 509.75,200.48 504.45,199.05" fill="#5353ba" stroke="#5353ba"/>
<polygon points="478.02,201.41 481.53,202.32 481.79,202.15 478.28,201.24" fill="#5353b7" stroke="#5353b7"/>
<polygon points="466.62,185.18 467.05,190.25 467.42,190.21 467,185.27" fill="#8080f7" stroke="#8080f7"/>
<polygon points="465.16,189.94 465.52,193.61 465.79,193.66 465.44,190.13" fill="#7777e9" stroke="#7777e9"/>
<polygon points="474.98,201.81 476.74,202.27 476.99,202.1 475.24,201.64" fill="#5353b7" stroke="#5353b7"/>
<polygon points="469.14,176.3 469.49,181.29 470.62,182.61 470.31,178.4" fill="#808dfa" stroke="#808dfa"/>
<polygon points="488.1,200.98 493.38,202.35 494.14,201.73 488.86,200.35" fill="#5353b7" stroke="#5353b7"/>
<polygon points="621.05,200.72 633.82,203.89 638.37,200.46 625.63,197.32" fill="#5353b7" stroke="#5353b7"/>
<polygon points="477.76,201.58 481.27,202.49 481.53,202.32 478.02,201.41" fill="#5353b7" stroke="#5353b7"/>
<polygon points="482.66,201.57 486.17,202.47 486.58,202.2 483.07,201.29" fill="#5353b7" stroke="#5353b7"/>
<polygon points="475.67,155.18 476.1,162.65 478.8,164 478.42,157.57" fill="#7ac4fa" stroke="#7ac4fa"/>
<polygon points="466.35,185.1 466.78,190.26 467.05,190.25 466.62,185.18" fill="#8080f8" stroke="#8080f8"/>
<polygon points="517.55,199.92 524.65,201.84 527.12,199.9 520.03,197.96" fill="#5353bc" stroke="#5353bc"/>
<polygon points="477.51,201.75 481.02,202.66 481.27,202.49 477.76,201.58" fill="#5353b7" stroke="#5353b7"/>
<polygon points="468.07,179.62 468.49,185.25 469.04,185.49 468.64,180.2" fill="#8085fa" stroke="#8085fa"/>
<polygon points="464.88,189.68 465.25,193.52 465.52,193.61 465.16,189.94" fill="#7979eb" stroke="#7979eb"/>
<polygon points="495.15,200.9 500.44,202.3 501.44,201.48 496.15,200.08" fill="#5353b8" stroke="#5353b8"/>
<polygon points="472.63,166.02 472.99,171.76 474.09,172.52 473.75,167.25" fill="#80acfa" stroke="#80acfa"/>
<polygon points="482.3,201.81 485.81,202.71 486.17,202.47 482.66,201.57" fill="#5353b7" stroke="#5353b7"/>
<polygon points="477.25,201.92 480.76,202.83 481.02,202.66 477.51,201.75" fill="#5353b7" stroke="#5353b7"/>
<polygon points="561.84,199.4 572.61,202.23 575,200.52 564.24,197.7" fill="#5353ba" stroke="#5353ba"/>
<polygon points="487.59,201.4 492.87,202.77 493.38,202.35 488.1,200.98" fill="#5353b7" stroke="#5353b7"/>
<polygon points="469.93,172.71 470.31,178.4 471.43,179.52 471.09,174.54" fill="#8098fa" stroke="#8098fa"/>
<polygon points="527.12,199.9 534.23,201.82 536.69,199.9 529.58,197.96" fill="#5353bc" stroke="#5353bc"/>
<polygon points="466.08,185.02 466.52,190.28 466.78,190.26 466.35,185.1" fill="#8080f9" stroke="#8080f9"/>
<polygon points="502.45,200.67 507.75,202.08 508.75,201.28 503.45,199.86" fill="#5353b9" stroke="#5353b9"/>
<polygon points="482.04,201.98 485.56,202.89 485.81,202.71 482.3,201.81" fill="#5353b7" stroke="#5353b7"/>
<polygon points="476.99,202.1 480.5,203.01 480.76,202.83 477.25,201.92" fill="#5353b7" stroke="#5353b7"/>
<polygon points="509.75,200.48 515.06,201.9 516.31,200.91 511,199.48" fill="#5353ba" stroke="#5353ba"/>
<polygon points="603.72,200.95 616.44,204.14 621.05,200.72 608.37,197.54" fill="#5353b7" stroke="#5353b7"/>
<polygon points="487.09,201.82 492.37,203.18 492.87,202.77 487.59,201.4" fill="#5353b7" stroke="#5353b7"/>
<polygon points="465.8,184.94 466.25,190.3 466.52,190.28 466.08,185.02" fill="#8080fa" stroke="#8080fa"/>
<polygon points="481.79,202.15 485.3,203.06 485.56,202.89 482.04,201.98" fill="#5353b7" stroke="#5353b7"/>
<polygon points="476.74,202.27 480.25,203.18 480.5,203.01 476.99,202.1" fill="#5353b7" stroke="#5353b7"/>
<polygon points="467.53,179.48 467.96,185.3 468.49,185.25 468.07,179.62" fill="#8087fa" stroke="#8087fa"/>
<polygon points="536.69,199.9 545.61,202.31 548.05,200.42 539.14,198" fill="#5353bc" stroke="#5353bc"/>
<polygon points="481.53,202.32 485.05,203.23 485.3,203.06 481.79,202.15" fill="#5353b7" stroke="#5353b7"/>
<polygon points="494.14,201.73 499.43,203.11 500.44,202.3 495.15,200.9" fill="#5353b8" stroke="#5353b8"/>
<polygon points="465.53,184.86 465.98,190.32 466.25,190.3 465.8,184.94" fill="#8080fa" stroke="#8080fa"/>
<polygon points="486.58,202.2 491.86,203.56 492.37,203.18 487.09,201.82" fill="#5353b7" stroke="#5353b7"/>
<polygon points="481.27,202.49 484.79,203.4 485.05,203.23 481.53,202.32" fill="#5353b7" stroke="#5353b7"/>
<polygon points="470.73,169.07 471.09,174.54 472.19,175.38 471.86,170.42" fill="#80a5fa" stroke="#80a5fa"/>
<polygon points="501.44,201.48 506.74,202.88 507.75,202.08 502.45,200.67" fill="#5353b9" stroke="#5353b9"/>
<polygon points="481.02,202.66 484.53,203.57 484.79,203.4 481.27,202.49" fill="#5353b7" stroke="#5353b7"/>
<polygon points="465.25,184.59 465.71,190.23 465.98,190.32 465.53,184.86" fill="#8080fa" stroke="#8080fa"/>
<polygon points="508.75,201.28 514.06,202.69 515.06,201.9 509.75,200.48" fill="#5353ba" stroke="#5353ba"/>
<polygon points="588.18,201.6 599.04,204.38 603.72,200.95 592.89,198.2" fill="#5353b7" stroke="#5353b7"/>
<polygon points="575,200.52 585.81,203.32 588.18,201.6 577.38,198.82" fill="#5353b8" stroke="#5353b8"/>
<polygon points="486.17,202.47 491.45,203.83 491.86,203.56 486.58,202.2" fill="#5353b7" stroke="#5353b7"/>
<polygon points="466.99,179.29 467.43,185.31 467.96,185.3 467.53,179.48" fill="#8089fa" stroke="#8089fa"/>
<polygon points="473.34,160.46 473.75,167.25 475.11,167.84 474.73,161.55" fill="#7fbdfa" stroke="#7fbdfa"/>
<polygon points="480.76,202.83 484.28,203.74 484.53,203.57 481.02,202.66" fill="#5353b7" stroke="#5353b7"/>
<polygon points="548.05,200.42 557,202.82 559.42,201.11 550.48,198.72" fill="#5353bb" stroke="#5353bb"/>
<polygon points="516.31,200.91 523.41,202.81 524.65,201.84 517.55,199.92" fill="#5353ba" stroke="#5353ba"/>
<polygon points="493.38,202.35 498.67,203.72 499.43,203.11 494.14,201.73" fill="#5353b7" stroke="#5353b7"/>
<polygon points="468.26,174.58 468.64,180.2 469.49,181.29 469.14,176.3" fill="#8096fa" stroke="#8096fa"/>
<polygon points="480.5,203.01 484.02,203.92 484.28,203.74 480.76,202.83" fill="#5353b7" stroke="#5353b7"/>
<polygon points="464.97,184.33 465.44,190.13 465.71,190.23 465.25,184.59" fill="#8080fa" stroke="#8080fa"/>
<polygon points="485.81,202.71 491.1,204.07 491.45,203.83 486.17,202.47" fill="#5353b7" stroke="#5353b7"/>
<polygon points="480.25,203.18 483.76,204.09 484.02,203.92 480.5,203.01" fill="#5353b7" stroke="#5353b7"/>
<polygon points="500.44,202.3 505.74,203.69 506.74,202.88 501.44,201.48" fill="#5353b8" stroke="#5353b8"/>
<polygon points="485.56,202.89 490.84,204.25 491.1,204.07 485.81,202.71" fill="#5353b7" stroke="#5353b7"/>
<polygon points="466.55,179.1 467,185.27 467.43,185.31 466.99,179.29" fill="#808bfa" stroke="#808bfa"/>
<polygon points="471.47,164.03 471.86,170.42 472.99,171.76 472.63,166.02" fill="#80b4fa" stroke="#80b4fa"/>
<polygon points="492.87,202.77 498.17,204.13 498.67,203.72 493.38,202.35" fill="#5353b7" stroke="#5353b7"/>
<polygon points="464.68,183.9 465.16,189.94 465.44,190.13 464.97,184.33" fill="#8080fa" stroke="#8080fa"/>
<polygon points="507.75,202.08 513.06,203.48 514.06,202.69 508.75,201.28" fill="#5353b9" stroke="#5353b9"/>
<polygon points="485.3,203.06 490.59,204.42 490.84,204.25 485.56,202.89" fill="#5353b7" stroke="#5353b7"/>
<polygon points="524.65,201.84 531.77,203.73 534.23,201.82 527.12,199.9" fill="#5353ba" stroke="#5353ba"/>
<polygon points="485.05,203.23 490.33,204.59 490.59,204.42 485.3,203.06" fill="#5353b7" stroke="#5353b7"/>
<polygon points="559.42,201.11 570.21,203.95 572.61,202.23 561.84,199.4" fill="#5353ba" stroke="#5353ba"/>
<polygon points="492.37,203.18 497.66,204.54 498.17,204.13 492.87,202.77" fill="#5353b7" stroke="#5353b7"/>
<polygon points="466.16,178.85 466.62,185.18 467,185.27 466.55,179.1" fill="#808cfa" stroke="#808cfa"/>
<polygon points="468.7,169.54 469.14,176.3 470.31,178.4 469.93,172.71" fill="#80a3fa" stroke="#80a3fa"/>
<polygon points="515.06,201.9 522.16,203.78 523.41,202.81 516.31,200.91" fill="#5353ba" stroke="#5353ba"/>
<polygon points="484.79,203.4 490.07,204.76 490.33,204.59 485.05,203.23" fill="#5353b7" stroke="#5353b7"/>
<polygon points="464.38,183.35 464.88,189.68 465.16,189.94 464.68,183.9" fill="#8080fa" stroke="#8080fa"/>
<polygon points="499.43,203.11 504.74,204.49 505.74,203.69 500.44,202.3" fill="#5353b7" stroke="#5353b7"/>
<polygon points="484.53,203.57 489.82,204.94 490.07,204.76 484.79,203.4" fill="#5353b7" stroke="#5353b7"/>
<polygon points="491.86,203.56 497.16,204.92 497.66,204.54 492.37,203.18" fill="#5353b7" stroke="#5353b7"/>
<polygon points="534.23,201.82 543.17,204.2 545.61,202.31 536.69,199.9" fill="#5353bb" stroke="#5353bb"/>
<polygon points="467.67,173.63 468.07,179.62 468.64,180.2 468.26,174.58" fill="#809cfa" stroke="#809cfa"/>
<polygon points="506.74,202.88 512.06,204.28 513.06,203.48 507.75,202.08" fill="#5353b8" stroke="#5353b8"/>
<polygon points="465.88,178.64 466.35,185.1 466.62,185.18 466.16,178.85" fill="#808efa" stroke="#808efa"/>
<polygon points="474.26,153.44 474.73,161.55 476.1,162.65 475.67,155.18" fill="#73cefa" stroke="#73cefa"/>
<polygon points="484.28,203.74 489.56,205.11 489.82,204.94 484.53,203.57" fill="#5353b7" stroke="#5353b7"/>
<polygon points="653.03,204.05 665.58,207.11 670.03,203.67 657.51,200.63" fill="#5353b9" stroke="#5353b9"/>
<polygon points="469.54,166.45 469.93,172.71 471.09,174.54 470.73,169.07" fill="#80aefa" stroke="#80aefa"/>
<polygon points="484.02,203.92 489.31,205.28 489.56,205.11 484.28,203.74" fill="#5353b7" stroke="#5353b7"/>
<polygon points="491.45,203.83 496.75,205.19 497.16,204.92 491.86,203.56" fill="#5353b7" stroke="#5353b7"/>
<polygon points="465.6,178.43 466.08,185.02 466.35,185.1 465.88,178.64" fill="#808ffa" stroke="#808ffa"/>
<polygon points="472.19,158.61 472.63,166.02 473.75,167.25 473.34,160.46" fill="#7bc3fa" stroke="#7bc3fa"/>
<polygon points="498.67,203.72 503.98,205.1 504.74,204.49 499.43,203.11" fill="#5353b7" stroke="#5353b7"/>
<polygon points="514.06,202.69 521.17,204.57 522.16,203.78 515.06,201.9" fill="#5353b9" stroke="#5353b9"/>
<polygon points="483.76,204.09 489.05,205.45 489.31,205.28 484.02,203.92" fill="#5353b7" stroke="#5353b7"/>
<polygon points="491.1,204.07 496.39,205.44 496.75,205.19 491.45,203.83" fill="#5353b7" stroke="#5353b7"/>
<polygon points="572.61,202.23 583.43,205.04 585.81,203.32 575,200.52" fill="#5353b8" stroke="#5353b8"/>
<polygon points="545.61,202.31 554.57,204.69 557,202.82 548.05,200.42" fill="#5353ba" stroke="#5353ba"/>
<polygon points="465.32,178.23 465.8,184.94 466.08,185.02 465.6,178.43" fill="#8090fa" stroke="#8090fa"/>
<polygon points="633.82,203.89 648.52,207.5 653.03,204.05 638.37,200.46" fill="#5353b7" stroke="#5353b7"/>
<polygon points="505.74,203.69 511.06,205.07 512.06,204.28 506.74,202.88" fill="#5353b7" stroke="#5353b7"/>
<polygon points="467.12,173.27 467.53,179.48 468.07,179.62 467.67,173.63" fill="#809ffa" stroke="#809ffa"/>
<polygon points="490.84,204.25 496.14,205.61 496.39,205.44 491.1,204.07" fill="#5353b7" stroke="#5353b7"/>
<polygon points="523.41,202.81 530.53,204.7 531.77,203.73 524.65,201.84" fill="#5353b9" stroke="#5353b9"/>
<polygon points="498.17,204.13 503.48,205.5 503.98,205.1 498.67,203.72" fill="#5353b7" stroke="#5353b7"/>
<polygon points="490.59,204.42 495.88,205.78 496.14,205.61 490.84,204.25" fill="#5353b7" stroke="#5353b7"/>
<polygon points="465.04,178.02 465.53,184.86 465.8,184.94 465.32,178.23" fill="#8092fa" stroke="#8092fa"/>
<polygon points="470.3,162.03 470.73,169.07 471.86,170.42 471.47,164.03" fill="#7fbdfa" stroke="#7fbdfa"/>
<polygon points="490.33,204.59 495.63,205.95 495.88,205.78 490.59,204.42" fill="#5353b7" stroke="#5353b7"/>
<polygon points="513.06,203.48 520.17,205.35 521.17,204.57 514.06,202.69" fill="#5353b8" stroke="#5353b8"/>
<polygon points="616.44,204.14 629.24,207.33 633.82,203.89 621.05,200.72" fill="#5353b7" stroke="#5353b7"/>
<polygon points="497.66,204.54 502.97,205.9 503.48,205.5 498.17,204.13" fill="#5353b7" stroke="#5353b7"/>
<polygon points="490.07,204.76 495.38,206.13 495.63,205.95 490.33,204.59" fill="#5353b7" stroke="#5353b7"/>
<polygon points="464.75,177.54 465.25,184.59 465.53,184.86 465.04,178.02" fill="#8093fa" stroke="#8093fa"/>
<polygon points="466.56,172.88 466.99,179.29 467.53,179.48 467.12,173.27" fill="#80a2fa" stroke="#80a2fa"/>
<polygon points="504.74,204.49 510.06,205.87 511.06,205.07 505.74,203.69" fill="#5353b7" stroke="#5353b7"/>
<polygon points="557,202.82 567.8,205.67 570.21,203.95 559.42,201.11" fill="#5353ba" stroke="#5353ba"/>
<polygon points="489.82,204.94 495.12,206.3 495.38,206.13 490.07,204.76" fill="#5353b7" stroke="#5353b7"/>
<polygon points="585.81,203.32 596.69,206.1 599.04,204.38 588.18,201.6" fill="#5353b7" stroke="#5353b7"/>
<polygon points="497.16,204.92 502.47,206.28 502.97,205.9 497.66,204.54" fill="#5353b7" stroke="#5353b7"/>
<polygon points="467.77,166.96 468.26,174.58 469.14,176.3 468.7,169.54" fill="#80affa" stroke="#80affa"/>
<polygon points="489.56,205.11 494.87,206.47 495.12,206.3 489.82,204.94" fill="#5353b7" stroke="#5353b7"/>
<polygon points="522.16,203.78 529.29,205.66 530.53,204.7 523.41,202.81" fill="#5353b9" stroke="#5353b9"/>
<polygon points="599.04,204.38 611.79,207.6 616.44,204.14 603.72,200.95" fill="#5353b7" stroke="#5353b7"/>
<polygon points="531.77,203.73 540.71,206.09 543.17,204.2 534.23,201.82" fill="#5353b9" stroke="#5353b9"/>
<polygon points="464.46,177.06 464.97,184.33 465.25,184.59 464.75,177.54" fill="#8095fa" stroke="#8095fa"/>
<polygon points="512.06,204.28 519.17,206.13 520.17,205.35 513.06,203.48" fill="#5353b8" stroke="#5353b8"/>
<polygon points="496.75,205.19 502.06,206.55 502.47,206.28 497.16,204.92" fill="#5353b7" stroke="#5353b7"/>
<polygon points="489.31,205.28 494.61,206.64 494.87,206.47 489.56,205.11" fill="#5353b7" stroke="#5353b7"/>
<polygon points="472.84,151.7 473.34,160.46 474.73,161.55 474.26,153.44" fill="#6dd7fb" stroke="#6dd7fb"/>
<polygon points="466.11,172.53 466.55,179.1 466.99,179.29 466.56,172.88" fill="#80a4fa" stroke="#80a4fa"/>
<polygon points="503.98,205.1 509.3,206.47 510.06,205.87 504.74,204.49" fill="#5353b7" stroke="#5353b7"/>
<polygon points="489.05,205.45 494.36,206.82 494.61,206.64 489.31,205.28" fill="#5353b7" stroke="#5353b7"/>
<polygon points="496.39,205.44 501.71,206.8 502.06,206.55 496.75,205.19" fill="#5353b7" stroke="#5353b7"/>
<polygon points="470.99,155.77 471.47,164.03 472.63,166.02 472.19,158.61" fill="#74ccfa" stroke="#74ccfa"/>
<polygon points="464.15,176.32 464.68,183.9 464.97,184.33 464.46,177.06" fill="#8098fa" stroke="#8098fa"/>
<polygon points="496.14,205.61 501.45,206.97 501.71,206.8 496.39,205.44" fill="#5353b7" stroke="#5353b7"/>
<polygon points="503.48,205.5 508.8,206.86 509.3,206.47 503.98,205.1" fill="#5353b7" stroke="#5353b7"/>
<polygon points="543.17,204.2 552.14,206.56 554.57,204.69 545.61,202.31" fill="#5353b9" stroke="#5353b9"/>
<polygon points="570.21,203.95 581.05,206.76 583.43,205.04 572.61,202.23" fill="#5353b8" stroke="#5353b8"/>
<polygon points="521.17,204.57 528.3,206.43 529.29,205.66 522.16,203.78" fill="#5353b8" stroke="#5353b8"/>
<polygon points="465.71,172.1 466.16,178.85 466.55,179.1 466.11,172.53" fill="#80a6fa" stroke="#80a6fa"/>
<polygon points="511.06,205.07 518.18,206.92 519.17,206.13 512.06,204.28" fill="#5353b7" stroke="#5353b7"/>
<polygon points="468.25,162.09 468.7,169.54 469.93,172.71 469.54,166.45" fill="#7fbdfa" stroke="#7fbdfa"/>
<polygon points="495.88,205.78 501.2,207.14 501.45,206.97 496.14,205.61" fill="#5353b7" stroke="#5353b7"/>
<polygon points="495.63,205.95 500.94,207.31 501.2,207.14 495.88,205.78" fill="#5353b7" stroke="#5353b7"/>
<polygon points="502.97,205.9 508.3,207.26 508.8,206.86 503.48,205.5" fill="#5353b7" stroke="#5353b7"/>
<polygon points="463.83,175.41 464.38,183.35 464.68,183.9 464.15,176.32" fill="#809bfa" stroke="#809bfa"/>
<polygon points="495.38,206.13 500.69,207.49 500.94,207.31 495.63,205.95" fill="#5353b7" stroke="#5353b7"/>
<polygon points="465.43,171.76 465.88,178.64 466.16,178.85 465.71,172.1" fill="#80a8fa" stroke="#80a8fa"/>
<polygon points="467.16,165.51 467.67,173.63 468.26,174.58 467.77,166.96" fill="#80b7fa" stroke="#80b7fa"/>
<polygon points="530.53,204.7 539.48,207.04 540.71,206.09 531.77,203.73" fill="#5353b8" stroke="#5353b8"/>
<polygon points="495.12,206.3 500.44,207.66 500.69,207.49 495.38,206.13" fill="#5353b7" stroke="#5353b7"/>
<polygon points="469.05,158.37 469.54,166.45 470.73,169.07 470.3,162.03" fill="#78c7fa" stroke="#78c7fa"/>
<polygon points="502.47,206.28 507.79,207.64 508.3,207.26 502.97,205.9" fill="#5353b7" stroke="#5353b7"/>
<polygon points="520.17,205.35 527.31,207.21 528.3,206.43 521.17,204.57" fill="#5353b8" stroke="#5353b8"/>
<polygon points="510.06,205.87 517.17,207.7 518.18,206.92 511.06,205.07" fill="#5353b7" stroke="#5353b7"/>
<polygon points="494.87,206.47 500.18,207.83 500.44,207.66 495.12,206.3" fill="#5353b7" stroke="#5353b7"/>
<polygon points="554.57,204.69 565.38,207.52 567.8,205.67 557,202.82" fill="#5353b9" stroke="#5353b9"/>
<polygon points="465.14,171.42 465.6,178.43 465.88,178.64 465.43,171.76" fill="#80aafa" stroke="#80aafa"/>
<polygon points="583.43,205.04 594.32,207.83 596.69,206.1 585.81,203.32" fill="#5353b7" stroke="#5353b7"/>
<polygon points="502.06,206.55 507.39,207.91 507.79,207.64 502.47,206.28" fill="#5353b7" stroke="#5353b7"/>
<polygon points="494.61,206.64 499.93,208.01 500.18,207.83 494.87,206.47" fill="#5353b7" stroke="#5353b7"/>
<polygon points="494.36,206.82 499.67,208.18 499.93,208.01 494.61,206.64" fill="#5353b7" stroke="#5353b7"/>
<polygon points="501.71,206.8 507.03,208.16 507.39,207.91 502.06,206.55" fill="#5353b7" stroke="#5353b7"/>
<polygon points="464.85,171.08 465.32,178.23 465.6,178.43 465.14,171.42" fill="#80acfa" stroke="#80acfa"/>
<polygon points="509.3,206.47 516.42,208.29 517.17,207.7 510.06,205.87" fill="#5353b7" stroke="#5353b7"/>
<polygon points="519.17,206.13 526.31,207.98 527.31,207.21 520.17,205.35" fill="#5353b7" stroke="#5353b7"/>
<polygon points="471.65,149.04 472.19,158.61 473.34,160.46 472.84,151.7" fill="#67e2fb" stroke="#67e2fb"/>
<polygon points="466.59,164.87 467.12,173.27 467.67,173.63 467.16,165.51" fill="#80bcfa" stroke="#80bcfa"/>
<polygon points="501.45,206.97 506.78,208.33 507.03,208.16 501.71,206.8" fill="#5353b7" stroke="#5353b7"/>
<polygon points="529.29,205.66 538.25,208 539.48,207.04 530.53,204.7" fill="#5353b8" stroke="#5353b8"/>
<polygon points="648.52,207.5 661.11,210.59 665.58,207.11 653.03,204.05" fill="#5353b7" stroke="#5353b7"/>
<polygon points="464.57,170.74 465.04,178.02 465.32,178.23 464.85,171.08" fill="#80aefa" stroke="#80aefa"/>
<polygon points="501.2,207.14 506.53,208.5 506.78,208.33 501.45,206.97" fill="#5353b7" stroke="#5353b7"/>
<polygon points="540.71,206.09 549.69,208.44 552.14,206.56 543.17,204.2" fill="#5353b8" stroke="#5353b8"/>
<polygon points="508.8,206.86 515.92,208.68 516.42,208.29 509.3,206.47" fill="#5353b7" stroke="#5353b7"/>
<polygon points="500.94,207.31 506.27,208.68 506.53,208.5 501.2,207.14" fill="#5353b7" stroke="#5353b7"/>
<polygon points="567.8,205.67 578.66,208.5 581.05,206.76 570.21,203.95" fill="#5353b8" stroke="#5353b8"/>
<polygon points="469.77,152.93 470.3,162.03 471.47,164.03 470.99,155.77" fill="#6dd8fb" stroke="#6dd8fb"/>
<polygon points="500.69,207.49 506.02,208.85 506.27,208.68 500.94,207.31" fill="#5353b7" stroke="#5353b7"/>
<polygon points="464.26,170.02 464.75,177.54 465.04,178.02 464.57,170.74" fill="#80b0fa" stroke="#80b0fa"/>
<polygon points="629.24,207.33 643.98,210.98 648.52,207.5 633.82,203.89" fill="#5353b7" stroke="#5353b7"/>
<polygon points="518.18,206.92 525.32,208.76 526.31,207.98 519.17,206.13" fill="#5353b7" stroke="#5353b7"/>
<polygon points="596.69,206.1 609.45,209.33 611.79,207.6 599.04,204.38" fill="#5353b7" stroke="#5353b7"/>
<polygon points="508.3,207.26 515.42,209.08 515.92,208.68 508.8,206.86" fill="#5353b7" stroke="#5353b7"/>
<polygon points="466.02,164.18 466.56,172.88 467.12,173.27 466.59,164.87" fill="#7ebffa" stroke="#7ebffa"/>
<polygon points="500.44,207.66 505.77,209.02 506.02,208.85 500.69,207.49" fill="#5353b7" stroke="#5353b7"/>
<polygon points="528.3,206.43 537.26,208.76 538.25,208 529.29,205.66" fill="#5353b7" stroke="#5353b7"/>
<polygon points="500.18,207.83 505.51,209.2 505.77,209.02 500.44,207.66" fill="#5353b7" stroke="#5353b7"/>
<polygon points="467.27,158.57 467.77,166.96 468.7,169.54 468.25,162.09" fill="#76cafa" stroke="#76cafa"/>
<polygon points="507.79,207.64 514.92,209.45 515.42,209.08 508.3,207.26" fill="#5353b7" stroke="#5353b7"/>
<polygon points="611.79,207.6 624.63,210.81 629.24,207.33 616.44,204.14" fill="#5353b7" stroke="#5353b7"/>
<polygon points="499.93,208.01 505.26,209.37 505.51,209.2 500.18,207.83" fill="#5353b7" stroke="#5353b7"/>
<polygon points="463.95,169.3 464.46,177.06 464.75,177.54 464.26,170.02" fill="#80b3fa" stroke="#80b3fa"/>
<polygon points="552.14,206.56 562.96,209.38 565.38,207.52 554.57,204.69" fill="#5353b8" stroke="#5353b8"/>
<polygon points="499.67,208.18 505.01,209.55 505.26,209.37 499.93,208.01" fill="#5353b7" stroke="#5353b7"/>
<polygon points="507.39,207.91 514.51,209.73 514.92,209.45 507.79,207.64" fill="#5353b7" stroke="#5353b7"/>
<polygon points="517.17,207.7 524.32,209.53 525.32,208.76 518.18,206.92" fill="#5353b7" stroke="#5353b7"/>
<polygon points="581.05,206.76 591.95,209.57 594.32,207.83 583.43,205.04" fill="#5353b7" stroke="#5353b7"/>
<polygon points="465.56,163.61 466.11,172.53 466.56,172.88 466.02,164.18" fill="#7cc1fa" stroke="#7cc1fa"/>
<polygon points="527.31,207.21 536.27,209.52 537.26,208.76 528.3,206.43" fill="#5353b7" stroke="#5353b7"/>
<polygon points="507.03,208.16 514.16,209.97 514.51,209.73 507.39,207.91" fill="#5353b7" stroke="#5353b7"/>
<polygon points="539.48,207.04 548.47,209.38 549.69,208.44 540.71,206.09" fill="#5353b8" stroke="#5353b8"/>
<polygon points="463.63,168.24 464.15,176.32 464.46,177.06 463.95,169.3" fill="#80b7fa" stroke="#80b7fa"/>
<polygon points="506.78,208.33 513.91,210.15 514.16,209.97 507.03,208.16" fill="#5353b7" stroke="#5353b7"/>
<polygon points="516.42,208.29 523.57,210.12 524.32,209.53 517.17,207.7" fill="#5353b7" stroke="#5353b7"/>
<polygon points="467.69,152.48 468.25,162.09 469.54,166.45 469.05,158.37" fill="#6cd9fb" stroke="#6cd9fb"/>
<polygon points="506.53,208.5 513.66,210.32 513.91,210.15 506.78,208.33" fill="#5353b7" stroke="#5353b7"/>
<polygon points="465.15,162.94 465.71,172.1 466.11,172.53 465.56,163.61" fill="#7ac4fa" stroke="#7ac4fa"/>
<polygon points="506.27,208.68 513.4,210.49 513.66,210.32 506.53,208.5" fill="#5353b7" stroke="#5353b7"/>
<polygon points="470.38,145.1 470.99,155.77 472.19,158.61 471.65,149.04" fill="#65f3f0" stroke="#65f3f0"/>
<polygon points="526.31,207.98 535.28,210.29 536.27,209.52 527.31,207.21" fill="#5353b7" stroke="#5353b7"/>
<polygon points="565.38,207.52 576.25,210.34 578.66,208.5 567.8,205.67" fill="#5353b8" stroke="#5353b8"/>
<polygon points="506.02,208.85 513.15,210.67 513.4,210.49 506.27,208.68" fill="#5353b7" stroke="#5353b7"/>
<polygon points="515.92,208.68 523.07,210.51 523.57,210.12 516.42,208.29" fill="#5353b7" stroke="#5353b7"/>
<polygon points="463.29,166.95 463.83,175.41 464.15,176.32 463.63,168.24" fill="#80bcfa" stroke="#80bcfa"/>
<polygon points="538.25,208 547.24,210.32 548.47,209.38 539.48,207.04" fill="#5353b7" stroke="#5353b7"/>
<polygon points="464.85,162.42 465.43,171.76 465.71,172.1 465.15,162.94" fill="#78c6fa" stroke="#78c6fa"/>
<polygon points="594.32,207.83 607.11,211.07 609.45,209.33 596.69,206.1" fill="#5353b7" stroke="#5353b7"/>
<polygon points="505.77,209.02 512.9,210.84 513.15,210.67 506.02,208.85" fill="#5353b7" stroke="#5353b7"/>
<polygon points="466.63,156.56 467.16,165.51 467.77,166.96 467.27,158.57" fill="#6fd4fb" stroke="#6fd4fb"/>
<polygon points="515.42,209.08 522.57,210.9 523.07,210.51 515.92,208.68" fill="#5353b7" stroke="#5353b7"/>
<polygon points="505.51,209.2 512.65,211.02 512.9,210.84 505.77,209.02" fill="#5353b7" stroke="#5353b7"/>
<polygon points="468.45,147.93 469.05,158.37 470.3,162.03 469.77,152.93" fill="#63eaf8" stroke="#63eaf8"/>
<polygon points="505.26,209.37 512.39,211.19 512.65,211.02 505.51,209.2" fill="#5353b7" stroke="#5353b7"/>
<polygon points="525.32,208.76 534.28,211.06 535.28,210.29 526.31,207.98" fill="#5353b7" stroke="#5353b7"/>
<polygon points="464.55,161.89 465.14,171.42 465.43,171.76 464.85,162.42" fill="#77c8fa" stroke="#77c8fa"/>
<polygon points="549.69,208.44 560.53,211.24 562.96,209.38 552.14,206.56" fill="#5353b8" stroke="#5353b8"/>
<polygon points="514.92,209.45 522.07,211.26 522.57,210.9 515.42,209.08" fill="#5353b7" stroke="#5353b7"/>
<polygon points="505.01,209.55 512.14,211.37 512.39,211.19 505.26,209.37" fill="#5353b7" stroke="#5353b7"/>
<polygon points="578.66,208.5 589.57,211.31 591.95,209.57 581.05,206.76" fill="#5353b7" stroke="#5353b7"/>
<polygon points="537.26,208.76 546.25,211.08 547.24,210.32 538.25,208" fill="#5353b7" stroke="#5353b7"/>
<polygon points="514.51,209.73 521.67,211.54 522.07,211.26 514.92,209.45" fill="#5353b7" stroke="#5353b7"/>
<polygon points="464.25,161.37 464.85,171.08 465.14,171.42 464.55,161.89" fill="#76cafa" stroke="#76cafa"/>
<polygon points="524.32,209.53 533.29,211.82 534.28,211.06 525.32,208.76" fill="#5353b7" stroke="#5353b7"/>
<polygon points="514.16,209.97 521.32,211.79 521.67,211.54 514.51,209.73" fill="#5353b7" stroke="#5353b7"/>
<polygon points="466.04,155.59 466.59,164.87 467.16,165.51 466.63,156.56" fill="#6bdbfb" stroke="#6bdbfb"/>
<polygon points="463.96,160.84 464.57,170.74 464.85,171.08 464.25,161.37" fill="#74ccfa" stroke="#74ccfa"/>
<polygon points="513.91,210.15 521.06,211.96 521.32,211.79 514.16,209.97" fill="#5353b7" stroke="#5353b7"/>
<polygon points="609.45,209.33 622.31,212.56 624.63,210.81 611.79,207.6" fill="#5353b7" stroke="#5353b7"/>
<polygon points="643.98,210.98 656.6,214.08 661.11,210.59 648.52,207.5" fill="#5353b7" stroke="#5353b7"/>
<polygon points="536.27,209.52 545.27,211.84 546.25,211.08 537.26,208.76" fill="#5353b7" stroke="#5353b7"/>
<polygon points="513.66,210.32 520.81,212.14 521.06,211.96 513.91,210.15" fill="#5353b7" stroke="#5353b7"/>
<polygon points="562.96,209.38 573.84,212.18 576.25,210.34 565.38,207.52" fill="#5353b7" stroke="#5353b7"/>
<polygon points="523.57,210.12 532.54,212.4 533.29,211.82 524.32,209.53" fill="#5353b7" stroke="#5353b7"/>
<polygon points="513.4,210.49 520.56,212.31 520.81,212.14 513.66,210.32" fill="#5353b7" stroke="#5353b7"/>
<polygon points="548.47,209.38 559.31,212.17 560.53,211.24 549.69,208.44" fill="#5353b7" stroke="#5353b7"/>
<polygon points="463.63,159.81 464.26,170.02 464.57,170.74 463.96,160.84" fill="#72cffa" stroke="#72cffa"/>
<polygon points="513.15,210.67 520.31,212.49 520.56,212.31 513.4,210.49" fill="#5353b7" stroke="#5353b7"/>
<polygon points="591.95,209.57 604.75,212.82 607.11,211.07 594.32,207.83" fill="#5353b7" stroke="#5353b7"/>
<polygon points="624.63,210.81 639.4,214.48 643.98,210.98 629.24,207.33" fill="#5353b7" stroke="#5353b7"/>
<polygon points="465.45,154.59 466.02,164.18 466.59,164.87 466.04,155.59" fill="#68e0fb" stroke="#68e0fb"/>
<polygon points="512.9,210.84 520.06,212.66 520.31,212.49 513.15,210.67" fill="#5353b7" stroke="#5353b7"/>
<polygon points="469.11,141.15 469.77,152.93 470.99,155.77 470.38,145.1" fill="#6dfcde" stroke="#6dfcde"/>
<polygon points="523.07,210.51 532.04,212.78 532.54,212.4 523.57,210.12" fill="#5353b7" stroke="#5353b7"/>
<polygon points="535.28,210.29 544.28,212.59 545.27,211.84 536.27,209.52" fill="#5353b7" stroke="#5353b7"/>
<polygon points="512.65,211.02 519.81,212.84 520.06,212.66 512.9,210.84" fill="#5353b7" stroke="#5353b7"/>
<polygon points="466.64,147.71 467.27,158.57 468.25,162.09 467.69,152.48" fill="#64f0f2" stroke="#64f0f2"/>
<polygon points="512.39,211.19 519.55,213.01 519.81,212.84 512.65,211.02" fill="#5353b7" stroke="#5353b7"/>
<polygon points="522.57,210.9 531.55,213.17 532.04,212.78 523.07,210.51" fill="#5353b7" stroke="#5353b7"/>
<polygon points="463.31,158.77 463.95,169.3 464.26,170.02 463.63,159.81" fill="#70d3fb" stroke="#70d3fb"/>
<polygon points="576.25,210.34 587.18,213.14 589.57,211.31 578.66,208.5" fill="#5353b7" stroke="#5353b7"/>
<polygon points="512.14,211.37 519.3,213.19 519.55,213.01 512.39,211.19" fill="#5353b7" stroke="#5353b7"/>
<polygon points="547.24,210.32 558.08,213.11 559.31,212.17 548.47,209.38" fill="#5353b7" stroke="#5353b7"/>
<polygon points="522.07,211.26 531.05,213.54 531.55,213.17 522.57,210.9" fill="#5353b7" stroke="#5353b7"/>
<polygon points="464.97,153.77 465.56,163.61 466.02,164.18 465.45,154.59" fill="#66e5fb" stroke="#66e5fb"/>
<polygon points="534.28,211.06 543.29,213.35 544.28,212.59 535.28,210.29" fill="#5353b7" stroke="#5353b7"/>
<polygon points="521.67,211.54 530.65,213.82 531.05,213.54 522.07,211.26" fill="#5353b7" stroke="#5353b7"/>
<polygon points="462.96,157.27 463.63,168.24 463.95,169.3 463.31,158.77" fill="#6dd8fb" stroke="#6dd8fb"/>
<polygon points="607.11,211.07 619.98,214.31 622.31,212.56 609.45,209.33" fill="#5353b7" stroke="#5353b7"/>
<polygon points="560.53,211.24 571.42,214.03 573.84,212.18 562.96,209.38" fill="#5353b7" stroke="#5353b7"/>
<polygon points="521.32,211.79 530.3,214.06 530.65,213.82 521.67,211.54" fill="#5353b7" stroke="#5353b7"/>
<polygon points="546.25,211.08 557.1,213.86 558.08,213.11 547.24,210.32" fill="#5353b7" stroke="#5353b7"/>
<polygon points="464.55,152.83 465.15,162.94 465.56,163.61 464.97,153.77" fill="#63e9f8" stroke="#63e9f8"/>
<polygon points="533.29,211.82 542.3,214.11 543.29,213.35 534.28,211.06" fill="#5353b7" stroke="#5353b7"/>
<polygon points="521.06,211.96 530.05,214.24 530.3,214.06 521.32,211.79" fill="#5353b7" stroke="#5353b7"/>
<polygon points="466.98,140.03 467.69,152.48 469.05,158.37 468.45,147.93" fill="#6efcdd" stroke="#6efcdd"/>
<polygon points="589.57,211.31 602.39,214.58 604.75,212.82 591.95,209.57" fill="#5353b7" stroke="#5353b7"/>
<polygon points="520.81,212.14 529.8,214.41 530.05,214.24 521.06,211.96" fill="#5353b7" stroke="#5353b7"/>
<polygon points="520.56,212.31 529.55,214.59 529.8,214.41 520.81,212.14" fill="#5353b7" stroke="#5353b7"/>
<polygon points="462.59,155.44 463.29,166.95 463.63,168.24 462.96,157.27" fill="#69dffb" stroke="#69dffb"/>
<polygon points="464.24,152.11 464.85,162.42 465.15,162.94 464.55,152.83" fill="#63eef5" stroke="#63eef5"/>
<polygon points="520.31,212.49 529.29,214.77 529.55,214.59 520.56,212.31" fill="#5353b7" stroke="#5353b7"/>
<polygon points="545.27,211.84 556.12,214.61 557.1,213.86 546.25,211.08" fill="#5353b7" stroke="#5353b7"/>
<polygon points="532.54,212.4 541.56,214.69 542.3,214.11 533.29,211.82" fill="#5353b7" stroke="#5353b7"/>
<polygon points="465.96,144.97 466.63,156.56 467.27,158.57 466.64,147.71" fill="#6bfce2" stroke="#6bfce2"/>
<polygon points="520.06,212.66 529.04,214.94 529.29,214.77 520.31,212.49" fill="#5353b7" stroke="#5353b7"/>
<polygon points="573.84,212.18 584.79,214.98 587.18,213.14 576.25,210.34" fill="#5353b7" stroke="#5353b7"/>
<polygon points="519.81,212.84 528.79,215.12 529.04,214.94 520.06,212.66" fill="#5353b7" stroke="#5353b7"/>
<polygon points="532.04,212.78 541.06,215.07 541.56,214.69 532.54,212.4" fill="#5353b7" stroke="#5353b7"/>
<polygon points="463.93,151.38 464.55,161.89 464.85,162.42 464.24,152.11" fill="#64f2f1" stroke="#64f2f1"/>
<polygon points="559.31,212.17 570.21,214.96 571.42,214.03 560.53,211.24" fill="#5353b7" stroke="#5353b7"/>
<polygon points="519.55,213.01 528.54,215.29 528.79,215.12 519.81,212.84" fill="#5353b7" stroke="#5353b7"/>
<polygon points="622.31,212.56 637.1,216.24 639.4,214.48 624.63,210.81" fill="#5353b7" stroke="#5353b7"/>
<polygon points="544.28,212.59 555.14,215.36 556.12,214.61 545.27,211.84" fill="#5353b7" stroke="#5353b7"/>
<polygon points="519.3,213.19 528.29,215.47 528.54,215.29 519.55,213.01" fill="#5353b7" stroke="#5353b7"/>
<polygon points="531.55,213.17 540.56,215.45 541.06,215.07 532.04,212.78" fill="#5353b7" stroke="#5353b7"/>
<polygon points="467.7,134.4 468.45,147.93 469.77,152.93 469.11,141.15" fill="#83fcc7" stroke="#83fcc7"/>
<polygon points="604.75,212.82 617.64,216.07 619.98,214.31 607.11,211.07" fill="#5353b7" stroke="#5353b7"/>
<polygon points="463.62,150.65 464.25,161.37 464.55,161.89 463.93,151.38" fill="#66f6ee" stroke="#66f6ee"/>
<polygon points="639.4,214.48 652.05,217.61 656.6,214.08 643.98,210.98" fill="#5353b7" stroke="#5353b7"/>
<polygon points="531.05,213.54 540.07,215.81 540.56,215.45 531.55,213.17" fill="#5353b7" stroke="#5353b7"/>
<polygon points="558.08,213.11 568.99,215.89 570.21,214.96 559.31,212.17" fill="#5353b7" stroke="#5353b7"/>
<polygon points="465.35,143.59 466.04,155.59 466.63,156.56 465.96,144.97" fill="#71fcd9" stroke="#71fcd9"/>
<polygon points="543.29,213.35 554.16,216.11 555.14,215.36 544.28,212.59" fill="#5353b7" stroke="#5353b7"/>
<polygon points="587.18,213.14 600.02,216.4 602.39,214.58 589.57,211.31" fill="#5353b7" stroke="#5353b7"/>
<polygon points="530.65,213.82 539.67,216.1 540.07,215.81 531.05,213.54" fill="#5353b7" stroke="#5353b7"/>
<polygon points="463.31,149.92 463.96,160.84 464.25,161.37 463.62,150.65" fill="#67faeb" stroke="#67faeb"/>
<polygon points="530.3,214.06 539.32,216.34 539.67,216.1 530.65,213.82" fill="#5353b7" stroke="#5353b7"/>
<polygon points="530.05,214.24 539.07,216.52 539.32,216.34 530.3,214.06" fill="#5353b7" stroke="#5353b7"/>
<polygon points="571.42,214.03 582.38,216.82 584.79,214.98 573.84,212.18" fill="#5353b7" stroke="#5353b7"/>
<polygon points="542.3,214.11 553.17,216.87 554.16,216.11 543.29,213.35" fill="#5353b7" stroke="#5353b7"/>
<polygon points="529.8,214.41 538.82,216.7 539.07,216.52 530.05,214.24" fill="#5353b7" stroke="#5353b7"/>
<polygon points="462.97,148.53 463.63,159.81 463.96,160.84 463.31,149.92" fill="#69fbe6" stroke="#69fbe6"/>
<polygon points="557.1,213.86 568.02,216.63 568.99,215.89 558.08,213.11" fill="#5353b7" stroke="#5353b7"/>
<polygon points="529.55,214.59 538.57,216.87 538.82,216.7 529.8,214.41" fill="#5353b7" stroke="#5353b7"/>
<polygon points="464.73,142.18 465.45,154.59 466.04,155.59 465.35,143.59" fill="#78fcd2" stroke="#78fcd2"/>
<polygon points="619.98,214.31 634.79,218.01 637.1,216.24 622.31,212.56" fill="#5353b7" stroke="#5353b7"/>
<polygon points="529.29,214.77 538.32,217.05 538.57,216.87 529.55,214.59" fill="#5353b7" stroke="#5353b7"/>
<polygon points="529.04,214.94 538.07,217.23 538.32,217.05 529.29,214.77" fill="#5353b7" stroke="#5353b7"/>
<polygon points="541.56,214.69 552.43,217.43 553.17,216.87 542.3,214.11" fill="#5353b7" stroke="#5353b7"/>
<polygon points="602.39,214.58 615.29,217.84 617.64,216.07 604.75,212.82" fill="#5353b7" stroke="#5353b7"/>
<polygon points="528.79,215.12 537.82,217.4 538.07,217.23 529.04,214.94" fill="#5353b7" stroke="#5353b7"/>
<polygon points="462.62,147.14 463.31,158.77 463.63,159.81 462.97,148.53" fill="#6cfce0" stroke="#6cfce0"/>
<polygon points="556.12,214.61 567.04,217.38 568.02,216.63 557.1,213.86" fill="#5353b7" stroke="#5353b7"/>
<polygon points="465.85,133.64 466.64,147.71 467.69,152.48 466.98,140.03" fill="#8bfcbf" stroke="#8bfcbf"/>
<polygon points="528.54,215.29 537.57,217.58 537.82,217.4 528.79,215.12" fill="#5353b7" stroke="#5353b7"/>
<polygon points="541.06,215.07 551.94,217.81 552.43,217.43 541.56,214.69" fill="#5353b7" stroke="#5353b7"/>
<polygon points="528.29,215.47 537.32,217.76 537.57,217.58 528.54,215.29" fill="#5353b7" stroke="#5353b7"/>
<polygon points="584.79,214.98 597.63,218.24 600.02,216.4 587.18,213.14" fill="#5353b7" stroke="#5353b7"/>
<polygon points="464.24,141.03 464.97,153.77 465.45,154.59 464.73,142.18" fill="#7efccc" stroke="#7efccc"/>
<polygon points="570.21,214.96 581.17,217.75 582.38,216.82 571.42,214.03" fill="#5353b7" stroke="#5353b7"/>
<polygon points="540.56,215.45 551.44,218.19 551.94,217.81 541.06,215.07" fill="#5353b7" stroke="#5353b7"/>
<polygon points="555.14,215.36 566.07,218.13 567.04,217.38 556.12,214.61" fill="#5353b7" stroke="#5353b7"/>
<polygon points="462.25,145.13 462.96,157.27 463.31,158.77 462.62,147.14" fill="#72fcd8" stroke="#72fcd8"/>
<polygon points="637.1,216.24 649.77,219.38 652.05,217.61 639.4,214.48" fill="#5353b7" stroke="#5353b7"/>
<polygon points="540.07,215.81 550.95,218.56 551.44,218.19 540.56,215.45" fill="#5353b7" stroke="#5353b7"/>
<polygon points="463.79,139.74 464.55,152.83 464.97,153.77 464.24,141.03" fill="#83fcc6" stroke="#83fcc6"/>
<polygon points="539.67,216.1 550.55,218.84 550.95,218.56 540.07,215.81" fill="#5353b7" stroke="#5353b7"/>
<polygon points="568.99,215.89 579.96,218.67 581.17,217.75 570.21,214.96" fill="#5353b7" stroke="#5353b7"/>
<polygon points="617.64,216.07 632.47,219.79 634.79,218.01 619.98,214.31" fill="#5353b7" stroke="#5353b7"/>
<polygon points="554.16,216.11 565.09,218.88 566.07,218.13 555.14,215.36" fill="#5353b7" stroke="#5353b7"/>
<polygon points="539.32,216.34 550.21,219.09 550.55,218.84 539.67,216.1" fill="#5353b7" stroke="#5353b7"/>
<polygon points="600.02,216.4 612.93,219.66 615.29,217.84 602.39,214.58" fill="#5353b7" stroke="#5353b7"/>
<polygon points="539.07,216.52 549.96,219.27 550.21,219.09 539.32,216.34" fill="#5353b7" stroke="#5353b7"/>
<polygon points="463.47,138.75 464.24,152.11 464.55,152.83 463.79,139.74" fill="#89fcc1" stroke="#89fcc1"/>
<polygon points="461.85,142.72 462.59,155.44 462.96,157.27 462.25,145.13" fill="#7bfccf" stroke="#7bfccf"/>
<polygon points="538.82,216.7 549.71,219.44 549.96,219.27 539.07,216.52" fill="#5353b7" stroke="#5353b7"/>
<polygon points="466.09,123.86 466.98,140.03 468.45,147.93 467.7,134.4" fill="#a7fca3" stroke="#a7fca3"/>
<polygon points="553.17,216.87 564.11,219.63 565.09,218.88 554.16,216.11" fill="#5353b7" stroke="#5353b7"/>
<polygon points="538.57,216.87 549.46,219.62 549.71,219.44 538.82,216.7" fill="#5353b7" stroke="#5353b7"/>
<polygon points="582.38,216.82 595.24,220.08 597.63,218.24 584.79,214.98" fill="#5353b7" stroke="#5353b7"/>
<polygon points="568.02,216.63 578.99,219.41 579.96,218.67 568.99,215.89" fill="#5353b7" stroke="#5353b7"/>
<polygon points="538.32,217.05 549.22,219.8 549.46,219.62 538.57,216.87" fill="#5353b7" stroke="#5353b7"/>
<polygon points="538.07,217.23 548.97,219.98 549.22,219.8 538.32,217.05" fill="#5353b7" stroke="#5353b7"/>
<polygon points="463.15,137.75 463.93,151.38 464.24,152.11 463.47,138.75" fill="#8dfcbd" stroke="#8dfcbd"/>
<polygon points="465.12,129.95 465.96,144.97 466.64,147.71 465.85,133.64" fill="#a0fcaa" stroke="#a0fcaa"/>
<polygon points="537.82,217.4 548.72,220.15 548.97,219.98 538.07,217.23" fill="#5353b7" stroke="#5353b7"/>
<polygon points="552.43,217.43 563.37,220.19 564.11,219.63 553.17,216.87" fill="#5353b7" stroke="#5353b7"/>
<polygon points="634.79,218.01 647.47,221.16 649.77,219.38 637.1,216.24" fill="#5353b7" stroke="#5353b7"/>
<polygon points="537.57,217.58 548.47,220.33 548.72,220.15 537.82,217.4" fill="#5353b7" stroke="#5353b7"/>
<polygon points="567.04,217.38 578.02,220.16 578.99,219.41 568.02,216.63" fill="#5353b7" stroke="#5353b7"/>
<polygon points="537.32,217.76 548.22,220.51 548.47,220.33 537.57,217.58" fill="#5353b7" stroke="#5353b7"/>
<polygon points="462.82,136.76 463.62,150.65 463.93,151.38 463.15,137.75" fill="#91fcb8" stroke="#91fcb8"/>
<polygon points="551.94,217.81 562.88,220.57 563.37,220.19 552.43,217.43" fill="#5353b7" stroke="#5353b7"/>
<polygon points="615.29,217.84 630.14,221.57 632.47,219.79 617.64,216.07" fill="#5353b7" stroke="#5353b7"/>
<polygon points="581.17,217.75 594.04,221 595.24,220.08 582.38,216.82" fill="#5353b7" stroke="#5353b7"/>
<polygon points="551.44,218.19 562.39,220.94 562.88,220.57 551.94,217.81" fill="#5353b7" stroke="#5353b7"/>
<polygon points="597.63,218.24 610.57,221.5 612.93,219.66 600.02,216.4" fill="#5353b7" stroke="#5353b7"/>
<polygon points="566.07,218.13 577.05,220.9 578.02,220.16 567.04,217.38" fill="#5353b7" stroke="#5353b7"/>
<polygon points="462.5,135.76 463.31,149.92 463.62,150.65 462.82,136.76" fill="#96fcb4" stroke="#96fcb4"/>
<polygon points="550.95,218.56 561.9,221.31 562.39,220.94 551.44,218.19" fill="#5353b7" stroke="#5353b7"/>
<polygon points="464.48,128.01 465.35,143.59 465.96,144.97 465.12,129.95" fill="#acfc9e" stroke="#acfc9e"/>
<polygon points="550.55,218.84 561.5,221.59 561.9,221.31 550.95,218.56" fill="#5353b7" stroke="#5353b7"/>
<polygon points="565.09,218.88 576.08,221.65 577.05,220.9 566.07,218.13" fill="#5353b7" stroke="#5353b7"/>
<polygon points="579.96,218.67 592.84,221.92 594.04,221 581.17,217.75" fill="#5353b7" stroke="#5353b7"/>
<polygon points="462.13,133.9 462.97,148.53 463.31,149.92 462.5,135.76" fill="#9cfcae" stroke="#9cfcae"/>
<polygon points="550.21,219.09 561.16,221.84 561.5,221.59 550.55,218.84" fill="#5353b7" stroke="#5353b7"/>
<polygon points="632.47,219.79 645.17,222.95 647.47,221.16 634.79,218.01" fill="#5353b7" stroke="#5353b7"/>
<polygon points="549.96,219.27 560.91,222.02 561.16,221.84 550.21,219.09" fill="#5353b7" stroke="#5353b7"/>
<polygon points="549.71,219.44 560.66,222.2 560.91,222.02 549.96,219.27" fill="#5353b7" stroke="#5353b7"/>
<polygon points="564.11,219.63 575.1,222.39 576.08,221.65 565.09,218.88" fill="#5353b7" stroke="#5353b7"/>
<polygon points="549.46,219.62 560.42,222.38 560.66,222.2 549.71,219.44" fill="#5353b7" stroke="#5353b7"/>
<polygon points="612.93,219.66 627.8,223.39 630.14,221.57 615.29,217.84" fill="#5353b7" stroke="#5353b7"/>
<polygon points="463.83,126.06 464.73,142.18 465.35,143.59 464.48,128.01" fill="#b5fc95" stroke="#b5fc95"/>
<polygon points="578.99,219.41 591.88,222.66 592.84,221.92 579.96,218.67" fill="#5353b7" stroke="#5353b7"/>
<polygon points="549.22,219.8 560.17,222.56 560.42,222.38 549.46,219.62" fill="#5353b7" stroke="#5353b7"/>
<polygon points="595.24,220.08 608.19,223.33 610.57,221.5 597.63,218.24" fill="#5353b7" stroke="#5353b7"/>
<polygon points="461.76,132.04 462.62,147.14 462.97,148.53 462.13,133.9" fill="#a4fca6" stroke="#a4fca6"/>
<polygon points="548.97,219.98 559.92,222.74 560.17,222.56 549.22,219.8" fill="#5353b7" stroke="#5353b7"/>
<polygon points="548.72,220.15 559.68,222.92 559.92,222.74 548.97,219.98" fill="#5353b7" stroke="#5353b7"/>
<polygon points="563.37,220.19 574.37,222.96 575.1,222.39 564.11,219.63" fill="#5353b7" stroke="#5353b7"/>
<polygon points="548.47,220.33 559.43,223.09 559.68,222.92 548.72,220.15" fill="#5353b7" stroke="#5353b7"/>
<polygon points="578.02,220.16 590.92,223.4 591.88,222.66 578.99,219.41" fill="#5353b7" stroke="#5353b7"/>
<polygon points="548.22,220.51 559.18,223.27 559.43,223.09 548.47,220.33" fill="#5353b7" stroke="#5353b7"/>
<polygon points="562.88,220.57 573.88,223.33 574.37,222.96 563.37,220.19" fill="#5353b7" stroke="#5353b7"/>
<polygon points="464.85,115.35 465.85,133.64 466.98,140.03 466.09,123.86" fill="#cdfc7d" stroke="#cdfc7d"/>
<polygon points="463.31,124.48 464.24,141.03 464.73,142.18 463.83,126.06" fill="#bdfc8d" stroke="#bdfc8d"/>
<polygon points="461.35,129.38 462.25,145.13 462.62,147.14 461.76,132.04" fill="#adfc9d" stroke="#adfc9d"/>
<polygon points="562.39,220.94 573.39,223.7 573.88,223.33 562.88,220.57" fill="#5353b7" stroke="#5353b7"/>
<polygon points="630.14,221.57 642.86,224.74 645.17,222.95 632.47,219.79" fill="#5353b7" stroke="#5353b7"/>
<polygon points="577.05,220.9 589.95,224.15 590.92,223.4 578.02,220.16" fill="#5353b7" stroke="#5353b7"/>
<polygon points="594.04,221 607,224.26 608.19,223.33 595.24,220.08" fill="#5353b7" stroke="#5353b7"/>
<polygon points="561.9,221.31 572.91,224.07 573.39,223.7 562.39,220.94" fill="#5353b7" stroke="#5353b7"/>
<polygon points="610.57,221.5 625.46,225.23 627.8,223.39 612.93,219.66" fill="#5353b7" stroke="#5353b7"/>
<polygon points="561.5,221.59 572.51,224.36 572.91,224.07 561.9,221.31" fill="#5353b7" stroke="#5353b7"/>
<polygon points="462.84,122.74 463.79,139.74 464.24,141.03 463.31,124.48" fill="#c4fc86" stroke="#c4fc86"/>
<polygon points="576.08,221.65 588.98,224.89 589.95,224.15 577.05,220.9" fill="#5353b7" stroke="#5353b7"/>
<polygon points="561.16,221.84 572.17,224.61 572.51,224.36 561.5,221.59" fill="#5353b7" stroke="#5353b7"/>
<polygon points="560.91,222.02 571.93,224.79 572.17,224.61 561.16,221.84" fill="#5353b7" stroke="#5353b7"/>
<polygon points="592.84,221.92 605.81,225.18 607,224.26 594.04,221" fill="#5353b7" stroke="#5353b7"/>
<polygon points="460.91,126.19 461.85,142.72 462.25,145.13 461.35,129.38" fill="#b9fc91" stroke="#b9fc91"/>
<polygon points="560.66,222.2 571.68,224.97 571.93,224.79 560.91,222.02" fill="#5353b7" stroke="#5353b7"/>
<polygon points="560.42,222.38 571.44,225.15 571.68,224.97 560.66,222.2" fill="#5353b7" stroke="#5353b7"/>
<polygon points="462.5,121.39 463.47,138.75 463.79,139.74 462.84,122.74" fill="#cafc7f" stroke="#cafc7f"/>
<polygon points="575.1,222.39 588.02,225.64 588.98,224.89 576.08,221.65" fill="#5353b7" stroke="#5353b7"/>
<polygon points="560.17,222.56 571.19,225.33 571.44,225.15 560.42,222.38" fill="#5353b7" stroke="#5353b7"/>
<polygon points="559.92,222.74 570.94,225.51 571.19,225.33 560.17,222.56" fill="#5353b7" stroke="#5353b7"/>
<polygon points="627.8,223.39 640.54,226.57 642.86,224.74 630.14,221.57" fill="#5353b7" stroke="#5353b7"/>
<polygon points="591.88,222.66 604.85,225.92 605.81,225.18 592.84,221.92" fill="#5353b7" stroke="#5353b7"/>
<polygon points="559.68,222.92 570.7,225.69 570.94,225.51 559.92,222.74" fill="#5353b7" stroke="#5353b7"/>
<polygon points="559.43,223.09 570.45,225.87 570.7,225.69 559.68,222.92" fill="#5353b7" stroke="#5353b7"/>
<polygon points="574.37,222.96 587.29,226.2 588.02,225.64 575.1,222.39" fill="#5353b7" stroke="#5353b7"/>
<polygon points="462.15,120.05 463.15,137.75 463.47,138.75 462.5,121.39" fill="#d0fc7a" stroke="#d0fc7a"/>
<polygon points="608.19,223.33 623.1,227.07 625.46,225.23 610.57,221.5" fill="#5353b7" stroke="#5353b7"/>
<polygon points="559.18,223.27 570.21,226.05 570.45,225.87 559.43,223.09" fill="#5353b7" stroke="#5353b7"/>
<polygon points="573.88,223.33 586.8,226.57 587.29,226.2 574.37,222.96" fill="#5353b7" stroke="#5353b7"/>
<polygon points="590.92,223.4 603.9,226.66 604.85,225.92 591.88,222.66" fill="#5353b7" stroke="#5353b7"/>
<polygon points="464.05,110.4 465.12,129.95 465.85,133.64 464.85,115.35" fill="#e8fc61" stroke="#e8fc61"/>
<polygon points="461.81,118.7 462.82,136.76 463.15,137.75 462.15,120.05" fill="#d6fc74" stroke="#d6fc74"/>
<polygon points="573.39,223.7 586.32,226.94 586.8,226.57 573.88,223.33" fill="#5353b7" stroke="#5353b7"/>
<polygon points="572.91,224.07 585.83,227.31 586.32,226.94 573.39,223.7" fill="#5353b7" stroke="#5353b7"/>
<polygon points="589.95,224.15 602.94,227.4 603.9,226.66 590.92,223.4" fill="#5353b7" stroke="#5353b7"/>
<polygon points="607,224.26 621.92,227.99 623.1,227.07 608.19,223.33" fill="#5353b7" stroke="#5353b7"/>
<polygon points="461.46,117.34 462.5,135.76 462.82,136.76 461.81,118.7" fill="#dcfc6e" stroke="#dcfc6e"/>
<polygon points="572.51,224.36 585.44,227.6 585.83,227.31 572.91,224.07" fill="#5353b7" stroke="#5353b7"/>
<polygon points="625.46,225.23 638.21,228.41 640.54,226.57 627.8,223.39" fill="#5353b7" stroke="#5353b7"/>
<polygon points="572.17,224.61 585.1,227.85 585.44,227.6 572.51,224.36" fill="#5353b7" stroke="#5353b7"/>
<polygon points="588.98,224.89 601.98,228.15 602.94,227.4 589.95,224.15" fill="#5353b7" stroke="#5353b7"/>
<polygon points="571.93,224.79 584.86,228.03 585.1,227.85 572.17,224.61" fill="#5353b7" stroke="#5353b7"/>
<polygon points="571.68,224.97 584.61,228.21 584.86,228.03 571.93,224.79" fill="#5353b7" stroke="#5353b7"/>
<polygon points="463.37,107.74 464.48,128.01 465.12,129.95 464.05,110.4" fill="#f8f453" stroke="#f8f453"/>
<polygon points="571.44,225.15 584.37,228.39 584.61,228.21 571.68,224.97" fill="#5353b7" stroke="#5353b7"/>
<polygon points="605.81,225.18 620.74,228.92 621.92,227.99 607,224.26" fill="#5353b7" stroke="#5353b7"/>
<polygon points="461.06,114.87 462.13,133.9 462.5,135.76 461.46,117.34" fill="#e4fc66" stroke="#e4fc66"/>
<polygon points="571.19,225.33 584.13,228.58 584.37,228.39 571.44,225.15" fill="#5353b7" stroke="#5353b7"/>
<polygon points="588.02,225.64 601.02,228.89 601.98,228.15 588.98,224.89" fill="#5353b7" stroke="#5353b7"/>
<polygon points="570.94,225.51 583.88,228.76 584.13,228.58 571.19,225.33" fill="#5353b7" stroke="#5353b7"/>
<polygon points="570.7,225.69 583.64,228.94 583.88,228.76 570.94,225.51" fill="#5353b7" stroke="#5353b7"/>
<polygon points="570.45,225.87 583.4,229.12 583.64,228.94 570.7,225.69" fill="#5353b7" stroke="#5353b7"/>
<polygon points="604.85,225.92 619.79,229.66 620.74,228.92 605.81,225.18" fill="#5353b7" stroke="#5353b7"/>
<polygon points="570.21,226.05 583.15,229.3 583.4,229.12 570.45,225.87" fill="#5353b7" stroke="#5353b7"/>
<polygon points="587.29,226.2 600.29,229.45 601.02,228.89 588.02,225.64" fill="#5353b7" stroke="#5353b7"/>
<polygon points="623.1,227.07 635.87,230.26 638.21,228.41 625.46,225.23" fill="#5353b7" stroke="#5353b7"/>
<polygon points="460.66,112.4 461.76,132.04 462.13,133.9 461.06,114.87" fill="#eefc5c" stroke="#eefc5c"/>
<polygon points="462.68,105.06 463.83,126.06 464.48,128.01 463.37,107.74" fill="#fce753" stroke="#fce753"/>
<polygon points="586.8,226.57 599.81,229.82 600.29,229.45 587.29,226.2" fill="#5353b7" stroke="#5353b7"/>
<polygon points="603.9,226.66 618.84,230.4 619.79,229.66 604.85,225.92" fill="#5353b7" stroke="#5353b7"/>
<polygon points="586.32,226.94 599.33,230.2 599.81,229.82 586.8,226.57" fill="#5353b7" stroke="#5353b7"/>
<polygon points="585.83,227.31 598.85,230.57 599.33,230.2 586.32,226.94" fill="#5353b7" stroke="#5353b7"/>
<polygon points="602.94,227.4 617.89,231.14 618.84,230.4 603.9,226.66" fill="#5353b7" stroke="#5353b7"/>
<polygon points="460.2,108.88 461.35,129.38 461.76,132.04 460.66,112.4" fill="#f9f253" stroke="#f9f253"/>
<polygon points="621.92,227.99 634.69,231.18 635.87,230.26 623.1,227.07" fill="#5353b7" stroke="#5353b7"/>
<polygon points="585.44,227.6 598.46,230.86 598.85,230.57 585.83,227.31" fill="#5353b7" stroke="#5353b7"/>
<polygon points="462.13,102.92 463.31,124.48 463.83,126.06 462.68,105.06" fill="#fcdb53" stroke="#fcdb53"/>
<polygon points="585.1,227.85 598.12,231.11 598.46,230.86 585.44,227.6" fill="#5353b7" stroke="#5353b7"/>
<polygon points="584.86,228.03 597.88,231.29 598.12,231.11 585.1,227.85" fill="#5353b7" stroke="#5353b7"/>
<polygon points="601.98,228.15 616.94,231.89 617.89,231.14 602.94,227.4" fill="#5353b7" stroke="#5353b7"/>
<polygon points="584.61,228.21 597.64,231.48 597.88,231.29 584.86,228.03" fill="#5353b7" stroke="#5353b7"/>
<polygon points="584.37,228.39 597.4,231.66 597.64,231.48 584.61,228.21" fill="#5353b7" stroke="#5353b7"/>
<polygon points="620.74,228.92 633.52,232.11 634.69,231.18 621.92,227.99" fill="#5353b7" stroke="#5353b7"/>
<polygon points="584.13,228.58 597.15,231.84 597.4,231.66 584.37,228.39" fill="#5353b7" stroke="#5353b7"/>
<polygon points="583.88,228.76 596.91,232.02 597.15,231.84 584.13,228.58" fill="#5353b7" stroke="#5353b7"/>
<polygon points="461.63,100.58 462.84,122.74 463.31,124.48 462.13,102.92" fill="#fcd053" stroke="#fcd053"/>
<polygon points="601.02,228.89 615.98,232.63 616.94,231.89 601.98,228.15" fill="#5353b7" stroke="#5353b7"/>
<polygon points="583.64,228.94 596.67,232.21 596.91,232.02 583.88,228.76" fill="#5353b7" stroke="#5353b7"/>
<polygon points="459.71,104.66 460.91,126.19 461.35,129.38 460.2,108.88" fill="#fce053" stroke="#fce053"/>
<polygon points="583.4,229.12 596.43,232.39 596.67,232.21 583.64,228.94" fill="#5353b7" stroke="#5353b7"/>
<polygon points="619.79,229.66 632.58,232.85 633.52,232.11 620.74,228.92" fill="#5353b7" stroke="#5353b7"/>
<polygon points="583.15,229.3 596.18,232.57 596.43,232.39 583.4,229.12" fill="#5353b7" stroke="#5353b7"/>
<polygon points="600.29,229.45 615.27,233.19 615.98,232.63 601.02,228.89" fill="#5353b7" stroke="#5353b7"/>
<polygon points="461.26,98.76 462.5,121.39 462.84,122.74 461.63,100.58" fill="#fcc753" stroke="#fcc753"/>
<polygon points="599.81,229.82 614.79,233.57 615.27,233.19 600.29,229.45" fill="#5353b7" stroke="#5353b7"/>
<polygon points="618.84,230.4 631.63,233.59 632.58,232.85 619.79,229.66" fill="#5353b7" stroke="#5353b7"/>
<polygon points="599.33,230.2 614.31,233.94 614.79,233.57 599.81,229.82" fill="#5353b7" stroke="#5353b7"/>
<polygon points="460.89,96.95 462.15,120.05 462.5,121.39 461.26,98.76" fill="#fcbe53" stroke="#fcbe53"/>
<polygon points="598.85,230.57 613.83,234.31 614.31,233.94 599.33,230.2" fill="#5353b7" stroke="#5353b7"/>
<polygon points="617.89,231.14 630.69,234.34 631.63,233.59 618.84,230.4" fill="#5353b7" stroke="#5353b7"/>
<polygon points="598.46,230.86 613.45,234.61 613.83,234.31 598.85,230.57" fill="#5353b7" stroke="#5353b7"/>
<polygon points="598.12,231.11 613.11,234.86 613.45,234.61 598.46,230.86" fill="#5353b7" stroke="#5353b7"/>
<polygon points="616.94,231.89 629.74,235.09 630.69,234.34 617.89,231.14" fill="#5353b7" stroke="#5353b7"/>
<polygon points="460.51,95.13 461.81,118.7 462.15,120.05 460.89,96.95" fill="#fcb653" stroke="#fcb653"/>
<polygon points="597.88,231.29 612.87,235.05 613.11,234.86 598.12,231.11" fill="#5353b7" stroke="#5353b7"/>
<polygon points="597.64,231.48 612.63,235.23 612.87,235.05 597.88,231.29" fill="#5353b7" stroke="#5353b7"/>
<polygon points="597.4,231.66 612.39,235.41 612.63,235.23 597.64,231.48" fill="#5353b7" stroke="#5353b7"/>
<polygon points="597.15,231.84 612.15,235.6 612.39,235.41 597.4,231.66" fill="#5353b7" stroke="#5353b7"/>
<polygon points="615.98,232.63 628.8,235.83 629.74,235.09 616.94,231.89" fill="#5353b7" stroke="#5353b7"/>
<polygon points="596.91,232.02 611.91,235.78 612.15,235.6 597.15,231.84" fill="#5353b7" stroke="#5353b7"/>
<polygon points="460.14,93.31 461.46,117.34 461.81,118.7 460.51,95.13" fill="#fcad53" stroke="#fcad53"/>
<polygon points="596.67,232.21 611.67,235.96 611.91,235.78 596.91,232.02" fill="#5353b7" stroke="#5353b7"/>
<polygon points="596.43,232.39 611.43,236.15 611.67,235.96 596.67,232.21" fill="#5353b7" stroke="#5353b7"/>
<polygon points="596.18,232.57 611.19,236.33 611.43,236.15 596.43,232.39" fill="#5353b7" stroke="#5353b7"/>
<polygon points="615.27,233.19 628.08,236.39 628.8,235.83 615.98,232.63" fill="#5353b7" stroke="#5353b7"/>
<polygon points="614.79,233.57 627.61,236.77 628.08,236.39 615.27,233.19" fill="#5353b7" stroke="#5353b7"/>
<polygon points="459.7,90.02 461.06,114.87 461.46,117.34 460.14,93.31" fill="#fca253" stroke="#fca253"/>
<polygon points="614.31,233.94 627.13,237.14 627.61,236.77 614.79,233.57" fill="#5353b7" stroke="#5353b7"/>
<polygon points="613.83,234.31 626.66,237.52 627.13,237.14 614.31,233.94" fill="#5353b7" stroke="#5353b7"/>
<polygon points="613.45,234.61 626.28,237.81 626.66,237.52 613.83,234.31" fill="#5353b7" stroke="#5353b7"/>
<polygon points="613.11,234.86 625.95,238.07 626.28,237.81 613.45,234.61" fill="#5353b7" stroke="#5353b7"/>
<polygon points="459.25,86.72 460.66,112.4 461.06,114.87 459.7,90.02" fill="#fc9353" stroke="#fc9353"/>
<polygon points="612.87,235.05 625.71,238.26 625.95,238.07 613.11,234.86" fill="#5353b7" stroke="#5353b7"/>
<polygon points="612.63,235.23 625.47,238.44 625.71,238.26 612.87,235.05" fill="#5353b7" stroke="#5353b7"/>
<polygon points="612.39,235.41 625.23,238.62 625.47,238.44 612.63,235.23" fill="#5353b7" stroke="#5353b7"/>
<polygon points="612.15,235.6 624.99,238.81 625.23,238.62 612.39,235.41" fill="#5353b7" stroke="#5353b7"/>
<polygon points="611.91,235.78 624.75,238.99 624.99,238.81 612.15,235.6" fill="#5353b7" stroke="#5353b7"/>
<polygon points="611.67,235.96 624.52,239.18 624.75,238.99 611.91,235.78" fill="#5353b7" stroke="#5353b7"/>
<polygon points="611.43,236.15 624.28,239.37 624.52,239.18 611.67,235.96" fill="#5353b7" stroke="#5353b7"/>
<polygon points="611.19,236.33 624.04,239.55 624.28,239.37 611.43,236.15" fill="#5353b7" stroke="#5353b7"/>
<polygon points="458.73,82.06 460.2,108.88 460.66,112.4 459.25,86.72" fill="#fc8153" stroke="#fc8153"/>
<polygon points="458.16,76.48 459.71,104.66 460.2,108.88 458.73,82.06" fill="#fc6b53" stroke="#fc6b53"/>
</g>
<clipPath id="clipR"><polygon points="521.23,161.9 526.27,163.47 531.32,165.01 536.38,166.52 541.46,168.01 546.54,169.47 551.64,170.91 556.75,172.33 561.87,173.73 567.01,175.12 572.16,176.5 577.32,177.87 582.5,179.22 587.69,180.57 592.89,181.91 598.11,183.24 603.34,184.57 608.59,185.89 613.85,187.21 619.12,188.52 624.41,189.84 629.72,191.15 635.03,192.46 640.37,193.76 645.72,195.07 651.08,196.38 656.45,197.68 661.85,198.99 667.25,200.3 672.68,201.61 672.68,201.61 674.1,200.5 675.53,199.4 676.95,198.3 678.36,197.2 679.78,196.1 681.19,195.01 682.59,193.92 683.99,192.83 685.39,191.74 686.79,190.66 688.18,189.58 689.57,188.5 690.96,187.43 692.34,186.35 693.72,185.28 695.1,184.22 696.47,183.15 697.84,182.09 699.21,181.03 700.57,179.97 701.93,178.92 703.29,177.86 704.64,176.81 705.99,175.77 707.34,174.72 708.68,173.68 710.03,172.64 711.36,171.6 712.7,170.56 712.7,170.56 707.41,169.34 702.13,168.12 696.86,166.9 691.61,165.67 686.38,164.45 681.16,163.23 675.95,162.01 670.75,160.78 665.57,159.55 660.41,158.33 655.25,157.09 650.12,155.86 644.99,154.62 639.88,153.38 634.78,152.13 629.7,150.87 624.62,149.6 619.56,148.33 614.52,147.05 609.49,145.75 604.47,144.44 599.46,143.12 594.46,141.78 589.48,140.43 584.51,139.05 579.55,137.65 574.6,136.22 569.67,134.77 564.74,133.28 564.74,133.28 563.29,134.24 561.83,135.2 560.37,136.16 558.91,137.12 557.44,138.08 555.97,139.05 554.5,140.02 553.03,140.99 551.55,141.96 550.06,142.94 548.58,143.92 547.09,144.9 545.59,145.88 544.1,146.86 542.6,147.85 541.09,148.84 539.59,149.83 538.08,150.82 536.56,151.82 535.05,152.82 533.53,153.82 532,154.82 530.47,155.83 528.94,156.83 527.41,157.84 525.87,158.85 524.33,159.87 522.78,160.88 521.23,161.9"/></clipPath>
<path clip-path="url(#clipR)" d="M481.23,133.28 L517.19,201.61 M486.63,133.28 L522.59,201.61 M492.03,133.28 L527.99,201.61 M497.43,133.28 L533.39,201.61 M502.83,133.28 L538.79,201.61 M508.23,133.28 L544.19,201.61 M513.63,133.28 L549.59,201.61 M519.03,133.28 L554.99,201.61 M524.43,133.28 L560.39,201.61 M529.83,133.28 L565.79,201.61 M535.23,133.28 L571.19,201.61 M540.63,133.28 L576.59,201.61 M546.03,133.28 L581.99,201.61 M551.43,133.28 L587.39,201.61 M556.83,133.28 L592.79,201.61 M562.23,133.28 L598.19,201.61 M567.63,133.28 L603.59,201.61 M573.03,133.28 L608.99,201.61 M578.43,133.28 L614.39,201.61 M583.83,133.28 L619.79,201.61 M589.23,133.28 L625.19,201.61 M594.63,133.28 L630.59,201.61 M600.03,133.28 L635.99,201.61 M605.43,133.28 L641.39,201.61 M610.83,133.28 L646.79,201.61 M616.23,133.28 L652.19,201.61 M621.63,133.28 L657.59,201.61 M627.03,133.28 L662.99,201.61 M632.43,133.28 L668.39,201.61 M637.83,133.28 L673.79,201.61 M643.23,133.28 L679.19,201.61 M648.63,133.28 L684.59,201.61 M654.03,133.28 L689.99,201.61 M659.43,133.28 L695.39,201.61 M664.83,133.28 L700.79,201.61 M670.23,133.28 L706.19,201.61 M675.63,133.28 L711.59,201.61 M681.03,133.28 L716.99,201.61 M686.43,133.28 L722.39,201.61 M691.83,133.28 L727.79,201.61 M697.23,133.28 L733.19,201.61 M702.63,133.28 L738.59,201.61 M708.03,133.28 L743.99,201.61 M713.43,133.28 L749.39,201.61 M718.83,133.28 L754.79,201.61" stroke="#202080" stroke-opacity="0.17" stroke-width="2.6" fill="none"/>
<rect x="15" y="73.2" width="13.4" height="134.5" fill="url(#jet)" stroke="#000" stroke-width="0.8"/>
<text x="33.4" y="194.21" font-size="8.6" text-anchor="start">40<tspan dx="-1.07">,</tspan><tspan dx="-1.07">000</tspan></text>
<text x="33.4" y="178.53" font-size="8.6" text-anchor="start">80<tspan dx="-1.07">,</tspan><tspan dx="-1.07">000</tspan></text>
<text x="33.4" y="162.84" font-size="8.6" text-anchor="start">120<tspan dx="-1.07">,</tspan><tspan dx="-1.07">000</tspan></text>
<text x="33.4" y="147.16" font-size="8.6" text-anchor="start">160<tspan dx="-1.07">,</tspan><tspan dx="-1.07">000</tspan></text>
<text x="33.4" y="131.47" font-size="8.6" text-anchor="start">200<tspan dx="-1.07">,</tspan><tspan dx="-1.07">000</tspan></text>
<text x="33.4" y="115.79" font-size="8.6" text-anchor="start">240<tspan dx="-1.07">,</tspan><tspan dx="-1.07">000</tspan></text>
<text x="33.4" y="100.1" font-size="8.6" text-anchor="start">280<tspan dx="-1.07">,</tspan><tspan dx="-1.07">000</tspan></text>
<text x="33.4" y="84.42" font-size="8.6" text-anchor="start">320<tspan dx="-1.07">,</tspan><tspan dx="-1.07">000</tspan></text>
<path d="M24.4,192.01 L28.4,192.01 M24.4,176.33 L28.4,176.33 M24.4,160.64 L28.4,160.64 M24.4,144.96 L28.4,144.96 M24.4,129.27 L28.4,129.27 M24.4,113.59 L28.4,113.59 M24.4,97.9 L28.4,97.9 M24.4,82.22 L28.4,82.22" stroke="#000" stroke-width="0.8"/>
<rect x="403.2" y="72.9" width="12.6" height="134.2" fill="url(#jet)" stroke="#000" stroke-width="0.8"/>
<text x="420.8" y="192.2" font-size="8.6" text-anchor="start">20<tspan dx="-1.07">,</tspan><tspan dx="-1.07">000</tspan></text>
<text x="420.8" y="175.11" font-size="8.6" text-anchor="start">40<tspan dx="-1.07">,</tspan><tspan dx="-1.07">000</tspan></text>
<text x="420.8" y="158.01" font-size="8.6" text-anchor="start">60<tspan dx="-1.07">,</tspan><tspan dx="-1.07">000</tspan></text>
<text x="420.8" y="140.92" font-size="8.6" text-anchor="start">80<tspan dx="-1.07">,</tspan><tspan dx="-1.07">000</tspan></text>
<text x="420.8" y="123.82" font-size="8.6" text-anchor="start">100<tspan dx="-1.07">,</tspan><tspan dx="-1.07">000</tspan></text>
<text x="420.8" y="106.73" font-size="8.6" text-anchor="start">120<tspan dx="-1.07">,</tspan><tspan dx="-1.07">000</tspan></text>
<text x="420.8" y="89.63" font-size="8.6" text-anchor="start">140<tspan dx="-1.07">,</tspan><tspan dx="-1.07">000</tspan></text>
<path d="M411.8,190 L415.8,190 M411.8,172.91 L415.8,172.91 M411.8,155.81 L415.8,155.81 M411.8,138.72 L415.8,138.72 M411.8,121.62 L415.8,121.62 M411.8,104.53 L415.8,104.53 M411.8,87.43 L415.8,87.43" stroke="#000" stroke-width="0.8"/>
<text x="136" y="258.5" font-size="11" font-style="italic" text-anchor="middle" transform="rotate(14 136 255)">F, N</text>
<text x="526" y="258.5" font-size="11" font-style="italic" text-anchor="middle" transform="rotate(14 526 255)">F, N</text>
<text x="313.5" y="238.5" font-size="11" text-anchor="middle" transform="rotate(-38 313.5 235)"><tspan font-style="italic">f</tspan>, Hz</text>
<text x="703.5" y="238.5" font-size="11" text-anchor="middle" transform="rotate(-38 703.5 235)"><tspan font-style="italic">f</tspan>, Hz</text>
<text x="372.3" y="113" font-size="11" text-anchor="middle" transform="rotate(-90 372.3 109)"><tspan font-style="italic">C</tspan>, pF</text>
<text x="763.3" y="111" font-size="11" text-anchor="middle" transform="rotate(-90 763.3 107)"><tspan font-style="italic">R</tspan>, &#937;</text>
<text x="0" y="0" font-size="23" text-anchor="middle" transform="translate(19.9 28.5) scale(0.78 1)">1</text>
<text x="0" y="0" font-size="24" text-anchor="middle" transform="translate(407.85 28.2) scale(0.91 1)">2</text>
</svg></body></html>
